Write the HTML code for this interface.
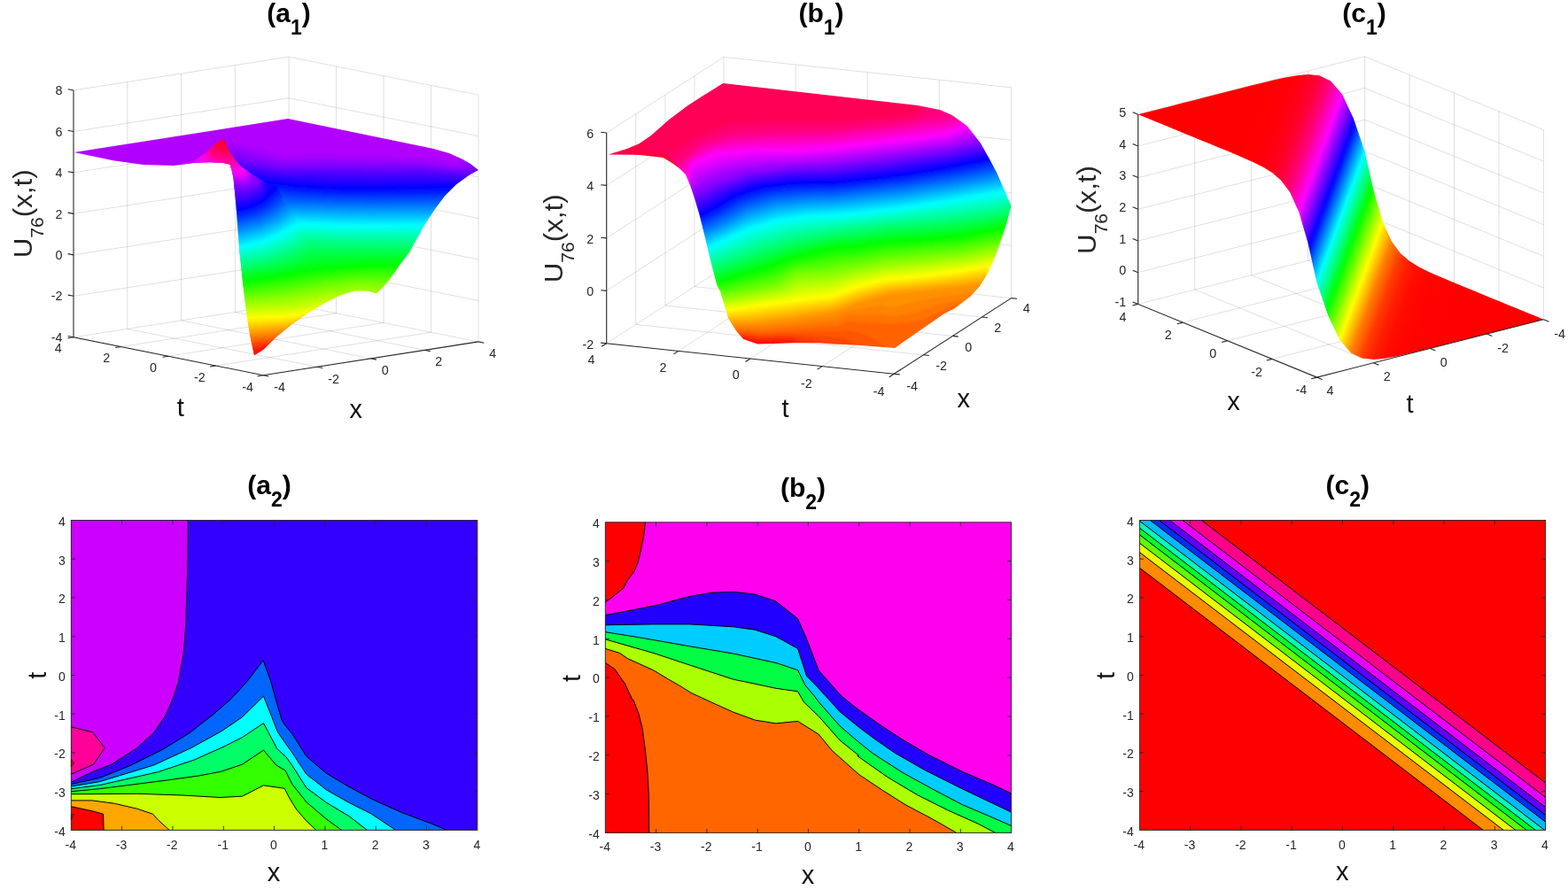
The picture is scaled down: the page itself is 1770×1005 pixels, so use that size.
<!DOCTYPE html>
<html lang="en"><head><meta charset="utf-8"><title>U76(x,t) surface and contour plots</title>
<style>html,body{margin:0;padding:0;background:#fff;}svg{display:block;font-family:'Liberation Sans', Arial, Helvetica, sans-serif;}</style></head>
<body>
<svg width="1770" height="1005" viewBox="0 0 1770 1005" role="img" aria-label="Surface and contour plots of U76(x,t)">
<rect width="1770" height="1005" fill="#fff"/>
<defs><mask id="a1s" maskUnits="userSpaceOnUse" x="76" y="126" width="472" height="282"><polygon points="83.7,171.9 325,134.1 489.5,167.9 507.6,173.3 522,179.7 531.1,185.1 540.1,192 529.3,198.1 514.8,208.6 502.1,221.2 491.3,235.7 480.5,252 471.4,268.2 462.4,284.5 451.5,298.8 438.9,316.9 425.3,331.4 413.6,328.6 400.9,328.6 384.6,333.2 366.6,342.2 348.5,353.1 330.4,365.7 312.3,380.2 297.9,394.6 287,401 282.5,380.2 278.9,358.5 274.4,322.3 270.7,286.2 271.1,293.6 268.9,264.6 266.2,228.5 263.5,201.4 262,193.7 259.6,185.7 251.6,184.1 235.7,183.3 218.2,184.1 195.9,186.9 161.7,185.9 127.8,181.2" fill="#fff"/></mask>
<filter id="a1sf" x="-5%" y="-5%" width="110%" height="110%"><feGaussianBlur stdDeviation="1.3"/></filter>
<mask id="a1p" maskUnits="userSpaceOnUse" x="190" y="150" width="200" height="258"><polygon points="252.4,157.1 259.6,171.4 264.4,179.3 271.5,187.3 283.5,196.1 299.4,205.6 312.3,211.3 325,233 337.6,252.9 348.5,273.7 375.6,302.8 366.6,325.9 348.5,345.8 336.7,355.8 312.3,377.5 294.2,396.8 287,401 282.5,380.2 278.9,358.5 274.4,322.3 270.7,286.2 271.1,293.6 268.9,264.6 266.2,228.5 263.5,201.4 262,193.7 259.6,185.7 251.6,184.1 235.7,183.3 218.2,184.1 195.9,186.9 203.9,185.7 218.2,181.7 230.9,173.8 242.1,163.4" fill="#fff"/></mask>
<filter id="a1pf" x="-5%" y="-5%" width="110%" height="110%"><feGaussianBlur stdDeviation="1.0"/></filter>
<mask id="b1s" maskUnits="userSpaceOnUse" x="680" y="88" width="468" height="312"><polygon points="686.6,174.4 707.8,168.1 721.4,162.2 734.9,152.9 755.3,135.1 775.6,119.8 792.5,108.8 816.3,94.1 1035.6,119 1061,124.1 1074.6,130 1091.5,141.9 1106.8,161.4 1118.6,182.5 1111.9,170 1125.4,195.4 1133.9,214.9 1141.5,232.7 1135.6,254.7 1128.8,275.1 1122.4,292 1115.8,307.3 1105.8,323.4 1094.9,335.3 1078,348 1066.1,353.9 1010.2,392.9 967.8,389.8 925.4,387.8 940,387.3 894.2,387.3 873.9,388.1 855.3,388.6 839.2,383.1 831.5,374.2 822.2,359.8 818,345.4 812.9,328.5 809.5,322.5 802.7,297.1 795.9,268.3 789.2,241.2 784.1,224.2 779,209 773.9,197.1 767.1,190.3 758.6,183.6 750.2,177.6 731.5,175.6 716.3,174.7" fill="#fff"/></mask>
<filter id="b1sf" x="-5%" y="-5%" width="110%" height="110%"><feGaussianBlur stdDeviation="1.3"/></filter>
<linearGradient id="c1g" gradientUnits="userSpaceOnUse" x1="1274.3" y1="157.6" x2="1752.8" y2="332.3"><stop offset="0.0000" stop-color="#ff0000"/><stop offset="0.0642" stop-color="#ff0000"/><stop offset="0.1284" stop-color="#ff0000"/><stop offset="0.1926" stop-color="#ff0000"/><stop offset="0.2570" stop-color="#ff0003"/><stop offset="0.2598" stop-color="#ff0003"/><stop offset="0.2627" stop-color="#ff0003"/><stop offset="0.2656" stop-color="#ff0004"/><stop offset="0.2685" stop-color="#ff0004"/><stop offset="0.2714" stop-color="#ff0005"/><stop offset="0.2743" stop-color="#ff0005"/><stop offset="0.2772" stop-color="#ff0005"/><stop offset="0.2801" stop-color="#ff0006"/><stop offset="0.2830" stop-color="#ff0007"/><stop offset="0.2860" stop-color="#ff0008"/><stop offset="0.2889" stop-color="#ff0009"/><stop offset="0.2919" stop-color="#ff000a"/><stop offset="0.2948" stop-color="#ff000b"/><stop offset="0.2977" stop-color="#ff000c"/><stop offset="0.3007" stop-color="#ff000c"/><stop offset="0.3037" stop-color="#ff000e"/><stop offset="0.3068" stop-color="#ff0010"/><stop offset="0.3098" stop-color="#ff0013"/><stop offset="0.3128" stop-color="#ff0015"/><stop offset="0.3159" stop-color="#ff0017"/><stop offset="0.3189" stop-color="#ff0019"/><stop offset="0.3220" stop-color="#ff001b"/><stop offset="0.3251" stop-color="#ff001e"/><stop offset="0.3284" stop-color="#ff0022"/><stop offset="0.3316" stop-color="#ff0026"/><stop offset="0.3349" stop-color="#ff002b"/><stop offset="0.3382" stop-color="#ff002f"/><stop offset="0.3414" stop-color="#ff0033"/><stop offset="0.3447" stop-color="#ff0038"/><stop offset="0.3479" stop-color="#ff003c"/><stop offset="0.3516" stop-color="#ff0045"/><stop offset="0.3553" stop-color="#ff004e"/><stop offset="0.3590" stop-color="#ff0057"/><stop offset="0.3627" stop-color="#ff0060"/><stop offset="0.3664" stop-color="#ff0069"/><stop offset="0.3701" stop-color="#ff0072"/><stop offset="0.3738" stop-color="#ff007b"/><stop offset="0.3779" stop-color="#ff0088"/><stop offset="0.3824" stop-color="#ff0099"/><stop offset="0.3869" stop-color="#ff00ab"/><stop offset="0.3914" stop-color="#ff00bc"/><stop offset="0.3959" stop-color="#ff00cd"/><stop offset="0.4003" stop-color="#ff00de"/><stop offset="0.4048" stop-color="#ff00f0"/><stop offset="0.4093" stop-color="#fd00ff"/><stop offset="0.4149" stop-color="#e000ff"/><stop offset="0.4205" stop-color="#c300ff"/><stop offset="0.4261" stop-color="#a600ff"/><stop offset="0.4316" stop-color="#8900ff"/><stop offset="0.4372" stop-color="#6c00ff"/><stop offset="0.4428" stop-color="#4f00ff"/><stop offset="0.4484" stop-color="#3200ff"/><stop offset="0.4544" stop-color="#1000ff"/><stop offset="0.4610" stop-color="#0016ff"/><stop offset="0.4675" stop-color="#003dff"/><stop offset="0.4740" stop-color="#0064ff"/><stop offset="0.4805" stop-color="#008bff"/><stop offset="0.4870" stop-color="#00b1ff"/><stop offset="0.4935" stop-color="#00d8ff"/><stop offset="0.5000" stop-color="#00ffff"/><stop offset="0.5065" stop-color="#00ffd8"/><stop offset="0.5130" stop-color="#00ffb1"/><stop offset="0.5195" stop-color="#00ff8b"/><stop offset="0.5260" stop-color="#00ff64"/><stop offset="0.5325" stop-color="#00ff3d"/><stop offset="0.5390" stop-color="#00ff16"/><stop offset="0.5456" stop-color="#10ff00"/><stop offset="0.5516" stop-color="#32ff00"/><stop offset="0.5572" stop-color="#4fff00"/><stop offset="0.5628" stop-color="#6cff00"/><stop offset="0.5684" stop-color="#89ff00"/><stop offset="0.5739" stop-color="#a6ff00"/><stop offset="0.5795" stop-color="#c3ff00"/><stop offset="0.5851" stop-color="#e0ff00"/><stop offset="0.5907" stop-color="#fdff00"/><stop offset="0.5952" stop-color="#fff000"/><stop offset="0.5997" stop-color="#ffde00"/><stop offset="0.6041" stop-color="#ffcd00"/><stop offset="0.6086" stop-color="#ffbc00"/><stop offset="0.6131" stop-color="#ffab00"/><stop offset="0.6176" stop-color="#ff9900"/><stop offset="0.6221" stop-color="#ff8800"/><stop offset="0.6262" stop-color="#ff7b00"/><stop offset="0.6299" stop-color="#ff7200"/><stop offset="0.6336" stop-color="#ff6900"/><stop offset="0.6373" stop-color="#ff6000"/><stop offset="0.6410" stop-color="#ff5700"/><stop offset="0.6447" stop-color="#ff4e00"/><stop offset="0.6484" stop-color="#ff4500"/><stop offset="0.6521" stop-color="#ff3c00"/><stop offset="0.6553" stop-color="#ff3800"/><stop offset="0.6586" stop-color="#ff3300"/><stop offset="0.6618" stop-color="#ff2f00"/><stop offset="0.6651" stop-color="#ff2b00"/><stop offset="0.6684" stop-color="#ff2600"/><stop offset="0.6716" stop-color="#ff2200"/><stop offset="0.6749" stop-color="#ff1e00"/><stop offset="0.6780" stop-color="#ff1b00"/><stop offset="0.6811" stop-color="#ff1900"/><stop offset="0.6841" stop-color="#ff1700"/><stop offset="0.6872" stop-color="#ff1500"/><stop offset="0.6902" stop-color="#ff1300"/><stop offset="0.6932" stop-color="#ff1000"/><stop offset="0.6963" stop-color="#ff0e00"/><stop offset="0.6993" stop-color="#ff0c00"/><stop offset="0.7023" stop-color="#ff0c00"/><stop offset="0.7052" stop-color="#ff0b00"/><stop offset="0.7081" stop-color="#ff0a00"/><stop offset="0.7111" stop-color="#ff0900"/><stop offset="0.7140" stop-color="#ff0800"/><stop offset="0.7170" stop-color="#ff0700"/><stop offset="0.7199" stop-color="#ff0600"/><stop offset="0.7228" stop-color="#ff0500"/><stop offset="0.7257" stop-color="#ff0500"/><stop offset="0.7286" stop-color="#ff0500"/><stop offset="0.7315" stop-color="#ff0400"/><stop offset="0.7344" stop-color="#ff0400"/><stop offset="0.7373" stop-color="#ff0300"/><stop offset="0.7402" stop-color="#ff0300"/><stop offset="0.7430" stop-color="#ff0300"/><stop offset="0.8074" stop-color="#ff0000"/><stop offset="0.8716" stop-color="#ff0000"/><stop offset="0.9358" stop-color="#ff0000"/><stop offset="1.0000" stop-color="#ff0000"/></linearGradient></defs>
<g id="a1">
<line x1="143.8" y1="371.4" x2="357.8" y2="414.2" stroke="#000" stroke-opacity="0.14" stroke-width="0.9"/>
<line x1="204.6" y1="361.9" x2="418.6" y2="404.8" stroke="#000" stroke-opacity="0.14" stroke-width="0.9"/>
<line x1="265.3" y1="352.4" x2="479.3" y2="395.3" stroke="#000" stroke-opacity="0.14" stroke-width="0.9"/>
<line x1="326.1" y1="343" x2="540" y2="385.9" stroke="#000" stroke-opacity="0.14" stroke-width="0.9"/>
<line x1="83" y1="380.8" x2="326.1" y2="343" stroke="#000" stroke-opacity="0.14" stroke-width="0.9"/>
<line x1="136.6" y1="391.5" x2="379.6" y2="353.7" stroke="#000" stroke-opacity="0.14" stroke-width="0.9"/>
<line x1="190.1" y1="402.2" x2="433.1" y2="364.4" stroke="#000" stroke-opacity="0.14" stroke-width="0.9"/>
<line x1="243.6" y1="413" x2="486.6" y2="375.2" stroke="#000" stroke-opacity="0.14" stroke-width="0.9"/>
<line x1="143.8" y1="371.4" x2="143.8" y2="92.6" stroke="#000" stroke-opacity="0.14" stroke-width="0.9"/>
<line x1="204.6" y1="361.9" x2="204.6" y2="83.1" stroke="#000" stroke-opacity="0.14" stroke-width="0.9"/>
<line x1="265.3" y1="352.4" x2="265.3" y2="73.6" stroke="#000" stroke-opacity="0.14" stroke-width="0.9"/>
<line x1="326.1" y1="343" x2="326.1" y2="64.2" stroke="#000" stroke-opacity="0.14" stroke-width="0.9"/>
<line x1="83" y1="334.3" x2="326.1" y2="296.5" stroke="#000" stroke-opacity="0.14" stroke-width="0.9"/>
<line x1="83" y1="287.9" x2="326.1" y2="250.1" stroke="#000" stroke-opacity="0.14" stroke-width="0.9"/>
<line x1="83" y1="241.4" x2="326.1" y2="203.6" stroke="#000" stroke-opacity="0.14" stroke-width="0.9"/>
<line x1="83" y1="194.9" x2="326.1" y2="157.1" stroke="#000" stroke-opacity="0.14" stroke-width="0.9"/>
<line x1="83" y1="148.5" x2="326.1" y2="110.7" stroke="#000" stroke-opacity="0.14" stroke-width="0.9"/>
<line x1="83" y1="102" x2="326.1" y2="64.2" stroke="#000" stroke-opacity="0.14" stroke-width="0.9"/>
<line x1="379.6" y1="353.7" x2="379.6" y2="74.9" stroke="#000" stroke-opacity="0.14" stroke-width="0.9"/>
<line x1="433.1" y1="364.4" x2="433.1" y2="85.6" stroke="#000" stroke-opacity="0.14" stroke-width="0.9"/>
<line x1="486.6" y1="375.2" x2="486.6" y2="96.4" stroke="#000" stroke-opacity="0.14" stroke-width="0.9"/>
<line x1="540" y1="385.9" x2="540" y2="107.1" stroke="#000" stroke-opacity="0.14" stroke-width="0.9"/>
<line x1="326.1" y1="296.5" x2="540" y2="339.4" stroke="#000" stroke-opacity="0.14" stroke-width="0.9"/>
<line x1="326.1" y1="250.1" x2="540" y2="293" stroke="#000" stroke-opacity="0.14" stroke-width="0.9"/>
<line x1="326.1" y1="203.6" x2="540" y2="246.5" stroke="#000" stroke-opacity="0.14" stroke-width="0.9"/>
<line x1="326.1" y1="157.1" x2="540" y2="200" stroke="#000" stroke-opacity="0.14" stroke-width="0.9"/>
<line x1="326.1" y1="110.7" x2="540" y2="153.6" stroke="#000" stroke-opacity="0.14" stroke-width="0.9"/>
<line x1="326.1" y1="64.2" x2="540" y2="107.1" stroke="#000" stroke-opacity="0.14" stroke-width="0.9"/>
<g mask="url(#a1s)">
<g filter="url(#a1sf)">
<rect x="76" y="126" width="472" height="282" fill="#ff0600"/>
<path fill="#ff1300" fill-rule="evenodd" d="M76.2 126.2L76.2 407.8L208.8 407.8L211.8 406.2L214.8 406.2L216.8 405.2L219.8 405.2L221.8 404.2L224.8 404.2L226.8 403.2L229.8 403.2L231.8 402.2L234.8 402.2L236.8 401.2L239.8 401.2L241.8 400.2L244.8 400.2L246.8 399.2L249.8 399.2L251.8 398.2L254.8 398.2L256.8 397.2L259.8 397.2L261.8 396.2L264.8 396.2L266.8 395.2L269.8 395.2L271.8 394.2L274.8 394.2L276.8 393.2L278.2 393.2L284.8 397.8L287.2 398.2L293.2 395.2L298.2 394.8L303.2 392.8L305.8 392.8L310.2 395.8L314.2 399.8L316.2 400.8L322.8 407.8L547.8 407.8L547.8 126.2Z"/>
<path fill="#ff1f00" fill-rule="evenodd" d="M76.2 126.2L76.2 407.8L205.8 407.8L206.8 406.8L209.2 406.8L211.8 405.8L214.2 405.8L216.8 404.8L219.2 404.8L221.8 403.8L224.2 403.8L226.8 402.8L229.2 402.8L231.8 401.8L234.2 401.8L236.8 400.8L239.2 400.8L241.8 399.8L244.2 399.8L246.8 398.8L249.2 398.8L251.8 397.8L254.2 397.8L256.8 396.8L259.2 396.8L261.8 395.8L274.2 393.8L276.2 392.8L279.2 392.8L283.8 395.8L286.8 396.2L293.2 393.2L299.2 392.8L302.2 391.8L305.2 391.8L309.8 394.8L313.2 398.2L315.8 399.8L323.2 407.8L547.8 407.8L547.8 126.2Z"/>
<path fill="#ff2c00" fill-rule="evenodd" d="M76.2 126.2L76.2 407.8L204.8 407.8L207.2 406.2L209.8 406.2L212.2 405.2L214.8 405.2L217.2 404.2L219.8 404.2L222.2 403.2L224.8 403.2L227.2 402.2L229.8 402.2L232.2 401.2L234.8 401.2L237.2 400.2L239.8 400.2L242.2 399.2L244.8 399.2L247.2 398.2L249.8 398.2L252.2 397.2L254.8 397.2L257.2 396.2L259.8 396.2L262.2 395.2L274.8 393.2L276.8 392.2L280.2 392.2L282.8 393.8L286.2 394.2L291.8 391.8L301.2 390.8L301.8 390.2L304.8 390.2L307.2 392.8L311.8 395.8L315.2 399.2L317.8 400.8L323.2 406.2L323.8 407.8L547.8 407.8L547.8 126.2Z"/>
<path fill="#ff3800" fill-rule="evenodd" d="M76.2 126.2L76.2 407.8L203.2 407.8L205.8 406.2L208.2 406.2L210.8 405.2L213.2 405.2L215.8 404.2L218.2 404.2L220.8 403.2L223.2 403.2L225.8 402.2L228.2 402.2L230.8 401.2L233.2 401.2L235.8 400.2L238.2 400.2L240.8 399.2L243.2 399.2L245.8 398.2L248.2 398.2L250.8 397.2L253.2 397.2L255.8 396.2L258.2 396.2L260.8 395.2L273.2 393.2L280.2 391.2L283.2 392.2L285.8 392.2L292.2 389.8L296.2 389.8L305.8 388.2L306.8 389.2L306.2 390.2L306.8 391.8L317.8 400.2L323.2 405.8L324.2 407.8L547.8 407.8L547.8 126.2Z"/>
<path fill="#ff4500" fill-rule="evenodd" d="M76.2 126.2L76.2 407.8L201.2 407.8L206.2 405.8L209.2 405.8L211.2 404.8L214.2 404.8L216.2 403.8L219.2 403.8L221.2 402.8L224.2 402.8L226.2 401.8L229.2 401.8L231.2 400.8L234.2 400.8L236.2 399.8L239.2 399.8L241.2 398.8L244.2 398.8L246.2 397.8L249.2 397.8L251.2 396.8L254.2 396.8L256.2 395.8L259.2 395.8L261.2 394.8L264.2 394.8L266.2 393.8L274.2 392.8L276.2 391.8L277.8 391.8L280.2 389.8L285.2 390.2L290.8 388.2L298.8 387.8L306.8 386.2L310.8 386.2L311.2 386.8L307.2 390.2L307.2 391.2L308.2 392.8L316.2 398.8L324.8 407.8L547.8 407.8L547.8 126.2Z"/>
<path fill="#ff5200" fill-rule="evenodd" d="M76.2 126.2L76.2 407.8L200.2 407.8L201.2 406.8L203.2 406.8L207.2 405.2L209.8 405.2L212.2 404.2L214.8 404.2L217.2 403.2L219.8 403.2L222.2 402.2L224.8 402.2L227.2 401.2L229.8 401.2L232.2 400.2L234.8 400.2L237.2 399.2L239.8 399.2L242.2 398.2L244.8 398.2L247.2 397.2L249.8 397.2L252.2 396.2L254.8 396.2L257.2 395.2L259.8 395.2L262.2 394.2L274.8 392.2L278.2 390.8L278.2 388.2L279.2 387.2L279.8 387.8L284.8 388.2L291.8 386.2L297.2 386.2L297.8 385.8L305.2 385.2L312.2 383.8L315.8 383.8L316.2 384.8L314.8 386.2L308.8 389.8L307.8 391.2L314.8 397.8L316.8 398.8L325.2 407.8L547.8 407.8L547.8 126.2Z"/>
<path fill="#ff5e00" fill-rule="evenodd" d="M76.2 126.2L76.2 407.8L199.8 407.8L201.2 406.2L208.2 405.2L210.2 404.2L213.2 404.2L215.2 403.2L218.2 403.2L220.2 402.2L223.2 402.2L225.2 401.2L228.2 401.2L230.2 400.2L233.2 400.2L235.2 399.2L238.2 399.2L240.2 398.2L243.2 398.2L245.2 397.2L248.2 397.2L250.2 396.2L253.2 396.2L255.2 395.2L258.2 395.2L260.2 394.2L263.2 394.2L265.2 393.2L273.2 392.2L277.2 390.8L277.2 389.2L275.2 386.2L275.8 385.2L279.8 385.2L284.2 386.2L290.2 384.8L295.2 384.8L295.8 384.2L307.8 383.2L317.8 381.2L320.8 381.2L321.2 382.2L314.8 387.2L309.8 389.8L308.8 390.8L308.8 391.8L314.8 397.2L316.8 398.2L325.2 406.8L325.2 407.8L547.8 407.8L547.8 126.2Z"/>
<path fill="#ff6b00" fill-rule="evenodd" d="M76.2 126.2L76.2 407.8L199.2 407.8L201.2 405.8L203.8 405.8L205.8 404.8L208.8 404.8L210.8 403.8L213.8 403.8L215.8 402.8L218.8 402.8L220.8 401.8L223.8 401.8L225.8 400.8L228.8 400.8L230.8 399.8L233.8 399.8L235.8 398.8L238.8 398.8L240.8 397.8L243.8 397.8L245.8 396.8L248.8 396.8L250.8 395.8L253.8 395.8L255.8 394.8L258.8 394.8L260.8 393.8L263.8 393.8L265.8 392.8L268.8 392.8L270.8 391.8L275.2 391.2L276.2 390.8L276.2 389.2L272.8 384.2L273.8 382.8L276.8 382.8L283.8 384.2L287.8 383.2L306.2 381.8L306.8 381.2L313.2 380.8L323.2 378.8L326.2 378.8L326.8 379.2L324.2 382.2L310.8 389.8L309.2 391.8L314.8 396.8L317.2 398.2L325.8 406.8L325.8 407.8L547.8 407.8L547.8 126.2Z"/>
<path fill="#ff7700" fill-rule="evenodd" d="M76.2 126.2L76.2 407.8L198.8 407.8L200.2 405.8L203.8 405.2L205.8 404.2L208.8 404.2L210.8 403.2L213.8 403.2L215.8 402.2L218.8 402.2L220.8 401.2L223.8 401.2L225.8 400.2L228.8 400.2L230.8 399.2L233.8 399.2L235.8 398.2L238.8 398.2L240.8 397.2L243.8 397.2L245.8 396.2L248.8 396.2L250.8 395.2L253.8 395.2L255.8 394.2L258.8 394.2L260.8 393.2L263.8 393.2L265.8 392.2L273.8 391.2L275.2 390.2L275.2 389.2L271.2 383.8L270.8 382.2L271.2 380.2L274.2 380.2L283.8 382.2L284.2 381.8L296.2 381.2L296.8 380.8L308.8 379.8L309.2 379.2L312.2 379.2L312.8 378.8L318.8 378.2L325.2 376.8L328.8 376.8L329.2 376.2L330.8 376.2L331.8 377.2L329.2 380.2L310.2 391.2L311.8 393.2L316.2 397.2L318.2 398.2L325.8 405.8L326.2 407.8L547.8 407.8L547.8 126.2Z"/>
<path fill="#ff8400" fill-rule="evenodd" d="M76.2 126.2L76.2 407.8L197.2 407.8L197.2 406.8L199.8 404.2L206.8 403.2L209.2 402.2L211.8 402.2L214.2 401.2L216.8 401.2L219.2 400.2L221.8 400.2L224.2 399.2L226.8 399.2L229.2 398.2L231.8 398.2L234.2 397.2L236.8 397.2L239.2 396.2L241.8 396.2L244.2 395.2L246.8 395.2L249.2 394.2L251.8 394.2L254.2 393.2L256.8 393.2L259.2 392.2L261.8 392.2L264.2 391.2L266.8 391.2L269.2 390.2L271.8 390.2L273.2 389.2L270.8 386.8L266.2 379.2L267.2 377.8L271.2 377.8L279.8 379.8L284.8 380.2L285.2 379.8L298.8 379.2L299.2 378.8L310.8 377.8L311.2 377.2L317.8 376.8L318.2 376.2L324.2 375.8L331.2 374.2L333.8 374.2L334.2 375.2L333.2 376.2L332.2 380.2L330.8 381.8L312.8 391.2L312.8 392.2L315.8 395.2L320.2 398.2L327.2 405.8L327.8 407.8L547.8 407.8L547.8 126.2Z"/>
<path fill="#ff9000" fill-rule="evenodd" d="M76.2 126.2L76.2 407.8L93.2 407.8L96.2 406.2L99.2 406.2L101.2 405.2L105.2 405.2L107.2 404.2L110.2 404.2L112.2 403.2L115.2 403.2L117.2 402.2L120.2 402.2L122.2 401.2L125.2 401.2L127.2 400.2L131.2 400.2L133.2 399.2L136.2 399.2L138.2 398.2L141.2 398.2L143.2 397.2L146.2 397.2L148.2 396.2L152.2 396.2L154.2 395.2L157.2 395.2L159.2 394.2L162.2 394.2L164.2 393.2L167.2 393.2L169.2 392.2L173.2 392.2L175.2 391.2L178.2 391.2L180.2 390.2L183.2 390.2L185.2 389.2L188.2 389.2L190.2 388.2L193.2 388.2L195.2 387.2L199.2 387.2L201.2 386.2L204.2 386.2L206.2 385.2L209.2 385.2L211.2 384.2L214.2 384.2L216.2 383.2L220.2 383.2L222.2 382.2L225.2 382.2L227.2 381.2L230.2 381.2L232.2 380.2L235.2 380.2L237.2 379.2L240.2 379.2L242.2 378.2L246.2 378.2L248.2 377.2L251.2 377.2L253.2 376.2L260.8 375.2L262.2 374.2L264.8 374.2L266.8 375.2L284.8 378.2L285.2 377.8L293.2 377.8L293.8 377.2L299.8 377.2L304.2 376.2L312.8 375.8L313.2 375.2L323.2 374.2L323.8 373.8L329.8 373.2L338.2 371.8L338.8 372.8L333.8 376.8L333.2 377.8L333.8 379.8L336.8 382.2L337.8 384.2L345.8 392.2L346.8 394.2L353.8 401.2L354.8 403.2L358.8 407.8L547.8 407.8L547.8 126.2Z"/>
<path fill="#ff9d00" fill-rule="evenodd" d="M76.2 126.2L76.2 407.8L89.8 407.8L91.2 406.8L98.8 405.8L100.8 404.8L104.8 404.8L106.8 403.8L109.8 403.8L111.8 402.8L114.8 402.8L116.8 401.8L119.8 401.8L121.8 400.8L124.8 400.8L126.8 399.8L130.8 399.8L132.8 398.8L135.8 398.8L137.8 397.8L140.8 397.8L142.8 396.8L145.8 396.8L147.8 395.8L151.8 395.8L153.8 394.8L156.8 394.8L158.8 393.8L161.8 393.8L163.8 392.8L166.8 392.8L168.8 391.8L172.8 391.8L174.8 390.8L177.8 390.8L179.8 389.8L182.8 389.8L184.8 388.8L187.8 388.8L189.8 387.8L192.8 387.8L194.8 386.8L198.8 386.8L200.8 385.8L203.8 385.8L205.8 384.8L208.8 384.8L210.8 383.8L213.8 383.8L215.8 382.8L219.8 382.8L221.8 381.8L224.8 381.8L226.8 380.8L229.8 380.8L231.8 379.8L234.8 379.8L236.8 378.8L239.8 378.8L241.8 377.8L245.8 377.8L247.8 376.8L255.8 375.8L257.8 374.8L260.2 374.8L263.2 372.8L266.2 372.8L283.8 376.2L284.2 375.8L292.8 375.8L293.2 375.2L299.8 375.2L300.2 374.8L304.2 374.8L309.2 373.8L314.2 373.8L320.8 372.2L328.2 371.8L338.8 369.8L343.2 369.8L343.8 370.2L341.2 372.8L335.8 375.8L333.8 377.8L333.8 378.8L338.2 383.2L339.2 385.2L347.2 393.2L348.2 395.2L355.2 402.2L359.2 407.8L547.8 407.8L547.8 126.2Z"/>
<path fill="#ffa900" fill-rule="evenodd" d="M76.2 126.2L76.2 407.8L88.8 407.8L89.8 406.8L101.8 404.2L104.8 404.2L127.8 399.2L130.8 399.2L195.8 386.2L198.8 386.2L216.8 382.2L219.8 382.2L242.8 377.2L245.8 377.2L260.8 374.2L263.8 370.8L268.8 371.2L279.2 373.8L292.2 373.8L292.8 373.2L299.8 373.2L300.2 372.8L304.8 372.8L305.2 372.2L309.8 372.2L310.2 371.8L316.2 371.8L324.8 369.8L333.8 369.2L344.2 367.2L348.2 367.2L348.8 368.2L344.8 371.2L335.8 376.2L334.2 377.8L334.2 378.8L347.8 393.2L349.2 395.8L355.8 402.2L359.8 407.8L547.8 407.8L547.8 126.2Z"/>
<path fill="#ffb600" fill-rule="evenodd" d="M76.2 126.2L76.2 407.8L87.8 407.8L89.8 406.2L92.2 406.2L99.8 404.2L103.2 404.2L105.8 403.2L108.2 403.2L110.8 402.2L113.2 402.2L125.8 399.2L129.2 399.2L131.8 398.2L134.2 398.2L146.8 395.2L150.2 395.2L152.8 394.2L155.2 394.2L167.8 391.2L171.2 391.2L173.8 390.2L176.2 390.2L178.8 389.2L181.2 389.2L193.8 386.2L197.2 386.2L199.8 385.2L202.2 385.2L214.8 382.2L218.2 382.2L220.8 381.2L223.2 381.2L225.8 380.2L228.2 380.2L240.8 377.2L244.2 377.2L246.8 376.2L259.2 374.2L261.8 372.8L261.2 369.2L262.2 368.2L278.8 371.8L291.8 371.8L292.2 371.2L299.8 371.2L300.2 370.8L305.2 370.8L305.8 370.2L317.8 369.8L328.2 367.2L338.8 366.8L339.2 366.2L342.8 366.2L349.8 364.8L352.2 364.8L352.8 365.2L351.2 367.8L336.2 376.2L334.8 377.8L334.8 378.8L347.8 392.8L349.2 395.2L355.8 401.8L360.2 407.8L547.8 407.8L547.8 126.2Z"/>
<path fill="#ffc200" fill-rule="evenodd" d="M76.2 126.2L76.2 407.8L85.2 407.8L90.2 405.8L93.2 405.8L95.2 404.8L98.2 404.8L100.2 403.8L104.2 403.8L106.2 402.8L109.2 402.8L111.2 401.8L114.2 401.8L116.2 400.8L119.2 400.8L121.2 399.8L124.2 399.8L126.2 398.8L130.2 398.8L132.2 397.8L135.2 397.8L137.2 396.8L140.2 396.8L142.2 395.8L145.2 395.8L147.2 394.8L151.2 394.8L153.2 393.8L156.2 393.8L158.2 392.8L161.2 392.8L163.2 391.8L166.2 391.8L168.2 390.8L172.2 390.8L174.2 389.8L177.2 389.8L179.2 388.8L182.2 388.8L184.2 387.8L187.2 387.8L189.2 386.8L192.2 386.8L194.2 385.8L198.2 385.8L200.2 384.8L203.2 384.8L205.2 383.8L208.2 383.8L210.2 382.8L213.2 382.8L215.2 381.8L219.2 381.8L221.2 380.8L224.2 380.8L226.2 379.8L229.2 379.8L231.2 378.8L234.2 378.8L236.2 377.8L239.2 377.8L241.2 376.8L245.2 376.8L247.2 375.8L250.2 375.8L252.2 374.8L259.8 373.8L261.2 372.8L261.2 371.2L258.8 367.2L259.8 365.8L278.8 369.8L291.2 369.8L291.8 369.2L299.8 369.2L300.2 368.8L305.8 368.8L306.2 368.2L319.2 367.8L331.8 364.8L343.8 364.2L344.2 363.8L348.2 363.8L352.2 362.8L356.2 362.8L356.8 363.2L355.2 365.2L349.2 369.8L336.8 376.2L335.2 377.8L335.2 378.8L339.2 382.8L340.2 384.8L348.2 392.8L349.2 394.8L356.2 401.8L360.8 407.8L547.8 407.8L547.8 126.2Z"/>
<path fill="#ffcf00" fill-rule="evenodd" d="M76.2 126.2L76.2 407.8L84.8 407.8L85.2 406.8L87.2 406.8L89.2 405.8L99.2 403.8L102.2 403.8L125.2 398.8L128.2 398.8L146.2 394.8L149.2 394.8L167.2 390.8L170.2 390.8L193.2 385.8L196.2 385.8L214.2 381.8L217.2 381.8L240.2 376.8L243.2 376.8L260.2 373.2L260.8 371.2L256.8 365.8L257.2 363.8L265.8 364.8L278.8 367.8L290.2 367.8L290.8 367.2L299.8 367.2L300.2 366.8L306.8 366.8L307.2 366.2L317.2 366.2L317.8 365.8L326.8 364.8L335.2 362.2L348.2 361.8L348.8 361.2L353.2 361.2L357.8 360.2L361.2 360.2L361.8 360.8L359.2 363.2L357.8 363.8L349.2 370.2L335.8 377.2L335.8 378.8L339.2 382.2L340.2 384.2L348.2 392.2L349.2 394.2L356.2 401.2L357.2 403.2L361.2 407.8L547.8 407.8L547.8 126.2Z"/>
<path fill="#ffdc00" fill-rule="evenodd" d="M76.2 126.2L76.2 407.8L83.8 407.8L85.8 406.2L87.8 406.2L89.8 405.2L92.8 405.2L94.8 404.2L97.8 404.2L99.8 403.2L103.8 403.2L105.8 402.2L108.8 402.2L110.8 401.2L113.8 401.2L115.8 400.2L118.8 400.2L120.8 399.2L123.8 399.2L125.8 398.2L129.8 398.2L131.8 397.2L134.8 397.2L136.8 396.2L139.8 396.2L141.8 395.2L144.8 395.2L146.8 394.2L150.8 394.2L152.8 393.2L155.8 393.2L157.8 392.2L160.8 392.2L162.8 391.2L165.8 391.2L167.8 390.2L171.8 390.2L173.8 389.2L176.8 389.2L178.8 388.2L181.8 388.2L183.8 387.2L186.8 387.2L188.8 386.2L191.8 386.2L193.8 385.2L197.8 385.2L199.8 384.2L202.8 384.2L204.8 383.2L207.8 383.2L209.8 382.2L212.8 382.2L214.8 381.2L218.8 381.2L220.8 380.2L223.8 380.2L225.8 379.2L228.8 379.2L230.8 378.2L233.8 378.2L235.8 377.2L238.8 377.2L240.8 376.2L244.8 376.2L246.8 375.2L249.8 375.2L251.8 374.2L259.2 373.2L260.2 372.8L260.2 371.2L256.8 367.2L254.8 363.2L255.2 361.2L257.8 361.2L278.2 365.8L289.8 365.8L290.2 365.2L299.8 365.2L300.2 364.8L308.2 364.8L308.8 364.2L319.2 364.2L319.8 363.8L328.2 362.8L341.8 359.2L352.2 359.2L352.8 358.8L358.8 358.8L362.8 357.8L366.2 357.8L366.8 358.2L365.8 359.8L355.8 365.8L351.8 369.2L341.8 374.2L336.2 377.8L336.2 378.8L339.2 381.8L340.2 383.8L356.2 400.8L357.2 402.8L361.2 406.8L361.2 407.8L547.8 407.8L547.8 126.2Z"/>
<path fill="#ffe800" fill-rule="evenodd" d="M76.2 126.2L76.2 407.8L83.2 407.8L85.8 405.8L88.2 405.8L90.2 404.8L92.8 404.8L100.2 402.8L103.8 402.8L106.2 401.8L108.8 401.8L111.2 400.8L113.8 400.8L126.2 397.8L129.8 397.8L132.2 396.8L134.8 396.8L147.2 393.8L150.8 393.8L153.2 392.8L155.8 392.8L168.2 389.8L171.8 389.8L174.2 388.8L176.8 388.8L179.2 387.8L181.8 387.8L194.2 384.8L197.8 384.8L200.2 383.8L202.8 383.8L215.2 380.8L218.8 380.8L221.2 379.8L223.8 379.8L226.2 378.8L228.8 378.8L241.2 375.8L244.8 375.8L247.2 374.8L249.8 374.8L252.2 373.8L259.2 372.8L259.8 371.2L256.8 368.2L254.8 364.2L251.8 360.2L252.8 358.8L257.8 359.2L278.2 363.8L288.8 363.8L289.2 363.2L320.8 362.2L321.2 361.8L330.2 360.8L345.2 356.8L363.8 356.2L368.2 355.2L371.2 355.2L371.8 355.8L370.2 357.8L361.2 363.2L357.8 364.8L351.8 369.8L336.8 377.8L336.8 378.8L339.8 381.8L340.8 383.8L356.8 400.8L357.8 402.8L361.2 406.2L361.8 407.8L547.8 407.8L547.8 126.2Z"/>
<path fill="#fff500" fill-rule="evenodd" d="M76.2 126.2L76.2 407.8L82.8 407.8L84.2 405.8L90.2 404.2L92.8 404.2L100.2 402.2L103.8 402.2L106.2 401.2L108.8 401.2L111.2 400.2L113.8 400.2L126.2 397.2L129.8 397.2L132.2 396.2L134.8 396.2L147.2 393.2L150.8 393.2L153.2 392.2L155.8 392.2L168.2 389.2L171.8 389.2L174.2 388.2L176.8 388.2L179.2 387.2L181.8 387.2L194.2 384.2L197.8 384.2L200.2 383.2L202.8 383.2L215.2 380.2L218.8 380.2L221.2 379.2L223.8 379.2L226.2 378.2L228.8 378.2L231.2 377.2L233.8 377.2L236.2 376.2L238.8 376.2L241.2 375.2L244.8 375.2L247.2 374.2L249.8 374.2L252.2 373.2L258.8 372.2L257.8 369.8L255.2 367.2L253.8 364.2L250.2 360.2L249.8 357.2L250.8 356.2L278.2 361.8L287.8 361.8L288.2 361.2L322.2 360.2L322.8 359.8L334.2 358.2L348.2 354.2L368.2 353.8L368.8 353.2L373.2 353.2L373.8 352.8L376.2 352.8L376.8 353.2L374.8 355.8L357.8 365.2L352.8 369.8L339.8 376.2L337.2 378.2L342.8 385.2L346.8 388.8L351.8 395.2L354.8 397.8L362.2 406.8L362.2 407.8L547.8 407.8L547.8 126.2Z"/>
<path fill="#fdff00" fill-rule="evenodd" d="M76.2 126.2L76.2 407.8L81.8 407.8L82.2 406.2L84.2 404.8L88.2 404.2L90.8 403.2L93.2 403.2L95.8 402.2L98.2 402.2L100.8 401.2L104.2 401.2L106.8 400.2L109.2 400.2L111.8 399.2L114.2 399.2L126.8 396.2L130.2 396.2L132.8 395.2L135.2 395.2L147.8 392.2L151.2 392.2L153.8 391.2L156.2 391.2L168.8 388.2L172.2 388.2L174.8 387.2L177.2 387.2L179.8 386.2L182.2 386.2L194.8 383.2L198.2 383.2L200.8 382.2L203.2 382.2L215.8 379.2L219.2 379.2L221.8 378.2L224.2 378.2L226.8 377.2L229.2 377.2L241.8 374.2L245.2 374.2L247.8 373.2L255.2 372.2L257.2 371.2L254.2 367.8L252.2 364.2L249.2 361.2L248.8 359.8L248.8 354.8L249.2 354.2L252.2 354.2L277.8 359.8L287.2 359.8L287.8 359.2L323.8 358.2L324.2 357.8L335.8 356.2L351.8 351.8L372.2 351.2L372.8 350.8L378.8 350.8L379.2 350.2L380.8 350.2L381.8 351.2L379.2 353.8L368.2 360.2L358.2 365.2L352.2 371.2L340.8 376.8L338.8 378.2L341.8 382.8L349.8 390.8L350.8 392.8L362.8 405.8L363.2 407.8L547.8 407.8L547.8 126.2Z"/>
<path fill="#f0ff00" fill-rule="evenodd" d="M76.2 126.2L76.2 380.2L77.8 380.2L80.8 378.2L82.8 377.8L87.8 377.8L90.8 376.8L96.8 376.8L99.8 375.8L105.8 375.8L108.8 374.8L114.8 374.8L117.8 373.8L123.8 373.8L126.8 372.8L132.8 372.8L135.8 371.8L141.8 371.8L144.8 370.8L150.8 370.8L153.8 369.8L159.8 369.8L162.8 368.8L168.8 368.8L171.8 367.8L177.8 367.8L180.8 366.8L186.8 366.8L189.8 365.8L195.8 365.8L198.8 364.8L204.8 364.8L207.8 363.8L213.8 363.8L216.8 362.8L222.8 362.8L225.8 361.8L231.8 361.8L234.8 360.8L240.8 360.8L243.8 359.8L247.8 359.8L248.2 357.2L246.2 353.8L246.8 351.8L252.2 352.2L277.8 357.8L286.2 357.8L286.8 357.2L323.8 356.2L324.2 355.8L339.2 353.8L349.2 350.8L358.8 348.8L373.8 348.8L374.2 348.2L384.2 348.2L384.8 347.8L386.2 348.8L382.2 352.8L357.2 366.2L356.2 367.8L356.2 369.2L363.8 379.8L368.8 389.2L370.8 391.8L374.8 400.2L376.8 402.8L378.8 407.8L547.8 407.8L547.8 126.2Z"/>
<path fill="#e4ff00" fill-rule="evenodd" d="M76.2 126.2L76.2 380.2L78.8 379.2L81.2 377.2L85.2 377.2L88.2 376.2L94.2 376.2L97.2 375.2L103.2 375.2L106.2 374.2L112.2 374.2L115.2 373.2L121.2 373.2L124.2 372.2L130.2 372.2L133.2 371.2L139.2 371.2L142.2 370.2L148.2 370.2L151.2 369.2L157.2 369.2L160.2 368.2L166.2 368.2L169.2 367.2L175.2 367.2L178.2 366.2L184.2 366.2L187.2 365.2L193.2 365.2L196.2 364.2L202.2 364.2L205.2 363.2L211.2 363.2L214.2 362.2L220.2 362.2L223.2 361.2L229.2 361.2L232.2 360.2L238.2 360.2L241.2 359.2L245.2 359.2L247.2 358.8L247.2 356.2L243.2 350.8L243.8 349.2L246.8 349.2L277.2 355.8L285.8 355.8L286.2 355.2L323.2 354.2L323.8 353.8L342.8 351.2L352.8 348.2L362.2 346.2L390.8 345.8L391.2 346.2L388.8 348.8L385.2 350.8L382.8 353.2L358.8 365.8L357.2 367.2L357.2 368.8L365.2 380.2L370.2 389.8L372.2 392.2L376.2 400.8L379.2 405.2L379.8 407.8L547.8 407.8L547.8 126.2Z"/>
<path fill="#d7ff00" fill-rule="evenodd" d="M76.2 126.2L76.2 379.8L78.2 379.2L82.8 376.2L86.8 376.2L88.8 375.2L95.8 375.2L97.8 374.2L104.8 374.2L106.8 373.2L113.8 373.2L115.8 372.2L122.8 372.2L124.8 371.2L131.8 371.2L133.8 370.2L140.8 370.2L142.8 369.2L149.8 369.2L151.8 368.2L158.8 368.2L160.8 367.2L167.8 367.2L169.8 366.2L176.8 366.2L178.8 365.2L185.8 365.2L187.8 364.2L194.8 364.2L196.8 363.2L203.8 363.2L205.8 362.2L212.8 362.2L214.8 361.2L221.8 361.2L223.8 360.2L230.8 360.2L232.8 359.2L239.8 359.2L241.8 358.2L246.2 358.2L246.8 357.2L245.8 355.2L241.2 349.8L241.2 347.8L242.2 346.8L277.2 353.8L285.2 353.8L285.8 353.2L322.2 352.2L322.8 351.8L343.2 349.2L365.2 343.8L395.2 342.8L396.2 344.2L394.8 345.8L386.2 350.8L382.2 354.2L357.8 367.2L357.8 368.2L365.2 378.8L370.2 388.2L372.2 390.8L376.2 399.2L378.2 401.8L380.8 407.8L547.8 407.8L547.8 126.2Z"/>
<path fill="#cbff00" fill-rule="evenodd" d="M76.2 126.2L76.2 379.8L78.8 378.8L82.8 375.8L86.2 375.2L88.2 374.2L95.2 374.2L97.2 373.2L104.2 373.2L106.2 372.2L113.2 372.2L115.2 371.2L122.2 371.2L124.2 370.2L131.2 370.2L133.2 369.2L140.2 369.2L142.2 368.2L149.2 368.2L151.2 367.2L158.2 367.2L160.2 366.2L167.2 366.2L169.2 365.2L176.2 365.2L178.2 364.2L185.2 364.2L187.2 363.2L194.2 363.2L196.2 362.2L203.2 362.2L205.2 361.2L212.2 361.2L214.2 360.2L221.2 360.2L223.2 359.2L230.2 359.2L232.2 358.2L239.2 358.2L241.2 357.2L244.8 357.2L245.2 356.8L239.8 350.2L240.2 345.2L240.8 344.8L249.2 345.8L277.2 351.8L284.2 351.8L284.8 351.2L296.2 351.2L296.8 350.8L308.8 350.8L309.2 350.2L324.8 349.8L328.8 348.8L346.2 346.8L367.8 341.2L400.8 340.2L401.8 341.2L398.8 344.2L386.2 351.2L381.8 355.8L359.2 367.2L359.2 368.2L366.2 378.2L371.2 387.8L373.2 390.2L377.2 398.8L379.2 401.2L381.8 406.2L381.8 407.8L547.8 407.8L547.8 126.2Z"/>
<path fill="#beff00" fill-rule="evenodd" d="M76.2 126.2L76.2 379.2L78.2 378.8L82.8 375.2L85.2 374.2L100.2 360.2L104.2 358.2L114.8 358.2L116.8 357.2L128.8 357.2L130.8 356.2L142.8 356.2L144.8 355.2L156.8 355.2L158.8 354.2L170.8 354.2L172.8 353.2L184.8 353.2L186.8 352.2L198.8 352.2L200.8 351.2L212.8 351.2L214.8 350.2L226.8 350.2L228.8 349.2L238.2 349.2L239.8 347.8L239.8 346.8L237.8 343.2L238.8 342.2L241.2 342.2L276.8 349.8L282.2 349.8L282.8 349.2L322.2 347.8L326.2 346.8L329.8 346.8L330.2 346.2L347.2 344.2L368.8 338.8L406.8 337.8L407.2 338.8L404.8 341.2L393.2 348.2L386.2 351.8L385.2 353.2L385.2 354.8L406.8 398.2L408.2 403.8L408.2 407.8L547.8 407.8L547.8 126.2Z"/>
<path fill="#b2ff00" fill-rule="evenodd" d="M76.2 126.2L76.2 379.2L77.2 379.2L82.2 375.2L85.2 373.8L100.8 359.2L103.8 357.8L112.8 357.8L115.8 356.8L126.8 356.8L129.8 355.8L140.8 355.8L143.8 354.8L154.8 354.8L157.8 353.8L168.8 353.8L171.8 352.8L182.8 352.8L185.8 351.8L196.8 351.8L199.8 350.8L210.8 350.8L213.8 349.8L224.8 349.8L227.8 348.8L236.8 348.8L238.8 347.8L238.8 345.8L236.2 342.8L235.2 340.8L235.8 339.8L241.2 340.2L271.2 346.8L280.2 347.8L280.8 347.2L322.2 345.2L322.8 344.8L332.8 343.8L336.2 342.8L346.2 341.8L368.8 336.2L378.8 336.2L379.2 335.8L385.2 335.8L385.8 335.2L412.2 335.2L412.8 336.8L410.8 338.8L397.2 346.8L387.2 351.8L386.2 353.2L386.8 355.2L408.2 398.8L408.2 400.8L409.2 402.8L409.2 407.8L547.8 407.8L547.8 126.2Z"/>
<path fill="#a5ff00" fill-rule="evenodd" d="M76.2 126.2L76.2 379.2L78.8 378.2L81.2 375.8L84.2 374.2L100.2 359.2L103.8 357.2L114.8 356.8L117.8 355.8L128.8 355.8L131.8 354.8L142.8 354.8L145.8 353.8L156.8 353.8L159.8 352.8L170.8 352.8L173.8 351.8L184.8 351.8L187.8 350.8L198.8 350.8L201.8 349.8L212.8 349.8L215.8 348.8L226.8 348.8L229.8 347.8L237.8 347.8L238.2 347.2L237.8 345.2L233.2 339.8L233.8 337.2L274.2 345.2L285.8 345.2L286.2 344.8L321.8 342.8L322.2 342.2L325.2 342.2L325.8 341.8L328.8 341.8L332.2 340.8L347.8 338.8L368.8 333.8L383.2 333.8L383.8 333.2L392.2 332.8L392.8 332.2L418.2 332.2L419.8 333.8L416.8 336.8L406.8 342.8L387.8 352.8L387.8 354.2L409.2 397.8L410.8 403.8L410.8 407.8L547.8 407.8L547.8 126.2Z"/>
<path fill="#99ff00" fill-rule="evenodd" d="M76.2 126.2L76.2 379.2L77.8 378.8L83.8 374.2L99.2 359.8L104.2 356.8L114.8 356.2L117.8 355.2L128.8 355.2L131.8 354.2L142.8 354.2L145.8 353.2L156.8 353.2L159.8 352.2L170.8 352.2L173.8 351.2L184.8 351.2L187.8 350.2L198.8 350.2L201.8 349.2L212.8 349.2L215.8 348.2L226.8 348.2L229.8 347.2L237.2 347.2L237.8 346.2L232.2 339.8L231.2 337.2L231.2 335.8L232.2 334.8L274.2 343.2L283.8 343.2L284.2 342.8L321.8 340.2L337.8 337.2L346.8 336.2L369.2 331.2L384.2 331.2L399.2 327.2L415.2 327.2L423.8 329.2L429.2 328.8L433.8 331.8L441.8 339.8L443.8 340.8L451.8 348.8L453.8 349.8L461.8 357.8L463.8 358.8L471.8 366.8L473.8 367.8L481.8 375.8L483.8 376.8L491.8 384.8L493.8 385.8L501.8 393.8L503.8 394.8L511.8 402.8L513.8 403.8L517.2 407.8L547.8 407.8L547.8 126.2Z"/>
<path fill="#8cff00" fill-rule="evenodd" d="M76.2 126.2L76.2 378.8L78.2 378.2L84.2 373.8L99.8 359.2L106.2 355.8L114.2 355.8L116.8 354.8L128.2 354.8L130.8 353.8L142.2 353.8L144.8 352.8L156.2 352.8L158.8 351.8L170.2 351.8L172.8 350.8L184.2 350.8L186.8 349.8L198.2 349.8L200.8 348.8L212.2 348.8L214.8 347.8L226.2 347.8L228.8 346.8L236.2 346.8L236.8 346.2L231.8 340.2L228.2 334.2L228.2 333.2L229.2 332.2L250.8 336.2L253.2 337.2L268.2 340.2L274.2 340.8L274.8 341.2L281.8 341.2L282.2 340.8L287.8 340.8L288.2 340.2L293.2 340.2L293.8 339.8L321.8 337.8L322.2 337.2L342.8 334.2L345.8 333.2L348.2 333.2L369.2 328.8L383.2 328.2L400.8 324.2L411.2 324.2L411.8 324.8L416.8 324.8L424.2 326.2L427.8 326.2L435.8 331.8L443.8 339.8L445.8 340.8L453.8 348.8L455.8 349.8L463.8 357.8L465.8 358.8L473.8 366.8L475.8 367.8L483.8 375.8L485.8 376.8L493.8 384.8L495.8 385.8L503.8 393.8L505.8 394.8L513.8 402.8L515.8 403.8L518.8 407.8L547.8 407.8L547.8 126.2Z"/>
<path fill="#7fff00" fill-rule="evenodd" d="M76.2 126.2L76.2 378.8L78.2 378.2L81.2 375.2L85.2 372.8L100.2 358.8L106.2 355.2L112.2 355.2L114.8 354.2L126.2 354.2L128.8 353.2L140.2 353.2L142.8 352.2L154.2 352.2L156.8 351.2L168.2 351.2L170.8 350.2L182.2 350.2L184.8 349.2L196.2 349.2L198.8 348.2L210.2 348.2L212.8 347.2L224.2 347.2L226.8 346.2L233.8 346.2L234.8 345.8L234.2 344.2L230.8 340.8L229.8 338.2L227.2 335.8L224.8 331.8L224.8 330.8L226.2 329.8L265.8 337.8L274.8 338.8L275.2 339.2L279.8 339.2L280.2 338.8L285.2 338.8L285.8 338.2L290.2 338.2L290.8 337.8L295.8 337.8L296.2 337.2L300.8 337.2L301.2 336.8L321.2 335.2L330.2 333.2L344.2 331.2L347.2 330.2L349.8 330.2L352.8 329.2L355.2 329.2L360.8 327.8L363.2 327.8L366.2 326.8L381.8 325.2L400.2 321.8L410.8 321.8L411.2 322.2L417.8 322.2L418.2 322.8L423.8 322.8L424.2 323.2L428.8 323.2L430.8 324.8L431.2 326.8L433.8 329.2L435.8 330.2L443.8 338.2L445.8 339.2L453.8 347.2L455.8 348.2L463.8 356.2L465.8 357.2L473.8 365.2L475.8 366.2L483.8 374.2L485.8 375.2L493.8 383.2L495.8 384.2L503.8 392.2L505.8 393.2L513.8 401.2L515.8 402.2L519.8 406.2L520.2 407.8L547.8 407.8L547.8 126.2Z"/>
<path fill="#73ff00" fill-rule="evenodd" d="M76.2 126.2L76.2 378.8L78.8 377.8L81.8 374.8L83.8 373.8L99.2 359.2L106.8 354.8L114.8 346.8L116.2 346.2L129.8 333.8L131.2 333.2L134.8 329.8L139.8 326.8L158.8 326.8L160.8 325.8L196.8 325.8L198.8 324.8L218.2 324.8L222.8 327.2L227.8 327.8L262.8 335.2L271.8 336.2L272.2 336.8L278.2 336.8L283.2 335.8L322.8 332.2L328.8 330.8L346.2 328.2L349.2 327.2L351.8 327.2L367.2 324.2L387.8 321.8L388.2 321.2L401.2 319.8L401.8 319.2L434.2 320.8L436.2 319.8L441.2 314.8L443.8 314.8L450.2 318.2L457.2 324.2L487.2 346.2L490.2 349.2L520.2 371.2L523.2 374.2L546.2 391.2L547.8 391.2L547.8 126.2Z"/>
<path fill="#66ff00" fill-rule="evenodd" d="M76.2 126.2L76.2 378.8L77.8 378.2L82.2 374.2L83.8 373.8L99.8 358.8L106.8 354.2L115.2 345.8L117.2 344.8L123.2 338.8L125.2 337.8L130.2 332.8L132.2 331.8L138.8 326.2L156.8 326.2L159.8 325.2L194.8 325.2L197.8 324.2L214.8 324.2L218.2 323.2L222.8 325.2L262.8 333.2L268.8 333.8L269.2 334.2L275.2 334.2L279.8 332.8L284.8 332.8L285.2 332.2L322.8 329.2L323.2 328.8L329.2 328.2L342.2 325.8L345.2 325.8L348.8 324.8L351.8 324.8L355.2 323.8L358.2 323.8L361.8 322.8L375.8 321.2L383.2 319.8L386.8 319.8L387.2 319.2L401.2 317.8L401.8 317.2L420.8 317.8L421.2 318.2L431.2 318.2L433.2 318.8L436.2 317.8L441.8 313.2L450.8 317.8L457.8 323.8L487.8 345.8L490.8 348.8L520.8 370.8L523.8 373.8L543.8 388.8L547.8 390.8L547.8 126.2Z"/>
<path fill="#5aff00" fill-rule="evenodd" d="M76.2 126.2L76.2 378.8L77.8 378.2L80.2 375.8L84.2 373.2L100.2 358.2L105.2 355.2L122.8 338.8L124.8 337.8L129.8 332.8L139.2 325.8L157.2 325.8L159.8 324.8L195.2 324.8L197.8 323.8L215.2 323.8L218.2 322.2L220.2 322.2L222.8 323.2L249.8 328.2L257.2 330.2L272.2 332.2L277.2 329.8L322.2 326.2L322.8 325.8L326.2 325.8L326.8 325.2L329.8 325.2L337.2 323.8L340.8 323.8L341.2 323.2L344.2 323.2L351.8 321.8L382.2 318.2L382.8 317.8L401.2 315.8L401.8 315.2L435.2 316.2L437.8 315.2L440.8 312.8L442.2 312.8L450.2 316.8L457.2 322.8L487.2 344.8L490.2 347.8L520.2 369.8L523.2 372.8L543.2 387.8L547.8 390.2L547.8 126.2Z"/>
<path fill="#4dff00" fill-rule="evenodd" d="M76.2 126.2L76.2 378.8L77.8 378.2L81.2 374.8L83.2 373.8L98.8 359.2L103.8 356.2L113.8 346.2L115.8 345.2L128.8 333.2L139.8 325.2L157.8 325.2L160.2 324.2L195.8 324.2L198.2 323.2L215.2 323.2L216.8 322.8L219.2 320.2L257.2 328.2L266.2 329.2L266.8 329.8L271.2 329.8L277.8 326.2L322.8 323.2L323.2 322.8L343.2 320.8L343.8 320.2L347.2 320.2L347.8 319.8L351.2 319.8L351.8 319.2L355.2 319.2L355.8 318.8L359.2 318.8L363.8 317.8L377.2 316.8L377.8 316.2L381.2 316.2L381.8 315.8L385.2 315.8L385.8 315.2L389.2 315.2L389.8 314.8L393.2 314.8L393.8 314.2L397.2 314.2L401.8 313.2L437.8 313.8L440.2 312.2L442.2 312.2L450.8 316.8L457.8 322.8L487.8 344.8L490.8 347.8L520.8 369.8L523.8 372.8L543.8 387.8L547.8 389.8L547.8 126.2Z"/>
<path fill="#41ff00" fill-rule="evenodd" d="M76.2 126.2L76.2 378.2L78.2 377.8L81.8 374.2L83.2 373.8L90.2 366.8L92.2 365.8L99.2 358.8L104.8 355.2L114.8 345.2L116.2 344.8L129.8 332.2L131.2 331.8L138.2 325.8L141.2 324.8L158.8 324.8L160.8 323.8L196.8 323.8L198.8 322.8L215.8 322.8L216.8 321.8L216.8 319.2L217.8 318.2L219.2 318.2L257.2 326.2L263.2 326.8L263.8 327.2L269.8 327.2L274.2 324.2L278.2 322.8L322.8 320.2L323.2 319.8L332.2 319.2L332.8 318.8L346.2 317.8L351.2 316.8L355.8 316.8L360.8 315.8L376.2 314.8L376.8 314.2L401.8 311.8L402.2 311.2L426.8 311.2L427.2 311.8L441.2 311.2L450.8 316.2L457.8 322.2L487.8 344.2L490.8 347.2L520.8 369.2L523.8 372.2L546.8 389.2L547.8 389.2L547.8 126.2Z"/>
<path fill="#34ff00" fill-rule="evenodd" d="M76.2 126.2L76.2 378.2L77.2 378.2L81.8 374.2L83.8 373.2L90.8 366.2L92.8 365.2L99.8 358.2L102.8 356.8L113.2 346.2L115.2 345.2L128.2 333.2L130.2 332.2L133.2 329.2L138.8 325.2L140.2 324.8L157.2 324.8L159.8 323.8L195.2 323.8L197.8 322.8L214.2 322.8L216.2 321.8L216.2 320.2L214.8 317.8L214.8 316.2L216.2 315.8L254.2 323.8L266.8 325.2L269.2 324.2L275.2 320.2L279.8 319.2L322.8 317.2L323.2 316.8L345.2 315.2L345.8 314.8L350.8 314.8L351.2 314.2L356.2 314.2L356.8 313.8L361.8 313.8L362.2 313.2L374.2 312.8L374.8 312.2L379.2 312.2L379.8 311.8L402.2 309.8L402.8 309.2L440.8 309.2L443.2 312.2L451.2 316.2L458.2 322.2L488.2 344.2L491.2 347.2L521.2 369.2L524.2 372.2L544.2 387.2L547.8 389.2L547.8 126.2Z"/>
<path fill="#28ff00" fill-rule="evenodd" d="M76.2 126.2L76.2 378.2L77.2 378.2L82.2 373.8L83.8 373.2L91.2 365.8L92.8 365.2L99.8 358.2L103.2 356.2L113.8 345.8L115.8 344.8L128.8 332.8L130.8 331.8L137.8 325.8L141.2 324.2L157.8 324.2L160.2 323.2L195.8 323.2L198.2 322.2L214.8 322.2L215.8 320.8L211.8 314.8L212.8 313.2L251.8 321.2L260.8 322.2L261.2 322.8L265.2 322.8L276.8 316.2L281.8 316.2L282.2 315.8L323.2 314.2L323.8 313.8L357.2 311.8L357.8 311.2L363.8 311.2L364.2 310.8L378.2 310.2L378.8 309.8L387.8 309.2L388.2 308.8L397.2 308.2L397.8 307.8L402.8 307.8L403.2 307.2L442.2 306.8L443.2 307.8L442.8 309.2L443.2 311.8L451.8 316.2L458.8 322.2L488.8 344.2L491.8 347.2L521.8 369.2L524.8 372.2L544.8 387.2L547.8 388.8L547.8 126.2Z"/>
<path fill="#1bff00" fill-rule="evenodd" d="M76.2 126.2L76.2 378.2L77.8 377.8L82.2 373.8L84.2 372.8L91.2 365.8L93.2 364.8L99.8 358.2L103.8 355.8L114.2 345.2L116.2 344.2L129.2 332.2L131.2 331.2L138.2 325.2L142.2 323.8L158.2 323.8L160.8 322.8L196.2 322.8L198.8 321.8L214.8 321.8L214.8 319.8L209.2 312.8L209.2 311.8L210.8 310.8L248.8 318.8L257.8 319.8L258.2 320.2L264.2 320.2L273.8 314.2L277.2 312.8L323.8 311.2L324.2 310.8L341.2 310.2L341.8 309.8L349.8 309.8L350.2 309.2L376.8 308.2L377.2 307.8L392.2 306.8L392.8 306.2L397.2 306.2L397.8 305.8L403.2 305.8L403.8 305.2L441.2 304.8L443.2 304.2L445.2 305.2L445.2 307.2L443.8 309.8L443.8 311.2L444.8 312.2L451.8 315.8L458.8 321.8L488.8 343.8L491.8 346.8L521.8 368.8L524.8 371.8L544.8 386.8L547.8 388.2L547.8 126.2Z"/>
<path fill="#0fff00" fill-rule="evenodd" d="M76.2 126.2L76.2 378.2L77.8 377.8L80.8 374.8L82.8 373.8L98.2 359.2L101.8 357.2L122.8 337.8L139.8 324.2L141.2 323.8L155.8 323.8L158.8 322.8L193.8 322.8L196.8 321.8L212.2 321.8L214.2 321.2L214.2 320.2L208.2 313.2L207.2 310.2L208.2 308.8L211.2 308.8L248.8 316.8L261.2 318.2L274.8 310.2L277.8 309.2L309.8 308.8L310.2 308.2L324.8 308.2L325.2 307.8L337.2 307.8L337.8 307.2L349.2 307.2L349.8 306.8L374.8 306.2L375.2 305.8L380.8 305.8L381.2 305.2L403.8 303.8L404.2 303.2L412.2 303.2L412.8 302.8L446.8 302.2L447.2 304.8L444.2 310.2L444.8 311.8L451.8 315.2L458.8 321.2L488.8 343.2L491.8 346.2L521.8 368.2L524.8 371.2L544.8 386.2L547.8 387.8L547.8 126.2Z"/>
<path fill="#02ff00" fill-rule="evenodd" d="M76.2 126.2L76.2 378.2L77.8 377.8L81.2 374.2L83.2 373.2L98.8 358.8L102.2 356.8L113.2 345.8L115.2 344.8L128.2 332.8L130.2 331.8L137.2 325.8L143.2 322.8L157.8 322.8L160.2 321.8L195.8 321.8L198.2 320.8L212.8 320.8L213.2 320.2L207.2 313.8L204.2 308.2L204.8 306.2L208.2 306.2L243.2 313.8L255.2 315.2L255.8 315.8L259.8 315.8L276.2 306.2L280.2 306.2L280.8 305.8L305.8 305.8L306.2 305.2L368.2 304.2L368.8 303.8L379.2 303.8L379.8 303.2L385.2 303.2L385.8 302.8L391.2 302.8L391.8 302.2L397.2 302.2L397.8 301.8L403.2 301.8L403.8 301.2L410.8 301.2L411.2 300.8L417.8 300.8L418.2 300.2L448.8 299.8L450.2 301.8L445.2 310.8L446.2 311.8L452.2 314.8L459.2 320.8L489.2 342.8L492.2 345.8L522.2 367.8L525.2 370.8L545.2 385.8L547.8 386.8L547.8 126.2Z"/>
<path fill="#00ff0b" fill-rule="evenodd" d="M76.2 126.2L76.2 378.2L77.8 377.8L81.2 374.2L83.2 373.2L99.2 358.2L102.8 356.2L113.8 345.2L115.8 344.2L128.8 332.2L130.8 331.2L137.8 325.2L143.2 322.2L157.2 308.2L159.2 307.2L170.2 296.2L172.2 295.2L177.8 289.8L181.2 288.8L185.2 289.2L193.8 298.2L200.8 303.2L205.8 303.8L228.2 308.2L230.8 309.2L246.2 312.2L252.2 312.8L252.8 313.2L258.2 313.2L273.2 304.2L276.8 302.8L371.2 301.8L371.8 301.2L381.2 301.2L381.8 300.8L407.8 299.2L408.2 298.8L414.2 298.8L414.8 298.2L422.2 298.2L422.8 297.8L443.8 297.8L444.2 297.2L454.2 297.8L460.8 291.2L462.2 291.2L486.2 306.8L488.8 309.2L508.2 321.8L510.8 324.2L530.2 336.8L532.8 339.2L534.2 339.8L541.8 345.2L546.2 347.8L547.8 347.8L547.8 126.2Z"/>
<path fill="#00ff17" fill-rule="evenodd" d="M76.2 126.2L76.2 378.2L83.8 372.8L99.2 358.2L103.2 355.8L114.2 344.8L115.8 344.2L129.2 331.8L130.8 331.2L134.2 327.8L141.2 323.2L156.2 308.2L158.8 306.8L169.2 296.2L171.8 294.8L178.8 288.2L185.2 288.2L195.8 298.2L201.2 301.2L232.8 307.2L237.8 308.8L240.2 308.8L249.8 310.8L253.2 310.8L253.8 311.2L255.2 311.2L259.8 309.2L270.8 302.2L277.2 299.2L378.2 298.8L378.8 298.2L386.2 298.2L386.8 297.8L393.8 297.8L394.2 297.2L401.2 297.2L401.8 296.8L408.8 296.8L409.2 296.2L416.2 296.2L416.8 295.8L453.8 295.2L457.2 293.2L460.2 290.2L462.2 290.2L486.2 305.8L489.8 308.8L508.2 320.8L511.8 323.8L530.2 335.8L533.8 338.8L545.8 346.8L547.8 347.2L547.8 126.2Z"/>
<path fill="#00ff24" fill-rule="evenodd" d="M76.2 126.2L76.2 377.8L77.2 377.8L81.8 373.8L83.8 372.8L90.8 365.8L92.8 364.8L99.8 357.8L103.8 355.2L114.2 344.8L116.2 343.8L129.2 331.8L142.2 322.2L157.8 306.8L160.2 305.2L170.8 294.8L173.2 293.2L179.2 287.8L185.2 287.8L186.2 288.2L195.2 296.8L200.8 299.2L250.2 308.8L254.2 308.8L269.2 299.8L272.2 298.8L276.2 296.2L362.2 296.2L362.8 295.8L382.8 295.8L383.2 295.2L391.8 295.2L392.2 294.8L400.8 294.8L401.2 294.2L409.8 294.2L410.2 293.8L418.8 293.8L419.2 293.2L455.8 292.8L459.8 289.8L462.2 289.8L487.8 306.2L489.8 308.2L509.8 321.2L511.8 323.2L531.8 336.2L533.8 338.2L544.2 345.2L547.8 346.8L547.8 126.2Z"/>
<path fill="#00ff30" fill-rule="evenodd" d="M76.2 126.2L76.2 377.8L77.2 377.8L84.2 372.2L99.8 357.8L101.8 356.8L112.8 345.8L114.8 344.8L127.8 332.8L140.8 323.2L157.2 306.8L159.2 305.8L170.2 294.8L172.2 293.8L177.8 288.2L179.8 287.2L185.2 287.2L194.2 294.8L198.2 296.8L247.2 306.2L252.8 306.2L266.8 297.8L271.2 296.2L276.8 292.8L378.8 293.2L379.2 292.8L389.8 292.8L390.2 292.2L411.2 291.8L411.8 291.2L448.2 290.8L448.8 290.2L457.2 290.2L460.8 288.8L466.8 291.8L487.8 305.8L489.8 307.8L509.8 320.8L511.8 322.8L531.8 335.8L533.8 337.8L545.8 345.8L547.8 346.2L547.8 126.2Z"/>
<path fill="#00ff3d" fill-rule="evenodd" d="M76.2 126.2L76.2 377.8L77.2 377.8L80.2 374.8L85.8 370.8L88.2 367.8L94.8 362.8L97.2 359.8L101.8 356.8L113.2 345.2L115.2 344.2L128.2 332.2L142.2 321.8L157.8 306.2L160.8 304.2L170.8 294.2L173.8 292.2L178.2 287.8L181.8 286.8L185.2 286.8L187.2 287.8L191.8 291.8L195.8 294.2L222.2 299.2L234.8 302.2L240.8 302.8L244.2 303.8L247.8 303.8L248.2 304.2L249.8 304.2L253.2 302.8L265.2 295.2L267.8 294.8L274.8 290.2L277.8 289.2L284.2 289.2L284.8 289.8L323.8 289.8L324.2 290.2L385.8 290.2L386.2 289.8L414.2 289.2L414.8 288.8L460.8 288.2L465.8 290.8L488.2 305.8L490.2 307.8L510.2 320.8L512.2 322.8L532.2 335.8L534.2 337.8L544.8 344.8L547.8 345.8L547.8 126.2Z"/>
<path fill="#00ff49" fill-rule="evenodd" d="M76.2 126.2L76.2 377.8L77.2 377.8L80.8 374.2L82.8 373.2L98.2 358.8L101.8 356.8L113.8 344.8L115.2 344.2L128.8 331.8L130.2 331.2L133.8 327.8L135.2 327.2L139.8 323.8L156.8 306.8L158.8 305.8L169.8 294.8L171.8 293.8L177.2 288.2L180.2 286.8L186.2 286.8L191.8 290.8L195.2 292.2L214.8 295.8L217.2 296.8L232.2 299.8L244.8 301.2L245.2 301.8L248.8 301.8L262.8 293.2L268.8 291.2L276.2 286.2L378.8 287.8L379.2 287.2L398.8 287.2L399.2 286.8L418.8 286.8L419.2 286.2L459.2 285.8L461.2 288.2L467.2 291.2L468.8 292.8L485.2 303.2L490.8 307.8L507.2 318.2L512.8 322.8L529.2 333.2L534.8 337.8L547.8 345.8L547.8 126.2Z"/>
<path fill="#00ff56" fill-rule="evenodd" d="M76.2 126.2L76.2 377.8L77.8 377.2L81.2 373.8L83.2 372.8L98.8 358.2L102.2 356.2L113.8 344.8L115.8 343.8L128.8 331.8L140.2 323.2L157.2 306.2L159.2 305.2L170.2 294.2L172.2 293.2L177.8 287.8L181.2 286.2L186.8 286.2L192.8 289.8L207.2 292.2L209.8 293.2L219.2 294.8L229.2 297.2L241.8 298.8L242.2 299.2L247.2 299.2L257.8 292.8L261.8 290.8L266.8 289.2L276.8 282.8L326.2 283.8L326.8 284.2L346.2 284.2L346.8 284.8L396.8 284.8L397.2 284.2L428.8 284.2L429.2 283.8L460.2 283.2L461.8 284.2L461.8 287.8L462.8 288.8L466.2 290.2L509.2 319.2L512.8 322.2L531.2 334.2L534.8 337.2L545.2 344.2L547.8 345.2L547.8 126.2Z"/>
<path fill="#00ff62" fill-rule="evenodd" d="M76.2 126.2L76.2 377.8L77.8 377.2L81.2 373.8L83.2 372.8L99.2 357.8L102.8 355.8L113.8 344.8L115.8 343.8L128.8 331.8L138.8 324.2L155.8 307.2L158.2 305.8L168.8 295.2L171.2 293.8L176.2 288.8L180.2 286.2L182.8 285.8L187.2 285.8L192.2 287.8L211.8 291.2L214.2 292.2L229.2 295.2L243.8 297.2L247.8 295.8L260.2 288.2L262.8 288.2L265.8 286.8L274.8 280.2L277.8 279.2L280.2 279.8L295.2 279.8L295.8 280.2L311.2 280.2L311.8 280.8L326.8 280.8L327.2 281.2L342.8 281.2L343.2 281.8L371.8 281.8L372.2 282.2L462.8 281.2L463.8 282.8L462.2 287.2L462.8 288.2L466.8 290.2L489.2 305.2L491.2 307.2L511.2 320.2L513.2 322.2L533.2 335.2L535.2 337.2L544.2 343.2L547.8 344.8L547.8 126.2Z"/>
<path fill="#00ff6f" fill-rule="evenodd" d="M76.2 126.2L76.2 377.8L77.8 377.2L81.2 373.8L83.2 372.8L99.2 357.8L103.8 354.8L114.2 344.2L116.8 342.8L122.2 337.2L139.2 323.8L156.8 306.2L158.2 305.8L169.8 294.2L171.2 293.8L178.8 286.8L186.8 284.2L206.8 288.2L209.2 289.2L218.8 290.8L223.8 292.2L242.8 294.8L257.8 286.2L260.2 286.2L263.8 284.8L276.2 276.2L340.2 278.2L340.8 278.8L359.8 278.8L360.2 279.2L415.2 279.2L415.8 279.8L422.8 279.8L423.2 279.2L463.8 278.8L465.8 280.2L465.8 281.8L463.2 286.8L463.2 287.8L464.2 288.8L466.8 289.8L489.2 304.8L491.2 306.8L511.2 319.8L513.2 321.8L533.2 334.8L535.2 336.8L544.2 342.8L547.8 344.2L547.8 126.2Z"/>
<path fill="#00ff7b" fill-rule="evenodd" d="M76.2 126.2L76.2 377.8L83.8 372.2L90.8 365.2L92.8 364.2L99.2 357.8L101.2 356.8L112.8 345.2L114.8 344.2L120.8 338.2L122.8 337.2L132.8 328.2L139.2 323.8L156.8 306.2L158.8 305.2L169.8 294.2L171.8 293.2L177.8 287.2L182.8 285.2L184.8 282.2L191.8 283.2L194.2 284.2L211.2 287.2L223.8 290.2L236.2 291.8L236.8 292.2L241.8 292.2L255.2 284.2L259.8 283.8L261.8 282.8L267.8 278.2L276.8 272.8L316.2 274.2L316.8 274.8L327.2 274.8L327.8 275.2L338.8 275.2L339.2 275.8L351.8 275.8L352.2 276.2L375.2 276.2L375.8 276.8L432.8 277.2L433.2 276.8L464.8 276.2L466.2 276.8L467.8 278.2L467.8 280.8L464.2 286.8L464.8 288.2L467.2 289.2L488.2 303.2L490.2 305.2L510.2 318.2L512.2 320.2L532.2 333.2L534.2 335.2L547.8 343.8L547.8 126.2Z"/>
<path fill="#00ff88" fill-rule="evenodd" d="M76.2 126.2L76.2 377.8L83.8 372.2L99.8 357.2L101.2 356.8L113.2 344.8L114.8 344.2L121.2 337.8L122.8 337.2L128.2 331.8L129.8 331.2L133.2 327.8L134.8 327.2L140.2 322.8L157.2 305.8L159.2 304.8L170.2 293.8L172.2 292.8L178.2 286.8L181.8 285.2L182.8 284.2L183.8 280.2L186.2 280.2L223.8 288.2L233.2 289.2L233.8 289.8L240.2 289.8L252.8 282.2L257.8 281.8L259.8 280.8L267.2 275.2L276.2 269.8L312.8 271.2L313.2 271.8L322.8 271.8L323.2 272.2L332.2 272.2L332.8 272.8L342.2 272.8L342.8 273.2L398.2 274.2L398.8 274.8L467.2 274.2L470.2 276.8L473.2 276.2L478.2 271.2L480.2 271.2L481.2 272.2L484.2 273.2L488.2 276.2L495.2 279.2L499.2 282.2L506.2 285.2L510.2 288.2L517.2 291.2L521.2 294.2L528.2 297.2L532.2 300.2L539.2 303.2L543.2 306.2L545.8 307.2L547.8 307.2L547.8 126.2Z"/>
<path fill="#00ff94" fill-rule="evenodd" d="M76.2 126.2L76.2 377.8L84.8 371.2L99.8 357.2L101.8 356.2L113.2 344.8L115.2 343.8L121.2 337.8L123.2 336.8L128.2 331.8L137.8 324.8L155.8 306.8L157.8 305.8L168.8 294.8L170.8 293.8L176.2 288.2L181.2 285.2L182.8 282.8L182.8 280.2L182.2 279.8L182.8 277.8L220.8 285.8L237.2 287.8L251.2 279.8L255.8 279.8L257.8 278.8L272.8 268.2L275.8 267.2L308.2 268.8L308.8 269.2L317.2 269.2L317.8 269.8L326.2 269.8L326.8 270.2L335.2 270.2L335.8 270.8L345.2 270.8L345.8 271.2L400.8 272.2L401.2 272.8L469.2 272.2L470.8 273.2L472.8 273.2L478.2 269.2L486.8 273.2L489.2 275.2L497.8 279.2L500.2 281.2L508.8 285.2L511.2 287.2L519.8 291.2L522.2 293.2L530.8 297.2L533.2 299.2L541.8 303.2L544.2 305.2L547.8 306.2L547.8 126.2Z"/>
<path fill="#00ffa1" fill-rule="evenodd" d="M76.2 126.2L76.2 377.8L82.8 372.8L98.2 358.2L101.8 356.2L113.2 344.8L115.2 343.8L121.2 337.8L123.2 336.8L128.2 331.8L138.2 324.2L156.2 306.2L158.2 305.2L169.2 294.2L171.2 293.2L176.8 287.8L180.8 285.2L182.2 283.2L182.2 280.2L179.8 276.2L180.2 275.8L183.2 275.8L218.2 283.2L230.8 284.8L231.2 285.2L235.8 285.2L248.8 277.8L254.8 277.2L269.2 267.2L272.2 265.8L276.8 264.8L278.2 265.2L286.2 265.2L286.8 265.8L294.2 265.8L294.8 266.2L310.8 266.8L311.2 267.2L318.8 267.2L319.2 267.8L335.2 268.2L335.8 268.8L379.8 269.8L380.2 270.2L400.2 270.2L400.8 270.8L445.8 270.8L446.2 270.2L471.2 270.2L471.8 270.8L474.2 270.8L477.2 268.8L478.8 268.8L487.8 273.2L490.2 275.2L498.8 279.2L501.2 281.2L509.8 285.2L512.2 287.2L520.8 291.2L523.2 293.2L531.8 297.2L534.2 299.2L546.8 305.8L547.8 305.8L547.8 126.2Z"/>
<path fill="#00ffae" fill-rule="evenodd" d="M76.2 126.2L76.2 377.2L77.2 377.2L80.8 373.8L82.8 372.8L98.2 358.2L102.2 355.8L113.8 344.2L115.8 343.2L128.8 331.2L138.8 323.8L156.8 305.8L158.2 305.2L169.8 293.8L171.2 293.2L177.2 287.2L181.8 283.8L182.2 280.8L178.8 275.8L178.2 274.2L178.8 273.2L195.8 276.2L198.2 277.2L205.2 278.2L215.2 280.8L227.8 282.2L228.2 282.8L234.8 282.8L246.2 275.8L252.8 275.2L267.2 265.2L274.8 262.8L282.8 262.8L283.2 263.2L290.2 263.2L290.8 263.8L297.8 263.8L298.2 264.2L305.2 264.2L305.8 264.8L312.8 264.8L313.2 265.2L320.2 265.2L320.8 265.8L327.8 265.8L328.2 266.2L335.2 266.2L335.8 266.8L378.8 267.8L379.2 268.2L399.2 268.2L399.8 268.8L446.2 268.8L446.8 268.2L473.2 268.2L475.2 268.8L475.8 268.2L478.8 268.2L487.8 272.8L489.2 274.2L498.8 278.8L500.2 280.2L509.8 284.8L511.2 286.2L520.8 290.8L522.2 292.2L531.8 296.8L533.2 298.2L542.8 302.8L544.2 304.2L547.8 305.2L547.8 126.2Z"/>
<path fill="#00ffba" fill-rule="evenodd" d="M76.2 126.2L76.2 377.2L77.2 377.2L80.8 373.8L82.8 372.8L98.8 357.8L102.8 355.2L113.8 344.2L115.8 343.2L128.8 331.2L138.8 323.8L156.8 305.8L158.8 304.8L169.8 293.8L171.8 292.8L177.8 286.8L181.8 283.8L182.2 282.2L181.8 280.2L178.8 276.8L176.2 272.2L176.8 270.8L215.2 278.8L231.8 280.8L243.8 273.8L250.8 273.2L252.8 272.2L266.2 262.8L275.8 260.2L300.8 261.8L301.2 262.2L307.8 262.2L308.2 262.8L314.8 262.8L315.2 263.2L321.8 263.2L322.2 263.8L328.8 263.8L329.2 264.2L335.8 264.2L336.2 264.8L377.8 265.8L378.2 266.2L398.2 266.2L398.8 266.8L475.2 266.2L486.8 271.8L489.2 273.8L497.8 277.8L500.2 279.8L508.8 283.8L511.2 285.8L519.8 289.8L522.2 291.8L530.8 295.8L533.2 297.8L541.8 301.8L546.2 304.8L547.8 304.8L547.8 126.2Z"/>
<path fill="#00ffc7" fill-rule="evenodd" d="M76.2 126.2L76.2 377.2L77.8 376.8L81.2 373.2L82.8 372.8L90.2 365.2L91.8 364.8L98.8 357.8L104.8 353.2L113.8 344.2L128.8 331.2L139.8 322.8L157.2 305.2L159.2 304.2L170.2 293.2L172.2 292.2L178.2 286.2L180.8 284.8L181.8 283.2L181.8 280.8L173.8 269.8L174.2 268.2L202.2 273.8L209.8 275.8L225.2 277.8L225.8 278.2L230.2 278.2L242.2 271.2L248.2 271.2L250.8 270.2L258.2 264.8L265.8 260.2L267.8 260.2L274.2 258.2L283.8 258.2L284.2 258.8L290.2 258.8L290.8 259.2L296.8 259.2L297.2 259.8L303.2 259.8L303.8 260.2L309.8 260.2L310.2 260.8L316.2 260.8L316.8 261.2L322.8 261.2L323.2 261.8L329.2 261.8L329.8 262.2L335.8 262.2L336.2 262.8L376.8 263.8L377.2 264.2L397.2 264.2L397.8 264.8L476.8 264.2L477.8 265.2L478.2 267.2L498.2 277.8L500.8 279.8L509.2 283.8L511.8 285.8L520.2 289.8L522.8 291.8L531.2 295.8L533.8 297.8L542.2 301.8L544.8 303.8L547.8 304.8L547.8 126.2Z"/>
<path fill="#00ffd3" fill-rule="evenodd" d="M76.2 126.2L76.2 377.2L77.8 376.8L81.2 373.2L83.2 372.2L99.2 357.2L100.8 356.8L112.2 345.2L114.8 343.8L120.2 338.2L122.8 336.8L132.2 328.2L136.8 325.2L155.2 306.8L157.8 305.2L168.2 294.8L170.8 293.2L181.2 283.8L181.8 282.8L181.2 280.2L178.2 276.8L176.8 273.8L171.8 268.2L171.2 266.8L171.8 266.2L175.2 266.2L209.8 273.8L222.2 275.2L222.8 275.8L228.8 275.8L239.8 269.2L247.8 268.8L262.8 258.8L266.8 258.2L274.8 255.8L287.2 256.2L287.8 256.8L293.2 256.8L293.8 257.2L299.2 257.2L299.8 257.8L305.2 257.8L305.8 258.2L311.2 258.2L311.8 258.8L317.2 258.8L317.8 259.2L323.8 259.2L324.2 259.8L329.8 259.8L330.2 260.2L335.8 260.2L336.2 260.8L375.8 261.8L376.2 262.2L396.2 262.2L396.8 262.8L478.8 262.2L479.2 262.8L478.8 266.8L479.8 267.8L485.2 270.8L486.2 270.8L492.2 274.8L497.2 276.8L503.2 280.8L508.2 282.8L514.2 286.8L519.2 288.8L525.2 292.8L530.2 294.8L536.2 298.8L537.2 298.8L543.8 302.8L547.8 304.2L547.8 126.2Z"/>
<path fill="#00ffe0" fill-rule="evenodd" d="M76.2 126.2L76.2 377.2L77.8 376.8L81.2 373.2L83.2 372.2L90.2 365.2L92.2 364.2L99.2 357.2L101.2 356.2L112.8 344.8L114.8 343.8L120.8 337.8L122.8 336.8L127.8 331.8L137.2 324.8L156.2 305.8L157.8 305.2L169.2 293.8L170.8 293.2L176.8 287.2L181.2 283.8L181.8 282.8L181.2 280.2L178.8 277.8L177.2 274.8L171.2 268.2L169.8 264.8L170.2 263.8L189.8 267.2L192.2 268.2L201.8 269.8L206.8 271.2L225.8 273.8L230.2 271.8L237.2 267.2L238.8 266.8L245.8 266.8L260.8 256.8L265.8 256.2L275.8 253.2L307.2 255.8L307.8 256.2L312.8 256.2L313.2 256.8L318.8 256.8L319.2 257.2L324.2 257.2L324.8 257.8L330.2 257.8L330.8 258.2L335.8 258.2L336.2 258.8L375.2 259.8L375.8 260.2L449.2 260.8L449.8 260.2L477.8 260.2L479.2 259.8L481.2 261.2L481.2 262.8L479.8 265.2L480.2 267.8L498.8 277.2L501.2 279.2L509.8 283.2L512.2 285.2L520.8 289.2L523.2 291.2L531.8 295.2L534.2 297.2L542.8 301.2L545.2 303.2L547.8 303.8L547.8 126.2Z"/>
<path fill="#00ffec" fill-rule="evenodd" d="M76.2 126.2L76.2 377.2L83.8 371.8L90.8 364.8L92.8 363.8L99.2 357.2L101.2 356.2L113.2 344.2L114.8 343.8L121.2 337.2L122.8 336.8L128.2 331.2L129.8 330.8L133.2 327.2L134.8 326.8L137.8 324.2L156.2 305.8L158.2 304.8L169.2 293.8L171.2 292.8L177.2 286.8L180.8 284.2L181.2 283.2L180.8 279.8L178.2 277.2L176.2 273.8L171.8 269.2L167.2 262.2L167.8 261.2L182.2 263.8L184.8 264.8L191.8 265.8L194.2 266.8L206.8 269.2L209.8 269.2L210.2 269.8L213.2 269.8L220.8 271.2L224.8 271.2L234.8 265.2L236.2 264.8L243.8 264.8L257.8 255.2L262.2 254.8L274.2 251.2L282.2 251.2L282.8 251.8L303.8 253.2L304.2 253.8L325.2 255.2L325.8 255.8L330.8 255.8L331.2 256.2L336.2 256.2L336.8 256.8L374.8 257.8L375.2 258.2L449.8 258.8L450.2 258.2L478.8 258.2L481.2 257.8L483.2 259.2L482.2 262.8L480.2 265.8L480.2 266.8L481.2 267.8L487.8 270.8L490.2 272.8L498.8 276.8L501.2 278.8L509.8 282.8L512.2 284.8L520.8 288.8L523.2 290.8L531.8 294.8L534.2 296.8L547.8 303.8L547.8 126.2Z"/>
<path fill="#00fff9" fill-rule="evenodd" d="M76.2 126.2L76.2 377.2L84.8 370.8L99.8 356.8L101.2 356.2L113.2 344.2L115.2 343.2L121.2 337.2L123.2 336.2L128.2 331.2L138.2 323.8L156.8 305.2L158.2 304.8L169.8 293.2L171.2 292.8L181.2 283.2L181.2 280.8L177.8 276.8L177.2 275.2L170.8 268.2L169.2 265.2L165.2 260.2L165.8 258.8L204.2 266.8L217.2 268.2L217.8 268.8L223.2 268.8L233.2 262.8L241.2 262.8L242.8 262.2L256.2 253.2L261.2 252.8L275.2 248.8L285.2 249.2L285.8 249.8L310.8 251.8L311.2 252.2L336.2 254.2L336.8 254.8L374.2 255.8L374.8 256.2L450.8 256.8L451.2 256.2L480.2 256.2L480.8 255.8L483.8 255.8L485.2 257.2L485.2 259.2L481.2 265.8L481.2 266.8L482.2 267.8L499.8 276.8L502.2 278.8L510.8 282.8L513.2 284.8L521.8 288.8L524.2 290.8L532.8 294.8L535.2 296.8L546.8 302.8L547.8 302.8L547.8 126.2Z"/>
<path fill="#00f9ff" fill-rule="evenodd" d="M76.2 126.2L76.2 377.2L82.2 372.8L97.8 358.2L101.8 355.8L113.2 344.2L115.2 343.2L121.2 337.2L123.2 336.2L128.2 331.2L130.2 330.2L133.2 327.2L138.8 323.2L156.8 305.2L158.8 304.2L169.8 293.2L171.8 292.2L180.8 283.8L181.2 282.8L180.8 280.2L178.8 278.2L176.8 274.8L171.2 269.2L169.2 265.8L163.2 258.8L163.8 256.8L166.8 256.8L201.2 264.2L220.2 266.8L223.8 265.2L230.8 260.8L240.8 260.2L254.2 251.2L260.2 250.8L276.2 246.2L306.8 249.2L307.2 249.8L311.8 249.8L316.8 250.8L321.2 250.8L326.2 251.8L336.2 252.2L336.8 252.8L373.8 253.8L374.2 254.2L450.8 254.8L451.2 254.2L481.2 254.2L481.8 253.8L485.8 253.8L489.2 256.8L491.2 256.2L493.8 254.2L511.8 267.2L531.2 280.2L534.8 283.2L543.8 289.2L544.8 289.2L545.8 290.2L547.8 290.2L547.8 126.2Z"/>
<path fill="#00ecff" fill-rule="evenodd" d="M76.2 126.2L76.2 377.2L82.2 372.8L98.2 357.8L101.8 355.8L113.8 343.8L115.8 342.8L121.8 336.8L123.8 335.8L128.8 330.8L130.8 329.8L139.8 322.2L156.8 305.2L159.8 303.2L169.8 293.2L172.8 291.2L180.8 283.8L181.2 282.8L180.8 280.2L178.2 277.8L175.8 273.8L170.2 268.2L168.8 265.2L162.8 258.8L161.2 255.2L161.8 254.2L174.2 256.2L176.8 257.2L183.8 258.2L186.2 259.2L201.2 262.2L204.2 262.2L204.8 262.8L207.8 262.8L215.2 264.2L219.2 264.2L229.8 258.2L238.8 258.2L251.2 249.8L259.2 248.8L261.2 247.8L274.8 244.2L281.8 244.2L286.2 245.2L294.8 245.8L295.2 246.2L316.2 248.2L316.8 248.8L324.8 249.2L325.2 249.8L335.8 250.2L336.2 250.8L374.8 251.8L375.2 252.2L448.2 252.8L448.8 252.2L482.8 252.2L483.2 251.8L489.8 252.2L491.2 251.2L493.2 251.2L510.2 262.8L512.2 264.8L523.2 271.8L525.2 273.8L533.2 278.8L535.2 280.8L544.2 286.8L547.8 288.2L547.8 126.2Z"/>
<path fill="#00e0ff" fill-rule="evenodd" d="M76.2 126.2L76.2 377.2L80.8 373.2L82.8 372.2L98.8 357.2L102.8 354.8L113.8 343.8L116.8 341.8L121.8 336.8L133.8 326.8L135.8 325.8L155.2 306.2L157.8 304.8L168.2 294.2L170.8 292.8L176.2 287.2L180.2 284.2L181.2 282.2L180.2 279.8L162.8 259.2L161.8 256.8L158.8 252.8L159.2 251.8L176.2 254.8L178.8 255.8L188.2 257.2L195.8 259.2L211.8 261.2L212.2 261.8L217.8 261.8L227.2 256.2L236.8 256.2L249.8 247.8L255.8 247.2L263.8 244.8L273.2 242.8L275.2 241.8L280.8 241.8L281.2 242.2L284.8 242.2L288.8 243.2L315.8 246.2L323.8 247.8L334.8 248.2L335.2 248.8L345.8 248.8L346.2 249.2L360.8 249.2L361.2 249.8L375.8 249.8L376.2 250.2L398.8 250.2L399.2 250.8L445.2 250.8L445.8 250.2L484.2 250.2L484.8 249.8L491.8 249.8L522.8 270.8L536.2 280.8L545.2 286.8L547.8 287.2L547.8 126.2Z"/>
<path fill="#00d3ff" fill-rule="evenodd" d="M76.2 126.2L76.2 376.8L77.2 376.8L80.8 373.2L82.8 372.2L89.8 365.2L91.8 364.2L98.8 357.2L100.8 356.2L112.2 344.8L114.2 343.8L120.2 337.8L122.2 336.8L127.2 331.8L136.8 324.8L155.8 305.8L157.8 304.8L168.8 293.8L170.8 292.8L180.8 283.2L180.8 280.8L176.8 275.2L170.8 269.2L168.8 265.8L163.8 260.8L161.8 257.2L156.2 250.2L156.8 249.2L171.2 251.8L173.8 252.8L180.8 253.8L183.2 254.8L195.8 257.2L214.8 259.8L224.8 254.2L234.2 254.2L235.8 253.8L247.8 245.8L254.8 245.2L266.2 241.8L272.2 240.8L275.2 239.2L287.2 240.2L287.8 240.8L290.8 240.8L291.2 241.2L294.2 241.2L294.8 241.8L297.8 241.8L298.2 242.2L301.2 242.2L301.8 242.8L304.8 242.8L305.2 243.2L308.2 243.2L308.8 243.8L311.8 243.8L312.2 244.2L315.2 244.2L322.8 245.8L333.8 246.2L334.2 246.8L344.8 246.8L345.2 247.2L361.2 247.2L361.8 247.8L377.2 247.8L377.8 248.2L403.2 248.2L403.8 248.8L485.2 248.2L485.8 247.8L491.2 247.8L492.8 249.8L511.2 262.2L513.2 264.2L524.2 271.2L536.2 280.2L545.2 286.2L547.8 287.2L547.8 126.2Z"/>
<path fill="#00c6ff" fill-rule="evenodd" d="M76.2 126.2L76.2 376.8L77.2 376.8L81.2 372.8L82.8 372.2L90.2 364.8L91.8 364.2L98.8 357.2L100.8 356.2L112.2 344.8L114.2 343.8L120.2 337.8L122.2 336.8L127.2 331.8L136.8 324.8L156.2 305.2L157.8 304.8L169.2 293.2L170.8 292.8L180.8 283.2L180.8 280.8L178.2 278.2L176.2 274.8L170.2 268.8L167.8 264.8L162.8 259.8L161.2 256.8L155.8 250.8L154.8 248.8L154.8 247.8L155.8 246.8L192.8 254.8L209.2 256.8L209.8 257.2L213.2 257.2L223.8 251.8L228.8 251.8L229.2 252.2L233.8 251.8L243.8 244.8L246.2 243.8L253.8 243.2L263.2 240.2L269.8 239.2L275.2 236.8L279.8 236.8L286.2 238.2L289.2 238.2L292.8 239.2L295.8 239.2L296.2 239.8L311.8 241.8L315.2 242.8L318.2 242.8L321.8 243.8L325.2 243.8L325.8 244.2L343.8 244.8L344.2 245.2L361.2 245.2L361.8 245.8L378.8 245.8L379.2 246.2L408.2 246.2L408.8 246.8L486.2 246.2L486.8 245.8L492.2 245.8L492.8 248.2L494.8 250.8L522.8 269.8L536.2 279.8L545.2 285.8L547.8 286.8L547.8 126.2Z"/>
<path fill="#00baff" fill-rule="evenodd" d="M76.2 126.2L76.2 376.8L77.8 376.2L81.2 372.8L83.2 371.8L99.2 356.8L100.8 356.2L112.8 344.2L114.8 343.2L120.8 337.2L122.8 336.2L127.8 331.2L137.8 323.8L156.2 305.2L158.2 304.2L169.2 293.2L171.2 292.2L180.2 283.8L180.8 282.8L180.2 280.2L177.8 277.8L177.2 276.2L169.8 268.2L169.2 266.8L162.2 259.2L159.2 254.8L155.2 250.8L152.8 246.2L153.2 244.8L155.8 244.8L168.2 247.2L170.8 248.2L177.8 249.2L190.2 252.2L206.2 254.2L206.8 254.8L212.2 254.8L220.8 249.8L231.8 249.8L242.8 242.2L250.2 241.8L264.2 237.8L269.2 237.2L275.2 234.2L279.2 234.2L279.8 234.8L288.2 235.8L291.2 236.8L293.8 236.8L294.2 237.2L296.8 237.2L297.2 237.8L299.8 237.8L300.2 238.2L302.8 238.2L303.2 238.8L305.8 238.8L324.2 242.2L342.2 242.8L342.8 243.2L361.8 243.2L362.2 243.8L380.8 243.8L381.2 244.2L413.2 244.2L413.8 244.8L487.2 244.2L487.8 243.8L492.2 243.8L493.2 243.2L494.8 244.8L493.8 247.2L493.8 249.2L495.2 250.8L523.2 269.8L535.2 278.8L545.8 285.8L547.8 286.2L547.8 126.2Z"/>
<path fill="#00adff" fill-rule="evenodd" d="M76.2 126.2L76.2 376.8L77.8 376.2L81.2 372.8L83.8 371.2L99.2 356.8L101.2 355.8L113.2 343.8L114.8 343.2L121.2 336.8L122.8 336.2L128.2 330.8L129.8 330.2L133.2 326.8L134.8 326.2L138.2 323.2L156.8 304.8L158.8 303.8L169.8 292.8L171.8 291.8L180.2 283.8L180.8 282.8L180.2 280.2L177.8 277.8L176.8 275.8L171.2 270.2L168.8 266.2L162.8 260.2L160.8 256.8L154.2 249.8L153.2 247.2L150.2 243.8L150.8 242.2L160.8 243.8L163.2 244.8L184.8 248.8L187.2 249.8L208.8 252.8L211.8 251.8L218.2 247.8L229.2 247.8L230.8 247.2L241.2 240.2L249.2 239.8L261.2 236.2L266.2 235.8L275.2 231.8L279.2 231.8L284.8 233.2L287.2 233.2L290.2 234.2L309.2 237.2L320.2 239.8L328.8 240.2L329.2 240.8L383.2 241.8L383.8 242.2L418.2 242.2L418.8 242.8L424.2 242.8L424.8 242.2L488.2 242.2L488.8 241.8L495.2 241.2L496.8 242.2L494.2 247.8L494.2 249.2L495.8 250.8L523.8 269.8L535.8 278.8L546.2 285.8L547.8 285.8L547.8 126.2Z"/>
<path fill="#00a1ff" fill-rule="evenodd" d="M76.2 126.2L76.2 376.8L84.2 370.8L90.8 364.2L93.2 362.8L99.2 356.8L101.2 355.8L113.2 343.8L115.2 342.8L121.2 336.8L123.2 335.8L128.2 330.8L130.2 329.8L133.2 326.8L138.8 322.8L156.8 304.8L159.2 303.2L169.8 292.8L172.2 291.2L179.2 284.8L180.8 282.8L180.8 281.2L177.2 277.2L176.8 275.8L170.2 269.2L167.8 265.2L162.2 259.8L159.8 255.8L154.8 250.8L153.2 247.8L147.8 240.8L148.2 239.8L165.2 242.8L167.8 243.8L174.8 244.8L187.2 247.8L207.8 250.2L217.2 245.2L220.2 245.2L220.8 245.8L227.2 245.8L228.8 245.2L239.2 238.2L245.8 238.2L260.2 234.2L265.8 233.8L275.2 229.2L278.8 229.2L326.2 238.8L386.8 239.8L387.2 240.2L488.2 240.2L488.8 239.8L497.2 239.2L498.8 240.8L494.8 247.8L494.8 249.2L500.8 253.2L506.2 257.8L510.8 260.2L516.2 264.8L523.8 269.2L529.2 273.8L533.8 276.2L539.2 280.8L540.8 281.2L545.2 284.8L547.8 285.8L547.8 126.2Z"/>
<path fill="#0094ff" fill-rule="evenodd" d="M76.2 126.2L76.2 376.8L82.2 372.2L97.8 357.8L101.8 355.2L113.2 343.8L115.2 342.8L121.2 336.8L123.2 335.8L128.2 330.8L135.2 325.8L155.2 305.8L157.2 304.8L168.2 293.8L170.2 292.8L180.2 283.2L180.8 281.8L176.2 275.2L169.8 268.8L168.8 266.8L154.2 250.2L152.2 246.8L148.2 242.8L146.2 239.2L146.8 237.2L184.8 245.2L201.2 247.2L201.8 247.8L207.8 247.2L214.2 243.2L222.2 243.2L222.8 243.8L226.8 243.2L236.2 236.8L237.8 236.2L244.8 236.2L256.8 232.8L265.2 231.8L275.2 226.8L278.8 226.8L283.8 227.8L286.2 228.8L293.2 229.8L295.8 230.8L302.8 231.8L305.2 232.8L312.2 233.8L324.8 236.8L362.8 237.2L363.2 237.8L391.8 237.8L392.2 238.2L487.8 238.2L488.2 237.8L499.2 237.2L500.2 238.2L500.2 239.8L499.2 242.2L495.8 246.8L495.2 248.2L495.8 249.8L500.8 252.8L506.2 257.2L510.8 259.8L516.2 264.2L523.8 268.8L529.2 273.2L533.8 275.8L539.2 280.2L540.8 280.8L545.2 284.2L547.8 285.2L547.8 126.2Z"/>
<path fill="#0088ff" fill-rule="evenodd" d="M76.2 126.2L76.2 376.8L82.2 372.2L98.2 357.2L102.2 354.8L113.2 343.8L115.8 342.2L121.2 336.8L135.8 325.2L155.8 305.2L157.8 304.2L168.8 293.2L170.8 292.2L180.2 283.2L180.2 280.8L177.8 278.2L175.2 274.2L162.8 260.8L160.8 257.2L154.8 251.2L152.8 247.8L146.8 241.2L143.8 235.8L144.8 234.8L181.8 242.8L198.2 244.8L198.8 245.2L205.2 245.2L211.8 241.2L224.8 241.2L234.2 234.8L243.8 234.2L253.8 231.2L262.8 230.2L273.8 224.8L278.8 224.2L285.8 226.2L301.2 229.2L305.8 230.8L321.2 233.8L323.8 234.8L363.8 235.2L364.2 235.8L396.8 235.8L397.2 236.2L478.8 236.2L479.2 235.8L501.8 235.2L502.8 237.2L500.2 242.2L496.2 247.2L496.2 249.2L504.2 255.2L512.2 260.2L514.2 262.2L535.2 276.2L537.2 278.2L547.8 284.8L547.8 126.2Z"/>
<path fill="#007bff" fill-rule="evenodd" d="M76.2 126.2L76.2 376.8L80.8 372.8L82.2 372.2L98.2 357.2L100.2 356.2L111.8 344.8L114.2 343.2L119.8 337.8L122.2 336.2L131.8 327.8L136.2 324.8L155.8 305.2L157.8 304.2L168.8 293.2L170.8 292.2L180.2 283.2L180.2 280.8L177.8 278.2L176.8 276.2L171.2 270.8L168.2 266.2L161.8 259.8L159.8 256.2L154.2 250.8L151.8 246.8L147.2 242.2L145.8 239.2L142.2 235.2L141.2 233.2L141.8 232.8L144.8 232.8L181.8 240.8L202.2 243.2L209.2 239.2L211.2 238.8L213.2 239.2L222.2 239.2L232.8 232.8L240.2 232.8L252.8 229.2L261.8 228.2L273.8 222.2L278.8 221.8L323.8 232.8L364.8 233.2L365.2 233.8L401.2 233.8L401.8 234.2L468.2 234.2L468.8 233.8L497.8 233.8L498.2 233.2L503.8 233.2L505.8 235.2L505.2 237.8L501.8 243.2L497.8 247.8L497.8 248.8L513.2 259.2L515.2 261.2L526.2 268.2L528.2 270.2L536.2 275.2L538.2 277.2L547.8 283.2L547.8 126.2Z"/>
<path fill="#006fff" fill-rule="evenodd" d="M76.2 126.2L76.2 376.8L80.8 372.8L82.8 371.8L98.8 356.8L100.2 356.2L112.2 344.2L114.2 343.2L120.2 337.2L122.2 336.2L127.2 331.2L136.8 324.2L156.2 304.8L157.8 304.2L169.2 292.8L170.8 292.2L177.8 285.8L180.2 282.8L179.8 280.2L177.2 277.8L176.2 275.8L169.8 269.2L167.8 265.8L161.8 259.8L160.8 257.8L156.2 253.2L152.8 248.2L146.2 241.2L144.8 238.2L139.2 231.8L139.8 230.2L149.8 231.8L152.2 232.8L159.2 233.8L161.8 234.8L171.2 236.2L178.8 238.2L181.8 238.2L182.2 238.8L185.2 238.8L185.8 239.2L188.8 239.2L196.2 240.8L200.8 240.8L208.2 236.8L220.2 237.2L228.8 231.8L231.2 230.8L239.2 230.8L251.8 227.2L261.2 226.2L271.8 220.8L277.2 219.2L294.2 223.8L296.2 223.8L302.8 225.8L304.8 225.8L309.2 227.2L311.2 227.2L315.8 228.8L325.8 230.8L367.8 231.2L368.2 231.8L404.8 231.8L405.2 232.2L498.8 231.8L499.2 231.2L509.8 230.8L519.8 238.2L522.8 241.2L524.8 242.2L527.8 245.2L529.8 246.2L532.8 249.2L534.8 250.2L537.8 253.2L539.8 254.2L542.8 257.2L547.8 260.2L547.8 126.2Z"/>
<path fill="#0062ff" fill-rule="evenodd" d="M76.2 126.2L76.2 376.8L80.8 372.8L82.8 371.8L98.8 356.8L100.8 355.8L112.8 343.8L114.2 343.2L120.8 336.8L122.2 336.2L127.8 330.8L129.2 330.2L132.8 326.8L134.2 326.2L137.2 323.8L156.2 304.8L158.2 303.8L169.2 292.8L171.2 291.8L178.8 284.8L180.2 282.8L179.8 280.2L176.8 277.2L176.2 275.8L169.8 269.2L168.8 267.2L161.2 259.2L160.2 257.2L154.2 251.2L152.2 247.8L146.8 242.2L145.2 239.2L139.2 232.8L137.8 229.2L138.2 227.8L176.2 235.8L192.8 237.8L193.2 238.2L199.2 238.2L205.2 234.8L215.8 234.8L216.2 235.2L219.8 234.8L226.8 229.8L229.8 228.8L238.2 228.8L248.8 225.8L258.8 224.8L270.8 218.8L275.8 217.2L277.8 217.2L298.8 222.8L316.8 226.2L319.2 227.2L324.2 227.8L324.8 228.2L331.2 228.2L331.8 228.8L370.8 229.2L371.2 229.8L407.2 229.8L407.8 230.2L498.8 229.8L499.2 229.2L508.2 228.8L513.8 232.8L516.8 235.8L518.8 236.8L521.8 239.8L523.8 240.8L526.8 243.8L528.8 244.8L531.8 247.8L533.8 248.8L536.8 251.8L538.8 252.8L541.8 255.8L545.8 258.8L547.8 259.2L547.8 126.2Z"/>
<path fill="#0056ff" fill-rule="evenodd" d="M76.2 126.2L76.2 376.2L77.8 375.8L81.2 372.2L83.2 371.2L90.2 364.2L92.2 363.2L98.8 356.8L100.8 355.8L112.8 343.8L114.8 342.8L120.8 336.8L122.8 335.8L127.8 330.8L129.8 329.8L132.8 326.8L138.2 322.8L156.2 304.8L158.8 303.2L180.2 282.8L180.2 281.2L175.8 275.2L162.2 260.8L159.8 256.8L153.8 250.8L153.2 249.2L145.8 241.2L143.8 237.8L139.2 233.2L135.2 226.8L135.8 225.2L168.2 231.8L173.2 233.2L189.8 235.2L190.2 235.8L193.8 235.8L194.2 236.2L196.8 236.2L202.8 232.8L217.8 232.8L226.2 227.2L234.8 227.2L247.8 223.8L258.2 222.8L268.8 217.2L272.2 216.8L275.2 215.2L278.2 215.2L299.2 220.8L327.2 226.2L354.8 226.8L355.2 227.2L374.2 227.2L374.8 227.8L409.2 227.8L409.8 228.2L490.2 227.8L490.8 227.2L506.2 227.2L507.2 226.8L511.2 230.8L541.2 254.8L547.8 259.2L547.8 126.2Z"/>
<path fill="#0049ff" fill-rule="evenodd" d="M76.2 126.2L76.2 376.2L83.8 370.8L99.2 356.2L100.8 355.8L112.8 343.8L114.8 342.8L120.8 336.8L122.8 335.8L127.8 330.8L134.8 325.8L154.8 305.8L157.2 304.2L167.8 293.8L170.2 292.2L176.2 286.8L180.2 282.2L176.8 276.8L168.8 268.2L168.2 266.8L161.8 260.2L160.8 258.2L153.2 250.2L152.8 248.8L147.2 243.2L144.8 239.2L138.2 232.2L136.8 229.2L132.8 224.2L133.8 222.8L173.2 231.2L176.2 231.2L176.8 231.8L179.8 231.8L180.2 232.2L183.2 232.2L190.8 233.8L195.2 233.8L201.8 230.2L215.2 230.8L224.2 225.2L234.2 225.2L244.2 222.2L255.8 221.2L266.8 215.8L271.2 215.2L274.8 213.2L278.8 213.2L301.8 219.2L314.2 221.8L316.8 221.8L325.8 223.8L333.8 223.8L334.2 224.2L345.8 224.2L346.2 224.8L357.8 224.8L358.2 225.2L377.2 225.2L377.8 225.8L411.8 225.8L412.2 226.2L481.8 225.8L482.2 225.2L507.2 225.2L508.8 224.8L510.2 226.2L509.8 227.8L511.8 230.8L541.8 254.8L547.8 258.8L547.8 126.2Z"/>
<path fill="#003cff" fill-rule="evenodd" d="M76.2 126.2L76.2 376.2L81.8 372.2L97.2 357.8L101.2 355.2L113.2 343.2L115.2 342.2L121.2 336.2L123.2 335.2L128.2 330.2L135.2 325.2L155.2 305.2L157.2 304.2L168.2 293.2L170.2 292.2L176.8 286.2L180.2 282.2L179.8 280.8L177.2 278.2L176.2 276.2L169.8 269.8L167.8 266.2L161.2 259.8L160.8 258.2L154.2 251.8L152.2 248.2L146.2 242.2L144.2 238.8L138.8 233.2L137.2 230.2L130.8 222.2L131.2 220.8L143.8 222.8L146.2 223.8L165.2 227.2L167.8 228.2L187.2 230.8L187.8 231.2L193.8 231.2L199.2 228.2L213.2 228.8L222.8 223.2L232.8 223.2L243.8 220.2L254.8 219.2L264.8 214.2L270.2 213.8L274.2 211.2L276.2 210.8L302.2 217.2L324.2 220.8L324.8 221.2L329.2 221.2L329.8 221.8L339.8 221.8L340.2 222.2L360.2 222.8L360.8 223.2L413.8 223.8L414.2 224.2L475.8 223.8L476.2 223.2L497.8 223.2L498.2 222.8L508.2 223.2L510.8 222.8L511.8 223.8L510.8 228.8L512.2 230.8L514.2 231.8L517.2 234.8L519.2 235.8L522.2 238.8L524.2 239.8L542.2 254.8L547.8 258.2L547.8 126.2Z"/>
<path fill="#0030ff" fill-rule="evenodd" d="M76.2 126.2L76.2 376.2L82.2 371.8L97.8 357.2L102.2 354.2L113.2 343.2L115.8 341.8L121.2 336.2L135.8 324.8L155.8 304.8L157.8 303.8L168.8 292.8L170.8 291.8L177.2 285.8L179.8 282.8L179.8 280.8L176.8 277.8L176.2 276.2L169.2 269.2L168.8 267.8L160.8 259.2L160.2 257.8L153.8 251.2L150.8 246.8L145.8 241.8L144.8 239.8L137.8 232.2L135.8 228.8L132.2 225.2L129.2 220.2L129.8 218.2L167.8 226.2L184.2 228.2L184.8 228.8L188.2 228.8L188.8 229.2L192.2 228.8L196.2 226.2L212.8 226.2L219.2 221.8L221.8 221.8L222.2 221.2L229.2 221.8L240.2 218.8L252.2 217.8L264.2 212.2L270.8 211.8L274.8 208.8L279.8 209.2L300.2 214.8L310.8 216.2L313.8 217.2L319.8 217.8L320.2 218.2L327.2 218.8L327.8 219.2L361.8 220.8L362.2 221.2L426.8 222.2L427.2 221.8L469.2 221.8L469.8 221.2L493.8 221.2L494.2 220.8L508.8 221.2L509.2 220.8L512.8 220.8L513.2 223.2L511.2 226.8L511.8 229.8L519.8 235.8L522.8 238.8L524.8 239.8L527.8 242.8L529.8 243.8L532.8 246.8L534.8 247.8L537.8 250.8L539.8 251.8L542.8 254.8L546.8 257.8L547.8 257.8L547.8 126.2Z"/>
<path fill="#0023ff" fill-rule="evenodd" d="M76.2 126.2L76.2 376.2L82.2 371.8L98.2 356.8L100.2 355.8L111.8 344.2L113.8 343.2L119.8 337.2L121.8 336.2L126.8 331.2L136.2 324.2L155.8 304.8L157.8 303.8L168.8 292.8L170.8 291.8L178.2 284.8L179.8 282.8L179.2 280.2L176.8 277.8L175.8 275.8L161.8 260.8L159.8 257.2L153.2 250.8L152.8 249.2L146.8 243.2L144.2 239.2L138.8 233.8L136.8 230.2L130.2 223.2L126.8 217.2L127.2 215.8L167.8 224.2L181.8 225.8L185.8 226.8L189.8 226.8L193.8 224.2L195.8 223.8L198.2 224.2L210.2 224.2L217.8 219.8L228.8 219.8L237.2 217.2L251.8 215.8L262.2 210.8L269.8 210.2L274.2 206.8L280.2 207.2L303.2 213.2L318.2 215.2L318.8 215.8L321.8 215.8L322.2 216.2L331.8 216.8L332.2 217.2L339.8 217.2L340.2 217.8L347.2 217.8L347.8 218.2L355.2 218.2L355.8 218.8L363.2 218.8L363.8 219.2L423.8 220.2L424.2 219.8L462.8 219.8L463.2 219.2L488.2 219.2L488.8 218.8L514.8 218.8L515.8 220.2L511.8 227.2L511.8 229.2L518.2 234.8L520.2 235.8L523.2 238.8L525.2 239.8L528.2 242.8L530.2 243.8L533.2 246.8L535.2 247.8L538.2 250.8L540.2 251.8L543.2 254.8L547.8 257.8L547.8 126.2Z"/>
<path fill="#0017ff" fill-rule="evenodd" d="M76.2 126.2L76.2 376.2L80.8 372.2L82.2 371.8L98.2 356.8L100.2 355.8L112.2 343.8L114.2 342.8L120.2 336.8L122.2 335.8L127.2 330.8L137.2 323.2L156.2 304.2L158.2 303.2L179.8 282.8L179.8 281.2L175.2 275.2L161.2 260.2L160.2 258.2L152.8 250.2L152.2 248.8L145.8 242.2L143.8 238.8L137.8 232.8L135.8 229.2L130.8 224.2L129.2 221.2L124.8 215.8L124.2 214.2L125.2 213.2L162.2 221.2L182.2 223.8L182.8 224.2L188.2 224.2L192.8 221.8L208.2 222.2L216.2 217.8L227.8 217.8L236.2 215.2L248.8 214.2L252.2 213.2L260.2 209.2L267.2 209.2L268.8 208.8L273.8 204.8L278.2 204.8L301.2 210.8L316.2 212.8L316.8 213.2L329.2 214.2L329.8 214.8L364.2 216.8L364.8 217.2L457.2 217.8L457.8 217.2L483.8 217.2L484.2 216.8L499.8 216.8L500.2 216.2L516.8 216.8L517.2 217.2L517.2 219.8L512.2 227.2L512.2 229.2L520.2 235.2L523.2 238.2L525.2 239.2L528.2 242.2L530.2 243.2L533.2 246.2L535.2 247.2L538.2 250.2L540.2 251.2L543.2 254.2L547.8 257.2L547.8 126.2Z"/>
<path fill="#000aff" fill-rule="evenodd" d="M76.2 126.2L76.2 376.2L80.8 372.2L82.8 371.2L98.8 356.2L100.2 355.8L112.2 343.8L114.2 342.8L120.2 336.8L122.2 335.8L127.2 330.8L129.2 329.8L138.8 321.8L156.2 304.2L158.8 302.8L179.8 282.8L179.8 281.2L177.2 278.8L176.2 276.8L170.8 271.2L167.8 266.8L160.8 259.8L160.2 258.2L153.8 251.8L151.8 248.2L145.2 241.8L144.8 240.2L129.8 223.2L128.2 220.2L123.8 215.2L122.8 212.8L123.2 211.2L128.2 211.8L130.8 212.8L137.8 213.8L140.2 214.8L147.2 215.8L149.8 216.8L162.2 219.2L175.8 220.8L183.2 222.2L186.8 221.8L190.2 219.8L205.8 220.2L207.8 219.8L211.8 216.8L214.8 215.8L223.8 216.2L232.8 213.8L248.8 212.2L258.2 207.8L266.2 207.8L267.8 207.2L273.2 202.8L278.8 202.8L303.8 209.2L306.8 209.2L314.2 210.8L327.2 211.8L327.8 212.2L333.2 212.2L333.8 212.8L345.8 213.2L346.2 213.8L365.2 214.8L365.8 215.2L452.2 215.8L452.8 215.2L479.8 215.2L480.2 214.8L495.8 214.8L496.2 214.2L518.8 214.8L519.2 215.2L518.8 218.8L512.8 227.2L512.8 228.8L547.8 256.8L547.8 126.2Z"/>
<path fill="#0200ff" fill-rule="evenodd" d="M76.2 126.2L76.2 376.2L81.2 371.8L83.2 370.8L98.8 356.2L100.8 355.2L112.8 343.2L114.8 342.2L120.8 336.2L122.8 335.2L127.8 330.2L134.8 325.2L154.8 305.2L157.2 303.8L167.8 293.2L170.2 291.8L176.2 286.2L179.8 282.2L179.2 280.8L176.8 278.2L175.8 276.2L169.2 269.8L165.8 264.8L153.2 251.2L152.2 249.2L144.8 241.2L144.2 239.8L137.8 233.2L135.8 229.8L130.2 224.2L128.8 221.2L123.2 215.2L122.2 212.8L120.2 210.2L120.8 208.8L132.8 210.8L135.2 211.8L142.2 212.8L144.8 213.8L151.8 214.8L159.2 216.8L169.2 217.8L169.8 218.2L172.8 218.2L180.2 219.8L183.8 219.8L189.8 217.2L190.8 217.8L205.2 217.8L211.2 214.2L223.2 214.2L232.2 211.8L247.8 210.2L256.2 206.2L265.2 206.2L266.8 205.8L273.8 200.2L281.8 201.2L293.8 204.8L307.8 207.8L319.8 208.8L320.2 209.2L325.2 209.2L325.8 209.8L330.8 209.8L331.2 210.2L354.2 211.8L354.8 212.2L367.2 212.8L367.8 213.2L444.8 213.8L445.2 213.2L475.2 213.2L475.8 212.8L490.8 212.8L491.2 212.2L506.2 212.2L506.8 211.8L513.8 212.2L514.2 212.8L520.2 212.8L520.8 213.2L520.8 215.8L519.8 219.8L515.2 225.2L513.8 228.8L521.2 234.2L524.2 237.2L526.2 238.2L529.2 241.2L531.2 242.2L534.2 245.2L536.2 246.2L539.2 249.2L541.2 250.2L544.8 253.8L547.8 255.2L547.8 126.2Z"/>
<path fill="#0f00ff" fill-rule="evenodd" d="M76.2 126.2L76.2 375.8L81.8 371.8L97.2 357.2L101.2 354.8L112.8 343.2L114.8 342.2L120.8 336.2L122.8 335.2L127.8 330.2L134.8 325.2L155.2 304.8L157.2 303.8L168.2 292.8L170.2 291.8L177.2 285.2L179.8 282.2L179.2 280.8L176.8 278.2L175.8 276.2L161.8 261.2L159.2 257.2L145.8 242.8L143.2 238.8L137.2 232.8L136.8 231.2L123.2 215.8L122.2 213.2L118.8 209.2L117.8 207.2L118.2 206.2L125.2 207.2L127.8 208.2L134.8 209.2L137.2 210.2L144.2 211.2L156.8 214.2L176.8 216.8L177.2 217.2L182.8 217.2L186.2 215.2L203.2 215.8L209.2 212.2L222.2 212.2L228.8 210.2L240.2 209.2L240.8 208.8L245.2 208.8L254.2 204.8L257.2 204.8L257.8 204.2L264.2 204.8L265.8 204.2L273.2 198.2L282.2 199.2L304.8 205.2L308.2 205.2L308.8 205.8L316.2 206.2L316.8 206.8L334.2 207.8L334.8 208.2L365.8 210.2L366.2 210.8L449.2 211.2L449.8 210.8L477.8 210.8L478.2 210.2L501.2 210.2L501.8 209.8L520.8 210.2L522.2 211.2L522.2 213.2L521.2 215.2L521.2 218.8L544.8 250.2L546.2 251.8L547.8 252.2L547.8 126.2Z"/>
<path fill="#1b00ff" fill-rule="evenodd" d="M76.2 375.8L81.8 371.8L97.8 356.8L99.8 355.8L110.8 344.8L113.8 342.8L118.8 337.8L135.8 324.2L155.8 304.2L157.8 303.2L179.2 282.8L179.2 281.2L175.2 275.8L161.2 260.8L160.2 258.8L154.8 253.2L151.8 248.8L145.2 242.2L144.2 240.2L136.8 232.2L136.2 230.8L130.2 224.8L128.2 221.2L123.8 216.8L121.8 213.2L116.2 206.8L115.8 204.8L116.8 203.8L139.2 208.2L141.8 209.2L148.8 210.2L153.8 211.8L173.8 214.2L174.2 214.8L177.8 214.8L178.2 215.2L181.2 214.8L183.8 213.2L201.2 213.8L207.8 210.2L217.8 210.8L228.2 208.2L244.8 206.8L250.8 203.8L255.2 202.8L263.8 203.2L265.8 202.2L272.8 196.2L282.8 197.2L288.8 199.2L292.2 199.8L295.8 201.2L305.2 203.2L317.2 204.2L317.8 204.8L353.8 206.8L354.2 207.2L360.8 207.2L361.2 207.8L403.2 208.2L403.8 208.8L437.8 208.8L438.2 208.2L467.8 208.2L468.2 207.8L514.8 207.8L515.2 208.2L523.8 208.2L524.8 209.2L524.8 210.8L522.2 215.2L522.8 218.8L546.2 250.2L547.8 250.8L547.8 126.2L76.2 126.2Z"/>
<path fill="#2800ff" fill-rule="evenodd" d="M76.2 375.8L82.2 371.2L98.2 356.2L99.8 355.8L111.8 343.8L113.8 342.8L119.8 336.8L121.8 335.8L126.8 330.8L136.8 323.2L155.8 304.2L157.8 303.2L179.2 282.8L179.2 281.2L176.2 277.2L168.2 268.8L167.2 266.8L160.8 260.2L159.8 258.2L153.2 251.8L152.2 249.8L144.8 241.8L143.8 239.8L137.8 233.8L134.8 229.2L129.2 223.8L126.8 219.8L122.8 215.8L120.8 212.2L115.2 206.2L113.8 202.2L114.2 201.8L122.2 202.8L124.8 203.8L131.8 204.8L134.2 205.8L141.2 206.8L153.8 209.8L156.8 209.8L157.2 210.2L160.2 210.2L160.8 210.8L163.8 210.8L164.2 211.2L167.2 211.2L174.8 212.8L178.2 212.8L181.2 211.2L198.8 211.8L204.2 208.8L217.8 208.8L224.8 206.8L236.2 205.8L236.8 205.2L241.8 205.2L245.2 204.2L249.8 201.8L252.8 201.8L253.2 201.2L262.8 201.8L264.8 200.8L272.2 194.2L276.8 194.2L277.2 194.8L283.2 195.2L299.8 200.2L313.2 201.8L313.8 202.2L336.2 203.2L336.8 203.8L345.2 203.8L345.8 204.2L354.2 204.2L354.8 204.8L363.2 204.8L363.8 205.2L415.2 205.8L415.8 206.2L456.2 205.8L456.8 205.2L493.2 205.2L493.8 205.8L525.2 206.2L526.8 208.2L526.8 211.2L523.8 215.8L523.8 217.2L547.8 248.8L547.8 126.2L76.2 126.2Z"/>
<path fill="#3400ff" fill-rule="evenodd" d="M76.2 375.8L80.8 371.8L82.2 371.2L98.2 356.2L100.2 355.2L112.2 343.2L114.2 342.2L120.2 336.2L122.2 335.2L127.2 330.2L134.2 325.2L153.8 305.8L156.8 303.8L166.8 293.8L169.8 291.8L179.2 282.8L179.2 281.2L176.8 278.8L175.8 276.8L169.2 270.2L168.2 268.2L160.2 259.8L159.2 257.8L152.8 251.2L151.8 249.2L145.8 243.2L143.2 239.2L136.8 232.8L136.2 231.2L130.8 225.8L128.2 221.8L123.2 216.8L121.2 213.2L115.2 206.8L114.2 204.2L111.2 200.2L111.8 199.2L117.2 199.8L119.8 200.8L126.8 201.8L129.2 202.8L136.2 203.8L148.2 206.8L171.2 209.8L171.8 210.2L176.8 210.2L180.2 208.8L183.2 208.8L183.8 209.2L198.2 209.2L202.8 206.8L216.8 206.8L224.8 204.8L241.8 203.2L247.8 200.2L250.8 200.2L251.2 199.8L261.8 200.2L263.8 199.2L270.8 192.8L272.8 191.8L280.2 192.8L299.8 198.2L313.8 199.8L314.2 200.2L318.8 200.2L319.2 200.8L343.2 201.2L343.8 201.8L354.8 201.8L355.2 202.2L365.8 202.2L366.2 202.8L394.2 202.8L394.8 203.2L488.2 202.8L488.8 203.2L520.8 203.8L521.2 204.2L526.8 204.2L527.2 204.8L527.2 207.8L528.8 211.2L534.8 218.2L538.8 224.2L541.8 227.2L545.8 233.2L547.8 234.2L547.8 126.2L76.2 126.2Z"/>
<path fill="#4100ff" fill-rule="evenodd" d="M76.2 375.8L80.8 371.8L82.8 370.8L98.8 355.8L100.2 355.2L112.8 342.8L114.2 342.2L120.8 335.8L122.2 335.2L127.8 329.8L129.2 329.2L132.8 325.8L134.2 325.2L154.8 304.8L156.8 303.8L167.8 292.8L169.8 291.8L176.8 285.2L179.2 282.2L178.8 280.8L176.2 278.2L175.2 276.2L161.2 261.2L157.8 256.2L144.8 242.2L144.2 240.8L138.2 234.8L135.8 230.8L129.2 224.2L126.8 220.2L115.2 207.2L113.8 204.2L108.8 197.8L109.2 196.8L119.2 198.2L121.8 199.2L128.8 200.2L131.2 201.2L138.2 202.2L148.2 204.8L168.2 207.2L168.8 207.8L172.8 207.8L173.2 208.2L175.8 207.8L177.2 206.8L196.2 207.2L201.2 204.8L215.8 204.8L220.8 203.2L224.2 203.2L224.8 202.8L228.2 202.8L232.8 201.8L238.2 201.8L240.8 201.2L245.8 198.8L248.2 198.8L248.8 198.2L260.8 198.8L262.8 197.8L270.2 190.8L272.2 189.8L277.2 190.2L281.2 191.8L300.8 196.2L310.8 197.2L314.8 198.2L318.8 198.2L319.2 198.8L337.8 198.8L338.2 199.2L355.2 199.2L355.8 199.8L372.2 199.8L372.8 200.2L401.2 200.2L401.8 200.8L486.2 200.2L486.8 200.8L498.2 200.8L498.8 201.2L510.2 201.2L510.8 201.8L527.2 201.8L529.8 203.2L528.2 206.8L528.2 208.2L529.2 210.2L546.2 232.2L547.8 233.2L547.8 126.2L76.2 126.2Z"/>
<path fill="#4d00ff" fill-rule="evenodd" d="M76.2 375.2L81.8 371.2L96.8 357.2L101.2 354.2L112.8 342.8L115.2 341.2L120.8 335.8L123.2 334.2L132.8 325.8L134.8 324.8L155.2 304.2L157.2 303.2L178.8 282.8L178.8 281.2L174.8 275.8L168.2 269.2L167.2 267.2L153.2 252.2L149.8 247.2L137.2 233.8L136.2 231.8L128.8 223.8L128.2 222.2L122.8 216.8L120.8 213.2L115.8 208.2L112.2 202.8L107.2 196.8L107.8 194.2L148.2 202.8L151.2 202.8L151.8 203.2L154.8 203.2L155.2 203.8L158.2 203.8L165.8 205.2L169.2 205.2L169.8 205.8L172.8 205.8L174.8 204.8L194.2 205.2L197.8 203.2L200.2 202.8L212.2 203.2L214.8 202.2L220.2 201.8L220.8 201.2L232.8 200.2L233.2 199.8L238.2 199.8L243.8 197.2L246.2 197.2L246.8 196.8L259.8 197.2L261.8 196.2L269.2 189.2L271.8 187.8L274.2 187.8L283.2 190.8L298.2 193.8L314.8 195.8L315.2 196.2L318.8 196.2L319.2 196.8L355.8 196.8L356.2 197.2L408.2 197.8L408.8 198.2L471.2 197.8L471.8 197.2L475.2 197.2L475.8 197.8L504.2 198.8L504.8 199.2L513.2 199.2L513.8 199.8L522.2 199.8L522.8 200.2L529.8 199.8L531.8 201.2L531.2 204.2L529.2 206.8L529.8 209.2L533.8 214.8L536.8 217.8L540.8 223.8L543.8 226.8L546.8 231.2L547.8 231.8L547.8 126.2L76.2 126.2Z"/>
<path fill="#5a00ff" fill-rule="evenodd" d="M76.2 375.2L81.8 371.2L97.8 356.2L99.8 355.2L111.2 343.8L113.8 342.2L119.2 336.8L136.2 323.2L155.8 303.8L157.8 302.8L178.8 282.8L178.8 281.2L175.8 277.2L169.2 270.8L166.8 266.8L160.2 260.2L159.2 258.2L145.2 243.2L142.8 239.2L129.2 224.8L127.2 221.2L114.2 206.8L112.8 203.8L107.2 197.8L105.2 193.8L105.8 191.8L145.2 200.2L148.2 200.2L148.8 200.8L151.8 200.8L152.2 201.2L155.2 201.2L162.8 202.8L166.2 202.8L166.8 203.2L171.2 203.2L173.8 202.2L191.8 203.2L196.2 201.2L211.2 201.2L216.8 199.8L237.8 197.8L241.8 195.8L244.2 195.8L244.8 195.2L258.8 195.8L260.8 194.8L270.8 185.8L273.8 185.8L284.2 189.2L286.8 189.2L305.2 192.8L319.2 194.2L319.8 194.8L350.8 194.2L351.2 194.8L382.2 194.8L382.8 195.2L412.8 195.2L413.2 195.8L472.8 195.2L473.8 194.8L474.2 195.2L482.8 195.2L483.2 195.8L505.8 196.8L506.2 197.2L513.2 197.2L513.8 197.8L520.8 197.8L521.2 198.2L532.8 197.8L534.2 199.2L545.2 220.8L546.8 222.2L547.8 222.2L547.8 126.2L76.2 126.2Z"/>
<path fill="#6700ff" fill-rule="evenodd" d="M76.2 375.2L82.2 370.8L98.2 355.8L99.8 355.2L112.2 342.8L113.8 342.2L120.2 335.8L121.8 335.2L127.2 329.8L128.8 329.2L132.2 325.8L133.8 325.2L154.2 304.8L156.2 303.8L167.2 292.8L169.2 291.8L178.8 282.8L178.8 281.2L176.2 278.8L175.2 276.8L160.8 261.2L157.8 256.8L144.2 242.2L143.8 240.8L137.2 234.2L134.8 230.2L122.8 217.2L120.8 213.8L114.8 207.8L112.8 204.2L106.8 197.8L105.8 195.2L103.2 192.2L102.2 190.2L102.8 189.8L106.2 189.8L142.8 197.8L155.8 199.2L156.2 199.8L159.8 199.8L163.8 200.8L170.2 200.8L170.8 200.2L191.2 200.8L194.2 199.2L210.2 199.2L213.2 198.2L224.2 197.2L224.8 196.8L234.8 196.2L239.8 194.2L242.2 194.2L242.8 193.8L257.8 194.2L262.8 190.8L269.8 183.2L272.2 183.2L276.8 185.2L287.2 187.8L290.2 187.8L302.8 190.2L305.8 190.2L306.2 190.8L309.2 190.8L316.8 192.2L321.2 192.2L321.8 192.8L323.2 192.2L373.8 192.2L374.2 192.8L411.2 192.8L411.8 193.2L478.8 192.8L479.2 193.2L497.8 194.2L498.2 194.8L510.2 195.2L510.8 195.8L522.8 196.2L523.2 196.8L526.8 196.8L529.2 195.8L533.8 195.8L535.2 197.2L535.2 198.2L546.2 219.2L547.8 220.2L547.8 126.2L76.2 126.2Z"/>
<path fill="#7300ff" fill-rule="evenodd" d="M76.2 375.2L80.8 371.2L82.8 370.2L98.8 355.2L100.2 354.8L112.2 342.8L114.2 341.8L120.2 335.8L122.2 334.8L127.2 329.8L134.2 324.8L154.8 304.2L156.8 303.2L167.8 292.2L169.8 291.2L177.2 284.2L178.8 282.2L174.8 276.2L167.8 269.2L167.2 267.8L152.8 252.2L151.8 250.2L143.8 241.8L143.2 240.2L129.2 225.2L126.8 221.2L121.8 216.2L120.8 214.2L106.8 198.2L105.2 195.2L100.2 189.2L100.8 187.2L103.8 187.2L106.2 188.2L113.2 189.2L115.8 190.2L122.8 191.2L125.2 192.2L132.2 193.2L139.8 195.2L152.8 196.8L153.2 197.2L156.8 197.2L164.2 198.8L167.2 198.8L167.8 198.2L189.2 198.8L193.2 197.2L206.8 197.8L216.8 195.8L234.2 194.2L237.8 192.8L240.2 192.8L240.8 192.2L256.8 192.8L258.2 192.2L265.8 185.2L266.8 181.8L268.2 179.8L278.2 183.8L303.2 187.8L303.8 188.2L316.8 189.8L317.2 190.2L406.8 190.2L407.2 190.8L475.2 190.2L475.8 190.8L486.2 191.2L486.8 191.8L512.8 193.8L513.2 194.2L517.8 194.2L518.2 194.8L523.8 194.8L524.2 195.2L527.8 194.8L531.2 193.2L535.2 193.2L536.8 194.2L536.8 198.8L541.8 208.8L543.8 211.2L546.8 217.8L547.8 218.8L547.8 126.2L76.2 126.2Z"/>
<path fill="#8000ff" fill-rule="evenodd" d="M76.2 374.8L81.2 371.2L88.2 364.2L90.2 363.2L97.2 356.2L99.2 355.2L111.2 343.2L113.2 342.2L119.2 336.2L121.2 335.2L126.2 330.2L135.8 323.2L155.2 303.8L157.2 302.8L178.2 282.8L178.2 281.2L175.2 277.2L168.8 270.8L167.2 268.2L159.8 260.2L158.8 258.2L151.8 251.2L151.2 249.8L137.2 234.8L134.8 230.8L128.2 224.2L127.8 222.8L122.2 217.2L119.8 213.2L113.8 207.2L111.2 203.2L106.2 198.2L104.8 195.2L98.8 188.2L98.2 185.8L99.2 184.8L139.8 193.2L150.2 194.2L150.8 194.8L153.8 194.8L161.2 196.2L168.8 195.8L169.2 196.2L176.8 196.2L177.2 196.8L187.2 196.8L189.2 195.8L205.8 195.8L209.2 194.8L212.8 194.8L213.2 194.2L216.8 194.2L217.2 193.8L220.8 193.8L225.2 192.8L231.2 192.8L238.2 190.8L255.8 191.2L257.2 190.8L263.2 185.2L265.2 177.2L266.2 176.2L267.2 176.2L277.8 181.2L311.8 186.8L312.2 187.2L314.8 187.2L315.2 187.8L317.8 187.8L318.2 188.2L337.2 188.2L337.8 187.8L477.2 188.2L477.8 188.8L486.8 189.2L487.2 189.8L505.2 191.2L505.8 191.8L509.8 191.8L514.8 192.8L525.8 193.2L532.2 190.8L539.8 190.8L542.2 188.2L545.2 183.8L547.8 181.8L547.8 126.2L76.2 126.2Z"/>
<path fill="#8c00ff" fill-rule="evenodd" d="M76.2 374.8L82.2 370.2L98.2 355.2L99.8 354.8L111.8 342.8L113.8 341.8L119.8 335.8L121.8 334.8L126.8 329.8L133.8 324.8L154.2 304.2L156.2 303.2L167.2 292.2L169.2 291.2L175.8 285.2L178.2 282.2L174.8 276.8L167.8 269.8L166.8 267.8L152.8 252.8L151.2 250.2L143.8 242.2L142.8 240.2L136.2 233.8L135.2 231.8L128.8 225.2L127.8 223.2L121.2 216.2L120.2 214.2L114.2 208.2L112.2 204.8L106.2 198.8L104.8 195.8L98.8 189.2L95.8 183.8L96.8 182.2L129.2 188.8L134.2 190.2L157.8 193.2L158.2 193.8L179.2 194.2L179.8 194.8L184.8 194.8L187.8 193.8L205.2 193.8L205.8 193.2L220.8 191.8L221.2 191.2L231.2 190.8L236.2 189.2L248.8 189.2L249.2 189.8L256.2 189.2L261.2 184.2L262.2 180.2L261.8 174.2L264.2 171.8L278.8 177.8L312.8 184.2L317.8 185.8L357.8 185.2L358.2 184.8L464.2 185.8L464.8 186.2L477.8 186.2L478.2 186.8L482.2 186.8L482.8 187.2L486.2 187.2L490.8 188.2L494.8 188.2L495.2 188.8L522.8 191.8L528.8 188.2L534.2 187.2L536.8 184.8L544.8 173.8L547.8 171.2L547.8 126.2L76.2 126.2Z"/>
<path fill="#9900ff" fill-rule="evenodd" d="M76.2 374.8L81.2 370.8L87.8 364.2L90.2 362.8L96.8 356.2L101.2 353.2L109.8 344.2L115.2 340.2L117.8 337.2L135.2 323.2L155.2 303.2L157.2 302.2L177.8 282.8L177.8 281.2L175.8 279.2L175.2 277.8L168.2 270.8L167.2 268.8L161.8 263.2L158.2 258.2L143.8 242.8L143.2 241.2L136.2 234.2L135.2 232.2L127.8 224.2L126.8 222.2L115.2 209.8L112.2 205.2L106.2 199.2L104.2 195.8L98.2 189.2L97.8 187.8L93.2 181.8L93.8 179.8L105.2 181.8L107.8 182.8L114.8 183.8L117.2 184.8L124.2 185.8L134.2 188.2L144.2 189.2L144.8 189.8L147.8 189.8L148.2 190.2L151.2 190.2L158.8 191.8L167.8 191.8L168.2 192.2L194.8 191.8L195.2 192.2L201.2 192.2L201.8 191.8L220.8 189.8L221.2 189.2L227.8 189.2L234.2 187.8L254.2 188.2L258.8 184.2L259.2 182.8L259.2 175.8L260.8 169.8L261.8 168.8L264.8 168.8L278.8 173.8L286.8 175.2L295.2 177.8L297.2 177.8L301.8 179.2L303.8 179.2L317.8 183.2L331.2 183.2L331.8 182.8L340.8 182.8L341.2 182.2L394.2 182.2L394.8 182.8L429.8 182.8L430.2 183.2L451.2 183.2L451.8 183.8L473.2 183.8L473.8 184.2L478.2 184.2L478.8 184.8L486.2 185.2L486.8 185.8L501.8 187.2L502.2 187.8L517.2 189.2L517.8 189.8L521.8 189.8L530.8 182.2L546.2 156.2L547.8 155.2L547.8 126.2L76.2 126.2Z"/>
<path fill="#a500ff" fill-rule="evenodd" d="M76.2 374.2L82.2 369.8L97.8 355.2L99.8 354.2L111.8 342.2L113.8 341.2L119.8 335.2L121.8 334.2L126.8 329.2L133.8 324.2L154.8 303.2L156.2 302.8L177.8 282.2L173.2 275.8L159.2 260.8L158.2 258.8L151.8 252.2L150.8 250.2L143.8 243.2L143.2 241.8L136.8 235.2L134.2 231.2L127.8 224.8L126.8 222.8L121.2 217.2L120.2 215.2L115.2 210.2L111.8 205.2L105.8 199.2L103.8 195.8L98.2 190.2L96.8 187.2L91.2 180.8L90.8 178.2L91.8 177.2L131.8 185.8L155.2 188.8L155.8 189.2L161.8 189.2L162.2 189.8L167.8 189.8L168.2 190.2L184.8 190.2L185.2 189.8L187.8 190.2L200.8 190.2L201.2 189.8L221.2 187.8L221.8 187.2L228.2 187.2L232.2 186.2L253.2 186.8L255.8 184.8L256.8 182.8L256.8 177.2L257.8 173.8L258.2 166.8L259.8 164.8L261.8 164.8L271.8 167.8L277.2 168.8L279.2 169.8L307.8 176.8L320.2 180.8L329.8 180.2L330.2 179.8L337.8 179.8L338.2 179.2L345.2 179.2L345.8 178.8L429.2 179.8L429.8 180.2L472.8 181.2L473.2 181.8L485.2 182.8L485.8 183.2L488.8 183.2L489.2 183.8L492.2 183.8L492.8 184.2L495.8 184.2L496.2 184.8L499.2 184.8L506.8 186.2L510.2 186.2L514.2 187.2L518.8 187.2L520.8 186.2L523.2 183.2L535.2 162.8L537.2 160.2L538.2 157.8L540.2 155.2L541.2 152.8L543.2 150.2L544.2 147.8L547.8 143.8L547.8 126.2L76.2 126.2Z"/>
<path fill="#b200ff" fill-rule="evenodd" d="M76.2 373.8L82.2 369.2L97.8 354.8L99.8 353.8L111.8 341.8L113.8 340.8L119.8 334.8L121.8 333.8L126.8 328.8L133.8 323.8L154.2 303.2L156.2 302.2L177.2 282.2L174.8 278.2L168.8 272.2L165.2 267.2L158.8 260.8L157.8 258.8L151.2 252.2L150.2 250.2L143.2 243.2L142.2 241.2L128.2 226.2L126.2 222.8L112.8 208.2L112.2 206.8L96.8 189.2L96.2 187.8L89.8 180.2L88.2 176.2L89.2 175.2L95.2 175.8L97.8 176.8L104.8 177.8L107.2 178.8L114.2 179.8L128.8 183.2L145.2 185.2L145.8 185.8L149.2 185.8L156.8 187.2L161.8 187.2L162.2 187.8L200.8 188.2L201.2 187.8L204.8 187.8L205.2 187.2L208.8 187.2L209.2 186.8L212.8 186.8L217.2 185.8L228.8 185.2L229.2 184.8L247.8 184.8L248.2 185.2L251.8 185.2L253.8 183.8L254.2 176.2L253.8 175.2L251.2 174.8L250.2 173.8L249.8 168.8L249.2 168.2L248.8 159.8L250.2 158.2L254.2 158.2L269.2 162.8L293.2 167.2L320.2 175.2L334.2 174.8L334.8 174.2L345.8 174.2L346.2 173.8L424.2 174.8L424.8 175.2L432.8 175.2L433.2 175.8L475.8 177.8L476.2 178.2L489.2 179.8L489.8 180.2L502.2 181.8L505.8 182.8L515.2 183.8L517.8 181.2L517.8 175.8L520.8 170.2L524.8 159.8L527.8 154.2L531.8 143.8L534.8 138.2L535.8 134.8L538.8 128.8L539.2 126.2L76.2 126.2Z"/>
</g>
</g>
<g mask="url(#a1p)">
<g filter="url(#a1pf)">
<rect x="190" y="150" width="200" height="258" fill="#ff0800"/>
<path fill="#ff1800" fill-rule="evenodd" d="M190.2 150.2L190.2 407.8L205.8 407.8L212.2 405.8L214.8 405.8L217.2 404.8L219.8 404.8L222.2 403.8L224.8 403.8L227.2 402.8L229.8 402.8L232.2 401.8L234.8 401.8L237.2 400.8L239.8 400.8L242.2 399.8L244.8 399.8L247.2 398.8L249.8 398.8L252.2 397.8L254.8 397.8L257.2 396.8L259.8 396.8L262.2 395.8L264.8 395.8L267.2 394.8L269.8 394.8L280.2 392.2L282.2 392.2L285.8 396.8L288.2 397.2L292.8 394.8L295.8 394.2L301.2 390.8L302.2 390.8L310.2 395.2L314.2 399.2L316.2 400.2L323.2 407.8L389.8 407.8L389.8 150.2Z"/>
<path fill="#ff2700" fill-rule="evenodd" d="M190.2 150.2L190.2 407.8L204.2 407.8L207.2 406.2L209.8 406.2L212.2 405.2L214.8 405.2L217.2 404.2L219.8 404.2L222.2 403.2L224.8 403.2L227.2 402.2L229.8 402.2L232.2 401.2L234.8 401.2L237.2 400.2L239.8 400.2L242.2 399.2L244.8 399.2L247.2 398.2L249.8 398.2L252.2 397.2L254.8 397.2L257.2 396.2L259.8 396.2L262.2 395.2L264.8 395.2L267.2 394.2L269.8 394.2L280.2 391.8L282.8 391.8L285.8 394.8L287.8 394.8L290.2 393.2L297.8 391.8L300.2 390.2L302.8 390.2L309.8 394.2L313.8 398.2L315.8 399.2L324.2 407.8L389.8 407.8L389.8 150.2Z"/>
<path fill="#ff3700" fill-rule="evenodd" d="M190.2 150.2L190.2 407.8L201.8 407.8L205.8 406.2L208.2 406.2L210.8 405.2L213.2 405.2L215.8 404.2L218.2 404.2L220.8 403.2L223.2 403.2L225.8 402.2L228.2 402.2L230.8 401.2L233.2 401.2L235.8 400.2L238.2 400.2L240.8 399.2L243.2 399.2L245.8 398.2L248.2 398.2L250.8 397.2L253.2 397.2L255.8 396.2L258.2 396.2L260.8 395.2L263.2 395.2L265.8 394.2L268.2 394.2L280.8 391.2L283.8 391.2L284.8 392.2L287.2 392.2L291.8 390.2L295.2 390.2L299.2 389.2L301.8 389.2L311.8 395.2L315.8 399.2L317.8 400.2L323.2 405.8L324.2 407.8L389.8 407.8L389.8 150.2Z"/>
<path fill="#ff4700" fill-rule="evenodd" d="M190.2 150.2L190.2 407.8L200.8 407.8L201.8 406.8L204.2 406.8L205.8 405.8L209.2 405.8L210.8 404.8L214.2 404.8L215.8 403.8L219.2 403.8L220.8 402.8L224.2 402.8L225.8 401.8L229.2 401.8L230.8 400.8L234.2 400.8L235.8 399.8L239.2 399.8L240.8 398.8L244.2 398.8L245.8 397.8L249.2 397.8L250.8 396.8L254.2 396.8L255.8 395.8L259.2 395.8L260.8 394.8L264.2 394.8L265.8 393.8L269.2 393.8L270.8 392.8L274.2 392.8L275.8 391.8L279.2 391.8L280.8 390.8L282.8 390.8L290.8 388.2L298.2 387.8L298.8 387.2L300.8 387.2L302.2 389.2L310.2 393.8L314.2 397.8L318.8 400.8L323.2 405.2L324.8 407.8L389.8 407.8L389.8 150.2Z"/>
<path fill="#ff5700" fill-rule="evenodd" d="M190.2 150.2L190.2 407.8L199.8 407.8L200.8 406.8L206.8 405.2L209.2 405.2L211.8 404.2L214.2 404.2L216.8 403.2L219.2 403.2L221.8 402.2L224.2 402.2L226.8 401.2L229.2 401.2L231.8 400.2L234.2 400.2L236.8 399.2L239.2 399.2L241.8 398.2L244.2 398.2L246.8 397.2L249.2 397.2L251.8 396.2L254.2 396.2L256.8 395.2L259.2 395.2L261.8 394.2L264.2 394.2L266.8 393.2L279.2 391.2L282.2 390.2L283.8 387.8L291.8 385.8L301.8 385.2L302.2 384.8L303.8 385.2L303.8 386.8L302.8 388.2L303.2 389.2L310.8 393.8L314.2 397.2L316.8 398.8L325.2 407.8L389.8 407.8L389.8 150.2Z"/>
<path fill="#ff6700" fill-rule="evenodd" d="M190.2 150.2L190.2 407.8L199.2 407.8L200.8 406.2L203.2 406.2L205.2 405.2L207.8 405.2L210.2 404.2L212.8 404.2L215.2 403.2L217.8 403.2L220.2 402.2L222.8 402.2L225.2 401.2L227.8 401.2L230.2 400.2L232.8 400.2L235.2 399.2L237.8 399.2L240.2 398.2L242.8 398.2L245.2 397.2L247.8 397.2L250.2 396.2L252.8 396.2L255.2 395.2L257.8 395.2L260.2 394.2L262.8 394.2L265.2 393.2L277.8 391.2L281.8 389.8L281.2 385.8L282.2 384.8L286.8 384.8L290.2 383.8L296.2 383.8L301.2 382.8L306.2 382.8L306.8 383.2L305.8 385.8L304.2 387.2L303.8 389.2L310.8 393.2L314.2 396.8L318.8 399.8L324.2 405.2L325.8 407.8L389.8 407.8L389.8 150.2Z"/>
<path fill="#ff7600" fill-rule="evenodd" d="M190.2 150.2L190.2 407.8L198.8 407.8L200.2 405.8L202.8 405.8L205.2 404.8L207.8 404.8L210.2 403.8L212.8 403.8L215.2 402.8L217.8 402.8L220.2 401.8L222.8 401.8L225.2 400.8L227.8 400.8L230.2 399.8L232.8 399.8L235.2 398.8L237.8 398.8L240.2 397.8L242.8 397.8L245.2 396.8L247.8 396.8L250.2 395.8L252.8 395.8L255.2 394.8L257.8 394.8L260.2 393.8L262.8 393.8L265.2 392.8L267.8 392.8L270.2 391.8L279.8 390.2L280.8 389.2L280.8 387.8L279.8 385.8L279.8 383.2L280.8 382.2L299.8 381.2L300.2 380.8L303.8 380.8L308.2 379.8L310.2 379.8L310.8 381.2L309.2 382.2L305.2 387.2L304.8 389.2L311.8 393.2L315.8 397.2L317.8 398.2L325.8 406.2L326.2 407.8L389.8 407.8L389.8 150.2Z"/>
<path fill="#ff8600" fill-rule="evenodd" d="M190.2 150.2L190.2 407.8L197.2 407.8L197.2 406.8L199.8 404.2L203.2 404.2L204.8 403.2L208.2 403.2L209.8 402.2L213.2 402.2L214.8 401.2L218.2 401.2L219.8 400.2L223.2 400.2L224.8 399.2L228.2 399.2L229.8 398.2L233.2 398.2L234.8 397.2L238.2 397.2L239.8 396.2L243.2 396.2L244.8 395.2L248.2 395.2L249.8 394.2L253.2 394.2L254.8 393.2L258.2 393.2L259.8 392.2L263.2 392.2L264.8 391.2L268.2 391.2L269.8 390.2L273.2 390.2L274.8 389.2L278.2 389.2L278.8 387.8L277.8 386.2L276.8 382.2L276.8 379.8L278.2 378.8L281.2 379.8L290.2 379.8L290.8 379.2L302.2 378.8L310.2 377.2L315.2 377.2L315.8 379.2L306.8 388.2L312.2 391.8L316.8 396.2L318.2 396.8L327.2 405.8L327.8 407.8L389.8 407.8L389.8 150.2Z"/>
<path fill="#ff9600" fill-rule="evenodd" d="M190.2 150.2L190.2 388.2L214.8 383.2L217.8 383.2L240.8 378.2L243.8 378.2L261.8 374.2L264.8 374.2L272.8 372.2L274.2 372.2L276.8 375.2L281.2 377.2L290.8 377.2L291.2 376.8L298.2 376.8L298.8 376.2L314.8 374.8L318.8 373.2L321.2 371.2L322.2 371.2L326.2 373.2L333.8 379.8L335.2 380.2L337.8 382.8L338.2 384.2L346.8 392.8L347.2 394.2L354.8 401.8L355.2 403.2L359.2 407.8L389.8 407.8L389.8 150.2Z"/>
<path fill="#ffa600" fill-rule="evenodd" d="M190.2 150.2L190.2 387.2L198.8 386.2L214.2 382.8L219.8 382.2L272.2 371.8L275.2 371.8L276.2 372.8L281.2 374.8L289.8 374.8L290.2 374.2L297.8 374.2L298.2 373.8L302.8 373.8L303.2 373.2L307.8 373.2L308.2 372.8L314.2 372.8L321.8 370.2L326.2 372.8L333.2 378.8L334.8 379.2L338.8 383.2L339.2 384.8L347.8 393.2L348.2 394.8L355.8 402.2L356.2 403.8L359.8 407.8L389.8 407.8L389.8 150.2Z"/>
<path fill="#ffb500" fill-rule="evenodd" d="M190.2 150.2L190.2 387.2L191.8 387.2L193.8 386.2L197.8 386.2L199.8 385.2L202.8 385.2L204.8 384.2L207.8 384.2L209.8 383.2L212.8 383.2L214.8 382.2L218.8 382.2L220.8 381.2L223.8 381.2L225.8 380.2L228.8 380.2L230.8 379.2L233.8 379.2L235.8 378.2L238.8 378.2L240.8 377.2L244.8 377.2L246.8 376.2L249.8 376.2L251.8 375.2L254.8 375.2L256.8 374.2L259.8 374.2L261.8 373.2L265.8 373.2L267.8 372.2L270.8 372.2L274.2 370.8L277.2 370.8L280.8 372.2L288.2 372.2L288.8 371.8L297.8 371.8L298.2 371.2L303.2 371.2L303.8 370.8L308.8 370.8L309.2 370.2L316.2 370.2L316.8 369.8L321.8 369.2L335.2 379.2L338.8 382.8L340.2 385.2L347.8 392.8L349.2 395.2L355.8 401.8L360.2 407.8L389.8 407.8L389.8 150.2Z"/>
<path fill="#ffc500" fill-rule="evenodd" d="M190.2 150.2L190.2 386.8L192.2 386.8L193.8 385.8L198.2 385.8L199.8 384.8L203.2 384.8L204.8 383.8L208.2 383.8L209.8 382.8L213.2 382.8L214.8 381.8L219.2 381.8L220.8 380.8L224.2 380.8L225.8 379.8L229.2 379.8L230.8 378.8L234.2 378.8L235.8 377.8L239.2 377.8L240.8 376.8L245.2 376.8L246.8 375.8L250.2 375.8L251.8 374.8L255.2 374.8L256.8 373.8L260.2 373.8L261.8 372.8L266.2 372.8L267.8 371.8L271.2 371.8L273.8 370.8L275.8 368.2L280.8 369.8L287.2 369.8L287.8 369.2L297.2 369.2L297.8 368.8L303.2 368.8L303.8 368.2L322.2 367.2L323.8 370.8L326.2 371.8L330.2 374.8L339.2 382.8L340.2 384.8L348.2 392.8L349.2 394.8L356.2 401.8L360.8 407.8L389.8 407.8L389.8 150.2Z"/>
<path fill="#ffd500" fill-rule="evenodd" d="M190.2 150.2L190.2 386.2L192.8 386.2L195.2 385.2L198.8 385.2L201.2 384.2L203.8 384.2L216.2 381.2L219.8 381.2L222.2 380.2L224.8 380.2L227.2 379.2L229.8 379.2L242.2 376.2L245.8 376.2L248.2 375.2L250.8 375.2L263.2 372.2L266.8 372.2L269.2 371.2L271.8 371.2L273.8 369.8L273.2 366.2L274.2 365.2L280.2 367.2L285.8 367.2L286.2 366.8L296.2 366.8L296.8 366.2L325.2 364.8L325.8 365.2L323.8 368.2L323.8 370.2L326.8 371.8L333.8 377.8L335.8 378.8L339.2 382.2L340.2 384.2L348.2 392.2L349.2 394.2L356.2 401.2L357.2 403.2L361.2 407.8L389.8 407.8L389.8 150.2Z"/>
<path fill="#ffe500" fill-rule="evenodd" d="M190.2 150.2L190.2 386.2L193.2 385.2L197.2 385.2L199.2 384.2L202.2 384.2L204.2 383.2L207.2 383.2L209.2 382.2L212.2 382.2L214.2 381.2L218.2 381.2L220.2 380.2L223.2 380.2L225.2 379.2L228.2 379.2L230.2 378.2L233.2 378.2L235.2 377.2L238.2 377.2L240.2 376.2L244.2 376.2L246.2 375.2L249.2 375.2L251.2 374.2L254.2 374.2L256.2 373.2L259.2 373.2L261.2 372.2L265.2 372.2L267.2 371.2L270.2 371.2L272.8 370.2L273.2 369.2L271.8 365.2L272.2 362.8L274.8 362.8L280.2 364.8L284.2 364.8L284.8 364.2L295.8 364.2L296.2 363.8L304.2 363.8L304.8 363.2L318.2 363.2L325.8 361.8L329.2 361.8L329.8 362.2L329.2 363.8L325.2 367.2L324.2 369.8L335.8 378.2L339.8 382.2L340.8 384.2L348.8 392.2L349.8 394.2L356.8 401.2L357.8 403.2L361.8 407.8L389.8 407.8L389.8 150.2Z"/>
<path fill="#fff500" fill-rule="evenodd" d="M190.2 150.2L190.2 385.8L193.2 384.8L197.2 384.8L199.2 383.8L202.2 383.8L204.2 382.8L207.2 382.8L209.2 381.8L212.2 381.8L214.2 380.8L218.2 380.8L220.2 379.8L223.2 379.8L225.2 378.8L228.2 378.8L230.2 377.8L233.2 377.8L235.2 376.8L238.2 376.8L240.2 375.8L244.2 375.8L246.2 374.8L249.2 374.8L251.2 373.8L254.2 373.8L256.2 372.8L259.2 372.8L261.2 371.8L265.2 371.8L267.2 370.8L270.2 370.8L272.2 369.8L270.2 360.8L271.2 359.8L272.8 359.8L277.8 361.8L282.2 362.2L282.8 361.8L294.8 361.8L295.2 361.2L305.8 361.2L306.2 360.8L320.8 360.8L321.2 360.2L331.8 358.8L332.8 359.8L331.8 362.2L328.2 366.2L325.2 368.2L324.8 369.2L325.2 370.2L327.8 371.2L330.2 373.8L331.8 374.2L339.8 381.2L340.2 382.8L356.8 400.2L357.2 401.8L361.2 405.8L362.2 407.8L389.8 407.8L389.8 150.2Z"/>
<path fill="#faff00" fill-rule="evenodd" d="M190.2 150.2L190.2 384.8L193.2 383.8L196.8 383.8L199.2 382.8L206.8 381.8L209.2 380.8L211.8 380.8L214.2 379.8L217.8 379.8L220.2 378.8L222.8 378.8L225.2 377.8L227.8 377.8L240.2 374.8L243.8 374.8L246.2 373.8L248.8 373.8L261.2 370.8L264.8 370.8L267.2 369.8L269.8 369.8L270.8 369.2L270.8 367.8L269.2 365.2L269.2 363.2L267.8 359.8L268.2 358.2L269.8 356.8L271.2 356.8L277.8 359.2L293.2 359.2L293.8 358.8L322.2 358.2L329.2 356.8L336.2 356.2L336.8 356.8L336.2 359.2L331.2 365.2L326.8 368.8L326.8 369.8L332.8 373.8L340.2 380.2L341.2 382.2L357.2 399.2L358.2 401.2L362.2 405.2L363.2 407.8L389.8 407.8L389.8 150.2Z"/>
<path fill="#eaff00" fill-rule="evenodd" d="M190.2 150.2L190.2 365.2L195.8 365.2L197.8 364.2L204.8 364.2L206.8 363.2L213.8 363.2L215.8 362.2L222.8 362.2L224.8 361.2L231.8 361.2L233.8 360.2L240.8 360.2L242.8 359.2L249.8 359.2L251.8 358.2L258.8 358.2L260.8 357.2L267.2 357.2L269.2 354.2L270.8 354.2L277.2 356.8L292.2 356.8L292.8 356.2L306.2 356.2L306.8 355.8L321.8 355.8L322.2 355.2L325.2 355.2L325.8 354.8L340.8 352.8L345.8 355.8L351.2 361.2L352.8 363.8L362.2 374.2L368.8 382.8L373.2 387.2L379.8 395.8L384.2 400.2L385.8 402.8L389.8 406.2L389.8 150.2Z"/>
<path fill="#daff00" fill-rule="evenodd" d="M190.2 150.2L190.2 364.8L194.2 364.8L196.2 363.8L203.2 363.8L205.2 362.8L212.2 362.8L214.2 361.8L221.2 361.8L223.2 360.8L230.2 360.8L232.2 359.8L239.2 359.8L241.2 358.8L248.2 358.8L250.2 357.8L257.2 357.8L259.2 356.8L265.8 356.8L267.2 355.8L266.8 352.2L267.8 351.2L269.2 351.2L277.2 354.2L290.8 354.2L291.2 353.8L303.8 353.8L304.2 353.2L319.2 353.2L319.8 352.8L324.2 352.8L324.8 352.2L340.2 350.2L342.2 352.8L344.8 353.8L353.2 362.2L353.8 363.8L364.2 375.2L364.8 376.8L369.2 381.2L369.8 382.8L375.2 388.2L375.8 389.8L380.2 394.2L380.8 395.8L386.2 401.2L386.8 402.8L389.8 405.2L389.8 150.2Z"/>
<path fill="#caff00" fill-rule="evenodd" d="M190.2 150.2L190.2 363.8L193.2 363.8L195.8 362.8L202.2 362.8L204.8 361.8L211.2 361.8L213.8 360.8L220.2 360.8L222.8 359.8L229.2 359.8L231.8 358.8L238.2 358.8L240.8 357.8L247.2 357.8L249.8 356.8L256.2 356.8L258.8 355.8L264.2 355.8L265.8 355.2L264.8 349.8L266.2 348.2L276.8 351.8L289.2 351.8L289.8 351.2L322.8 350.2L323.2 349.8L330.2 349.2L337.8 347.8L345.2 347.2L345.8 349.2L343.8 351.2L343.8 352.2L345.8 353.2L353.8 361.2L354.8 363.2L364.8 374.2L370.8 382.2L375.8 387.2L381.8 395.2L386.8 400.2L387.8 402.2L389.8 403.8L389.8 150.2Z"/>
<path fill="#bbff00" fill-rule="evenodd" d="M190.2 150.2L190.2 351.8L198.8 351.8L201.2 350.8L212.8 350.8L215.2 349.8L226.8 349.8L229.2 348.8L240.8 348.8L243.2 347.8L254.8 347.8L257.2 346.8L262.8 346.8L264.8 345.2L276.8 349.2L323.2 347.2L323.8 346.8L326.8 346.8L327.2 346.2L330.2 346.2L337.8 344.8L348.2 343.8L355.2 339.2L360.2 341.2L366.2 345.2L370.2 349.2L372.2 350.2L381.2 359.2L383.2 360.2L388.2 365.2L389.8 365.8L389.8 150.2Z"/>
<path fill="#abff00" fill-rule="evenodd" d="M190.2 150.2L190.2 351.2L198.2 351.2L199.8 350.2L212.2 350.2L213.8 349.2L226.2 349.2L227.8 348.2L240.2 348.2L241.8 347.2L254.2 347.2L255.8 346.2L261.8 346.2L263.8 344.8L263.8 343.8L264.8 342.8L276.8 346.8L321.8 344.2L322.2 343.8L332.2 342.8L332.8 342.2L342.2 341.2L345.8 340.2L348.8 340.2L353.2 338.2L355.2 338.2L360.2 340.2L361.8 341.8L366.2 344.2L370.8 348.8L372.2 349.2L381.8 358.8L383.2 359.2L388.2 364.2L389.8 364.8L389.8 150.2Z"/>
<path fill="#9bff00" fill-rule="evenodd" d="M190.2 150.2L190.2 350.8L197.8 350.8L199.8 349.8L211.8 349.8L213.8 348.8L225.8 348.8L227.8 347.8L239.8 347.8L241.8 346.8L253.8 346.8L255.8 345.8L261.2 345.8L262.8 344.8L262.8 340.8L263.2 340.2L265.2 340.2L274.8 343.8L279.8 344.2L280.2 343.8L286.2 343.8L286.8 343.2L320.2 341.2L320.8 340.8L324.2 340.8L333.8 338.8L336.8 338.8L337.2 338.2L354.8 335.8L357.2 338.8L361.2 340.2L362.8 341.8L367.2 344.2L371.8 348.8L373.2 349.2L382.8 358.8L384.2 359.2L389.8 364.2L389.8 150.2Z"/>
<path fill="#8bff00" fill-rule="evenodd" d="M190.2 150.2L190.2 350.2L197.2 350.2L199.2 349.2L211.2 349.2L213.2 348.2L225.2 348.2L227.2 347.2L239.2 347.2L241.2 346.2L253.2 346.2L255.2 345.2L260.8 345.2L262.2 343.8L260.8 340.2L260.8 337.8L261.2 337.2L263.2 337.2L274.8 341.2L283.8 341.2L284.2 340.8L289.2 340.8L289.8 340.2L295.2 340.2L295.8 339.8L301.2 339.8L301.8 339.2L322.8 337.8L323.2 337.2L346.8 333.8L349.8 332.8L352.2 332.8L355.2 331.8L359.2 331.8L359.8 332.8L357.2 336.2L357.2 337.8L360.8 339.2L366.8 343.2L370.2 346.8L372.8 348.2L381.2 356.8L383.8 358.2L389.8 363.8L389.8 150.2Z"/>
<path fill="#7bff00" fill-rule="evenodd" d="M190.2 150.2L190.2 349.2L196.8 349.2L198.8 348.2L210.8 348.2L212.8 347.2L224.8 347.2L226.8 346.2L238.8 346.2L240.8 345.2L252.8 345.2L254.8 344.2L259.8 344.2L260.8 343.8L258.8 338.8L258.8 335.2L259.8 334.2L261.2 334.2L272.8 338.2L281.8 338.8L282.2 338.2L321.8 334.8L322.2 334.2L324.8 334.2L327.8 333.2L333.2 332.8L336.2 331.8L338.8 331.8L341.8 330.8L344.2 330.8L362.8 327.2L363.8 328.2L363.8 329.8L361.2 334.2L359.2 336.2L359.2 337.2L367.2 342.2L371.2 346.2L373.2 347.2L382.2 356.2L384.2 357.2L389.8 362.2L389.8 150.2Z"/>
<path fill="#6cff00" fill-rule="evenodd" d="M190.2 150.2L190.2 337.2L192.8 336.2L203.2 336.2L204.8 335.2L214.2 335.2L215.8 334.2L226.2 334.2L227.8 333.2L237.2 333.2L238.8 332.2L249.2 332.2L250.8 331.2L259.8 331.2L269.2 334.8L275.8 336.2L280.2 336.2L285.2 335.2L289.8 335.2L294.8 334.2L317.8 332.2L318.2 331.8L321.8 331.8L333.2 329.2L335.8 329.2L347.2 326.8L366.2 323.8L368.2 321.8L369.8 318.2L371.2 316.8L376.2 317.2L379.8 319.2L381.2 319.2L384.8 321.2L386.2 321.2L389.8 322.8L389.8 150.2Z"/>
<path fill="#5cff00" fill-rule="evenodd" d="M190.2 150.2L190.2 336.8L192.8 335.8L202.2 335.8L204.8 334.8L213.2 334.8L215.8 333.8L225.2 333.8L227.8 332.8L236.2 332.8L238.8 331.8L248.2 331.8L250.8 330.8L255.2 330.8L258.8 328.8L267.2 331.8L273.2 332.8L275.8 333.8L301.8 331.2L302.2 330.8L314.8 329.8L315.2 329.2L319.2 329.2L336.8 325.8L339.2 325.8L342.2 324.8L347.8 324.2L350.8 323.2L366.8 320.8L369.8 316.8L371.2 315.8L376.2 316.8L378.8 318.2L389.8 322.2L389.8 150.2Z"/>
<path fill="#4cff00" fill-rule="evenodd" d="M190.2 150.2L190.2 336.2L192.8 335.2L202.8 335.2L204.8 334.2L213.8 334.2L215.8 333.2L225.8 333.2L227.8 332.2L236.8 332.2L238.8 331.2L248.8 331.2L250.8 330.2L256.8 329.8L257.8 326.2L259.2 326.2L269.2 329.8L278.2 331.2L282.8 330.2L286.8 330.2L291.2 329.2L295.2 329.2L299.8 328.2L320.2 326.2L331.8 323.8L342.8 322.2L345.8 321.2L366.8 318.2L370.2 315.2L376.2 316.2L378.8 317.8L389.8 321.8L389.8 150.2Z"/>
<path fill="#3cff00" fill-rule="evenodd" d="M190.2 150.2L190.2 335.8L193.2 334.8L203.2 334.8L205.2 333.8L214.2 333.8L216.2 332.8L226.2 332.8L228.2 331.8L237.2 331.8L239.2 330.8L249.2 330.8L251.2 329.8L255.8 329.8L256.2 329.2L256.2 326.8L255.8 326.2L255.8 323.8L256.2 323.2L265.2 326.2L269.2 326.8L273.8 328.2L281.2 328.2L281.8 327.8L285.2 327.8L285.8 327.2L320.8 323.2L326.8 321.8L346.2 318.8L349.2 317.8L352.2 317.8L352.8 317.2L365.2 315.8L368.8 314.8L371.8 314.8L373.8 315.8L375.8 315.8L389.8 321.8L389.8 150.2Z"/>
<path fill="#2dff00" fill-rule="evenodd" d="M190.2 150.2L190.2 335.2L192.2 334.8L201.8 334.8L204.2 333.8L212.8 333.8L215.2 332.8L224.8 332.8L227.2 331.8L235.8 331.8L238.2 330.8L247.8 330.8L250.2 329.8L253.8 329.8L255.8 329.2L255.8 327.2L254.2 323.8L254.2 321.8L255.2 320.8L257.2 320.8L260.2 322.2L271.8 325.2L280.2 325.8L288.2 324.2L291.8 324.2L292.2 323.8L295.8 323.8L296.2 323.2L318.2 320.8L330.2 318.2L335.8 317.8L338.8 316.8L344.2 316.2L347.2 315.2L363.8 313.2L364.2 312.8L367.8 312.8L368.2 312.2L369.8 312.8L370.8 314.2L376.8 315.8L379.2 317.2L381.8 317.8L389.8 321.2L389.8 150.2Z"/>
<path fill="#1dff00" fill-rule="evenodd" d="M190.2 150.2L190.2 335.2L192.2 334.2L202.8 334.2L204.2 333.2L213.8 333.2L215.2 332.2L225.8 332.2L227.2 331.2L236.8 331.2L238.2 330.2L248.8 330.2L250.2 329.2L254.2 329.2L255.2 328.8L255.2 327.2L254.2 325.8L252.8 319.8L253.2 317.8L255.2 317.8L261.8 320.2L269.8 321.8L274.2 323.2L279.2 323.2L283.2 322.2L286.8 322.2L290.8 321.2L294.2 321.2L301.8 319.8L319.2 317.8L351.2 311.8L358.2 311.2L366.2 309.8L370.8 309.8L371.8 310.8L371.2 313.2L374.2 315.2L376.8 315.2L380.2 317.2L381.8 317.2L385.2 319.2L386.8 319.2L389.8 320.8L389.8 150.2Z"/>
<path fill="#0dff00" fill-rule="evenodd" d="M190.2 150.2L190.2 334.8L192.2 333.8L202.8 333.8L204.2 332.8L213.8 332.8L215.2 331.8L225.8 331.8L227.2 330.8L236.8 330.8L238.2 329.8L248.8 329.8L250.2 328.8L254.2 328.8L254.8 327.8L251.2 318.2L251.2 315.8L252.2 314.8L259.8 317.2L265.8 318.2L274.2 320.8L278.2 320.8L278.8 320.2L281.8 320.2L282.2 319.8L285.2 319.8L292.8 318.2L296.2 318.2L296.8 317.8L313.8 315.8L314.2 315.2L325.8 313.8L328.8 312.8L334.2 312.2L348.8 309.2L367.8 307.2L368.2 306.8L372.2 306.8L373.2 308.8L372.2 313.2L373.2 314.2L376.8 314.8L380.2 316.8L381.8 316.8L385.2 318.8L386.8 318.8L389.8 320.2L389.8 150.2Z"/>
<path fill="#00ff03" fill-rule="evenodd" d="M190.2 150.2L190.2 333.8L193.2 332.8L202.8 332.8L205.2 331.8L213.8 331.8L216.2 330.8L225.8 330.8L228.2 329.8L236.8 329.8L239.2 328.8L248.8 328.8L251.2 327.8L253.2 327.8L252.2 323.2L249.8 318.2L249.2 315.8L249.8 313.8L251.2 312.2L253.2 312.2L259.8 314.8L263.8 315.2L274.2 318.2L277.2 318.2L277.8 317.8L294.8 315.8L298.2 314.8L311.8 313.2L329.2 309.8L334.8 309.2L337.8 308.2L343.2 307.8L346.2 306.8L369.2 304.2L369.8 303.8L374.2 303.8L375.2 304.8L375.2 307.2L373.8 313.2L377.8 314.2L380.2 315.8L389.8 319.2L389.8 150.2Z"/>
<path fill="#00ff13" fill-rule="evenodd" d="M190.2 150.2L190.2 323.2L192.2 323.2L194.2 322.2L199.2 322.2L201.2 321.2L205.2 321.2L207.2 320.2L211.2 320.2L213.2 319.2L217.2 319.2L219.2 318.2L223.2 318.2L225.2 317.2L229.2 317.2L231.2 316.2L235.2 316.2L237.2 315.2L241.2 315.2L243.2 314.2L247.8 314.2L249.8 312.8L250.8 309.8L252.8 309.8L259.8 312.2L261.8 312.2L274.2 315.8L277.2 315.8L277.8 315.2L280.8 315.2L281.2 314.8L284.2 314.8L287.8 313.8L290.8 313.8L291.2 313.2L294.2 313.2L297.8 312.2L313.2 310.2L347.2 303.2L356.2 302.2L356.8 301.8L364.8 301.2L365.2 300.8L368.8 300.8L372.2 299.8L371.2 295.8L367.2 289.8L365.8 285.8L369.2 283.2L373.2 279.2L375.2 278.2L387.2 266.2L389.8 264.8L389.8 150.2Z"/>
<path fill="#00ff22" fill-rule="evenodd" d="M190.2 150.2L190.2 322.8L191.8 322.8L193.8 321.8L198.8 321.8L200.8 320.8L204.8 320.8L206.8 319.8L210.8 319.8L212.8 318.8L216.8 318.8L218.8 317.8L222.8 317.8L224.8 316.8L228.8 316.8L230.8 315.8L234.8 315.8L236.8 314.8L240.8 314.8L242.8 313.8L247.2 313.8L248.8 313.2L249.2 312.2L248.8 307.8L249.8 306.8L266.2 311.2L268.2 311.2L273.8 313.2L278.2 313.2L278.8 312.8L294.2 310.8L303.8 308.8L306.8 308.8L319.2 306.2L321.8 305.2L326.2 304.8L328.8 303.8L333.2 303.2L335.8 302.2L337.8 302.2L353.8 298.2L368.8 296.8L369.2 296.2L369.2 294.8L368.2 293.8L367.8 291.8L364.8 286.8L364.8 285.8L366.8 283.8L368.2 283.2L372.8 278.8L374.2 278.2L386.8 265.8L389.8 264.2L389.8 150.2Z"/>
<path fill="#00ff32" fill-rule="evenodd" d="M190.2 150.2L190.2 322.2L192.2 322.2L193.8 321.2L199.2 321.2L200.8 320.2L205.2 320.2L206.8 319.2L211.2 319.2L212.8 318.2L217.2 318.2L218.8 317.2L223.2 317.2L224.8 316.2L229.2 316.2L230.8 315.2L235.2 315.2L236.8 314.2L241.2 314.2L242.8 313.2L247.8 313.2L248.8 312.8L249.2 311.2L247.2 305.2L248.2 303.8L254.2 305.8L268.2 308.8L272.8 310.8L275.8 311.2L276.2 310.8L278.8 310.8L279.2 310.2L313.2 304.8L319.8 302.8L321.8 302.8L330.2 300.2L338.2 298.8L340.2 297.8L353.8 294.2L366.2 293.2L366.8 291.8L364.2 287.2L364.2 285.8L372.8 278.2L374.2 277.8L386.8 265.2L389.8 263.8L389.8 150.2Z"/>
<path fill="#00ff42" fill-rule="evenodd" d="M190.2 150.2L190.2 321.8L192.8 321.8L194.2 320.8L199.8 320.8L201.2 319.8L205.8 319.8L207.2 318.8L211.8 318.8L213.2 317.8L217.8 317.8L219.2 316.8L223.8 316.8L225.2 315.8L229.8 315.8L231.2 314.8L235.8 314.8L237.2 313.8L241.8 313.8L243.2 312.8L247.8 312.8L248.8 311.8L248.8 310.2L246.8 306.2L246.8 303.8L246.2 303.2L246.8 301.2L249.2 301.2L254.2 303.2L266.2 305.8L273.2 308.8L276.2 308.8L276.8 308.2L307.8 303.2L319.8 300.2L321.8 299.2L333.2 296.8L353.8 290.2L364.2 289.8L363.8 285.8L372.2 278.2L374.2 277.2L386.2 265.2L389.8 263.2L389.8 150.2Z"/>
<path fill="#00ff52" fill-rule="evenodd" d="M190.2 150.2L190.2 321.8L193.2 320.8L198.2 320.8L200.2 319.8L204.2 319.8L206.2 318.8L210.2 318.8L212.2 317.8L216.2 317.8L218.2 316.8L222.2 316.8L224.2 315.8L228.2 315.8L230.2 314.8L234.2 314.8L236.2 313.8L240.2 313.8L242.2 312.8L246.8 312.8L248.2 311.8L248.2 310.2L245.8 304.2L244.8 300.2L245.2 298.2L247.2 298.2L252.2 300.2L264.2 302.8L268.8 304.2L272.2 306.2L277.2 306.2L280.2 305.2L296.8 302.8L310.8 299.8L312.8 298.8L316.2 298.2L318.2 297.2L333.8 293.2L351.2 286.8L357.8 286.2L358.2 285.8L362.2 286.8L372.2 277.8L373.8 277.2L386.2 264.8L389.8 262.8L389.8 150.2Z"/>
<path fill="#00ff61" fill-rule="evenodd" d="M190.2 150.2L190.2 321.2L191.8 321.2L193.8 320.2L198.8 320.2L200.8 319.2L204.8 319.2L206.8 318.2L210.8 318.2L212.8 317.2L216.8 317.2L218.8 316.2L222.8 316.2L224.8 315.2L228.8 315.2L230.8 314.2L234.8 314.2L236.8 313.2L240.8 313.2L242.8 312.2L247.2 312.2L247.8 309.8L246.2 307.2L245.2 302.8L243.2 297.8L244.2 295.2L252.2 297.8L254.2 297.8L264.2 300.2L272.8 304.2L274.8 304.2L306.2 298.2L333.8 289.8L350.8 282.8L355.8 282.2L362.8 285.2L367.8 281.8L371.8 277.8L373.8 276.8L385.8 264.8L388.8 262.8L389.8 262.8L389.8 150.2Z"/>
<path fill="#00ff71" fill-rule="evenodd" d="M190.2 150.2L190.2 320.8L191.8 320.8L193.8 319.8L198.8 319.8L200.8 318.8L204.8 318.8L206.8 317.8L210.8 317.8L212.8 316.8L216.8 316.8L218.8 315.8L222.8 315.8L224.8 314.8L228.8 314.8L230.8 313.8L234.8 313.8L236.8 312.8L240.8 312.8L242.8 311.8L247.2 311.8L247.2 309.8L245.2 306.2L244.8 303.2L242.8 299.2L242.8 297.2L241.8 294.8L241.8 293.2L242.8 292.2L248.8 294.2L262.2 297.2L271.8 301.8L275.2 301.8L293.8 297.8L303.8 296.2L307.2 294.8L308.8 294.8L331.2 287.2L350.8 278.8L355.8 279.8L363.2 284.2L367.8 281.2L371.8 277.2L373.8 276.2L385.8 264.2L388.8 262.2L389.8 262.2L389.8 150.2Z"/>
<path fill="#00ff81" fill-rule="evenodd" d="M190.2 150.2L190.2 320.2L192.8 319.2L197.8 319.2L199.8 318.2L209.8 317.2L211.8 316.2L215.8 316.2L217.8 315.2L221.8 315.2L223.8 314.2L227.8 314.2L229.8 313.2L233.8 313.2L235.8 312.2L239.8 312.2L241.8 311.2L246.2 311.2L246.2 309.2L244.2 305.8L244.2 304.2L241.8 299.2L241.8 297.8L240.2 294.2L240.2 292.2L242.2 289.8L252.8 292.8L258.8 293.8L271.2 299.2L275.8 299.2L303.2 293.8L331.2 283.8L348.8 275.2L352.8 276.2L358.8 279.2L362.8 282.8L363.8 282.8L373.8 275.2L385.8 263.2L389.8 261.2L389.8 150.2Z"/>
<path fill="#00ff91" fill-rule="evenodd" d="M190.2 150.2L190.2 294.2L207.8 294.2L209.2 293.2L226.8 293.2L228.2 292.2L238.8 292.2L240.2 291.2L241.2 287.2L243.2 287.2L246.8 288.8L256.8 290.8L261.2 292.2L271.8 297.2L302.2 291.2L328.2 281.8L347.2 272.2L353.8 275.2L356.2 275.8L355.8 273.2L353.8 270.2L353.8 269.2L349.2 263.2L349.2 261.8L350.2 260.8L368.8 251.8L370.2 250.2L389.8 240.8L389.8 150.2Z"/>
<path fill="#00ffa1" fill-rule="evenodd" d="M190.2 150.2L190.2 293.8L206.8 293.8L208.8 292.8L225.8 292.8L227.8 291.8L238.8 291.8L240.2 290.2L240.2 288.8L239.2 286.8L239.8 284.2L256.8 288.2L271.2 294.8L301.8 288.8L328.2 278.8L345.8 269.8L348.2 270.2L353.2 272.8L352.8 269.8L348.2 262.8L348.2 261.8L349.8 260.2L368.2 251.2L369.8 249.8L388.8 240.2L389.8 240.2L389.8 150.2Z"/>
<path fill="#00ffb0" fill-rule="evenodd" d="M190.2 150.2L190.2 293.2L207.2 293.2L209.2 292.2L226.2 292.2L228.2 291.2L238.8 291.2L239.8 290.2L239.8 288.8L237.8 283.8L238.8 281.2L256.2 285.8L265.2 290.2L271.2 292.2L299.2 286.8L326.8 276.2L344.2 267.2L347.2 267.8L351.2 269.8L348.8 264.2L347.8 263.2L347.8 261.8L349.8 259.8L368.2 250.8L369.8 249.2L388.8 239.8L389.8 239.8L389.8 150.2Z"/>
<path fill="#00ffc0" fill-rule="evenodd" d="M190.2 150.2L190.2 292.8L207.8 292.8L209.8 291.8L226.8 291.8L228.8 290.8L238.8 290.8L239.2 288.2L237.2 284.2L237.2 281.8L236.8 281.2L236.8 279.2L237.8 278.2L241.2 279.8L254.2 282.8L264.8 287.8L270.8 289.8L273.2 289.8L298.8 284.2L322.2 275.2L342.2 264.8L344.8 264.8L348.2 266.2L347.2 263.2L347.2 261.8L348.2 260.2L389.8 239.2L389.8 150.2Z"/>
<path fill="#00ffd0" fill-rule="evenodd" d="M190.2 150.2L190.2 292.8L206.2 292.8L208.2 291.8L225.2 291.8L227.2 290.8L237.8 290.8L238.8 290.2L238.8 288.2L235.2 278.8L235.2 276.2L235.8 275.8L237.8 275.8L241.2 277.2L250.8 279.2L261.8 284.2L270.2 287.2L273.2 287.2L294.2 282.2L296.2 282.2L324.2 271.2L340.8 262.2L343.2 262.2L346.2 263.8L346.8 261.8L348.2 259.8L389.8 238.8L389.8 150.2Z"/>
<path fill="#00ffe0" fill-rule="evenodd" d="M190.2 150.2L190.2 292.2L206.8 292.2L208.8 291.2L225.8 291.2L227.8 290.2L238.2 290.2L238.8 289.2L236.8 285.2L236.8 283.8L234.2 277.8L233.8 274.2L234.8 272.8L251.8 277.2L259.8 281.2L270.2 284.8L273.2 284.8L293.8 279.8L295.8 279.8L318.8 270.8L339.2 259.8L342.2 259.8L345.8 261.8L347.8 259.8L366.2 250.8L368.8 248.8L388.8 238.8L389.8 238.8L389.8 150.2Z"/>
<path fill="#00ffef" fill-rule="evenodd" d="M190.2 150.2L190.2 291.8L206.8 291.8L208.8 290.8L225.8 290.8L227.8 289.8L237.8 289.8L238.2 289.2L236.2 285.2L235.8 282.2L233.2 276.8L232.8 273.2L233.8 270.2L247.2 273.2L259.2 278.8L270.2 282.2L273.2 282.2L286.8 278.8L295.2 277.2L318.8 267.8L337.8 257.2L340.8 257.2L344.2 259.8L346.2 260.2L366.2 250.2L368.8 248.2L388.8 238.2L389.8 238.2L389.8 150.2Z"/>
<path fill="#00ffff" fill-rule="evenodd" d="M190.2 150.2L190.2 291.2L206.2 291.2L208.2 290.2L225.2 290.2L227.2 289.2L236.8 289.2L237.2 288.8L235.2 284.8L235.2 283.2L232.2 276.2L232.2 273.2L232.8 272.8L232.2 268.2L233.2 267.2L248.2 271.2L256.2 275.2L269.8 279.8L273.2 279.8L297.2 273.8L302.2 271.2L314.2 266.8L336.2 254.8L339.2 254.8L345.8 258.8L348.8 258.2L349.8 257.2L350.8 257.2L351.8 256.2L352.8 256.2L353.8 255.2L354.8 255.2L355.8 254.2L356.8 254.2L357.8 253.2L364.8 250.2L370.8 246.2L371.8 246.2L372.8 245.2L373.8 245.2L374.8 244.2L375.8 244.2L376.8 243.2L377.8 243.2L378.8 242.2L379.8 242.2L380.8 241.2L381.8 241.2L382.8 240.2L389.8 237.2L389.8 150.2Z"/>
<path fill="#00efff" fill-rule="evenodd" d="M190.2 278.2L194.8 278.2L196.8 277.2L204.8 277.2L206.8 276.2L213.8 276.2L215.8 275.2L223.8 275.2L225.8 274.2L231.2 274.2L232.2 272.8L231.2 267.8L231.2 265.2L231.8 264.8L243.2 267.2L255.8 272.8L269.8 277.2L272.8 277.2L295.2 271.8L313.2 264.2L335.2 252.2L337.8 252.2L341.2 253.8L339.2 248.8L335.8 243.2L335.8 242.2L337.2 240.8L343.2 236.8L345.8 235.8L354.2 229.8L356.8 228.8L365.2 222.8L367.8 221.8L376.2 215.8L378.8 214.8L387.2 208.8L389.8 207.8L389.8 150.2L190.2 150.2Z"/>
<path fill="#00dfff" fill-rule="evenodd" d="M190.2 277.8L194.2 277.8L195.8 276.8L204.2 276.8L205.8 275.8L213.2 275.8L214.8 274.8L223.2 274.8L224.8 273.8L230.8 273.8L231.8 272.8L231.2 268.2L229.8 264.8L229.8 263.2L230.8 261.8L244.2 265.2L251.2 268.8L267.8 274.2L272.2 274.8L293.2 269.8L313.8 261.2L333.8 249.8L337.8 250.2L336.8 246.2L334.8 243.2L334.8 242.2L336.8 240.2L342.8 236.2L345.2 235.2L353.8 229.2L356.2 228.2L364.8 222.2L367.2 221.2L375.8 215.2L378.2 214.2L386.8 208.2L389.8 207.2L389.8 150.2L190.2 150.2Z"/>
<path fill="#00cfff" fill-rule="evenodd" d="M190.2 277.2L194.2 277.2L196.2 276.2L204.2 276.2L206.2 275.2L213.2 275.2L215.2 274.2L223.2 274.2L225.2 273.2L230.8 273.2L231.8 271.8L228.2 260.2L229.2 258.8L241.2 261.8L250.8 266.2L262.8 270.2L264.2 270.2L269.8 272.2L271.8 272.2L296.8 265.8L316.8 256.8L332.2 247.2L335.8 247.2L334.2 243.8L334.2 242.2L335.2 240.8L342.8 235.8L345.2 234.8L353.8 228.8L356.2 227.8L364.8 221.8L367.2 220.8L375.8 214.8L378.2 213.8L386.8 207.8L389.8 206.8L389.8 150.2L190.2 150.2Z"/>
<path fill="#00c0ff" fill-rule="evenodd" d="M190.2 276.8L194.8 276.8L196.8 275.8L204.8 275.8L206.8 274.8L213.8 274.8L215.8 273.8L223.8 273.8L225.8 272.8L230.8 272.8L231.2 272.2L230.8 268.8L229.8 267.2L227.2 259.2L227.2 256.8L227.8 256.2L237.8 258.2L247.8 262.8L262.8 267.8L270.8 269.8L291.8 264.8L298.8 262.2L317.8 253.2L330.8 244.8L333.2 244.8L333.8 242.2L335.2 240.2L336.8 239.8L341.2 236.2L344.8 234.8L352.2 229.2L355.8 227.8L363.2 222.2L366.8 220.8L374.2 215.2L377.8 213.8L385.2 208.2L389.8 206.2L389.8 150.2L190.2 150.2Z"/>
<path fill="#00b0ff" fill-rule="evenodd" d="M190.2 276.8L193.2 276.8L195.2 275.8L203.2 275.8L205.2 274.8L212.2 274.8L214.2 273.8L222.2 273.8L224.2 272.8L229.8 272.8L230.8 272.2L230.2 268.2L228.8 265.8L228.8 264.2L226.2 258.2L225.8 254.2L226.8 253.2L235.8 255.2L245.8 259.8L267.8 266.8L272.2 266.8L295.8 260.8L317.8 250.2L329.2 242.2L332.8 242.8L335.2 239.8L336.8 239.2L341.2 235.8L344.8 234.2L352.2 228.8L355.8 227.2L363.2 221.8L366.8 220.2L368.2 218.8L369.8 218.2L374.2 214.8L377.8 213.2L385.2 207.8L389.8 205.8L389.8 150.2L190.2 150.2Z"/>
<path fill="#00a0ff" fill-rule="evenodd" d="M190.2 276.2L193.8 276.2L195.8 275.2L203.8 275.2L205.8 274.2L212.8 274.2L214.8 273.2L222.8 273.2L224.8 272.2L230.2 272.2L230.2 269.8L226.2 259.8L224.2 252.8L225.8 250.2L233.8 252.2L239.2 254.2L242.8 256.2L267.8 264.2L271.8 264.2L295.2 258.2L315.2 248.8L328.2 239.8L329.8 239.8L333.2 241.2L340.8 235.8L343.2 234.8L384.8 207.8L389.8 205.8L389.8 150.2L190.2 150.2Z"/>
<path fill="#0090ff" fill-rule="evenodd" d="M190.2 275.8L194.2 275.8L195.8 274.8L204.2 274.8L205.8 273.8L213.2 273.8L214.8 272.8L223.2 272.8L224.8 271.8L229.8 271.8L229.8 269.2L227.8 265.2L227.8 263.8L225.2 258.8L225.2 257.2L223.8 253.8L223.8 251.2L224.8 247.8L233.8 249.8L242.2 253.8L267.8 261.8L271.2 261.8L294.8 255.8L314.2 246.2L326.8 237.2L328.2 237.2L332.8 240.2L336.2 238.8L340.8 235.2L347.2 231.8L351.8 228.2L358.2 224.8L362.8 221.2L369.2 217.8L370.8 216.2L380.2 210.8L384.8 207.2L389.8 205.2L389.8 150.2L190.2 150.2Z"/>
<path fill="#0081ff" fill-rule="evenodd" d="M190.2 275.2L193.2 275.2L195.2 274.2L203.2 274.2L205.2 273.2L212.2 273.2L214.2 272.2L222.2 272.2L224.2 271.2L228.8 271.2L229.2 269.8L223.2 255.2L223.8 249.2L222.8 247.2L222.8 245.8L223.8 244.8L233.2 247.2L239.2 250.2L252.8 254.8L254.2 254.8L267.8 259.2L270.8 259.2L294.2 253.2L311.8 244.8L324.8 234.8L327.8 234.8L332.2 238.8L333.8 239.2L340.2 234.8L343.8 233.2L351.2 227.8L354.8 226.2L362.2 220.8L365.8 219.2L367.2 217.8L368.8 217.2L373.2 213.8L376.8 212.2L384.2 206.8L389.8 204.2L389.8 150.2L190.2 150.2Z"/>
<path fill="#0071ff" fill-rule="evenodd" d="M190.2 266.8L193.2 265.2L203.2 255.2L205.8 254.2L215.2 254.2L216.8 253.2L222.2 253.2L223.2 251.8L223.2 249.2L221.2 244.2L221.2 243.2L222.2 242.2L228.2 243.2L233.8 245.2L237.2 247.2L268.2 256.8L272.2 256.2L293.2 250.8L309.8 242.8L323.2 232.2L325.8 231.2L324.2 226.8L321.8 223.8L321.8 222.2L322.8 221.2L327.2 219.2L333.8 214.8L339.2 212.2L345.8 207.8L351.2 205.2L357.8 200.8L363.2 198.2L369.8 193.8L375.2 191.2L381.8 186.8L387.2 184.2L388.8 182.8L389.8 182.8L389.8 150.2L190.2 150.2Z"/>
<path fill="#0061ff" fill-rule="evenodd" d="M190.2 266.2L191.8 265.8L202.2 255.2L205.2 253.8L214.2 253.8L216.2 252.8L221.8 252.8L222.8 251.8L222.8 248.8L220.8 244.2L220.2 241.8L220.8 239.2L226.2 240.2L230.8 241.8L234.2 243.8L268.2 254.2L292.2 248.2L306.8 241.2L322.8 229.2L322.8 227.2L320.8 223.8L320.8 222.2L322.8 220.2L327.2 218.2L334.8 213.2L339.2 211.2L346.8 206.2L351.2 204.2L358.8 199.2L363.2 197.2L370.8 192.2L375.2 190.2L382.8 185.2L389.8 181.8L389.8 150.2L190.2 150.2Z"/>
<path fill="#0051ff" fill-rule="evenodd" d="M190.2 265.8L191.8 265.2L202.2 254.8L205.2 253.2L214.2 253.2L216.2 252.2L221.8 252.2L222.8 251.2L222.8 249.2L220.2 244.2L220.2 242.2L218.8 238.8L218.8 237.2L219.8 236.2L226.2 237.8L233.8 241.2L242.8 244.2L244.2 244.2L268.2 251.8L291.2 245.8L304.8 239.2L311.2 234.8L320.2 227.2L320.2 221.8L324.8 218.8L325.8 218.8L336.8 211.8L337.8 211.8L348.8 204.8L349.8 204.8L360.8 197.8L361.8 197.8L372.8 190.8L373.8 190.8L381.2 185.8L389.8 181.2L389.8 150.2L190.2 150.2Z"/>
<path fill="#0041ff" fill-rule="evenodd" d="M190.2 265.2L191.2 265.2L201.2 255.2L206.2 252.8L214.8 252.8L216.8 251.8L221.8 251.8L222.2 251.2L222.2 249.2L220.2 245.2L219.8 242.2L217.8 237.8L217.8 235.2L218.8 233.8L224.2 234.8L230.8 237.8L266.2 248.8L270.8 248.8L282.8 245.8L291.8 242.8L301.2 238.2L307.2 234.2L315.8 227.2L318.8 224.2L319.8 221.8L321.2 220.2L326.8 217.8L333.2 213.2L338.8 210.8L345.2 206.2L350.8 203.8L357.2 199.2L362.8 196.8L369.2 192.2L374.8 189.8L376.2 188.2L386.8 182.8L388.2 181.2L389.2 181.2L389.8 180.8L389.8 150.2L190.2 150.2Z"/>
<path fill="#0032ff" fill-rule="evenodd" d="M190.2 265.2L191.8 264.8L202.2 254.2L204.8 252.8L213.8 252.8L215.2 251.8L221.2 251.8L222.2 250.8L221.2 247.2L219.8 244.8L219.2 241.8L217.2 237.8L217.2 231.2L217.8 230.8L223.8 232.2L228.8 234.8L237.8 237.8L239.2 237.8L266.2 246.2L270.2 246.2L282.2 243.2L290.8 240.2L300.2 235.8L305.2 232.2L316.8 222.2L319.2 221.8L322.2 219.2L326.8 217.2L334.2 212.2L338.8 210.2L346.2 205.2L350.8 203.2L353.2 201.2L362.8 196.2L370.2 191.2L374.8 189.2L382.2 184.2L388.8 180.8L389.8 180.8L389.8 150.2L190.2 150.2Z"/>
<path fill="#0022ff" fill-rule="evenodd" d="M190.2 265.2L201.2 254.8L204.2 252.8L205.8 252.2L214.2 252.2L215.8 251.2L221.2 251.2L221.8 250.8L221.8 249.2L219.8 245.8L219.2 242.8L216.8 237.2L217.2 234.8L215.8 230.2L216.2 228.2L218.8 228.2L237.8 235.2L239.2 235.2L266.2 243.8L269.8 243.8L279.8 241.2L289.8 237.8L298.2 233.8L306.2 227.8L314.8 219.8L316.2 219.2L318.2 220.8L319.8 220.8L320.8 219.8L326.2 217.2L327.8 215.8L331.2 214.2L332.8 212.8L338.2 210.2L344.8 205.8L350.2 203.2L356.8 198.8L362.2 196.2L368.8 191.8L374.2 189.2L380.8 184.8L386.2 182.2L387.8 180.8L389.8 180.2L389.8 150.2L190.2 150.2Z"/>
<path fill="#0012ff" fill-rule="evenodd" d="M190.2 264.8L191.2 264.8L201.8 254.2L204.8 252.2L206.2 251.8L214.2 251.8L216.2 250.8L221.2 250.8L221.2 249.2L216.8 238.8L216.8 233.8L214.8 227.8L215.2 225.2L216.8 225.2L232.8 231.2L249.2 235.8L265.8 241.2L269.2 241.2L283.8 237.2L297.2 231.2L308.8 221.8L313.8 216.8L315.2 216.8L319.2 220.2L326.2 216.8L332.8 212.2L338.2 209.8L339.8 208.2L350.2 202.8L356.8 198.2L362.2 195.8L368.8 191.2L374.2 188.8L380.8 184.2L386.2 181.8L387.8 180.2L389.8 179.8L389.8 150.2L190.2 150.2Z"/>
<path fill="#0002ff" fill-rule="evenodd" d="M190.2 264.8L200.8 254.8L206.2 251.2L213.8 251.2L215.8 250.2L220.8 250.2L216.2 239.2L216.8 234.8L213.2 224.8L213.8 222.2L216.8 222.8L222.2 225.2L232.8 228.8L244.2 231.8L260.8 237.2L262.2 237.2L265.8 238.8L268.8 238.8L281.8 235.2L294.8 229.8L303.2 222.8L312.8 213.8L314.8 214.2L319.2 219.2L325.8 216.2L333.2 211.2L337.8 209.2L345.2 204.2L349.8 202.2L352.2 200.2L361.8 195.2L369.2 190.2L373.8 188.2L381.2 183.2L388.8 179.2L389.8 179.2L389.8 150.2L190.2 150.2Z"/>
<path fill="#0d00ff" fill-rule="evenodd" d="M190.2 264.8L201.8 253.8L205.8 251.2L211.2 244.8L212.2 242.8L215.8 239.2L216.2 233.2L214.8 230.8L214.8 229.2L212.2 223.2L212.2 220.2L212.8 219.8L214.8 219.8L227.8 224.8L239.2 227.8L264.2 235.8L269.8 235.8L282.2 232.2L294.2 226.8L301.8 220.2L303.2 217.2L310.8 210.2L310.8 208.8L309.2 206.2L309.2 204.8L310.8 203.2L312.2 202.8L315.8 199.2L317.2 198.8L320.8 195.2L322.2 194.8L325.8 191.2L327.2 190.8L330.8 187.2L332.2 186.8L335.8 183.2L337.2 182.8L340.8 179.2L342.2 178.8L345.8 175.2L347.2 174.8L350.8 171.2L352.2 170.8L355.8 167.2L357.2 166.8L360.8 163.2L362.2 162.8L365.8 159.2L367.2 158.8L370.8 155.2L372.2 154.8L374.8 152.2L375.2 150.2L190.2 150.2Z"/>
<path fill="#1d00ff" fill-rule="evenodd" d="M190.2 264.2L191.8 263.8L206.8 249.2L207.2 247.8L210.8 244.2L211.2 242.8L215.8 237.8L216.2 234.2L212.2 224.2L210.8 218.2L211.8 216.8L227.8 222.2L229.2 222.2L244.2 227.2L264.2 232.8L271.2 232.2L281.2 229.8L283.8 228.2L290.8 225.8L297.2 221.2L300.2 217.8L301.2 211.2L304.8 208.2L307.8 208.2L307.8 205.8L310.2 202.8L315.8 198.8L318.8 195.8L320.8 194.8L323.8 191.8L325.8 190.8L328.8 187.8L330.8 186.8L333.8 183.8L335.8 182.8L338.8 179.8L340.8 178.8L343.8 175.8L345.8 174.8L348.8 171.8L350.8 170.8L353.8 167.8L355.8 166.8L358.8 163.8L360.8 162.8L363.8 159.8L365.8 158.8L368.8 155.8L370.8 154.8L374.8 150.2L190.2 150.2Z"/>
<path fill="#2d00ff" fill-rule="evenodd" d="M190.2 264.2L201.2 253.8L204.8 251.2L206.8 247.8L215.8 237.2L215.8 233.2L214.8 231.8L214.2 228.8L211.8 223.8L211.8 222.2L210.2 218.8L210.2 216.2L209.8 215.8L210.2 214.2L212.2 214.2L222.8 218.2L234.2 221.2L249.2 226.2L261.8 229.2L270.2 229.2L280.2 227.2L290.8 222.8L297.2 218.2L298.8 216.2L299.2 207.2L300.8 205.8L306.8 206.2L309.2 202.8L310.8 202.2L314.2 198.8L315.8 198.2L319.2 194.8L320.8 194.2L324.2 190.8L325.8 190.2L329.2 186.8L330.8 186.2L334.2 182.8L335.8 182.2L339.2 178.8L340.8 178.2L344.2 174.8L345.8 174.2L349.2 170.8L350.8 170.2L354.2 166.8L355.8 166.2L359.2 162.8L360.8 162.2L364.2 158.8L365.8 158.2L369.2 154.8L370.8 154.2L374.2 150.2L190.2 150.2Z"/>
<path fill="#3d00ff" fill-rule="evenodd" d="M190.2 264.2L204.8 250.8L206.8 247.2L215.2 237.8L215.8 233.2L214.2 230.8L213.2 226.8L211.8 224.2L211.2 221.2L209.8 218.2L209.2 214.8L208.2 212.8L208.8 211.2L210.8 211.2L212.2 212.2L222.8 215.8L229.2 217.2L244.2 222.2L250.2 223.2L256.8 225.2L264.8 225.8L265.2 226.2L277.8 225.2L287.8 221.2L295.2 216.8L297.2 214.2L297.2 207.8L297.8 205.8L299.2 204.2L306.2 204.8L309.2 202.2L310.8 201.8L314.2 198.2L315.8 197.8L319.2 194.2L320.8 193.8L324.2 190.2L325.8 189.8L329.2 186.2L330.8 185.8L334.2 182.2L335.8 181.8L339.2 178.2L340.8 177.8L344.2 174.2L345.8 173.8L349.2 170.2L350.8 169.8L354.2 166.2L355.8 165.8L359.2 162.2L360.8 161.8L364.2 158.2L365.8 157.8L369.2 154.2L370.8 153.8L373.8 150.2L190.2 150.2Z"/>
<path fill="#4d00ff" fill-rule="evenodd" d="M190.2 263.8L203.8 251.8L210.2 242.8L214.2 238.8L215.8 235.8L215.8 233.8L213.8 230.2L213.2 227.2L211.2 223.8L211.2 222.2L207.2 211.8L207.2 209.2L208.2 208.2L234.2 216.8L243.8 219.2L248.2 219.8L254.2 221.8L262.8 222.2L263.2 222.8L275.2 222.8L279.2 221.8L286.8 218.8L294.8 214.2L295.8 212.8L296.2 205.2L297.8 203.8L300.2 202.8L306.8 203.8L310.2 201.8L313.8 198.2L315.2 197.8L318.8 194.2L320.2 193.8L323.8 190.2L325.2 189.8L328.8 186.2L330.2 185.8L333.8 182.2L335.2 181.8L338.8 178.2L340.2 177.8L343.8 174.2L345.2 173.8L348.8 170.2L350.2 169.8L353.8 166.2L355.2 165.8L358.8 162.2L360.2 161.8L363.8 158.2L365.2 157.8L368.8 154.2L370.2 153.8L373.2 150.2L190.2 150.2Z"/>
<path fill="#5c00ff" fill-rule="evenodd" d="M190.2 263.8L203.8 251.2L206.2 247.2L215.2 236.8L215.8 234.8L213.8 230.8L213.2 227.8L211.2 224.2L210.8 221.2L209.2 218.8L208.8 215.8L206.8 211.8L205.8 206.8L206.8 205.8L208.2 205.8L232.8 213.8L246.2 216.2L251.8 218.2L260.8 218.8L261.2 219.2L267.8 219.2L268.2 219.8L278.2 219.2L292.8 212.8L294.2 211.2L294.2 207.8L295.2 204.8L297.2 202.8L299.8 201.8L302.8 201.8L304.2 202.8L306.8 203.2L310.2 201.2L313.8 197.8L315.2 197.2L318.8 193.8L320.2 193.2L323.8 189.8L325.2 189.2L328.8 185.8L330.2 185.2L333.8 181.8L335.2 181.2L338.8 177.8L340.2 177.2L343.8 173.8L345.2 173.2L348.8 169.8L350.2 169.2L353.8 165.8L355.2 165.2L358.8 161.8L360.2 161.2L363.8 157.8L365.2 157.2L368.8 153.8L370.2 153.2L372.8 150.2L190.2 150.2Z"/>
<path fill="#6c00ff" fill-rule="evenodd" d="M190.2 263.8L203.2 251.8L206.2 246.8L209.8 243.2L210.8 241.2L213.8 238.8L215.2 236.2L214.8 232.2L211.2 224.8L210.2 220.8L208.8 217.8L208.8 216.2L206.8 212.8L206.2 209.2L204.8 206.2L204.2 203.8L205.2 202.8L226.2 209.2L242.2 212.2L249.2 214.8L276.8 216.8L291.2 210.8L292.8 209.2L293.2 206.2L295.8 202.2L298.2 201.8L300.8 200.2L302.2 200.2L305.2 202.2L307.8 202.2L310.2 200.8L313.2 197.8L315.2 196.8L318.2 193.8L320.2 192.8L323.2 189.8L325.2 188.8L328.2 185.8L330.2 184.8L333.2 181.8L335.2 180.8L338.2 177.8L340.2 176.8L343.2 173.8L345.2 172.8L348.2 169.8L350.2 168.8L353.2 165.8L355.2 164.8L358.2 161.8L370.2 152.8L372.2 150.2L190.2 150.2Z"/>
<path fill="#7c00ff" fill-rule="evenodd" d="M190.2 263.2L203.2 251.2L205.8 247.2L214.2 237.8L215.2 235.8L214.8 232.8L211.2 225.2L210.2 221.2L208.8 218.8L208.2 215.8L206.2 212.2L205.8 209.2L203.8 204.8L203.2 200.8L204.2 199.8L221.2 205.2L237.8 208.2L246.2 211.2L263.2 212.2L263.8 212.8L271.8 213.2L272.2 213.8L277.2 213.8L290.8 208.2L292.2 204.8L290.8 203.2L290.2 201.2L292.2 199.8L297.2 200.8L300.8 198.8L302.2 198.8L306.2 201.8L309.8 200.2L371.8 150.2L190.2 150.2Z"/>
<path fill="#8c00ff" fill-rule="evenodd" d="M190.2 263.2L203.2 250.8L205.8 246.8L214.8 236.2L214.8 233.2L213.2 230.8L213.2 229.2L211.2 225.8L207.8 215.2L205.8 211.8L205.2 208.8L202.8 203.2L202.8 201.2L201.8 199.2L202.2 197.2L204.2 197.2L218.8 201.8L235.8 204.8L243.8 207.8L259.8 208.8L260.2 209.2L266.2 209.8L273.2 211.2L276.2 211.2L279.8 210.2L284.8 207.2L286.8 205.2L287.8 200.8L289.2 198.8L297.8 198.2L299.8 197.2L299.8 195.2L294.8 190.2L294.2 187.2L294.8 186.8L295.2 178.8L296.2 176.8L296.2 173.2L299.8 162.2L299.8 160.2L304.2 150.2L190.2 150.2Z"/>
<path fill="#9b00ff" fill-rule="evenodd" d="M190.2 262.8L202.8 251.2L205.8 246.2L208.8 243.2L210.2 240.8L213.2 238.2L214.8 235.8L214.8 233.8L210.8 225.2L209.8 221.2L208.2 218.8L208.2 217.2L206.2 213.8L205.2 209.8L203.8 207.2L201.8 200.2L200.8 198.8L200.2 196.2L201.2 194.2L214.2 197.8L231.8 200.8L241.2 204.2L252.8 204.8L261.8 207.2L270.2 208.2L273.8 209.2L278.2 208.8L280.8 207.2L284.2 202.2L285.2 199.8L287.2 197.8L291.8 196.8L295.2 196.8L297.2 195.8L297.2 194.8L293.2 190.2L292.2 187.2L293.8 183.8L294.2 178.2L295.2 176.8L295.2 173.8L296.8 169.8L296.8 167.8L297.8 166.2L298.8 160.8L299.8 157.8L303.2 151.8L303.2 150.2L190.2 150.2Z"/>
<path fill="#ab00ff" fill-rule="evenodd" d="M190.2 262.2L202.2 251.2L205.2 246.2L214.2 236.2L214.2 233.2L212.8 230.8L212.8 229.2L209.8 223.8L209.8 222.2L207.8 218.2L207.8 216.8L205.2 212.2L204.2 208.2L202.2 204.8L201.8 201.8L199.8 197.8L199.8 195.8L198.8 192.2L199.8 191.2L207.2 193.2L209.8 193.2L220.2 195.8L225.2 196.2L230.8 197.8L236.2 200.2L248.8 201.2L260.8 205.2L267.2 205.8L273.8 207.2L277.8 206.8L279.8 205.8L283.2 198.8L285.2 196.8L289.2 195.8L292.2 195.8L294.8 194.8L294.8 193.2L290.8 187.8L290.8 186.2L292.8 183.2L293.8 177.8L294.8 176.2L294.8 173.2L296.2 169.8L296.2 167.8L297.2 166.2L298.2 160.8L299.8 156.8L302.8 151.8L302.8 150.2L190.2 150.2Z"/>
<path fill="#bb00ff" fill-rule="evenodd" d="M190.2 261.8L201.2 251.2L205.2 245.2L213.2 237.2L214.2 235.2L211.2 226.8L210.2 225.8L207.2 218.2L207.2 216.8L204.2 211.2L204.2 209.8L201.8 205.2L201.2 202.8L199.2 199.2L198.2 195.2L197.2 193.8L196.2 190.2L197.8 188.2L200.2 188.2L213.2 191.2L223.2 192.8L233.8 196.8L244.2 197.8L259.8 203.2L264.2 203.2L273.8 205.2L277.8 204.8L279.8 202.8L281.2 198.8L283.2 195.8L286.8 194.8L289.8 194.8L293.2 193.2L292.2 190.8L289.8 187.8L289.8 185.2L292.2 181.8L297.8 161.2L299.2 157.2L302.8 151.2L302.8 150.2L190.2 150.2Z"/>
<path fill="#cb00ff" fill-rule="evenodd" d="M207.8 222.8L207.8 226.8L208.8 229.2L208.8 234.8L209.8 238.2L210.8 238.2L213.2 235.8L213.2 233.2L212.2 232.2L211.8 229.8L209.2 225.8L208.2 222.8ZM200.8 184.8L201.2 185.2L205.2 185.2L206.2 186.2L209.2 187.2L222.8 189.8L231.2 193.2L239.2 194.2L256.8 200.8L264.2 201.2L264.8 201.8L276.2 203.2L278.8 201.2L281.8 194.8L284.2 193.8L289.2 193.2L291.2 192.2L291.2 190.8L288.8 187.2L288.8 184.2L293.2 176.8L297.8 160.2L302.2 151.8L302.2 150.2L202.2 150.2L206.8 164.2L207.8 169.8L208.8 171.2L209.8 176.8L208.2 178.8Z"/>
<path fill="#db00ff" fill-rule="evenodd" d="M205.2 182.8L205.8 183.2L208.2 183.2L208.8 182.8L216.2 182.2L216.8 182.8L216.2 184.8L217.8 185.8L228.2 189.8L230.2 189.8L238.8 192.2L255.8 198.8L264.8 199.2L265.2 199.8L275.8 201.2L278.2 199.2L279.8 194.2L280.8 193.2L286.2 192.2L289.2 190.8L287.2 185.8L287.2 182.8L293.2 174.2L293.2 172.8L294.8 169.8L296.2 163.8L298.8 157.2L302.2 151.2L302.2 150.2L204.2 150.2L204.2 151.2L208.2 158.8L211.2 166.2L215.2 173.2L215.2 175.2L213.8 176.8L210.8 178.2Z"/>
<path fill="#ea00ff" fill-rule="evenodd" d="M208.8 181.2L210.2 181.8L217.2 180.2L220.2 180.2L221.2 181.2L221.2 184.2L224.8 186.2L230.8 187.8L245.8 193.8L249.8 194.8L251.2 195.8L254.8 196.8L264.8 197.2L265.2 197.8L275.8 199.2L277.2 197.8L278.2 193.2L279.8 191.8L283.8 191.2L287.2 189.2L287.2 187.2L285.2 182.8L292.8 172.2L298.2 157.8L301.8 152.2L302.2 150.2L205.2 150.2L205.2 151.2L206.8 153.2L209.8 160.2L217.2 172.8L217.2 174.2L214.2 177.2L210.8 179.2Z"/>
<path fill="#fa00ff" fill-rule="evenodd" d="M206.8 150.2L206.8 151.2L210.2 156.2L211.2 158.8L219.2 170.8L218.8 173.8L212.2 179.8L222.2 178.8L223.8 179.8L223.8 182.2L225.2 184.2L241.8 190.8L253.8 194.8L265.2 195.2L271.2 196.8L275.8 196.8L276.2 192.2L277.8 190.8L282.2 189.8L285.2 187.8L285.2 185.2L283.8 181.8L286.8 176.8L292.8 169.2L298.8 156.2L301.8 151.8L301.8 150.2Z"/>
<path fill="#ff00f4" fill-rule="evenodd" d="M209.8 150.2L210.2 152.2L221.8 170.2L221.2 172.2L215.8 178.2L219.2 178.2L224.2 177.2L226.2 178.8L227.2 182.8L231.2 185.2L250.8 192.2L259.8 192.8L260.2 193.2L266.8 193.2L267.2 193.8L271.8 193.8L275.8 189.8L280.8 188.2L283.2 186.2L283.2 184.2L282.2 182.2L282.8 179.2L294.8 163.8L301.8 151.2L301.8 150.2Z"/>
<path fill="#ff00e4" fill-rule="evenodd" d="M211.8 150.2L212.2 151.8L220.2 162.8L224.2 169.8L219.8 174.2L218.2 176.8L227.8 176.2L229.2 178.2L230.8 182.8L235.2 185.2L249.8 190.2L257.2 190.8L260.8 191.8L269.2 191.2L279.8 186.2L281.2 184.2L281.2 181.8L280.8 181.2L281.2 178.2L296.2 160.8L298.2 156.2L301.8 150.2Z"/>
<path fill="#ff00d5" fill-rule="evenodd" d="M213.2 151.2L226.2 168.8L225.8 170.2L220.2 175.2L220.8 175.8L225.8 174.8L229.8 174.8L231.2 176.2L233.2 181.2L235.8 183.8L248.8 188.2L251.8 188.2L260.2 190.2L262.8 190.2L270.8 188.2L276.2 185.8L278.8 183.8L279.8 178.2L287.8 169.8L289.2 167.2L295.8 160.8L301.8 150.2L213.2 150.2Z"/>
<path fill="#ff00c5" fill-rule="evenodd" d="M213.8 150.2L227.2 167.8L227.2 169.8L223.2 173.2L223.2 174.2L230.8 173.2L232.8 174.8L235.8 181.2L236.8 182.2L245.8 185.8L259.8 188.8L262.2 188.8L267.2 186.8L270.2 186.2L275.8 183.2L276.8 182.2L277.8 178.8L296.2 159.2L301.2 151.2L301.2 150.2Z"/>
<path fill="#ff00b5" fill-rule="evenodd" d="M214.8 150.2L215.8 152.2L228.8 167.2L228.8 168.8L226.2 171.8L226.2 172.8L232.8 172.2L233.8 173.2L236.2 179.2L238.2 181.2L248.2 184.8L258.8 187.2L261.2 187.2L267.2 185.2L273.2 182.2L274.2 181.2L275.2 178.2L283.8 171.2L296.8 157.8L301.2 150.2Z"/>
<path fill="#ff00a5" fill-rule="evenodd" d="M216.2 150.2L220.8 156.2L230.2 165.8L230.8 167.8L228.8 170.2L228.8 171.2L231.2 170.8L234.2 171.2L238.2 179.2L251.8 184.2L259.2 185.8L265.8 183.8L271.2 180.8L274.2 175.2L277.2 174.2L285.8 166.2L293.2 160.2L300.8 151.8L300.8 150.2Z"/>
<path fill="#ff0095" fill-rule="evenodd" d="M218.2 150.2L221.8 154.8L232.2 165.8L232.2 167.8L231.2 168.8L231.2 169.8L234.8 169.8L236.2 171.2L237.2 174.8L239.2 177.8L245.2 179.2L252.8 182.2L257.8 183.2L262.8 182.8L269.2 179.2L270.8 176.8L270.8 175.2L271.8 174.2L274.8 173.8L280.8 168.2L282.8 167.2L287.8 162.8L297.2 155.8L300.8 151.2L300.8 150.2Z"/>
<path fill="#ff0086" fill-rule="evenodd" d="M220.8 150.2L233.8 164.8L233.8 168.2L235.2 168.2L237.8 170.2L238.2 173.2L240.2 176.2L257.8 180.2L262.2 180.2L267.2 177.8L268.2 176.2L268.8 173.8L269.8 172.8L273.8 172.8L280.2 167.2L281.8 166.8L288.2 161.2L296.2 155.8L299.8 152.2L300.8 150.2Z"/>
<path fill="#ff0076" fill-rule="evenodd" d="M223.8 150.2L224.8 152.8L235.8 164.2L235.8 166.8L237.2 167.2L238.8 168.8L240.2 173.2L241.8 174.8L249.8 176.2L252.8 176.2L253.2 176.8L256.2 176.8L256.8 177.2L263.8 177.2L266.2 174.8L266.2 172.8L267.8 170.8L271.8 171.8L274.2 170.8L288.2 160.2L296.8 154.8L300.2 150.8L300.2 150.2Z"/>
<path fill="#ff0066" fill-rule="evenodd" d="M225.8 150.2L226.2 151.8L236.8 162.8L237.8 165.8L240.2 167.2L242.2 171.2L243.8 172.8L248.2 173.8L255.2 174.2L258.2 175.2L262.2 175.2L263.8 173.8L264.2 170.8L265.8 169.2L271.8 169.8L276.2 167.2L296.2 154.2L299.8 150.8L299.8 150.2Z"/>
<path fill="#ff0056" fill-rule="evenodd" d="M228.2 150.2L228.8 151.8L236.8 160.2L239.2 163.8L241.8 165.8L244.2 170.2L246.8 171.2L254.2 171.8L258.8 173.2L260.2 173.2L261.8 172.2L262.2 168.8L263.2 167.2L266.2 168.2L269.8 168.2L298.8 150.8L298.8 150.2Z"/>
<path fill="#ff0047" fill-rule="evenodd" d="M231.2 150.8L233.2 152.8L233.8 154.2L239.8 160.2L246.2 168.8L252.8 169.2L258.8 170.8L259.8 169.8L260.2 166.8L262.2 165.2L265.8 166.8L267.8 166.8L296.8 150.2L231.2 150.2Z"/>
<path fill="#ff0037" fill-rule="evenodd" d="M246.8 165.8L249.2 166.8L257.2 167.2L259.2 163.8L262.2 163.8L262.8 164.2L266.2 163.8L288.2 152.8L291.8 150.2L237.8 150.2Z"/>
<path fill="#ff0027" fill-rule="evenodd" d="M245.8 157.2L246.8 159.8L248.8 161.8L252.8 163.8L255.2 163.8L257.2 161.2L261.8 161.2L281.8 151.2L282.8 150.2L241.2 150.2Z"/>
<path fill="#ff0017" fill-rule="evenodd" d="M245.2 151.2L247.2 153.8L248.2 156.2L251.2 159.2L254.8 159.8L258.2 158.8L273.2 151.2L274.2 150.2L245.2 150.2Z"/>
</g>
</g>
<polyline fill="none" stroke="#262626" stroke-width="1.1" stroke-linejoin="miter" points="83,102 83,380.8 297.1,423.7 540,385.9"/>
<line x1="83" y1="380.8" x2="76.7" y2="379.5" stroke="#262626" stroke-width="1.1"/>
<text x="70.5" y="385.9" font-size="14.3" text-anchor="end" fill="#262626">-4</text>
<line x1="83" y1="334.3" x2="76.7" y2="333.1" stroke="#262626" stroke-width="1.1"/>
<text x="70.5" y="339.4" font-size="14.3" text-anchor="end" fill="#262626">-2</text>
<line x1="83" y1="287.9" x2="76.7" y2="286.6" stroke="#262626" stroke-width="1.1"/>
<text x="70.5" y="293" font-size="14.3" text-anchor="end" fill="#262626">0</text>
<line x1="83" y1="241.4" x2="76.7" y2="240.1" stroke="#262626" stroke-width="1.1"/>
<text x="70.5" y="246.5" font-size="14.3" text-anchor="end" fill="#262626">2</text>
<line x1="83" y1="194.9" x2="76.7" y2="193.7" stroke="#262626" stroke-width="1.1"/>
<text x="70.5" y="200" font-size="14.3" text-anchor="end" fill="#262626">4</text>
<line x1="83" y1="148.5" x2="76.7" y2="147.2" stroke="#262626" stroke-width="1.1"/>
<text x="70.5" y="153.6" font-size="14.3" text-anchor="end" fill="#262626">6</text>
<line x1="83" y1="102" x2="76.7" y2="100.7" stroke="#262626" stroke-width="1.1"/>
<text x="70.5" y="107.1" font-size="14.3" text-anchor="end" fill="#262626">8</text>
<line x1="83" y1="380.8" x2="76.6" y2="381.8" stroke="#262626" stroke-width="1.1"/>
<text x="65.8" y="397.7" font-size="14.3" text-anchor="middle" fill="#262626">4</text>
<line x1="136.6" y1="391.5" x2="130.1" y2="392.5" stroke="#262626" stroke-width="1.1"/>
<text x="120.3" y="409.1" font-size="14.3" text-anchor="middle" fill="#262626">2</text>
<line x1="190.1" y1="402.2" x2="183.6" y2="403.2" stroke="#262626" stroke-width="1.1"/>
<text x="172.9" y="419.8" font-size="14.3" text-anchor="middle" fill="#262626">0</text>
<line x1="243.6" y1="413" x2="237.1" y2="414" stroke="#262626" stroke-width="1.1"/>
<text x="225.4" y="430.9" font-size="14.3" text-anchor="middle" fill="#262626">-2</text>
<line x1="297.1" y1="423.7" x2="290.6" y2="424.7" stroke="#262626" stroke-width="1.1"/>
<text x="279.7" y="441.9" font-size="14.3" text-anchor="middle" fill="#262626">-4</text>
<line x1="297.1" y1="423.7" x2="303.4" y2="425" stroke="#262626" stroke-width="1.1"/>
<text x="315.6" y="442.2" font-size="14.3" text-anchor="middle" fill="#262626">-4</text>
<line x1="357.8" y1="414.2" x2="364.2" y2="415.5" stroke="#262626" stroke-width="1.1"/>
<text x="376.6" y="432.6" font-size="14.3" text-anchor="middle" fill="#262626">-2</text>
<line x1="418.6" y1="404.8" x2="424.9" y2="406.1" stroke="#262626" stroke-width="1.1"/>
<text x="434.7" y="423.2" font-size="14.3" text-anchor="middle" fill="#262626">0</text>
<line x1="479.3" y1="395.3" x2="485.7" y2="396.6" stroke="#262626" stroke-width="1.1"/>
<text x="495.3" y="413.4" font-size="14.3" text-anchor="middle" fill="#262626">2</text>
<line x1="540" y1="385.9" x2="546.4" y2="387.2" stroke="#262626" stroke-width="1.1"/>
<text x="556.3" y="403.7" font-size="14.3" text-anchor="middle" fill="#262626">4</text>
<text x="203.9" y="470" font-size="29" text-anchor="middle" font-weight="normal" fill="#111">t</text>
<text x="401.7" y="472.1" font-size="29" text-anchor="middle" font-weight="normal" fill="#111">x</text>
<text transform="translate(35.8 241.3) rotate(-90) scale(1.08 1)" font-size="29" text-anchor="middle" fill="#262626">U<tspan dy="13" font-size="19.5">76</tspan><tspan dy="-13">(x,t)</tspan></text>
<text x="326" y="25" font-size="30" font-weight="bold" text-anchor="middle" fill="#000">(a<tspan dy="13.5" font-size="23">1</tspan><tspan dy="-13.5">)</tspan></text>
</g>
<g id="b1">
<line x1="717.8" y1="366.4" x2="1042.3" y2="400.8" stroke="#000" stroke-opacity="0.14" stroke-width="0.9"/>
<line x1="750.9" y1="345" x2="1075.3" y2="379.4" stroke="#000" stroke-opacity="0.14" stroke-width="0.9"/>
<line x1="783.9" y1="323.6" x2="1108.4" y2="358" stroke="#000" stroke-opacity="0.14" stroke-width="0.9"/>
<line x1="817" y1="302.2" x2="1141.5" y2="336.6" stroke="#000" stroke-opacity="0.14" stroke-width="0.9"/>
<line x1="684.7" y1="387.8" x2="817" y2="302.2" stroke="#000" stroke-opacity="0.14" stroke-width="0.9"/>
<line x1="765.8" y1="396.4" x2="898.1" y2="310.8" stroke="#000" stroke-opacity="0.14" stroke-width="0.9"/>
<line x1="847" y1="405" x2="979.2" y2="319.4" stroke="#000" stroke-opacity="0.14" stroke-width="0.9"/>
<line x1="928.1" y1="413.6" x2="1060.4" y2="328" stroke="#000" stroke-opacity="0.14" stroke-width="0.9"/>
<line x1="717.8" y1="366.4" x2="717.8" y2="128.6" stroke="#000" stroke-opacity="0.14" stroke-width="0.9"/>
<line x1="750.9" y1="345" x2="750.9" y2="107.2" stroke="#000" stroke-opacity="0.14" stroke-width="0.9"/>
<line x1="783.9" y1="323.6" x2="783.9" y2="85.8" stroke="#000" stroke-opacity="0.14" stroke-width="0.9"/>
<line x1="817" y1="302.2" x2="817" y2="64.4" stroke="#000" stroke-opacity="0.14" stroke-width="0.9"/>
<line x1="684.7" y1="328.4" x2="817" y2="242.8" stroke="#000" stroke-opacity="0.14" stroke-width="0.9"/>
<line x1="684.7" y1="268.9" x2="817" y2="183.3" stroke="#000" stroke-opacity="0.14" stroke-width="0.9"/>
<line x1="684.7" y1="209.4" x2="817" y2="123.9" stroke="#000" stroke-opacity="0.14" stroke-width="0.9"/>
<line x1="684.7" y1="150" x2="817" y2="64.4" stroke="#000" stroke-opacity="0.14" stroke-width="0.9"/>
<line x1="898.1" y1="310.8" x2="898.1" y2="73" stroke="#000" stroke-opacity="0.14" stroke-width="0.9"/>
<line x1="979.2" y1="319.4" x2="979.2" y2="81.6" stroke="#000" stroke-opacity="0.14" stroke-width="0.9"/>
<line x1="1060.4" y1="328" x2="1060.4" y2="90.2" stroke="#000" stroke-opacity="0.14" stroke-width="0.9"/>
<line x1="1141.5" y1="336.6" x2="1141.5" y2="98.8" stroke="#000" stroke-opacity="0.14" stroke-width="0.9"/>
<line x1="817" y1="242.8" x2="1141.5" y2="277.2" stroke="#000" stroke-opacity="0.14" stroke-width="0.9"/>
<line x1="817" y1="183.3" x2="1141.5" y2="217.7" stroke="#000" stroke-opacity="0.14" stroke-width="0.9"/>
<line x1="817" y1="123.9" x2="1141.5" y2="158.2" stroke="#000" stroke-opacity="0.14" stroke-width="0.9"/>
<line x1="817" y1="64.4" x2="1141.5" y2="98.8" stroke="#000" stroke-opacity="0.14" stroke-width="0.9"/>
<g mask="url(#b1s)">
<g filter="url(#b1sf)">
<rect x="680" y="88" width="468" height="312" fill="#ff0800"/>
<path fill="#ff1700" fill-rule="evenodd" d="M680.2 88.2L680.2 399.8L836.2 399.8L840.2 387.8L841.8 385.2L843.8 384.8L852.8 385.8L853.2 386.2L884.8 386.2L885.2 386.8L887.8 386.8L889.2 387.8L889.2 388.8L890.2 389.8L893.2 390.2L894.8 391.8L895.2 393.2L895.2 399.8L1147.8 399.8L1147.8 88.2Z"/>
<path fill="#ff2600" fill-rule="evenodd" d="M680.2 88.2L680.2 399.8L816.8 399.8L820.8 395.2L821.2 393.8L832.8 382.2L835.8 380.8L853.2 384.2L871.8 384.2L872.2 383.8L893.8 384.2L902.8 388.8L899.8 391.2L899.8 399.8L1147.8 399.8L1147.8 88.2Z"/>
<path fill="#ff3500" fill-rule="evenodd" d="M680.2 88.2L680.2 399.8L815.8 399.8L819.8 395.2L820.8 393.2L832.2 381.8L835.8 379.8L839.2 379.8L839.8 380.2L845.8 380.8L849.2 381.8L852.8 381.8L853.2 382.2L872.8 382.2L873.2 381.8L894.8 382.2L900.8 384.8L919.8 387.8L921.8 388.8L923.2 388.8L924.2 389.8L923.8 390.2L920.8 390.2L916.2 392.2L915.2 396.2L915.2 399.8L1147.8 399.8L1147.8 88.2Z"/>
<path fill="#ff4500" fill-rule="evenodd" d="M680.2 88.2L680.2 399.8L815.2 399.8L815.8 398.2L819.8 394.2L820.8 392.2L831.2 381.8L836.2 378.2L839.8 378.2L840.2 378.8L843.8 378.8L844.2 379.2L847.8 379.2L852.2 380.2L858.8 380.2L859.2 380.8L861.2 380.2L873.2 380.2L873.8 379.8L894.2 379.8L901.2 381.8L905.8 381.8L906.2 382.2L917.8 383.2L935.8 386.8L943.8 388.8L945.8 390.2L939.8 393.8L938.8 399.8L1147.8 399.8L1147.8 88.2Z"/>
<path fill="#ff5400" fill-rule="evenodd" d="M680.2 88.2L680.2 399.8L814.2 399.8L820.8 391.2L830.2 381.8L832.8 380.2L835.2 376.8L840.8 376.8L841.2 377.2L857.2 378.2L857.8 378.8L873.8 378.2L874.2 377.8L897.2 377.8L897.8 378.2L917.2 378.8L917.8 379.2L928.8 379.8L929.2 380.2L937.8 380.8L944.2 382.2L953.8 382.2L964.2 387.8L970.2 389.8L971.8 391.2L971.2 392.2L968.2 393.8L967.2 396.2L967.2 399.8L1147.8 399.8L1147.8 88.2Z"/>
<path fill="#ff6300" fill-rule="evenodd" d="M680.2 88.2L680.2 399.8L813.2 399.8L813.8 398.2L817.8 394.2L818.8 392.2L832.2 379.2L831.8 376.8L832.8 375.2L843.2 375.2L843.8 375.8L861.8 376.8L862.2 376.2L884.2 375.8L884.8 375.2L904.2 375.2L904.8 374.8L920.2 374.8L920.8 374.2L950.2 374.2L950.8 373.8L959.8 373.8L960.2 374.2L968.2 375.2L977.2 378.2L984.2 381.8L996.8 389.2L1000.2 392.2L999.8 399.8L1147.8 399.8L1147.8 88.2Z"/>
<path fill="#ff7300" fill-rule="evenodd" d="M680.2 88.2L680.2 399.8L787.2 399.8L790.2 396.8L798.2 391.8L800.2 389.8L808.2 384.8L810.2 382.8L825.8 372.2L835.8 372.8L836.2 373.2L847.2 373.2L847.8 373.8L868.2 373.8L868.8 373.2L876.2 373.2L876.8 372.8L893.2 372.2L893.8 371.8L899.8 371.8L900.2 371.2L905.2 371.2L905.8 370.8L911.2 370.8L911.8 370.2L917.2 370.2L917.8 369.8L922.8 369.8L923.2 369.2L945.8 367.8L955.8 363.2L967.8 363.2L968.2 363.8L977.8 363.8L978.2 364.2L987.8 364.2L988.2 364.8L997.8 364.8L998.2 365.2L1011.2 365.8L1011.8 365.2L1023.8 364.2L1042.2 360.8L1074.8 346.2L1081.2 344.2L1083.2 344.2L1087.2 346.8L1097.2 356.8L1127.2 396.8L1128.8 399.8L1147.8 399.8L1147.8 88.2Z"/>
<path fill="#ff8200" fill-rule="evenodd" d="M680.2 88.2L680.2 399.8L785.8 399.8L789.8 395.8L797.8 390.8L799.8 388.8L807.8 383.8L819.8 374.8L827.2 370.2L861.2 370.8L861.8 370.2L867.8 370.2L868.2 369.8L897.8 367.8L898.2 367.2L902.2 367.2L906.8 366.2L910.8 366.2L911.2 365.8L915.2 365.8L915.8 365.2L919.8 365.2L920.2 364.8L924.2 364.8L924.8 364.2L944.8 362.2L953.8 357.2L957.8 356.2L963.8 356.2L964.2 355.8L997.8 354.8L1003.8 356.8L1010.2 357.2L1010.8 356.8L1013.8 356.8L1016.8 355.8L1020.2 355.8L1022.8 354.8L1024.8 354.8L1038.8 351.2L1054.2 345.8L1072.2 341.2L1082.8 339.8L1083.2 339.2L1086.2 339.2L1087.2 340.2L1085.8 342.2L1085.8 343.8L1088.8 345.8L1098.2 355.2L1128.2 395.2L1130.8 399.8L1147.8 399.8L1147.8 88.2Z"/>
<path fill="#ff9100" fill-rule="evenodd" d="M680.2 88.2L680.2 399.8L784.8 399.8L784.8 398.8L790.2 394.2L796.8 390.2L820.2 373.2L824.8 370.8L828.2 367.8L861.8 367.2L862.2 366.8L896.2 363.8L896.8 363.2L899.8 363.2L900.2 362.8L903.2 362.8L910.8 361.2L914.2 361.2L914.8 360.8L917.8 360.8L918.2 360.2L921.2 360.2L928.8 358.8L932.2 358.8L932.8 358.2L935.8 358.2L943.8 356.8L950.2 353.2L956.2 351.2L960.8 350.8L970.8 348.2L973.2 348.2L988.8 345.2L991.8 345.2L992.2 344.8L997.2 344.8L1002.8 346.8L1008.2 346.8L1051.8 336.8L1090.2 331.8L1090.8 331.2L1095.8 330.8L1098.8 329.2L1101.2 329.8L1106.8 332.8L1110.8 335.8L1117.8 342.8L1119.8 343.8L1126.8 350.8L1128.8 351.8L1146.2 367.8L1147.8 367.8L1147.8 88.2Z"/>
<path fill="#ffa000" fill-rule="evenodd" d="M680.2 88.2L680.2 399.8L781.8 399.8L782.2 397.8L784.8 395.2L822.2 369.2L822.8 367.2L824.8 365.8L827.2 365.2L853.8 364.8L854.2 364.2L858.2 364.2L858.8 363.8L862.8 363.8L867.2 362.8L871.2 362.8L871.8 362.2L899.2 359.2L899.8 358.8L940.8 352.2L969.2 341.8L970.8 341.8L1001.2 332.8L1027.2 330.2L1027.8 329.8L1032.2 329.8L1037.2 328.8L1041.8 328.8L1046.8 327.8L1051.2 327.8L1056.2 326.8L1060.8 326.8L1065.8 325.8L1084.8 324.2L1085.2 323.8L1088.8 323.8L1089.2 323.2L1095.2 322.8L1102.2 321.2L1106.2 321.2L1107.8 322.8L1105.2 328.2L1111.8 332.2L1118.8 339.2L1120.8 340.2L1127.8 347.2L1129.8 348.2L1136.8 355.2L1138.8 356.2L1145.8 363.2L1147.8 364.2L1147.8 88.2Z"/>
<path fill="#ffb000" fill-rule="evenodd" d="M680.2 88.2L680.2 398.2L684.2 397.8L694.8 394.2L702.2 392.8L712.8 389.2L720.2 387.8L730.8 384.2L738.2 382.8L748.8 379.2L756.2 377.8L766.8 374.2L774.2 372.8L777.8 371.2L792.2 367.8L795.8 366.2L799.2 365.8L802.8 364.2L810.2 362.8L818.8 360.2L823.8 363.2L849.2 362.2L849.8 361.8L854.8 361.8L855.2 361.2L858.8 361.2L859.2 360.8L862.8 360.8L863.2 360.2L866.8 360.2L867.2 359.8L870.8 359.8L871.2 359.2L874.8 359.2L875.2 358.8L878.8 358.8L883.2 357.8L891.2 357.2L891.8 356.8L898.2 356.2L898.8 355.8L913.8 353.8L920.2 352.2L923.2 352.2L932.8 350.2L935.8 350.2L947.8 346.8L968.2 338.8L969.8 338.8L973.2 337.2L974.8 337.2L978.2 335.8L979.8 335.8L1001.2 329.2L1089.8 320.2L1090.2 319.8L1107.8 317.2L1112.8 312.8L1115.8 312.8L1120.2 314.2L1123.8 316.8L1135.2 322.2L1136.8 323.8L1146.8 328.8L1147.8 328.8L1147.8 88.2Z"/>
<path fill="#ffbf00" fill-rule="evenodd" d="M680.2 88.2L680.2 397.2L683.8 397.2L695.8 393.2L701.8 392.2L713.8 388.2L719.8 387.2L731.8 383.2L737.8 382.2L742.8 380.2L744.8 380.2L749.8 378.2L755.8 377.2L760.8 375.2L762.8 375.2L767.8 373.2L773.8 372.2L778.8 370.2L780.8 370.2L785.8 368.2L791.8 367.2L796.8 365.2L798.8 365.2L803.8 363.2L809.8 362.2L814.8 360.2L820.8 359.8L822.2 360.8L829.2 360.8L829.8 360.2L851.8 359.2L852.2 358.8L859.8 358.2L863.8 357.2L895.2 353.8L901.8 352.2L904.8 352.2L908.2 351.2L911.2 351.2L914.8 350.2L937.2 347.2L947.2 344.2L948.8 343.2L972.2 334.8L1001.8 326.8L1024.8 324.8L1025.2 324.2L1029.8 324.2L1030.2 323.8L1034.8 323.8L1035.2 323.2L1039.8 323.2L1040.2 322.8L1044.8 322.8L1045.2 322.2L1049.8 322.2L1050.2 321.8L1054.8 321.8L1055.2 321.2L1063.8 320.8L1064.2 320.2L1076.8 319.2L1081.2 318.2L1085.2 318.2L1101.2 315.2L1107.2 314.8L1109.8 313.8L1112.2 311.8L1114.8 311.8L1120.8 313.8L1124.2 316.2L1134.8 321.2L1137.2 323.2L1147.8 328.2L1147.8 88.2Z"/>
<path fill="#ffce00" fill-rule="evenodd" d="M680.2 88.2L680.2 396.8L683.8 396.8L685.2 395.8L690.8 394.8L695.8 392.8L701.8 391.8L703.2 390.8L708.8 389.8L713.8 387.8L719.8 386.8L721.2 385.8L726.8 384.8L731.8 382.8L737.8 381.8L739.2 380.8L744.8 379.8L746.2 378.8L751.8 377.8L753.8 376.8L755.8 376.8L757.2 375.8L762.8 374.8L767.8 372.8L773.8 371.8L775.2 370.8L780.8 369.8L785.8 367.8L791.8 366.8L793.2 365.8L798.8 364.8L803.8 362.8L809.8 361.8L811.2 360.8L816.8 359.8L818.2 358.8L852.8 356.2L853.2 355.8L856.8 355.8L857.2 355.2L864.2 354.8L864.8 354.2L871.8 353.8L879.8 352.2L883.2 352.2L883.8 351.8L887.2 351.8L887.8 351.2L891.8 351.2L892.2 350.8L912.2 348.2L915.8 347.2L936.2 344.8L946.8 341.8L950.8 339.8L971.2 332.2L1002.2 324.2L1030.8 321.8L1031.2 321.2L1035.8 321.2L1036.2 320.8L1040.8 320.8L1041.2 320.2L1045.8 320.2L1046.2 319.8L1050.8 319.8L1051.2 319.2L1059.8 318.8L1060.2 318.2L1063.8 318.2L1064.2 317.8L1067.8 317.8L1068.2 317.2L1071.8 317.2L1072.2 316.8L1075.8 316.8L1080.2 315.8L1084.2 315.8L1087.8 314.8L1090.8 314.8L1091.2 314.2L1108.8 311.8L1112.8 310.2L1118.2 312.8L1120.8 313.2L1125.2 316.2L1135.8 321.2L1138.2 323.2L1147.8 327.8L1147.8 88.2Z"/>
<path fill="#ffdd00" fill-rule="evenodd" d="M680.2 88.2L680.2 396.2L685.2 395.8L695.8 392.2L697.8 392.2L706.8 389.2L708.8 389.2L713.8 387.2L715.8 387.2L724.8 384.2L726.8 384.2L731.8 382.2L733.8 382.2L742.8 379.2L744.8 379.2L749.8 377.2L755.8 376.2L767.8 372.2L773.8 371.2L785.8 367.2L791.8 366.2L803.8 362.2L809.8 361.2L814.8 359.2L816.2 359.2L821.2 356.2L850.2 353.8L854.2 352.8L857.8 352.8L865.2 351.2L891.8 348.2L892.2 347.8L895.2 347.8L895.8 347.2L898.8 347.2L899.2 346.8L902.2 346.8L902.8 346.2L905.8 346.2L913.2 344.8L916.8 344.8L917.2 344.2L937.8 341.8L946.2 339.2L950.2 337.2L972.2 329.2L1002.8 321.8L1036.8 318.8L1037.2 318.2L1041.8 318.2L1042.2 317.8L1046.8 317.8L1047.2 317.2L1051.8 317.2L1052.2 316.8L1055.8 316.8L1056.2 316.2L1059.8 316.2L1060.2 315.8L1063.8 315.8L1064.2 315.2L1067.8 315.2L1071.8 314.2L1089.8 312.2L1092.8 311.2L1112.2 308.2L1114.8 310.8L1120.8 312.8L1125.2 315.8L1135.8 320.8L1138.2 322.8L1146.2 326.8L1147.8 326.8L1147.8 88.2Z"/>
<path fill="#ffed00" fill-rule="evenodd" d="M680.2 88.2L680.2 395.8L683.2 395.8L693.8 392.2L701.2 390.8L711.8 387.2L719.2 385.8L729.8 382.2L737.2 380.8L747.8 377.2L755.2 375.8L765.8 372.2L773.2 370.8L783.8 367.2L791.2 365.8L801.8 362.2L816.2 358.8L817.8 357.2L817.8 355.2L818.8 354.2L851.2 350.8L851.8 350.2L854.8 350.2L855.2 349.8L858.2 349.8L858.8 349.2L861.8 349.2L869.2 347.8L872.8 347.8L880.2 346.2L895.8 344.8L903.2 343.2L906.8 343.2L910.8 342.2L914.2 342.2L918.2 341.2L921.8 341.2L922.2 340.8L939.8 338.8L971.2 326.8L975.2 326.2L1003.2 319.2L1007.8 319.2L1008.2 318.8L1012.8 318.8L1013.2 318.2L1052.8 314.8L1056.8 313.8L1060.2 313.8L1060.8 313.2L1063.8 313.2L1071.2 311.8L1085.2 310.2L1085.8 309.8L1113.8 305.2L1114.8 306.2L1114.8 309.8L1115.8 310.8L1121.2 312.2L1124.8 314.8L1135.2 319.8L1137.8 321.8L1146.8 326.2L1147.8 326.2L1147.8 88.2Z"/>
<path fill="#fffc00" fill-rule="evenodd" d="M680.2 88.2L680.2 395.2L682.2 395.2L687.2 393.2L692.8 392.2L694.2 391.2L700.2 390.2L705.2 388.2L710.8 387.2L712.2 386.2L718.2 385.2L723.2 383.2L728.8 382.2L730.2 381.2L736.2 380.2L741.2 378.2L746.8 377.2L748.2 376.2L754.2 375.2L759.2 373.2L764.8 372.2L766.2 371.2L772.2 370.2L777.2 368.2L782.8 367.2L784.2 366.2L790.2 365.2L795.2 363.2L800.8 362.2L802.2 361.2L804.2 361.2L806.2 360.2L811.8 359.2L813.2 358.2L815.2 358.2L816.2 357.2L815.2 353.8L816.2 352.2L818.2 351.8L822.8 351.8L826.8 350.8L830.2 350.8L834.2 349.8L837.8 349.8L838.2 349.2L841.8 349.2L842.2 348.8L866.2 345.8L876.8 343.8L880.2 343.8L880.8 343.2L892.2 342.2L892.8 341.8L903.8 340.8L907.8 339.8L938.8 336.2L968.8 324.8L1000.8 317.2L1053.2 312.2L1053.8 311.8L1074.2 309.2L1077.8 308.2L1084.2 307.8L1096.2 305.2L1101.8 304.8L1104.8 303.8L1110.2 303.2L1113.2 302.2L1115.8 302.2L1116.8 303.2L1116.8 306.2L1115.8 308.8L1116.8 310.2L1120.8 311.2L1123.8 312.8L1125.2 314.2L1136.8 319.8L1138.2 321.2L1147.8 325.8L1147.8 88.2Z"/>
<path fill="#f3ff00" fill-rule="evenodd" d="M680.2 88.2L680.2 382.8L682.2 382.8L689.8 380.2L697.2 378.8L707.8 375.2L715.2 373.8L725.8 370.2L733.2 368.8L743.8 365.2L751.2 363.8L754.8 362.2L769.2 358.8L772.8 357.2L787.2 353.8L790.8 352.2L794.2 351.8L797.8 350.2L805.2 348.8L807.2 347.8L809.2 347.8L813.2 350.2L814.2 349.8L821.2 349.8L821.8 349.2L842.2 346.8L845.8 345.8L852.2 345.2L855.8 344.2L858.8 344.2L862.2 343.2L865.2 343.2L868.8 342.2L893.2 339.2L900.2 337.8L936.8 333.8L942.8 332.2L967.8 322.2L1001.2 314.8L1053.8 309.8L1060.8 308.2L1084.2 305.2L1101.8 301.8L1104.2 301.8L1107.2 300.8L1109.8 300.8L1112.8 299.8L1119.8 298.8L1121.8 296.8L1123.2 293.8L1124.8 292.2L1129.2 293.2L1131.8 294.8L1134.2 295.2L1136.8 296.8L1147.8 300.8L1147.8 88.2Z"/>
<path fill="#e4ff00" fill-rule="evenodd" d="M680.2 88.2L680.2 381.8L682.2 381.8L689.8 379.2L697.2 377.8L707.8 374.2L715.2 372.8L725.8 369.2L733.2 367.8L743.8 364.2L751.2 362.8L754.8 361.2L769.2 357.8L772.8 356.2L787.2 352.8L790.8 351.2L805.2 347.8L808.8 346.2L810.2 346.2L813.2 347.8L821.2 347.8L821.8 347.2L838.2 345.2L848.2 343.2L851.2 343.2L857.8 341.8L860.8 341.8L867.2 340.2L870.2 340.2L873.8 339.2L883.8 338.2L905.2 333.8L938.2 330.2L967.2 319.8L982.8 316.8L1001.2 312.2L1054.2 307.2L1054.8 306.8L1088.8 302.2L1091.8 301.2L1094.2 301.2L1097.2 300.2L1099.8 300.2L1102.8 299.2L1118.2 296.8L1120.8 295.2L1123.8 291.2L1129.2 292.2L1131.8 293.8L1134.2 294.2L1136.8 295.8L1147.8 299.8L1147.8 88.2Z"/>
<path fill="#d4ff00" fill-rule="evenodd" d="M680.2 88.2L680.2 381.2L696.8 377.2L707.2 373.8L714.8 372.2L725.2 368.8L732.8 367.2L736.2 365.8L750.8 362.2L761.2 358.8L768.8 357.2L779.2 353.8L786.8 352.2L797.2 348.8L804.8 347.2L809.8 345.2L821.8 345.8L822.2 345.2L844.8 342.2L845.2 341.8L847.8 341.8L866.2 338.2L869.2 338.2L878.8 336.2L881.8 336.2L905.8 330.2L936.8 327.2L966.8 317.2L968.8 317.2L971.2 316.2L975.8 315.8L978.2 314.8L980.2 314.8L982.8 313.8L987.2 313.2L1001.8 309.8L1035.8 306.8L1036.2 306.2L1040.8 306.2L1041.2 305.8L1045.8 305.8L1046.2 305.2L1050.8 305.2L1051.2 304.8L1054.8 304.8L1062.2 303.2L1065.8 303.2L1073.2 301.8L1087.2 300.2L1118.8 294.2L1122.8 290.8L1125.8 290.8L1130.8 292.2L1147.8 299.2L1147.8 88.2Z"/>
<path fill="#c5ff00" fill-rule="evenodd" d="M680.2 88.2L680.2 380.8L686.2 379.8L689.8 378.2L697.2 376.8L700.8 375.2L715.2 371.8L725.8 368.2L733.2 366.8L743.8 363.2L751.2 361.8L761.8 358.2L769.2 356.8L779.8 353.2L787.2 351.8L797.8 348.2L805.2 346.8L808.8 345.2L810.8 343.2L822.2 343.8L825.8 342.8L828.8 342.8L835.2 341.2L838.2 341.2L838.8 340.8L865.2 336.8L877.2 334.2L880.2 334.2L906.2 326.8L937.8 323.8L966.2 314.8L980.2 312.2L999.2 307.8L1016.2 306.2L1016.8 305.8L1021.2 305.8L1021.8 305.2L1026.2 305.2L1026.8 304.8L1031.2 304.8L1031.8 304.2L1036.2 304.2L1036.8 303.8L1041.2 303.8L1041.8 303.2L1046.2 303.2L1046.8 302.8L1051.2 302.8L1059.2 301.2L1085.8 298.2L1119.8 291.8L1122.8 289.8L1130.8 291.8L1133.2 293.2L1135.8 293.8L1138.2 295.2L1147.8 298.8L1147.8 88.2Z"/>
<path fill="#b6ff00" fill-rule="evenodd" d="M680.2 88.2L680.2 380.8L682.8 379.8L684.8 379.8L689.8 377.8L695.8 376.8L700.8 374.8L702.8 374.8L707.8 372.8L713.8 371.8L725.8 367.8L731.8 366.8L743.8 362.8L749.8 361.8L761.8 357.8L767.8 356.8L779.8 352.8L785.8 351.8L797.8 347.8L803.8 346.8L807.8 345.2L808.8 344.2L808.8 341.8L810.2 340.8L814.8 341.2L816.8 342.2L819.8 342.2L820.2 341.8L855.8 336.2L858.8 335.2L864.2 334.8L867.2 333.8L872.8 333.2L875.8 332.2L878.8 332.2L904.2 323.8L936.2 320.8L968.2 311.8L977.8 310.2L980.2 309.2L987.2 308.2L999.8 305.2L1016.8 303.8L1017.2 303.2L1021.8 303.2L1022.2 302.8L1026.8 302.8L1027.2 302.2L1031.8 302.2L1032.2 301.8L1036.8 301.8L1037.2 301.2L1041.8 301.2L1042.2 300.8L1046.8 300.8L1047.2 300.2L1051.8 300.2L1052.2 299.8L1083.8 296.2L1108.8 291.2L1111.2 291.2L1121.2 288.8L1122.8 288.8L1127.2 290.8L1129.2 290.8L1131.8 292.2L1134.2 292.8L1136.8 294.2L1147.8 298.2L1147.8 88.2Z"/>
<path fill="#a6ff00" fill-rule="evenodd" d="M680.2 88.2L680.2 380.2L685.2 379.2L690.2 377.2L696.2 376.2L708.2 372.2L714.2 371.2L726.2 367.2L732.2 366.2L744.2 362.2L750.2 361.2L762.2 357.2L768.2 356.2L780.2 352.2L786.2 351.2L798.2 347.2L804.2 346.2L807.8 344.8L807.8 342.8L806.8 340.8L807.8 338.8L811.8 338.8L815.8 340.2L820.2 340.2L820.8 339.8L838.2 337.2L841.2 336.2L846.8 335.8L849.8 334.8L852.2 334.8L855.2 333.8L857.8 333.8L860.8 332.8L863.2 332.8L866.2 331.8L868.8 331.8L871.8 330.8L877.2 330.2L885.2 327.8L899.2 321.8L904.8 320.2L937.2 317.2L961.2 311.2L963.2 310.2L992.2 304.8L999.8 302.8L1022.8 300.8L1023.2 300.2L1027.8 300.2L1028.2 299.8L1032.8 299.8L1033.2 299.2L1037.8 299.2L1038.2 298.8L1042.8 298.8L1043.2 298.2L1047.8 298.2L1048.2 297.8L1052.2 297.8L1056.8 296.8L1060.8 296.8L1065.2 295.8L1085.8 293.8L1120.2 286.8L1122.2 286.8L1124.8 289.2L1126.8 290.2L1130.2 290.8L1132.8 292.2L1147.8 297.8L1147.8 88.2Z"/>
<path fill="#97ff00" fill-rule="evenodd" d="M680.2 88.2L680.2 379.8L685.2 378.8L690.2 376.8L696.2 375.8L708.2 371.8L714.2 370.8L726.2 366.8L732.2 365.8L744.2 361.8L750.2 360.8L762.2 356.8L768.2 355.8L780.2 351.8L786.2 350.8L798.2 346.8L805.8 345.2L807.2 344.2L805.2 339.2L805.2 337.2L806.8 336.2L810.8 336.8L814.8 338.2L820.8 338.2L823.8 337.2L835.2 335.8L862.8 330.2L865.2 330.2L870.8 328.8L873.2 328.8L879.8 327.2L895.8 319.8L905.2 316.8L925.8 315.2L926.2 314.8L930.8 314.8L931.2 314.2L935.8 314.2L936.2 313.8L941.8 313.2L962.8 307.8L1000.2 300.2L1023.2 298.2L1023.8 297.8L1028.2 297.8L1028.8 297.2L1033.2 297.2L1033.8 296.8L1038.2 296.8L1038.8 296.2L1043.2 296.2L1043.8 295.8L1048.2 295.8L1048.8 295.2L1052.8 295.2L1053.2 294.8L1057.2 294.8L1057.8 294.2L1087.8 291.2L1120.8 284.2L1123.2 284.2L1124.2 285.2L1124.2 287.8L1126.8 289.8L1130.2 290.2L1132.8 291.8L1147.8 297.2L1147.8 88.2Z"/>
<path fill="#88ff00" fill-rule="evenodd" d="M680.2 88.2L680.2 379.2L688.2 376.8L695.8 375.2L699.2 373.8L702.8 373.2L706.2 371.8L713.8 370.2L724.2 366.8L731.8 365.2L742.2 361.8L749.8 360.2L760.2 356.8L767.8 355.2L778.2 351.8L785.8 350.2L796.2 346.8L806.2 344.2L806.2 343.2L803.2 337.2L803.2 335.2L804.2 334.2L808.2 334.2L813.8 336.2L817.8 336.8L876.8 325.8L879.8 324.8L898.2 315.2L903.2 313.8L941.2 310.2L962.2 305.2L1004.2 297.2L1008.8 297.2L1009.2 296.8L1013.8 296.8L1014.2 296.2L1018.8 296.2L1019.2 295.8L1023.8 295.8L1024.2 295.2L1028.8 295.2L1029.2 294.8L1033.8 294.8L1034.2 294.2L1038.8 294.2L1039.2 293.8L1043.8 293.8L1044.2 293.2L1048.8 293.2L1049.2 292.8L1053.8 292.8L1054.2 292.2L1058.2 292.2L1063.2 291.2L1086.2 289.2L1121.8 281.8L1124.8 281.8L1125.8 282.8L1125.2 287.8L1126.2 288.8L1131.8 290.2L1147.8 296.8L1147.8 88.2Z"/>
<path fill="#79ff00" fill-rule="evenodd" d="M680.2 88.2L680.2 378.2L700.8 371.8L702.2 371.8L707.2 369.8L714.8 368.2L716.2 367.2L721.8 366.2L723.2 365.2L732.8 363.2L734.2 362.2L739.8 361.2L741.2 360.2L750.8 358.2L752.2 357.2L757.8 356.2L759.2 355.2L768.8 353.2L770.2 352.2L775.8 351.2L777.2 350.2L786.8 348.2L788.2 347.2L793.8 346.2L795.2 345.2L802.8 343.8L803.2 342.2L799.8 336.2L799.8 334.2L801.8 332.2L804.2 331.8L809.2 332.8L814.2 334.8L818.2 334.8L821.2 333.8L840.2 330.8L875.2 323.8L881.2 321.2L898.2 311.8L903.8 310.2L940.8 307.2L1000.8 295.2L1083.8 287.2L1125.2 278.8L1127.2 278.8L1129.2 280.2L1128.8 284.8L1127.8 287.2L1145.2 294.2L1147.8 294.8L1147.8 88.2Z"/>
<path fill="#69ff00" fill-rule="evenodd" d="M680.2 88.2L680.2 376.8L681.8 376.8L690.8 373.8L701.2 369.2L709.8 366.8L720.2 362.2L728.8 359.8L739.2 355.2L747.8 352.8L758.2 348.2L766.8 345.8L777.2 341.2L793.8 335.8L798.2 333.8L801.2 329.8L804.2 329.8L813.2 332.8L817.8 332.8L823.2 331.2L825.8 331.2L850.8 326.2L860.2 323.8L867.2 322.8L869.8 321.8L875.8 320.8L898.2 308.8L902.2 307.8L939.8 304.2L945.2 302.8L967.8 299.2L973.2 297.8L975.8 297.8L981.2 296.2L983.8 296.2L1003.8 292.2L1013.8 291.8L1014.2 291.2L1018.8 291.2L1019.2 290.8L1029.2 290.2L1029.8 289.8L1039.8 289.2L1040.2 288.8L1044.8 288.8L1045.2 288.2L1055.2 287.8L1055.8 287.2L1060.2 287.2L1060.8 286.8L1065.2 286.8L1065.8 286.2L1088.2 284.2L1093.2 282.8L1126.8 276.2L1129.2 274.2L1131.2 270.2L1132.8 269.2L1137.8 270.2L1145.8 273.2L1147.8 273.2L1147.8 88.2Z"/>
<path fill="#5aff00" fill-rule="evenodd" d="M680.2 88.2L680.2 376.2L690.2 373.2L700.8 368.8L709.2 366.2L719.8 361.8L728.2 359.2L738.8 354.8L747.2 352.2L757.8 347.8L766.2 345.2L776.8 340.8L793.2 335.2L797.8 333.2L799.2 331.8L799.2 328.8L800.2 327.8L803.8 327.8L812.2 330.8L817.2 330.8L874.2 318.2L896.8 306.8L899.8 305.8L938.2 301.2L950.2 298.8L953.2 298.8L965.8 296.2L968.8 296.2L971.8 295.2L974.2 295.2L977.2 294.2L979.8 294.2L985.2 292.8L987.8 292.8L1002.8 289.8L1007.2 289.8L1007.8 289.2L1012.8 289.2L1013.2 288.8L1017.8 288.8L1018.2 288.2L1023.2 288.2L1023.8 287.8L1028.8 287.8L1029.2 287.2L1034.2 287.2L1034.8 286.8L1039.8 286.8L1040.2 286.2L1045.2 286.2L1045.8 285.8L1050.8 285.8L1051.2 285.2L1085.2 282.2L1125.2 274.2L1127.8 273.2L1131.8 268.8L1134.2 268.8L1146.2 272.8L1147.8 272.8L1147.8 88.2Z"/>
<path fill="#4bff00" fill-rule="evenodd" d="M680.2 88.2L680.2 375.8L683.2 375.2L687.8 373.2L689.2 373.2L691.8 371.8L697.2 370.2L703.8 367.2L708.2 366.2L710.8 364.8L716.2 363.2L722.8 360.2L727.2 359.2L729.8 357.8L735.2 356.2L741.8 353.2L746.2 352.2L748.8 350.8L754.2 349.2L760.8 346.2L765.2 345.2L767.8 343.8L773.2 342.2L779.8 339.2L781.2 339.2L790.8 335.2L792.2 335.2L798.2 332.2L798.8 329.8L797.8 327.8L797.8 326.2L798.8 325.2L804.8 326.2L811.2 328.8L816.8 328.8L819.2 327.8L830.2 325.8L834.8 324.2L841.2 323.2L874.2 315.2L894.2 305.2L899.8 303.2L902.8 303.2L913.2 301.2L937.2 298.2L946.2 296.2L969.8 293.2L972.8 292.2L978.2 291.8L981.2 290.8L983.8 290.8L1001.2 287.2L1017.2 286.2L1017.8 285.8L1022.8 285.8L1023.2 285.2L1028.2 285.2L1028.8 284.8L1034.2 284.8L1034.8 284.2L1039.8 284.2L1040.2 283.8L1045.2 283.8L1045.8 283.2L1051.2 283.2L1051.8 282.8L1085.8 279.8L1127.2 271.2L1130.8 268.2L1133.8 268.2L1141.2 270.2L1142.8 271.2L1147.8 272.2L1147.8 88.2Z"/>
<path fill="#3cff00" fill-rule="evenodd" d="M680.2 88.2L680.2 375.2L681.8 375.2L689.2 372.8L701.2 367.8L708.2 365.8L720.2 360.8L727.2 358.8L739.2 353.8L746.2 351.8L758.2 346.8L765.2 344.8L769.2 342.8L773.2 341.8L777.2 339.8L784.2 337.8L788.2 335.8L797.2 332.8L798.2 330.2L796.2 325.8L796.8 323.2L800.2 323.2L810.2 326.8L813.2 327.2L872.8 312.8L891.8 303.8L900.2 300.8L936.2 295.2L941.8 293.8L956.2 292.2L964.2 290.8L967.8 290.8L968.2 290.2L976.8 289.2L979.8 288.2L991.2 286.8L1000.2 284.8L1028.2 282.8L1028.8 282.2L1034.2 282.2L1034.8 281.8L1045.8 281.2L1046.2 280.8L1051.8 280.8L1052.2 280.2L1086.2 277.2L1125.8 269.2L1130.2 267.2L1137.8 268.8L1145.8 271.8L1147.8 271.8L1147.8 88.2Z"/>
<path fill="#2cff00" fill-rule="evenodd" d="M680.2 88.2L680.2 374.8L682.2 374.8L688.2 372.8L700.2 367.8L707.2 365.8L719.2 360.8L726.2 358.8L738.2 353.8L745.2 351.8L757.2 346.8L764.2 344.8L776.2 339.8L793.8 333.8L797.8 331.2L797.2 328.8L794.2 323.8L794.2 321.8L795.8 320.8L801.2 321.8L809.2 324.8L813.2 325.2L871.2 310.2L898.2 298.8L903.2 298.2L914.2 295.8L916.8 295.8L919.8 294.8L922.2 294.8L943.8 290.2L968.8 287.8L969.2 287.2L971.8 287.2L972.2 286.8L974.8 286.8L975.2 286.2L977.8 286.2L978.2 285.8L980.8 285.8L999.2 282.2L1033.8 279.8L1034.2 279.2L1040.2 279.2L1040.8 278.8L1046.2 278.8L1046.8 278.2L1052.8 278.2L1053.2 277.8L1057.8 277.8L1058.2 277.2L1086.8 274.8L1121.8 267.8L1127.8 265.8L1130.2 265.8L1132.2 267.2L1135.2 268.2L1137.2 268.2L1145.2 271.2L1147.8 271.2L1147.8 88.2Z"/>
<path fill="#1dff00" fill-rule="evenodd" d="M680.2 88.2L680.2 374.8L689.8 371.8L700.2 367.2L708.8 364.8L719.2 360.2L727.8 357.8L738.2 353.2L746.8 350.8L757.2 346.2L765.8 343.8L768.2 342.2L773.8 340.8L776.2 339.2L784.8 336.8L787.2 335.2L796.2 332.2L797.2 331.2L797.2 330.2L793.2 323.8L792.2 319.8L793.2 318.8L796.8 318.8L808.2 322.8L812.8 323.2L869.8 307.8L896.8 296.8L932.2 289.8L942.2 287.2L966.8 285.2L967.2 284.8L970.2 284.8L970.8 284.2L982.8 282.8L995.2 280.2L1001.8 279.8L1002.2 279.2L1040.2 276.8L1040.8 276.2L1046.8 276.2L1047.2 275.8L1053.2 275.8L1053.8 275.2L1058.2 275.2L1058.8 274.8L1087.2 272.2L1121.8 265.2L1130.8 262.8L1131.8 263.8L1132.2 266.2L1133.8 267.2L1138.8 268.2L1147.8 271.2L1147.8 88.2Z"/>
<path fill="#0eff00" fill-rule="evenodd" d="M680.2 88.2L680.2 374.2L688.2 371.8L700.2 366.8L707.2 364.8L719.2 359.8L726.2 357.8L738.2 352.8L745.2 350.8L749.2 348.8L764.2 343.8L768.2 341.8L772.2 340.8L776.2 338.8L783.2 336.8L795.8 331.8L796.8 330.2L790.8 320.2L790.8 317.2L792.8 316.2L799.2 317.8L807.2 320.8L812.2 321.2L848.2 310.8L849.8 310.8L851.8 309.8L853.2 309.8L855.2 308.8L858.8 308.2L862.2 306.8L863.8 306.8L895.2 294.8L940.8 284.2L968.2 282.2L968.8 281.8L971.8 281.8L972.2 281.2L981.2 280.2L987.8 278.8L990.8 278.8L994.2 277.8L997.2 277.8L1000.8 276.8L1033.8 274.8L1034.2 274.2L1040.8 274.2L1041.2 273.8L1047.8 273.8L1048.2 273.2L1053.8 273.2L1054.2 272.8L1083.8 270.2L1122.2 262.8L1129.8 260.2L1132.2 260.2L1133.2 261.2L1133.2 266.2L1147.8 270.8L1147.8 88.2Z"/>
<path fill="#00ff01" fill-rule="evenodd" d="M680.2 88.2L680.2 373.2L689.8 370.2L700.2 365.8L708.8 363.2L719.2 358.8L727.8 356.2L738.2 351.8L746.8 349.2L749.2 347.8L754.8 346.2L757.2 344.8L765.8 342.2L768.2 340.8L773.8 339.2L776.2 337.8L784.8 335.2L787.2 333.8L794.8 331.2L795.2 329.8L788.2 318.2L788.2 315.8L789.8 314.2L792.8 314.2L808.2 319.2L811.8 319.2L839.2 310.8L844.2 309.8L847.8 308.2L852.8 307.2L856.2 305.8L857.8 305.8L895.2 292.2L939.8 281.2L969.8 279.2L970.2 278.8L973.2 278.8L973.8 278.2L976.8 278.2L980.2 277.2L983.2 277.2L983.8 276.8L999.8 274.8L1000.2 274.2L1004.8 274.2L1005.2 273.8L1033.8 272.2L1034.2 271.8L1040.8 271.8L1041.2 271.2L1048.2 271.2L1048.8 270.8L1054.8 270.8L1055.2 270.2L1084.2 267.8L1120.2 260.8L1131.8 257.2L1133.8 257.2L1135.2 258.8L1135.2 261.2L1134.2 265.2L1135.2 266.2L1138.8 266.8L1147.8 269.8L1147.8 88.2Z"/>
<path fill="#00ff11" fill-rule="evenodd" d="M680.2 88.2L680.2 343.8L682.2 343.8L692.2 341.2L695.8 339.8L715.2 335.2L718.8 333.8L785.8 316.8L787.8 314.8L788.8 312.2L792.2 312.2L807.2 317.2L812.2 316.8L843.8 306.8L855.2 303.8L895.2 289.8L912.8 285.8L914.8 284.8L936.8 279.2L942.8 278.8L943.2 278.2L969.8 276.8L973.2 275.8L979.8 275.2L980.2 274.8L993.2 273.2L1000.2 271.8L1034.2 269.8L1034.8 269.2L1041.8 269.2L1042.2 268.8L1048.8 268.8L1049.2 268.2L1055.2 268.2L1055.8 267.8L1075.2 266.2L1080.2 265.2L1084.8 265.2L1108.8 260.2L1118.8 258.8L1130.2 255.2L1133.8 254.8L1136.8 252.2L1137.8 249.2L1139.2 247.8L1147.8 249.2L1147.8 88.2Z"/>
<path fill="#00ff20" fill-rule="evenodd" d="M680.2 88.2L680.2 342.8L683.8 342.8L685.8 341.8L691.8 340.8L696.8 338.8L698.8 338.8L700.8 337.8L702.8 337.8L704.8 336.8L714.8 334.8L719.8 332.8L721.8 332.8L723.8 331.8L725.8 331.8L727.8 330.8L737.8 328.8L742.8 326.8L744.8 326.8L746.8 325.8L748.8 325.8L750.8 324.8L760.8 322.8L765.8 320.8L767.8 320.8L769.8 319.8L771.8 319.8L773.8 318.8L783.8 316.8L786.8 314.8L787.2 313.8L786.8 310.8L787.8 309.8L794.8 311.2L802.8 314.2L808.2 315.2L830.2 308.2L831.8 308.2L838.2 305.8L839.8 305.8L844.8 303.8L846.2 303.8L851.2 301.8L852.8 301.8L894.8 287.2L908.8 283.8L910.8 283.8L923.2 280.2L925.2 280.2L935.8 277.2L940.8 276.8L941.2 276.2L946.8 276.2L947.2 275.8L966.2 274.8L966.8 274.2L970.2 274.2L970.8 273.8L977.2 273.2L980.8 272.2L983.8 272.2L984.2 271.8L987.2 271.8L987.8 271.2L990.8 271.2L991.2 270.8L1001.2 269.8L1001.8 269.2L1042.8 266.8L1043.2 266.2L1049.8 266.2L1050.2 265.8L1055.2 265.8L1055.8 265.2L1060.8 265.2L1061.2 264.8L1084.8 262.8L1085.2 262.2L1090.8 261.8L1096.2 260.2L1098.8 260.2L1104.2 258.8L1119.8 256.2L1132.8 252.8L1134.8 251.8L1136.2 250.2L1136.8 248.8L1139.2 246.8L1147.8 248.8L1147.8 88.2Z"/>
<path fill="#00ff2f" fill-rule="evenodd" d="M680.2 88.2L680.2 342.2L683.2 342.2L691.2 340.2L696.8 338.2L714.2 334.2L719.8 332.2L783.2 316.2L786.2 314.8L786.2 311.8L784.8 309.2L785.8 307.8L788.8 307.8L803.8 312.8L808.8 312.8L848.8 299.8L850.2 299.8L894.2 284.8L904.2 282.8L908.8 281.2L910.8 281.2L915.2 279.8L917.2 279.8L921.8 278.2L923.8 278.2L928.2 276.8L934.8 275.8L937.2 274.8L944.2 274.2L944.8 273.8L950.2 273.8L950.8 273.2L956.2 273.2L956.8 272.8L962.2 272.8L962.8 272.2L967.8 272.2L968.2 271.8L971.2 271.8L971.8 271.2L974.8 271.2L978.2 270.2L995.2 268.2L998.8 267.2L1002.8 267.2L1003.2 266.8L1050.2 263.8L1050.8 263.2L1055.8 263.2L1056.2 262.8L1061.2 262.8L1061.8 262.2L1084.8 260.2L1124.8 252.8L1134.8 249.8L1137.8 246.8L1139.2 246.2L1147.8 248.2L1147.8 88.2Z"/>
<path fill="#00ff3f" fill-rule="evenodd" d="M680.2 88.2L680.2 341.8L683.8 341.8L691.8 339.8L695.2 338.2L714.8 333.8L718.2 332.2L783.8 315.8L785.8 314.8L785.8 311.8L783.8 309.2L783.2 306.2L784.8 305.2L791.2 306.8L801.2 310.2L804.2 310.2L804.8 310.8L808.8 310.2L893.8 282.2L906.2 279.8L908.8 278.8L913.2 278.2L915.8 277.2L917.8 277.2L920.2 276.2L922.2 276.2L924.8 275.2L929.2 274.8L931.8 273.8L939.2 272.2L942.8 272.2L943.2 271.8L968.2 269.8L968.8 269.2L971.8 269.2L972.2 268.8L975.2 268.8L975.8 268.2L978.8 268.2L979.2 267.8L982.2 267.8L982.8 267.2L985.8 267.2L986.2 266.8L989.2 266.8L989.8 266.2L992.8 266.2L1000.2 264.8L1037.8 262.2L1038.2 261.8L1044.2 261.8L1044.8 261.2L1050.8 261.2L1051.2 260.8L1056.2 260.8L1056.8 260.2L1061.8 260.2L1062.2 259.8L1067.2 259.8L1067.8 259.2L1084.8 257.8L1085.2 257.2L1119.8 251.8L1132.8 248.2L1138.2 245.8L1147.8 247.8L1147.8 88.2Z"/>
<path fill="#00ff4e" fill-rule="evenodd" d="M680.2 88.2L680.2 341.8L690.2 339.8L695.2 337.8L697.2 337.8L699.2 336.8L701.2 336.8L703.2 335.8L713.2 333.8L718.2 331.8L720.2 331.8L722.2 330.8L724.2 330.8L726.2 329.8L736.2 327.8L741.2 325.8L743.2 325.8L745.2 324.8L747.2 324.8L749.2 323.8L759.2 321.8L764.2 319.8L766.2 319.8L768.2 318.8L770.2 318.8L772.2 317.8L774.2 317.8L776.2 316.8L783.8 315.2L785.8 313.2L781.8 306.2L781.8 303.8L782.2 303.2L785.2 303.2L798.2 307.8L806.8 308.2L893.2 279.8L923.2 273.8L925.8 272.8L941.8 269.8L965.2 267.8L965.8 267.2L969.2 267.2L969.8 266.8L972.8 266.8L973.2 266.2L976.2 266.2L976.8 265.8L979.8 265.8L980.2 265.2L983.2 265.2L983.8 264.8L986.8 264.8L987.2 264.2L990.2 264.2L997.8 262.8L1001.2 262.8L1001.8 262.2L1051.2 258.8L1051.8 258.2L1056.8 258.2L1057.2 257.8L1062.2 257.8L1062.8 257.2L1067.8 257.2L1068.2 256.8L1084.8 255.2L1088.2 254.2L1091.2 254.2L1091.8 253.8L1121.2 249.2L1133.8 245.2L1138.8 245.2L1147.8 247.2L1147.8 88.2Z"/>
<path fill="#00ff5d" fill-rule="evenodd" d="M680.2 88.2L680.2 341.2L682.8 341.2L684.8 340.2L690.8 339.2L695.8 337.2L697.8 337.2L699.8 336.2L701.8 336.2L703.8 335.2L713.8 333.2L718.8 331.2L720.8 331.2L722.8 330.2L724.8 330.2L726.8 329.2L736.8 327.2L741.8 325.2L743.8 325.2L745.8 324.2L747.8 324.2L749.8 323.2L759.8 321.2L764.8 319.2L766.8 319.2L768.8 318.2L770.8 318.2L772.8 317.2L782.8 315.2L784.8 314.2L785.2 313.2L782.8 309.8L779.8 303.2L779.8 301.8L781.2 300.8L789.2 302.8L797.8 305.8L806.8 305.8L856.8 289.2L858.2 288.2L867.2 285.2L868.8 285.2L876.8 282.2L878.2 282.2L896.8 276.2L921.8 271.2L924.2 271.2L937.2 268.2L962.2 265.8L962.8 265.2L966.8 265.2L967.2 264.8L970.2 264.8L970.8 264.2L973.8 264.2L974.2 263.8L977.2 263.8L977.8 263.2L980.8 263.2L981.2 262.8L984.2 262.8L984.8 262.2L987.8 262.2L988.2 261.8L991.2 261.8L998.8 260.2L1033.2 257.8L1033.8 257.2L1039.8 257.2L1040.2 256.8L1045.8 256.8L1046.2 256.2L1051.8 256.2L1052.2 255.8L1057.2 255.8L1057.8 255.2L1062.8 255.2L1063.2 254.8L1068.2 254.8L1068.8 254.2L1072.8 254.2L1077.2 253.2L1081.2 253.2L1081.8 252.8L1088.2 252.2L1088.8 251.8L1094.8 251.2L1107.8 248.8L1110.8 248.8L1114.2 247.8L1117.2 247.8L1122.2 246.8L1134.8 242.8L1136.8 242.8L1139.2 245.2L1141.2 245.2L1147.8 247.2L1147.8 88.2Z"/>
<path fill="#00ff6c" fill-rule="evenodd" d="M680.2 88.2L680.2 340.8L682.8 340.8L684.8 339.8L690.8 338.8L695.8 336.8L697.8 336.8L699.8 335.8L701.8 335.8L703.8 334.8L713.8 332.8L718.8 330.8L720.8 330.8L722.8 329.8L724.8 329.8L726.8 328.8L736.8 326.8L741.8 324.8L743.8 324.8L745.8 323.8L747.8 323.8L749.8 322.8L759.8 320.8L764.8 318.8L766.8 318.8L768.8 317.8L770.8 317.8L772.8 316.8L782.8 314.8L784.2 313.8L784.2 312.2L782.8 310.8L778.2 302.8L777.8 299.8L778.8 298.8L783.2 299.2L797.8 303.8L806.8 303.2L864.8 283.2L866.2 283.2L872.8 280.8L874.2 280.8L896.2 273.8L901.2 273.2L906.8 271.8L909.2 271.8L914.8 270.2L917.2 270.2L939.8 265.8L947.2 265.2L947.8 264.8L951.2 264.8L951.8 264.2L955.2 264.2L959.8 263.2L963.8 263.2L964.2 262.8L971.2 262.2L971.8 261.8L974.8 261.8L975.2 261.2L978.2 261.2L978.8 260.8L981.8 260.8L982.2 260.2L985.2 260.2L992.8 258.8L996.2 258.8L1000.2 257.8L1034.8 255.2L1035.2 254.8L1040.8 254.8L1041.2 254.2L1046.8 254.2L1047.2 253.8L1058.2 253.2L1058.8 252.8L1063.8 252.8L1064.2 252.2L1069.2 252.2L1069.8 251.8L1081.2 250.8L1081.8 250.2L1095.2 248.8L1098.8 247.8L1112.2 246.2L1115.8 245.2L1118.8 245.2L1135.8 240.2L1137.2 240.2L1138.8 241.8L1138.8 243.8L1139.8 244.8L1147.8 246.8L1147.8 88.2Z"/>
<path fill="#00ff7c" fill-rule="evenodd" d="M680.2 88.2L680.2 340.2L691.8 337.8L695.2 336.2L714.8 331.8L718.2 330.2L737.8 325.8L741.2 324.2L783.2 313.8L783.2 312.2L777.2 303.2L775.8 299.8L775.8 298.2L776.8 296.8L780.8 296.8L794.2 301.2L804.8 301.2L863.8 280.8L865.2 280.8L895.8 271.2L898.2 271.2L901.2 270.2L906.8 269.8L909.8 268.8L915.2 268.2L918.2 267.2L926.8 266.2L938.8 263.8L953.2 262.2L961.2 260.8L964.8 260.8L965.2 260.2L975.8 259.2L976.2 258.8L990.2 257.2L997.8 255.8L1001.2 255.8L1001.8 255.2L1029.8 253.2L1030.2 252.8L1035.8 252.8L1036.2 252.2L1041.2 252.2L1041.8 251.8L1047.2 251.8L1047.8 251.2L1052.8 251.2L1053.2 250.8L1058.8 250.8L1059.2 250.2L1064.2 250.2L1064.8 249.8L1069.8 249.8L1070.2 249.2L1073.8 249.2L1074.2 248.8L1081.2 248.2L1085.2 247.2L1088.8 247.2L1089.2 246.8L1120.2 242.8L1136.8 237.8L1138.8 237.8L1139.8 238.8L1139.8 242.8L1140.8 244.2L1147.8 245.8L1147.8 88.2Z"/>
<path fill="#00ff8b" fill-rule="evenodd" d="M680.2 88.2L680.2 323.8L708.8 316.8L712.2 315.2L731.8 310.8L735.2 309.2L754.8 304.8L758.2 303.2L771.8 300.2L774.2 298.8L775.2 295.2L776.2 294.2L779.8 294.8L791.8 298.8L804.8 298.8L840.8 286.2L842.2 285.2L849.2 283.2L850.8 282.2L892.8 269.2L936.8 262.2L937.2 261.8L955.2 259.8L959.2 258.8L962.8 258.8L966.8 257.8L970.2 257.8L970.8 257.2L984.8 255.8L992.2 254.2L995.8 254.2L999.8 253.2L1070.2 247.2L1070.8 246.8L1085.2 245.2L1085.8 244.8L1096.2 243.8L1103.8 242.2L1107.2 242.2L1114.8 240.8L1118.2 240.8L1139.2 234.8L1140.2 233.8L1140.2 228.2L1141.8 226.8L1147.8 225.2L1147.8 88.2Z"/>
<path fill="#00ff9a" fill-rule="evenodd" d="M680.2 88.2L680.2 322.8L708.2 315.8L711.8 314.2L731.2 309.8L734.8 308.2L754.2 303.8L757.8 302.2L772.8 298.8L774.2 297.2L774.2 292.8L774.8 292.2L777.2 292.2L791.2 296.8L802.2 296.8L804.8 296.2L821.8 289.8L825.8 288.8L827.2 287.8L831.2 286.8L832.8 285.8L836.8 284.8L842.2 282.2L846.2 281.2L847.8 280.2L853.2 278.8L854.8 277.8L893.8 266.2L896.2 266.2L914.8 262.8L921.2 262.2L924.8 261.2L934.8 260.2L938.2 259.2L969.2 255.8L969.8 255.2L984.2 253.8L984.8 253.2L995.2 252.2L999.2 251.2L1019.8 249.8L1020.2 249.2L1045.8 247.2L1046.2 246.8L1061.2 245.8L1061.8 245.2L1066.2 245.2L1066.8 244.8L1070.8 244.8L1071.2 244.2L1074.2 244.2L1081.8 242.8L1085.2 242.8L1085.8 242.2L1088.8 242.2L1089.2 241.8L1092.2 241.8L1092.8 241.2L1095.8 241.2L1103.2 239.8L1117.2 238.2L1136.8 233.2L1138.2 232.2L1138.8 227.8L1140.2 226.2L1145.8 224.2L1147.8 224.2L1147.8 88.2Z"/>
<path fill="#00ffa9" fill-rule="evenodd" d="M680.2 88.2L680.2 322.2L683.2 321.8L688.2 319.8L690.2 319.8L692.2 318.8L694.2 318.8L696.2 317.8L706.2 315.8L711.2 313.8L713.2 313.8L715.2 312.8L717.2 312.8L719.2 311.8L729.2 309.8L734.2 307.8L736.2 307.8L738.2 306.8L740.2 306.8L742.2 305.8L752.2 303.8L757.2 301.8L759.2 301.8L761.2 300.8L763.2 300.8L765.2 299.8L772.8 298.2L773.8 296.8L773.8 294.8L772.2 290.8L773.8 289.8L788.2 294.2L802.8 294.2L840.8 280.2L848.8 276.8L880.8 266.8L888.2 265.2L892.2 263.8L894.8 263.8L910.2 260.8L920.2 259.8L920.8 259.2L924.2 259.2L924.8 258.8L931.8 258.2L935.8 257.2L976.2 252.8L976.8 252.2L995.2 250.2L999.2 249.2L1019.2 247.8L1019.8 247.2L1048.2 244.8L1048.8 244.2L1057.8 243.8L1062.8 242.8L1067.2 242.8L1067.8 242.2L1071.2 242.2L1071.8 241.8L1085.2 240.2L1088.8 239.2L1116.2 235.8L1137.2 230.2L1137.8 227.8L1139.8 225.8L1145.2 223.8L1147.8 223.8L1147.8 88.2Z"/>
<path fill="#00ffb9" fill-rule="evenodd" d="M680.2 88.2L680.2 321.8L708.2 314.8L711.8 313.2L731.2 308.8L734.8 307.2L754.2 302.8L757.8 301.2L771.2 298.2L773.2 296.8L773.2 294.8L770.8 289.8L771.2 287.8L775.2 288.2L785.2 291.8L788.2 291.8L788.8 292.2L802.8 291.8L849.8 273.2L877.2 264.8L891.2 261.2L902.2 259.8L902.8 259.2L905.8 259.2L912.2 257.8L928.2 256.2L928.8 255.8L932.2 255.8L936.8 254.8L941.2 254.8L945.8 253.8L949.8 253.8L950.2 253.2L954.2 253.2L954.8 252.8L958.8 252.8L959.2 252.2L963.2 252.2L963.8 251.8L967.8 251.8L968.2 251.2L979.8 250.2L980.2 249.8L991.2 248.8L999.2 247.2L1023.2 245.2L1027.8 244.2L1031.8 244.2L1032.2 243.8L1036.2 243.8L1036.8 243.2L1071.8 239.8L1075.2 238.8L1078.2 238.8L1085.2 237.2L1088.2 237.2L1088.8 236.8L1091.8 236.8L1092.2 236.2L1095.2 236.2L1098.8 235.2L1101.8 235.2L1102.2 234.8L1105.2 234.8L1108.8 233.8L1120.8 232.2L1125.2 230.8L1135.2 228.8L1137.8 226.2L1145.8 223.2L1147.8 223.2L1147.8 88.2Z"/>
<path fill="#00ffc8" fill-rule="evenodd" d="M680.2 88.2L680.2 321.2L683.8 320.8L688.8 318.8L690.8 318.8L696.8 316.8L698.8 316.8L700.8 315.8L702.8 315.8L704.8 314.8L706.8 314.8L711.8 312.8L713.8 312.8L715.8 311.8L717.8 311.8L719.8 310.8L729.8 308.8L734.8 306.8L736.8 306.8L738.8 305.8L740.8 305.8L742.8 304.8L752.8 302.8L757.8 300.8L759.8 300.8L761.8 299.8L771.8 297.8L772.8 296.8L772.8 294.8L768.8 287.8L768.8 286.8L769.8 285.8L772.8 285.8L784.8 289.8L800.2 289.8L802.8 289.2L849.2 270.2L850.8 270.2L858.8 267.2L860.2 267.2L878.8 261.2L887.2 259.8L889.8 258.8L900.8 257.2L901.2 256.8L904.2 256.8L910.8 255.2L914.2 255.2L914.8 254.8L943.2 252.2L943.8 251.8L952.8 251.2L957.8 250.2L962.2 250.2L962.8 249.8L971.2 249.2L971.8 248.8L983.2 247.8L983.8 247.2L998.8 245.8L999.2 245.2L1013.2 244.2L1013.8 243.8L1017.8 243.8L1018.2 243.2L1022.2 243.2L1026.8 242.2L1030.8 242.2L1035.2 241.2L1039.2 241.2L1043.8 240.2L1047.8 240.2L1052.2 239.2L1068.2 237.8L1068.8 237.2L1075.2 236.8L1075.8 236.2L1094.8 233.8L1098.2 232.8L1101.2 232.8L1104.8 231.8L1107.8 231.8L1111.2 230.8L1117.8 230.2L1131.2 226.8L1136.2 226.2L1145.8 222.8L1147.8 222.8L1147.8 88.2Z"/>
<path fill="#00ffd7" fill-rule="evenodd" d="M680.2 88.2L680.2 320.8L684.2 320.2L689.2 318.2L691.2 318.2L693.2 317.2L695.2 317.2L697.2 316.2L707.2 314.2L712.2 312.2L714.2 312.2L716.2 311.2L718.2 311.2L720.2 310.2L730.2 308.2L735.2 306.2L737.2 306.2L739.2 305.2L741.2 305.2L743.2 304.2L753.2 302.2L758.2 300.2L760.2 300.2L762.2 299.2L764.2 299.2L766.2 298.2L771.8 297.2L772.2 294.8L767.2 285.8L767.2 284.2L768.2 283.2L771.8 283.8L782.2 287.2L800.8 287.2L822.2 278.8L846.2 268.2L880.8 257.8L896.8 254.8L905.8 253.8L906.2 253.2L912.8 252.8L913.2 252.2L934.2 250.8L934.8 250.2L940.2 250.2L940.8 249.8L950.8 249.2L951.2 248.8L955.8 248.8L956.2 248.2L960.8 248.2L961.2 247.8L966.2 247.8L966.8 247.2L970.8 247.2L971.2 246.8L974.8 246.8L975.2 246.2L978.8 246.2L979.2 245.8L982.8 245.8L983.2 245.2L986.8 245.2L987.2 244.8L990.8 244.8L991.2 244.2L994.8 244.2L999.2 243.2L1021.8 241.2L1029.8 239.8L1065.2 235.8L1065.8 235.2L1072.2 234.8L1072.8 234.2L1081.8 233.2L1088.2 231.8L1091.2 231.8L1100.8 229.8L1116.8 227.8L1134.2 223.8L1136.2 224.8L1139.8 224.8L1146.2 222.2L1147.8 222.2L1147.8 88.2Z"/>
<path fill="#00ffe7" fill-rule="evenodd" d="M680.2 88.2L680.2 320.2L684.2 319.8L687.8 318.2L707.2 313.8L710.8 312.2L730.2 307.8L733.8 306.2L770.2 297.2L771.8 296.2L771.8 294.8L765.8 284.8L765.2 282.8L765.8 281.2L769.2 281.2L775.8 283.8L781.8 285.2L800.8 284.8L845.8 265.2L878.8 255.2L894.8 252.8L895.2 252.2L911.2 250.2L911.8 249.8L965.2 245.8L965.8 245.2L970.2 245.2L970.8 244.8L990.8 242.8L991.2 242.2L994.8 242.2L999.2 241.2L1024.8 238.8L1028.8 237.8L1032.2 237.8L1036.2 236.8L1039.8 236.8L1043.8 235.8L1047.2 235.8L1047.8 235.2L1078.8 231.2L1079.2 230.8L1081.8 230.8L1082.2 230.2L1084.8 230.2L1085.2 229.8L1087.8 229.8L1106.2 226.2L1118.8 224.8L1131.8 221.8L1134.8 221.8L1137.2 224.2L1139.8 224.2L1144.8 222.2L1147.8 221.8L1147.8 88.2Z"/>
<path fill="#00fff6" fill-rule="evenodd" d="M680.2 88.2L680.2 319.8L684.2 319.2L689.2 317.2L691.2 317.2L693.2 316.2L695.2 316.2L697.2 315.2L707.2 313.2L712.2 311.2L714.2 311.2L716.2 310.2L718.2 310.2L720.2 309.2L730.2 307.2L735.2 305.2L737.2 305.2L739.2 304.2L741.2 304.2L743.2 303.2L753.2 301.2L758.2 299.2L760.2 299.2L762.2 298.2L769.8 296.8L771.2 295.2L763.2 281.8L763.2 280.8L764.8 278.8L768.2 279.2L778.8 282.8L798.2 282.8L800.8 282.2L845.2 262.2L878.8 252.2L881.2 252.2L893.8 249.8L896.8 249.8L900.2 248.8L903.2 248.8L906.8 247.8L909.8 247.8L910.2 247.2L964.2 243.8L964.8 243.2L969.2 243.2L969.8 242.8L982.2 241.8L982.8 241.2L986.2 241.2L990.8 240.2L994.8 240.2L999.2 239.2L1020.2 237.2L1020.8 236.8L1023.8 236.8L1031.2 235.2L1034.8 235.2L1035.2 234.8L1069.8 230.2L1084.8 227.2L1120.8 221.8L1132.2 219.2L1135.2 219.8L1138.2 223.8L1147.8 221.2L1147.8 88.2Z"/>
<path fill="#00f9ff" fill-rule="evenodd" d="M680.2 88.2L680.2 318.2L682.2 318.2L687.2 316.2L689.2 316.2L691.2 315.2L693.2 315.2L695.2 314.2L705.2 312.2L710.2 310.2L712.2 310.2L714.2 309.2L716.2 309.2L718.2 308.2L728.2 306.2L733.2 304.2L735.2 304.2L737.2 303.2L739.2 303.2L741.2 302.2L743.2 302.2L745.2 301.2L747.2 301.2L749.2 300.2L754.8 299.2L756.2 298.2L758.2 298.2L760.2 297.2L762.2 297.2L764.2 296.2L769.2 295.2L768.2 292.8L766.2 290.8L761.8 283.2L763.2 276.8L767.2 277.2L775.8 280.2L799.2 280.2L843.8 259.8L861.8 254.2L863.2 254.2L866.8 252.8L868.2 252.8L871.8 251.2L873.2 251.2L876.8 249.8L888.8 248.2L892.2 247.2L895.2 247.2L895.8 246.8L898.8 246.8L902.2 245.8L905.2 245.8L905.8 245.2L908.8 245.2L909.2 244.8L942.2 243.2L942.8 242.8L968.2 241.2L968.8 240.8L972.8 240.8L973.2 240.2L989.8 238.8L994.2 237.8L1015.8 235.8L1016.2 235.2L1033.2 233.2L1036.8 232.2L1050.2 230.8L1053.8 229.8L1063.8 228.8L1067.2 227.8L1070.2 227.8L1073.2 226.8L1084.8 225.2L1087.8 224.2L1090.2 224.2L1090.8 223.8L1093.2 223.8L1099.2 222.2L1114.2 220.2L1132.8 216.8L1135.8 216.8L1137.8 218.8L1139.2 221.8L1142.8 221.2L1144.2 220.2L1147.8 220.2L1147.8 88.2Z"/>
<path fill="#00eaff" fill-rule="evenodd" d="M680.2 88.2L680.2 300.2L686.8 299.2L696.8 296.2L703.8 295.2L705.8 294.2L707.8 294.2L717.8 291.2L724.8 290.2L726.8 289.2L728.8 289.2L738.8 286.2L741.2 286.2L747.8 284.2L749.8 284.2L751.8 283.2L753.8 283.2L755.8 282.2L757.8 282.2L759.2 281.2L760.8 281.2L761.8 280.2L761.8 277.2L761.2 276.8L761.8 274.8L764.8 274.8L771.2 277.2L775.8 278.2L799.8 277.8L843.2 257.2L876.2 247.2L898.8 244.2L899.2 243.8L902.2 243.8L902.8 243.2L905.8 243.2L906.2 242.8L909.2 242.8L909.8 242.2L938.2 241.2L938.8 240.8L945.2 240.8L945.8 240.2L970.2 238.8L970.8 238.2L983.2 237.2L983.8 236.8L991.8 236.2L996.2 235.2L1017.8 233.2L1024.8 231.8L1027.8 231.8L1034.8 230.2L1037.8 230.2L1044.8 228.8L1067.8 225.8L1079.8 223.2L1088.2 222.2L1091.2 221.2L1096.8 220.8L1099.8 219.8L1131.8 214.8L1132.8 213.8L1132.8 208.8L1134.2 207.2L1147.8 202.2L1147.8 88.2Z"/>
<path fill="#00daff" fill-rule="evenodd" d="M680.2 88.2L680.2 299.8L760.2 280.8L761.2 279.8L761.2 277.8L759.8 274.8L760.2 272.2L763.8 272.8L772.2 275.8L798.8 275.8L818.8 266.2L819.8 266.2L840.8 255.8L853.8 251.2L858.8 250.2L876.2 244.8L906.2 240.8L906.8 240.2L910.2 240.2L910.8 239.8L941.8 238.8L942.2 238.2L971.2 236.2L975.8 235.2L979.8 235.2L980.2 234.8L984.2 234.8L988.8 233.8L1018.8 230.8L1019.2 230.2L1025.8 229.8L1026.2 229.2L1035.8 228.2L1039.2 227.2L1045.8 226.8L1049.2 225.8L1055.8 225.2L1059.2 224.2L1065.8 223.8L1080.8 220.8L1086.2 220.2L1089.2 219.2L1094.8 218.8L1097.8 217.8L1130.2 212.8L1131.2 211.8L1131.8 208.8L1133.8 206.8L1142.2 203.8L1144.8 202.2L1147.8 201.8L1147.8 88.2Z"/>
<path fill="#00cbff" fill-rule="evenodd" d="M680.2 88.2L680.2 299.2L686.2 298.2L696.2 295.2L703.2 294.2L705.2 293.2L707.2 293.2L717.2 290.2L724.2 289.2L726.2 288.2L728.2 288.2L738.2 285.2L740.8 285.2L758.8 280.8L760.8 279.8L760.8 277.8L758.8 274.2L757.8 271.2L758.2 270.2L761.2 270.2L767.8 272.8L772.8 273.8L776.2 273.8L776.8 273.2L794.8 273.2L797.2 273.8L799.2 273.2L841.8 252.8L851.8 249.2L853.2 249.2L876.2 242.2L899.8 239.2L900.2 238.8L903.8 238.8L907.8 237.8L912.8 237.8L913.2 237.2L936.8 236.8L937.2 236.2L944.2 236.2L944.8 235.8L956.2 235.2L956.8 234.8L961.8 234.8L962.2 234.2L967.8 234.2L968.2 233.8L994.2 231.2L998.8 230.2L1016.2 228.8L1016.8 228.2L1030.2 226.8L1033.8 225.8L1040.2 225.2L1043.8 224.2L1050.2 223.8L1053.8 222.8L1060.2 222.2L1060.8 221.8L1084.2 218.2L1087.2 217.2L1095.8 216.2L1098.8 215.2L1129.8 210.2L1132.8 206.8L1134.8 205.8L1137.2 205.2L1144.8 201.8L1147.8 201.2L1147.8 88.2Z"/>
<path fill="#00bcff" fill-rule="evenodd" d="M680.2 88.2L680.2 298.8L682.2 298.8L684.2 297.8L686.2 297.8L696.2 294.8L699.2 294.8L701.2 293.8L703.2 293.8L705.2 292.8L707.2 292.8L717.2 289.8L720.2 289.8L722.2 288.8L724.2 288.8L726.2 287.8L728.2 287.8L738.2 284.8L741.2 284.8L743.2 283.8L745.2 283.8L747.2 282.8L749.2 282.8L751.2 281.8L758.8 280.2L760.2 279.2L760.2 277.8L756.2 270.2L756.8 267.8L760.2 268.2L769.2 271.2L786.2 271.2L786.8 270.8L798.2 271.2L813.8 263.8L814.8 263.8L841.8 250.2L851.2 246.8L852.8 246.8L878.2 239.2L908.8 235.8L909.2 235.2L941.2 234.2L941.8 233.8L968.8 231.8L969.2 231.2L977.8 230.8L982.2 229.8L986.2 229.8L986.8 229.2L990.8 229.2L991.2 228.8L1021.2 225.8L1024.8 224.8L1027.8 224.8L1034.8 223.2L1037.8 223.2L1044.8 221.8L1067.8 218.8L1079.8 216.2L1085.2 215.8L1088.2 214.8L1093.8 214.2L1096.8 213.2L1128.8 208.2L1146.2 200.8L1147.8 200.8L1147.8 88.2Z"/>
<path fill="#00adff" fill-rule="evenodd" d="M680.2 88.2L680.2 298.2L682.8 298.2L695.2 294.8L699.8 294.2L716.2 289.8L720.8 289.2L737.2 284.8L741.8 284.2L757.8 280.2L759.8 279.2L759.8 277.2L755.2 270.2L754.2 267.2L755.2 265.8L759.2 266.2L766.2 268.8L791.2 268.8L791.8 269.2L797.2 269.2L811.8 262.2L812.8 262.2L843.8 246.8L875.8 237.2L884.8 236.2L885.2 235.8L893.2 235.2L893.8 234.8L897.2 234.8L897.8 234.2L901.2 234.2L901.8 233.8L910.2 233.2L910.8 232.8L943.2 231.8L943.8 231.2L959.8 230.2L960.2 229.8L969.8 229.2L970.2 228.8L974.2 228.8L974.8 228.2L978.8 228.2L979.2 227.8L983.2 227.8L983.8 227.2L1018.8 223.8L1019.2 223.2L1025.8 222.8L1026.2 222.2L1035.8 221.2L1039.2 220.2L1045.8 219.8L1049.2 218.8L1055.8 218.2L1059.2 217.2L1065.8 216.8L1066.2 216.2L1074.8 215.2L1077.8 214.2L1083.2 213.8L1086.2 212.8L1094.8 211.8L1097.8 210.8L1106.2 209.8L1109.2 208.8L1111.8 208.8L1127.2 205.8L1131.2 206.8L1145.2 200.8L1147.8 200.8L1147.8 88.2Z"/>
<path fill="#009dff" fill-rule="evenodd" d="M680.2 88.2L680.2 298.2L685.2 297.2L687.2 296.2L689.2 296.2L691.2 295.2L693.2 295.2L695.2 294.2L702.2 293.2L704.2 292.2L706.2 292.2L716.2 289.2L723.2 288.2L725.2 287.2L727.2 287.2L737.2 284.2L739.8 284.2L757.8 279.8L759.2 278.8L759.2 277.2L752.8 266.2L752.8 264.2L753.8 263.2L766.2 266.8L786.2 266.2L786.8 266.8L796.2 267.2L808.8 261.2L809.8 261.2L843.2 244.2L877.8 234.2L898.2 232.2L902.8 231.2L906.8 231.2L907.2 230.8L912.8 230.8L913.2 230.2L927.2 230.2L927.8 229.8L945.8 229.2L946.2 228.8L966.2 227.2L966.8 226.8L970.8 226.8L971.2 226.2L975.2 226.2L975.8 225.8L979.8 225.8L980.2 225.2L984.2 225.2L984.8 224.8L1019.8 221.2L1020.2 220.8L1026.8 220.2L1027.2 219.8L1036.8 218.8L1040.2 217.8L1046.8 217.2L1050.2 216.2L1056.8 215.8L1060.2 214.8L1066.8 214.2L1078.8 211.8L1084.2 211.2L1087.2 210.2L1092.8 209.8L1095.8 208.8L1104.2 207.8L1107.2 206.8L1118.8 205.2L1124.8 203.8L1128.2 203.8L1130.2 205.8L1132.8 205.8L1145.2 200.2L1147.8 200.2L1147.8 88.2Z"/>
<path fill="#008eff" fill-rule="evenodd" d="M680.2 88.2L680.2 297.8L685.2 296.8L687.2 295.8L689.2 295.8L691.2 294.8L693.2 294.8L695.2 293.8L702.2 292.8L704.2 291.8L706.2 291.8L716.2 288.8L723.2 287.8L725.2 286.8L727.2 286.8L737.2 283.8L739.8 283.8L757.8 279.2L758.8 277.8L750.8 264.2L750.8 262.2L751.8 261.2L755.8 261.8L763.2 264.2L787.2 264.2L787.8 264.8L795.2 265.2L806.8 260.2L816.2 255.2L817.2 255.2L833.8 246.2L845.2 240.8L877.8 231.8L908.2 228.8L908.8 228.2L942.8 227.2L943.2 226.8L947.8 226.8L952.8 225.8L967.2 224.8L967.8 224.2L971.8 224.2L972.2 223.8L976.2 223.8L976.8 223.2L980.8 223.2L985.8 222.2L990.2 222.2L990.8 221.8L1017.2 219.2L1017.8 218.8L1021.2 218.8L1021.8 218.2L1031.2 217.2L1034.8 216.2L1041.2 215.8L1044.8 214.8L1051.2 214.2L1054.8 213.2L1061.2 212.8L1064.8 211.8L1067.8 211.8L1068.2 211.2L1073.8 210.8L1076.8 209.8L1082.2 209.2L1085.2 208.2L1093.8 207.2L1096.8 206.2L1102.2 205.8L1105.2 204.8L1113.8 203.8L1125.8 201.2L1128.8 202.2L1131.2 205.2L1132.2 205.2L1140.2 201.8L1142.8 201.2L1145.2 199.8L1147.8 199.8L1147.8 88.2Z"/>
<path fill="#007fff" fill-rule="evenodd" d="M680.2 88.2L680.2 296.8L695.8 292.8L698.2 292.8L716.8 287.8L719.2 287.8L737.8 282.8L740.2 282.8L757.2 278.2L757.8 277.8L756.8 275.8L754.2 272.8L749.8 265.2L749.8 260.8L750.8 259.2L753.2 259.2L760.2 261.8L782.8 261.8L783.2 262.2L788.2 262.2L788.8 262.8L796.2 262.8L820.2 251.2L842.2 239.2L877.2 229.2L900.2 227.2L905.2 226.2L909.8 226.2L910.2 225.8L939.2 225.2L939.8 224.8L944.8 224.8L949.8 223.8L954.2 223.8L959.2 222.8L963.8 222.8L964.2 222.2L968.2 222.2L973.2 221.2L977.8 221.2L978.2 220.8L982.2 220.8L982.8 220.2L986.8 220.2L991.8 219.2L996.2 219.2L996.8 218.8L1018.8 216.8L1019.2 216.2L1025.8 215.8L1029.2 214.8L1032.2 214.8L1039.2 213.2L1042.2 213.2L1042.8 212.8L1045.8 212.8L1049.2 211.8L1052.2 211.8L1052.8 211.2L1055.8 211.2L1059.2 210.2L1074.8 208.2L1077.8 207.2L1083.2 206.8L1086.2 205.8L1091.8 205.2L1094.8 204.2L1100.2 203.8L1103.2 202.8L1108.8 202.2L1126.2 198.8L1127.8 199.2L1130.8 202.2L1131.8 204.2L1132.8 204.2L1144.2 199.2L1147.8 198.8L1147.8 88.2Z"/>
<path fill="#0070ff" fill-rule="evenodd" d="M680.2 295.2L682.2 294.8L692.8 281.2L698.8 275.2L716.2 270.8L718.8 270.8L730.2 267.8L732.8 267.8L739.2 265.8L746.8 264.8L749.2 262.8L748.8 257.8L749.8 256.8L759.8 259.8L777.2 259.2L777.8 259.8L794.8 260.8L822.8 247.2L842.8 236.2L877.2 226.8L901.2 224.8L901.8 224.2L906.8 224.2L907.2 223.8L914.8 223.8L915.2 223.2L942.2 222.8L942.8 222.2L947.2 222.2L947.8 221.8L951.8 221.8L956.8 220.8L975.2 219.2L975.8 218.8L998.2 216.8L998.8 216.2L1002.8 216.2L1003.2 215.8L1007.2 215.8L1012.2 214.8L1016.8 214.8L1017.2 214.2L1023.8 213.8L1024.2 213.2L1033.8 212.2L1037.2 211.2L1043.8 210.8L1047.2 209.8L1050.2 209.8L1053.8 208.8L1066.8 207.2L1067.2 206.8L1072.8 206.2L1075.8 205.2L1081.2 204.8L1084.2 203.8L1089.8 203.2L1092.8 202.2L1095.2 202.2L1098.2 201.2L1103.8 200.8L1106.8 199.8L1109.2 199.8L1112.2 198.8L1124.8 196.8L1126.2 194.8L1125.2 190.2L1126.8 188.8L1141.2 182.8L1147.8 180.8L1147.8 88.2L680.2 88.2Z"/>
<path fill="#0060ff" fill-rule="evenodd" d="M680.2 294.8L681.8 294.2L683.8 292.2L687.8 286.8L690.8 283.8L691.8 281.8L699.2 274.2L707.8 271.8L710.8 271.8L712.8 270.8L714.8 270.8L716.8 269.8L719.8 269.8L721.8 268.8L724.8 268.8L726.8 267.8L728.8 267.8L730.8 266.8L733.8 266.8L739.8 264.8L747.2 263.8L748.8 262.2L748.8 259.8L746.8 256.2L747.2 254.8L751.2 255.2L756.8 257.2L779.2 257.2L779.8 257.8L784.8 257.8L785.2 258.2L794.8 258.2L821.2 245.2L842.2 233.8L875.2 224.8L891.8 223.2L892.2 222.8L896.8 222.8L897.2 222.2L909.2 221.8L909.8 221.2L940.2 220.8L940.8 220.2L945.2 220.2L950.2 219.2L954.8 219.2L955.2 218.8L959.2 218.8L964.2 217.8L968.8 217.8L969.2 217.2L973.2 217.2L973.8 216.8L977.8 216.8L978.2 216.2L982.2 216.2L987.2 215.2L991.8 215.2L992.2 214.8L1018.8 212.2L1019.2 211.8L1022.2 211.8L1025.8 210.8L1028.8 210.8L1032.2 209.8L1035.2 209.8L1038.8 208.8L1041.8 208.8L1045.2 207.8L1048.2 207.8L1051.8 206.8L1054.8 206.8L1055.2 206.2L1058.2 206.2L1061.8 205.2L1073.8 203.8L1076.8 202.8L1079.2 202.8L1082.2 201.8L1084.8 201.8L1087.8 200.8L1090.2 200.8L1093.2 199.8L1095.8 199.8L1098.8 198.8L1101.2 198.8L1101.8 198.2L1104.2 198.2L1107.2 197.2L1122.8 194.8L1124.2 193.8L1124.2 189.8L1125.8 188.2L1132.8 185.8L1135.2 184.2L1137.8 183.8L1140.2 182.2L1147.8 180.2L1147.8 88.2L680.2 88.2Z"/>
<path fill="#0051ff" fill-rule="evenodd" d="M680.2 294.2L681.2 294.2L683.8 291.8L687.8 286.2L690.8 283.2L691.8 281.2L700.2 273.2L705.8 272.2L707.8 271.2L710.8 271.2L716.8 269.2L724.8 268.2L730.8 266.2L733.8 266.2L739.8 264.2L747.2 263.2L748.2 262.2L748.2 259.8L745.2 254.2L745.2 253.2L746.2 252.2L757.2 255.2L774.2 254.8L774.8 255.2L780.2 255.2L780.8 255.8L786.2 255.8L786.8 256.2L793.2 256.2L812.2 247.2L813.2 246.2L840.8 231.8L868.8 223.8L870.8 223.8L875.2 222.2L892.8 220.8L893.2 220.2L898.2 220.2L898.8 219.8L914.8 219.2L915.2 218.8L943.8 218.2L944.2 217.8L948.2 217.8L953.2 216.8L957.8 216.8L962.8 215.8L967.2 215.8L967.8 215.2L971.8 215.2L972.2 214.8L976.2 214.8L976.8 214.2L1016.8 210.2L1017.2 209.8L1020.8 209.8L1033.8 207.2L1036.8 207.2L1040.2 206.2L1043.2 206.2L1046.8 205.2L1049.8 205.2L1053.2 204.2L1056.2 204.2L1062.8 202.8L1071.8 201.8L1074.8 200.8L1077.2 200.8L1080.2 199.8L1082.8 199.8L1085.8 198.8L1088.2 198.8L1091.2 197.8L1093.8 197.8L1099.2 196.2L1101.8 196.2L1104.8 195.2L1107.2 195.2L1122.2 192.2L1123.2 189.8L1125.2 187.8L1127.8 187.2L1140.2 181.8L1147.8 179.8L1147.8 88.2L680.2 88.2Z"/>
<path fill="#0042ff" fill-rule="evenodd" d="M680.2 294.2L682.8 292.8L691.8 280.8L699.2 273.2L715.2 269.2L724.8 267.8L729.2 266.2L747.2 262.8L747.8 262.2L747.8 259.8L745.2 256.2L743.8 252.8L744.2 250.2L747.8 250.8L753.8 252.8L775.2 252.8L775.8 253.2L781.2 253.2L781.8 253.8L793.2 253.8L813.8 243.8L831.8 233.2L840.2 229.2L861.8 222.8L868.2 221.8L870.8 220.8L875.8 219.8L893.2 218.2L893.8 217.8L900.2 217.8L900.8 217.2L941.8 216.2L942.2 215.8L960.8 214.2L965.8 213.2L970.2 213.2L974.8 212.2L978.8 212.2L979.2 211.8L983.2 211.8L983.8 211.2L987.8 211.2L988.2 210.8L992.2 210.8L992.8 210.2L996.8 210.2L997.2 209.8L1022.2 207.2L1025.8 206.2L1028.8 206.2L1032.2 205.2L1035.2 205.2L1041.8 203.8L1044.8 203.8L1051.2 202.2L1054.2 202.2L1060.8 200.8L1072.8 199.2L1078.2 197.8L1080.8 197.8L1083.8 196.8L1086.2 196.8L1091.8 195.2L1094.2 195.2L1099.8 193.8L1102.2 193.8L1107.8 192.2L1120.2 190.2L1122.8 189.2L1125.2 187.2L1127.8 186.8L1140.2 181.2L1147.8 179.2L1147.8 88.2L680.2 88.2Z"/>
<path fill="#0032ff" fill-rule="evenodd" d="M680.2 293.8L681.2 293.8L683.2 291.8L691.2 281.2L699.8 272.8L715.8 268.8L723.2 267.8L729.8 265.8L732.2 265.8L738.8 263.8L741.2 263.8L747.2 262.2L747.8 261.2L747.2 259.2L744.8 256.2L741.8 249.8L741.8 248.8L742.8 247.8L750.8 250.2L770.8 250.2L771.2 250.8L776.2 250.8L776.8 251.2L793.2 251.2L813.2 241.2L835.2 228.8L847.2 224.2L848.8 224.2L863.2 219.8L873.2 217.8L893.8 215.8L894.2 215.2L915.2 214.8L915.8 214.2L939.2 214.2L939.8 213.8L944.8 213.8L945.2 213.2L963.8 211.8L964.2 211.2L968.2 211.2L968.8 210.8L972.8 210.8L973.2 210.2L977.2 210.2L977.8 209.8L981.8 209.8L982.2 209.2L986.2 209.2L986.8 208.8L990.8 208.8L991.2 208.2L995.2 208.2L995.8 207.8L1020.8 205.2L1024.2 204.2L1027.2 204.2L1036.8 202.2L1039.8 202.2L1046.2 200.8L1049.2 200.8L1058.8 198.8L1070.8 197.2L1115.8 188.2L1123.8 187.8L1134.2 183.2L1136.8 182.8L1139.2 181.2L1147.8 178.8L1147.8 88.2L680.2 88.2Z"/>
<path fill="#0023ff" fill-rule="evenodd" d="M680.2 293.8L682.8 292.2L691.8 280.2L700.2 272.2L706.8 270.2L709.8 270.2L711.8 269.2L713.8 269.2L715.8 268.2L718.8 268.2L720.8 267.2L723.8 267.2L725.8 266.2L727.8 266.2L729.8 265.2L732.8 265.2L738.8 263.2L746.2 262.2L747.2 261.2L747.2 260.2L744.2 256.2L740.2 248.8L740.2 246.2L740.8 245.8L744.2 246.2L750.2 248.2L765.2 247.8L765.8 248.2L771.8 248.2L772.2 248.8L778.2 248.8L778.8 249.2L791.8 249.2L811.8 239.2L826.8 230.2L834.8 226.2L846.8 221.8L865.2 216.8L867.8 216.8L873.8 215.2L881.2 214.8L881.8 214.2L894.8 213.2L895.2 212.8L942.8 211.8L943.2 211.2L947.8 211.2L948.2 210.8L966.8 209.2L967.2 208.8L971.2 208.8L971.8 208.2L980.2 207.8L984.8 206.8L988.8 206.8L989.2 206.2L1019.2 203.2L1022.8 202.2L1025.8 202.2L1038.2 199.8L1041.2 199.8L1053.8 197.2L1056.8 197.2L1057.2 196.8L1071.8 194.8L1118.8 185.2L1120.2 185.2L1122.8 187.2L1123.8 187.2L1133.2 183.8L1135.8 182.2L1138.2 181.8L1140.8 180.2L1147.8 178.2L1147.8 88.2L680.2 88.2Z"/>
<path fill="#0014ff" fill-rule="evenodd" d="M680.2 293.8L683.2 291.2L687.2 285.8L690.2 282.8L691.2 280.8L697.8 273.8L701.8 271.2L706.8 269.8L709.8 269.8L715.8 267.8L723.8 266.8L729.8 264.8L732.8 264.8L738.8 262.8L746.2 261.8L746.8 260.2L744.2 257.2L738.8 247.8L738.8 244.8L739.8 243.8L743.2 244.2L747.2 245.8L767.2 245.8L767.8 246.2L772.8 246.2L773.2 246.8L791.8 246.8L811.2 236.8L830.8 225.2L843.2 220.2L861.8 214.8L867.8 214.2L874.8 212.8L878.2 212.8L878.8 212.2L882.2 212.2L882.8 211.8L890.8 211.2L891.2 210.8L896.8 210.8L897.2 210.2L941.2 209.8L941.8 209.2L965.2 207.2L965.8 206.8L969.8 206.8L970.2 206.2L974.2 206.2L978.8 205.2L982.8 205.2L983.2 204.8L987.2 204.8L991.8 203.8L1017.2 201.2L1017.8 200.8L1027.2 199.8L1027.8 199.2L1075.2 191.8L1118.8 182.8L1120.2 183.2L1122.8 186.2L1125.2 186.2L1140.8 179.8L1147.8 177.8L1147.8 88.2L680.2 88.2Z"/>
<path fill="#0005ff" fill-rule="evenodd" d="M680.2 293.2L681.2 293.2L692.2 279.2L699.2 272.2L702.8 270.2L704.2 270.2L706.2 269.2L709.2 269.2L715.2 267.2L718.2 267.2L720.2 266.2L723.2 266.2L729.2 264.2L732.2 264.2L738.2 262.2L741.2 262.2L743.2 261.2L745.2 261.2L745.8 260.8L745.2 259.2L743.8 257.8L737.8 247.8L737.8 242.2L738.2 241.8L740.2 241.8L744.2 243.2L762.2 243.2L762.8 243.8L768.2 243.8L768.8 244.2L791.8 244.2L809.8 234.8L821.8 227.2L830.2 222.8L842.8 217.8L861.2 212.2L883.2 209.8L883.8 209.2L887.2 209.2L887.8 208.8L891.2 208.8L891.8 208.2L944.2 207.2L944.8 206.8L958.8 205.8L959.2 205.2L968.2 204.8L968.8 204.2L981.2 203.2L981.8 202.8L989.8 202.2L994.2 201.2L1002.8 200.8L1007.2 199.8L1015.8 199.2L1016.2 198.8L1025.8 197.8L1026.2 197.2L1070.8 190.2L1093.8 185.2L1106.2 183.2L1116.2 180.8L1119.8 180.8L1121.8 182.2L1123.2 185.2L1124.2 185.8L1137.8 180.8L1140.2 179.2L1147.8 177.2L1147.8 88.2L680.2 88.2Z"/>
<path fill="#0b00ff" fill-rule="evenodd" d="M680.2 293.2L682.2 292.2L691.2 280.2L699.8 271.8L702.2 270.2L706.2 266.2L711.2 259.2L716.8 253.8L723.2 251.2L725.8 251.2L727.2 250.2L729.8 250.2L731.2 249.2L733.8 249.2L736.2 248.2L737.2 246.8L737.2 243.8L736.2 241.8L736.8 239.2L744.2 241.2L763.2 241.2L763.8 241.8L770.2 241.8L770.8 242.2L789.8 242.2L808.2 232.8L822.8 223.8L828.8 220.8L847.2 213.8L862.2 209.8L893.2 206.2L893.8 205.8L942.2 205.2L942.8 204.8L947.2 204.8L947.8 204.2L956.8 203.8L957.2 203.2L970.8 202.2L971.2 201.8L983.8 200.8L988.2 199.8L992.2 199.8L996.8 198.8L1000.8 198.8L1005.2 197.8L1009.2 197.8L1013.8 196.8L1017.8 196.8L1033.2 193.8L1036.2 193.8L1036.8 193.2L1069.2 188.2L1118.2 177.8L1118.8 176.2L1116.2 170.8L1147.8 144.2L1147.8 88.2L680.2 88.2Z"/>
<path fill="#1a00ff" fill-rule="evenodd" d="M680.2 293.2L685.8 287.8L690.8 280.8L704.8 266.8L709.8 259.8L717.2 252.2L722.8 250.2L734.2 247.8L736.8 246.2L736.8 243.8L734.2 238.2L735.2 237.2L741.2 238.8L758.8 238.8L759.2 239.2L764.8 239.2L765.2 239.8L788.8 239.8L790.8 239.2L826.2 219.2L831.2 217.8L841.8 213.2L859.2 208.2L881.2 205.8L881.8 205.2L885.2 205.2L885.8 204.8L889.2 204.8L889.8 204.2L893.2 204.2L893.8 203.8L940.8 203.2L941.2 202.8L950.2 202.2L950.8 201.8L968.8 200.2L969.2 199.8L977.2 199.2L981.8 198.2L985.8 198.2L990.2 197.2L994.2 197.2L998.8 196.2L1002.8 196.2L1007.2 195.2L1011.2 195.2L1011.8 194.8L1022.2 193.8L1037.8 190.8L1040.8 190.8L1059.2 187.2L1068.2 186.2L1114.2 176.8L1115.8 175.8L1115.8 174.2L1114.2 170.8L1147.8 142.8L1147.8 88.2L680.2 88.2Z"/>
<path fill="#2900ff" fill-rule="evenodd" d="M680.2 293.2L682.2 291.8L690.2 281.2L701.2 270.2L705.2 264.8L708.2 261.8L709.2 259.8L717.2 251.8L722.8 249.8L734.2 247.2L736.2 246.2L736.8 244.2L732.8 236.8L733.2 234.8L741.8 236.8L753.8 236.2L754.2 236.8L759.8 236.8L760.2 237.2L787.8 237.2L791.8 235.8L816.2 221.8L825.2 217.2L847.2 209.2L859.2 206.2L878.2 204.2L878.8 203.8L889.8 202.8L890.2 202.2L894.2 202.2L894.8 201.8L914.8 201.8L915.2 201.2L943.8 200.8L944.2 200.2L966.8 198.2L967.2 197.8L975.2 197.2L979.8 196.2L983.8 196.2L988.2 195.2L992.2 195.2L992.8 194.8L996.2 194.8L1000.8 193.8L1004.8 193.8L1005.2 193.2L1020.2 191.8L1026.8 190.2L1029.8 190.2L1039.2 188.2L1042.2 188.2L1051.8 186.2L1054.8 186.2L1061.2 184.8L1070.2 183.8L1077.8 181.8L1112.8 174.8L1113.8 174.2L1113.2 171.2L1115.2 168.8L1119.8 165.8L1123.8 161.8L1125.8 160.8L1129.8 156.8L1131.8 155.8L1135.8 151.8L1137.8 150.8L1141.8 146.8L1147.8 142.2L1147.8 88.2L680.2 88.2Z"/>
<path fill="#3800ff" fill-rule="evenodd" d="M680.2 292.8L681.2 292.8L691.2 279.8L701.2 269.8L705.2 264.2L708.2 261.2L709.2 259.2L717.2 251.2L722.8 249.2L734.2 246.8L736.2 245.2L734.8 241.2L731.2 235.8L731.2 233.2L731.8 232.8L737.8 234.2L755.2 234.2L755.8 234.8L763.2 234.8L763.8 235.2L782.8 235.2L783.2 234.8L786.2 234.8L790.8 233.2L812.8 220.8L822.8 215.8L844.8 207.8L859.8 204.2L882.8 201.8L890.8 200.2L895.8 200.2L896.2 199.8L942.2 198.8L942.8 198.2L964.8 196.2L969.2 195.2L973.2 195.2L973.8 194.8L977.2 194.8L981.8 193.8L985.8 193.8L990.2 192.8L994.2 192.8L994.8 192.2L1018.2 189.8L1031.2 187.2L1034.2 187.2L1047.2 184.8L1050.2 184.8L1053.8 183.8L1069.2 181.8L1111.2 172.8L1115.8 167.8L1120.2 164.8L1123.8 161.2L1126.2 159.8L1129.8 156.2L1132.2 154.8L1135.8 151.2L1147.8 141.8L1147.8 88.2L680.2 88.2Z"/>
<path fill="#4800ff" fill-rule="evenodd" d="M680.2 292.8L685.8 287.2L690.8 280.2L700.8 270.2L709.8 258.2L716.8 251.2L722.8 248.8L732.8 246.8L735.8 245.2L735.8 243.8L730.2 234.8L730.2 231.2L730.8 230.8L734.8 231.8L750.2 231.8L750.8 232.2L756.2 232.2L756.8 232.8L781.2 232.8L781.8 232.2L784.8 232.2L788.8 231.2L810.2 219.2L821.8 213.8L845.8 205.2L854.8 203.8L857.2 202.8L871.8 201.2L879.8 199.8L883.2 199.8L883.8 199.2L887.2 199.2L891.2 198.2L940.2 196.8L940.8 196.2L958.2 194.8L962.8 193.8L966.8 193.8L967.2 193.2L971.2 193.2L971.8 192.8L975.2 192.8L979.8 191.8L983.8 191.8L984.2 191.2L987.8 191.2L992.2 190.2L1012.2 188.2L1012.8 187.8L1022.8 186.8L1026.2 185.8L1029.2 185.8L1032.8 184.8L1035.8 184.8L1039.2 183.8L1042.2 183.8L1045.8 182.8L1048.8 182.8L1052.2 181.8L1071.2 179.2L1073.8 178.2L1085.2 176.2L1108.2 170.8L1110.8 170.8L1118.2 165.8L1139.2 147.8L1144.8 143.8L1145.2 142.8L1147.8 141.2L1147.8 88.2L680.2 88.2Z"/>
<path fill="#5700ff" fill-rule="evenodd" d="M680.2 292.8L682.2 291.2L686.2 285.8L689.2 282.8L690.2 280.8L703.8 266.2L708.8 259.2L717.2 250.8L723.2 248.2L725.2 248.2L735.2 245.2L734.8 242.8L729.8 234.8L729.8 231.8L729.2 231.2L729.8 228.8L734.8 229.8L751.2 229.8L751.8 230.2L779.8 230.2L780.2 229.8L783.2 229.8L787.8 228.8L812.2 215.2L821.8 211.2L843.2 203.8L857.8 200.8L880.2 198.2L880.8 197.8L891.8 196.8L892.2 196.2L943.2 194.2L943.8 193.8L969.2 191.2L969.8 190.8L985.8 189.2L986.2 188.8L989.8 188.8L990.2 188.2L993.8 188.2L998.2 187.2L1002.2 187.2L1002.8 186.8L1013.8 185.8L1014.2 185.2L1017.2 185.2L1024.2 183.8L1027.2 183.8L1034.2 182.2L1037.2 182.2L1044.2 180.8L1047.2 180.8L1054.2 179.2L1070.2 177.2L1107.2 168.8L1112.2 169.2L1118.2 165.2L1145.8 141.8L1147.8 140.8L1147.8 88.2L680.2 88.2Z"/>
<path fill="#6600ff" fill-rule="evenodd" d="M680.2 292.8L682.2 291.2L690.2 280.8L700.2 270.2L709.2 258.2L716.8 250.8L721.8 248.2L733.2 245.8L734.8 244.8L733.8 241.8L729.8 236.2L729.2 231.2L727.2 227.8L727.8 226.2L731.8 227.2L764.2 227.8L764.8 228.2L773.8 228.2L774.2 227.8L781.8 227.2L787.8 225.8L807.8 214.8L815.2 211.2L844.2 201.2L849.2 200.8L852.2 199.8L865.2 198.2L865.8 197.8L869.2 197.8L869.8 197.2L873.2 197.2L877.2 196.2L880.8 196.2L884.8 195.2L892.2 194.8L892.8 194.2L941.8 192.2L946.2 191.2L967.2 189.2L967.8 188.8L971.2 188.8L971.8 188.2L1015.2 183.2L1022.2 181.8L1025.2 181.8L1025.8 181.2L1035.8 180.2L1039.2 179.2L1066.2 175.8L1078.8 173.2L1081.2 172.2L1083.2 172.2L1085.8 171.2L1087.8 171.2L1096.8 168.8L1098.8 168.8L1101.2 167.8L1103.2 167.8L1105.8 166.8L1108.8 166.8L1111.2 168.2L1113.2 168.2L1118.2 164.8L1122.2 160.8L1124.2 159.8L1128.2 155.8L1130.2 154.8L1146.2 140.8L1147.8 140.2L1147.8 88.2L680.2 88.2Z"/>
<path fill="#7500ff" fill-rule="evenodd" d="M680.2 292.8L681.8 291.8L690.8 279.8L699.8 270.8L708.8 258.8L717.8 249.8L720.2 248.2L725.2 247.2L727.2 246.2L729.2 246.2L731.2 245.2L733.2 245.2L734.2 244.2L729.2 236.2L729.2 232.2L728.2 229.8L726.2 227.2L725.8 225.8L726.2 224.2L728.8 224.8L741.8 224.8L742.2 225.2L747.8 225.2L748.2 225.8L773.2 225.8L773.8 225.2L776.8 225.2L786.8 223.2L812.2 209.8L845.8 198.8L848.8 198.8L852.2 197.8L866.2 196.2L870.2 195.2L873.8 195.2L877.8 194.2L885.2 193.8L889.2 192.8L892.8 192.8L893.2 192.2L940.2 190.2L944.8 189.2L948.8 189.2L949.2 188.8L952.8 188.8L953.2 188.2L956.8 188.2L961.2 187.2L965.2 187.2L965.8 186.8L969.2 186.8L969.8 186.2L973.2 186.2L973.8 185.8L977.2 185.8L977.8 185.2L981.2 185.2L985.8 184.2L1001.8 182.8L1002.2 182.2L1009.2 181.8L1009.8 181.2L1012.8 181.2L1013.2 180.8L1016.2 180.8L1016.8 180.2L1019.8 180.2L1020.2 179.8L1023.2 179.8L1023.8 179.2L1026.8 179.2L1027.2 178.8L1030.2 178.8L1030.8 178.2L1033.8 178.2L1034.2 177.8L1037.2 177.8L1037.8 177.2L1071.2 172.8L1106.8 164.2L1111.8 167.2L1113.8 167.2L1118.8 163.8L1122.8 159.8L1124.8 158.8L1128.8 154.8L1130.8 153.8L1146.2 140.2L1147.8 139.8L1147.8 88.2L680.2 88.2Z"/>
<path fill="#8500ff" fill-rule="evenodd" d="M680.2 292.2L685.8 286.8L686.2 285.2L689.8 281.8L690.2 280.2L696.8 273.8L708.2 259.2L716.8 250.2L722.8 246.2L728.2 245.2L732.2 243.8L732.2 242.8L728.8 237.8L729.2 235.2L728.8 231.2L724.8 224.8L724.2 223.2L724.8 222.2L727.8 222.2L728.2 222.8L743.2 222.8L743.8 223.2L771.8 223.2L772.2 222.8L784.2 221.2L810.2 207.8L844.2 196.8L858.2 195.2L862.2 194.2L865.8 194.2L866.2 193.8L869.8 193.8L873.8 192.8L877.2 192.8L877.8 192.2L881.2 192.2L889.2 190.8L892.8 190.8L893.2 190.2L942.8 187.8L943.2 187.2L946.8 187.2L947.2 186.8L950.8 186.8L951.2 186.2L954.8 186.2L955.2 185.8L958.8 185.8L959.2 185.2L962.8 185.2L967.2 184.2L971.2 184.2L971.8 183.8L1003.2 180.2L1010.8 178.8L1014.2 178.8L1014.8 178.2L1017.8 178.2L1018.2 177.8L1021.2 177.8L1021.8 177.2L1070.2 170.8L1096.2 164.2L1098.2 164.2L1106.2 161.8L1108.2 161.8L1112.2 165.8L1113.8 165.8L1117.2 163.2L1121.2 159.2L1123.2 158.2L1127.2 154.2L1129.2 153.2L1133.2 149.2L1135.2 148.2L1139.2 144.2L1141.2 143.2L1145.2 139.2L1147.8 138.2L1147.8 88.2L680.2 88.2Z"/>
<path fill="#9400ff" fill-rule="evenodd" d="M680.2 292.2L682.2 290.8L686.2 285.2L689.2 282.2L690.2 280.2L699.8 270.2L708.8 258.2L721.8 245.2L724.8 240.8L727.8 237.8L728.8 235.8L728.8 232.2L722.2 220.8L722.8 219.8L725.2 220.2L738.2 220.2L738.8 220.8L770.2 220.8L777.2 219.2L780.2 219.2L783.8 218.2L785.2 216.8L791.2 213.2L808.2 204.8L845.2 193.8L848.8 193.8L849.2 193.2L852.8 193.2L853.2 192.8L856.8 192.8L857.2 192.2L860.8 192.2L865.2 191.2L869.2 191.2L873.8 190.2L877.8 190.2L882.2 189.2L886.2 189.2L890.8 188.2L895.8 188.2L896.2 187.8L905.2 187.8L905.8 187.2L939.2 185.8L939.8 185.2L943.8 185.2L944.2 184.8L947.8 184.8L948.2 184.2L951.8 184.2L952.2 183.8L955.8 183.8L956.2 183.2L959.8 183.2L960.2 182.8L963.8 182.8L964.2 182.2L967.8 182.2L972.2 181.2L976.2 181.2L976.8 180.8L1004.2 177.8L1008.2 176.8L1011.8 176.8L1012.2 176.2L1015.2 176.2L1022.8 174.8L1026.2 174.8L1033.8 173.2L1037.2 173.2L1037.8 172.8L1068.8 168.8L1101.8 160.8L1103.2 159.8L1103.2 158.2L1101.2 154.2L1101.2 152.8L1103.2 150.8L1147.8 118.2L1147.8 88.2L680.2 88.2Z"/>
<path fill="#a300ff" fill-rule="evenodd" d="M680.2 292.2L684.8 287.8L689.8 280.8L699.2 270.8L700.2 268.8L703.8 265.2L704.2 263.8L707.8 260.2L708.2 258.8L718.2 248.8L724.8 239.8L728.2 236.2L728.8 234.8L728.2 231.2L721.2 220.2L721.8 217.8L725.2 217.8L725.8 218.2L732.2 217.8L732.8 218.2L739.8 218.2L740.2 218.8L764.8 218.8L765.2 218.2L768.8 218.2L775.8 216.8L779.2 216.8L779.8 216.2L782.2 216.2L784.8 212.8L788.2 210.2L806.8 201.2L817.2 197.8L822.8 196.8L824.8 195.8L828.2 195.2L841.8 191.2L856.2 189.8L856.8 189.2L860.8 189.2L861.2 188.8L890.8 186.2L891.2 185.8L899.2 185.8L899.8 185.2L939.8 183.2L940.2 182.8L948.2 182.2L948.8 181.8L952.2 181.8L952.8 181.2L956.2 181.2L956.8 180.8L960.2 180.8L960.8 180.2L964.2 180.2L964.8 179.8L968.2 179.8L972.8 178.8L976.8 178.8L977.2 178.2L980.8 178.2L981.2 177.8L984.8 177.8L989.2 176.8L1001.2 175.8L1005.2 174.8L1008.8 174.8L1012.8 173.8L1016.2 173.8L1020.2 172.8L1023.8 172.8L1027.8 171.8L1031.2 171.8L1031.8 171.2L1069.8 166.2L1081.8 162.8L1089.2 161.2L1091.2 160.2L1098.8 158.8L1100.8 157.8L1100.2 152.8L1102.8 150.2L1147.8 117.2L1147.8 88.2L680.2 88.2Z"/>
<path fill="#b300ff" fill-rule="evenodd" d="M680.2 292.2L685.8 286.2L690.8 279.2L700.2 269.2L708.2 258.8L718.8 247.8L724.8 239.2L728.2 235.8L728.2 231.8L719.2 217.2L719.8 215.2L722.2 215.8L734.8 215.8L735.2 216.2L763.8 216.2L774.2 214.2L779.8 214.2L781.2 213.8L782.8 212.2L783.8 209.2L786.2 206.8L805.2 197.8L813.8 194.8L840.8 188.2L860.8 186.2L861.2 185.8L891.8 183.8L892.2 183.2L902.8 183.2L903.2 182.8L940.2 180.8L940.8 180.2L944.2 180.2L944.8 179.8L948.2 179.8L948.8 179.2L952.2 179.2L956.8 178.2L960.8 178.2L961.2 177.8L964.8 177.8L965.2 177.2L968.8 177.2L973.2 176.2L989.8 174.8L990.2 174.2L1009.8 172.2L1013.8 171.2L1021.2 170.8L1025.2 169.8L1032.8 169.2L1033.2 168.8L1067.8 164.2L1072.8 163.2L1085.2 159.2L1088.8 158.8L1094.2 156.8L1097.8 156.2L1099.2 154.8L1099.2 152.8L1101.2 150.8L1114.2 141.8L1132.2 127.8L1137.2 124.8L1147.8 116.8L1147.8 88.2L680.2 88.2Z"/>
<path fill="#c200ff" fill-rule="evenodd" d="M680.2 292.2L685.2 286.8L690.2 279.8L699.8 269.8L708.8 257.8L717.2 249.2L723.8 240.2L728.2 235.2L727.8 230.8L719.2 218.2L717.8 215.2L718.2 213.2L762.2 213.8L769.2 212.2L779.8 211.8L781.8 210.2L782.8 206.2L784.8 203.2L801.2 195.2L813.8 190.8L842.8 184.8L860.8 183.2L861.2 182.8L893.2 181.2L893.8 180.8L905.2 180.8L905.8 180.2L940.2 178.2L940.8 177.8L944.8 177.8L945.2 177.2L948.8 177.2L949.2 176.8L952.8 176.8L953.2 176.2L956.8 176.2L961.2 175.2L965.2 175.2L965.8 174.8L969.2 174.8L973.8 173.8L977.8 173.8L978.2 173.2L981.8 173.2L986.2 172.2L990.2 172.2L990.8 171.8L998.8 171.2L999.2 170.8L1010.8 169.8L1014.8 168.8L1034.2 166.8L1034.8 166.2L1065.8 162.2L1074.8 160.2L1098.8 152.8L1109.2 144.2L1114.2 141.2L1132.2 127.2L1137.2 124.2L1147.8 116.2L1147.8 88.2L680.2 88.2Z"/>
<path fill="#d100ff" fill-rule="evenodd" d="M680.2 291.8L684.8 287.2L689.8 280.2L699.2 270.2L708.2 258.2L720.2 245.2L720.8 243.8L723.2 241.2L723.8 239.8L728.2 234.8L728.2 232.8L727.2 230.2L720.8 221.2L716.2 213.2L716.8 210.8L719.2 211.2L731.8 211.2L732.2 211.8L755.8 211.8L756.2 211.2L760.8 211.2L767.8 209.8L779.2 209.2L780.2 208.8L781.2 206.8L782.8 200.8L785.2 198.2L811.8 187.2L824.2 185.2L827.2 184.2L829.8 184.2L832.8 183.2L835.2 183.2L838.2 182.2L860.8 180.2L861.2 179.8L872.2 179.8L872.8 179.2L883.8 179.2L884.2 178.8L899.8 178.8L900.2 178.2L907.2 178.2L907.8 177.8L914.2 177.8L914.8 177.2L921.2 177.2L921.8 176.8L928.2 176.8L928.8 176.2L945.2 175.2L945.8 174.8L949.2 174.8L949.8 174.2L953.2 174.2L953.8 173.8L957.2 173.8L957.8 173.2L961.2 173.2L965.8 172.2L969.8 172.2L974.2 171.2L978.2 171.2L982.8 170.2L986.8 170.2L991.2 169.2L995.2 169.2L995.8 168.8L999.2 168.8L1003.8 167.8L1007.8 167.8L1008.2 167.2L1035.8 164.2L1036.2 163.8L1049.8 162.2L1053.2 161.2L1066.8 159.8L1071.8 158.8L1094.2 151.2L1098.8 151.8L1147.8 115.8L1147.8 88.2L680.2 88.2Z"/>
<path fill="#e000ff" fill-rule="evenodd" d="M680.2 291.8L684.2 287.8L689.8 280.2L695.2 274.8L702.8 265.8L703.8 263.8L706.8 260.8L707.8 258.8L717.2 248.8L724.8 238.2L727.8 235.2L728.2 233.8L727.8 231.2L718.2 217.8L714.2 210.2L714.8 208.8L755.2 209.2L755.8 208.8L766.8 207.8L767.2 207.2L778.8 206.8L780.2 205.2L782.2 196.2L786.2 193.2L811.8 183.2L823.8 181.8L827.2 180.8L830.2 180.8L833.8 179.8L845.2 178.8L845.8 178.2L850.2 178.2L850.8 177.8L855.8 177.8L856.2 177.2L861.8 177.2L862.2 176.8L902.8 176.2L903.2 175.8L941.2 173.2L941.8 172.8L953.8 171.8L954.2 171.2L957.8 171.2L958.2 170.8L961.8 170.8L962.2 170.2L965.8 170.2L970.2 169.2L978.8 168.8L983.2 167.8L987.2 167.8L987.8 167.2L991.8 167.2L996.2 166.2L1000.2 166.2L1000.8 165.8L1004.2 165.8L1008.8 164.8L1012.8 164.8L1013.2 164.2L1016.8 164.2L1021.2 163.2L1037.2 161.8L1044.2 160.2L1067.8 157.2L1091.8 149.2L1095.2 149.2L1097.2 150.8L1099.2 150.8L1109.2 143.2L1114.2 140.2L1146.8 115.8L1147.8 115.8L1147.8 88.2L680.2 88.2Z"/>
<path fill="#f000ff" fill-rule="evenodd" d="M680.2 291.8L681.2 291.2L690.2 279.2L699.8 269.2L708.8 257.2L715.8 250.2L723.8 239.2L727.8 234.8L727.2 230.8L725.2 228.8L723.2 224.8L720.8 221.8L713.2 209.8L712.8 207.2L713.8 206.2L720.8 206.2L721.2 206.8L754.2 206.8L761.2 205.2L771.8 205.2L772.2 204.8L778.2 204.2L779.2 203.2L780.8 194.8L782.8 190.8L804.2 181.8L815.2 178.8L818.8 178.8L819.2 178.2L822.8 178.2L823.2 177.8L826.8 177.8L827.2 177.2L830.8 177.2L835.2 176.2L839.2 176.2L839.8 175.8L855.2 174.8L855.8 174.2L905.2 173.8L905.8 173.2L911.2 173.2L911.8 172.8L941.8 170.8L942.2 170.2L958.2 168.8L958.8 168.2L962.2 168.2L962.8 167.8L966.2 167.8L970.8 166.8L974.8 166.8L975.2 166.2L979.2 166.2L979.8 165.8L996.8 164.2L1001.2 163.2L1009.8 162.8L1010.2 162.2L1018.2 161.8L1022.8 160.8L1026.8 160.8L1027.2 160.2L1038.8 159.2L1042.2 158.2L1065.8 155.2L1075.2 152.8L1090.8 146.8L1093.2 146.8L1098.2 150.2L1099.2 150.2L1147.8 114.8L1147.8 88.2L680.2 88.2Z"/>
<path fill="#ff00ff" fill-rule="evenodd" d="M680.2 291.8L688.8 281.8L689.8 279.8L699.2 269.8L699.8 268.2L703.2 264.8L703.8 263.2L707.2 259.8L707.8 258.2L714.8 251.2L723.2 239.8L727.8 234.8L727.8 232.2L713.8 211.2L711.2 206.2L711.8 204.2L723.8 204.2L724.2 204.8L738.8 204.2L740.2 204.8L740.8 204.2L752.2 204.2L752.8 203.8L760.2 203.2L760.8 202.8L775.8 202.2L777.2 201.8L778.8 200.2L780.8 188.8L782.8 186.2L806.8 176.8L813.2 175.2L838.2 173.2L838.8 172.8L843.8 172.8L844.2 172.2L855.2 171.8L855.8 171.2L895.2 171.2L895.8 171.8L900.2 171.8L900.8 171.2L906.8 171.2L907.2 170.8L942.2 168.2L942.8 167.8L962.8 165.8L963.2 165.2L966.8 165.2L971.2 164.2L975.2 164.2L975.8 163.8L993.2 162.2L993.8 161.8L1010.8 160.2L1015.2 159.2L1028.2 158.2L1028.8 157.8L1036.2 157.2L1036.8 156.8L1046.8 155.8L1047.2 155.2L1056.8 154.2L1060.2 153.2L1066.8 152.8L1075.2 150.2L1090.2 144.2L1092.8 144.2L1098.2 148.8L1099.8 148.8L1112.8 139.8L1145.8 114.8L1147.8 114.2L1147.8 88.2L680.2 88.2Z"/>
<path fill="#ff00f0" fill-rule="evenodd" d="M680.2 291.2L684.8 286.8L689.8 279.8L698.8 270.2L707.8 258.2L713.8 252.2L719.8 244.8L720.2 243.2L722.8 240.8L723.2 239.2L727.8 234.2L727.2 231.2L712.8 210.2L709.2 203.2L709.8 201.8L746.8 202.2L754.8 200.8L767.8 200.8L768.2 200.2L775.2 199.8L777.8 198.2L779.8 186.8L782.2 183.8L801.2 175.8L810.2 172.8L829.2 171.2L829.8 170.8L835.2 170.8L835.8 170.2L841.2 170.2L841.8 169.8L847.2 169.8L847.8 169.2L853.2 169.2L853.8 168.8L859.8 168.8L860.2 168.2L863.8 168.2L864.2 168.8L894.2 168.8L894.8 169.2L900.8 169.2L901.2 168.8L906.8 168.8L907.2 168.2L937.8 166.2L938.2 165.8L942.8 165.8L943.2 165.2L955.2 164.2L955.8 163.8L959.2 163.8L963.8 162.8L967.8 162.8L972.2 161.8L976.2 161.8L976.8 161.2L980.8 161.2L981.2 160.8L985.2 160.8L985.8 160.2L989.8 160.2L990.2 159.8L994.2 159.8L994.8 159.2L998.8 159.2L999.2 158.8L1003.2 158.8L1007.8 157.8L1011.8 157.8L1012.2 157.2L1037.2 154.8L1037.8 154.2L1064.2 150.8L1071.2 149.2L1087.2 143.2L1089.2 141.8L1089.2 140.8L1086.8 137.8L1086.8 136.2L1087.8 134.2L1090.8 131.2L1093.8 126.2L1119.8 92.2L1121.2 89.8L1121.2 88.2L680.2 88.2Z"/>
<path fill="#ff00e1" fill-rule="evenodd" d="M680.2 291.2L683.8 287.8L689.2 280.2L694.8 274.8L700.2 267.2L703.2 264.2L704.2 262.2L707.2 259.2L708.2 257.2L714.8 250.8L722.8 239.8L727.2 234.8L726.8 230.8L724.8 228.8L722.8 224.8L719.8 221.2L719.2 219.8L717.2 217.8L715.2 213.8L712.8 210.8L707.8 201.2L708.2 199.8L745.8 199.8L746.2 199.2L754.2 198.8L754.8 198.2L768.2 198.2L768.8 197.8L775.2 197.2L777.2 195.2L778.8 185.2L781.2 182.8L799.2 174.2L809.2 170.8L829.8 168.8L830.2 168.2L854.8 166.8L855.2 166.2L905.8 166.2L906.2 165.8L912.2 165.8L912.8 165.2L939.2 163.8L939.8 163.2L952.2 162.2L952.8 161.8L964.8 160.8L969.2 159.8L973.2 159.8L973.8 159.2L977.8 159.2L978.2 158.8L982.2 158.8L982.8 158.2L986.8 158.2L987.2 157.8L991.2 157.8L991.8 157.2L995.8 157.2L996.2 156.8L1017.2 154.8L1017.8 154.2L1021.2 154.2L1025.8 153.2L1033.8 152.8L1034.2 152.2L1037.2 152.2L1037.8 151.8L1040.8 151.8L1041.2 151.2L1044.2 151.2L1047.8 150.2L1050.8 150.2L1051.2 149.8L1054.2 149.8L1054.8 149.2L1069.8 147.2L1079.2 144.2L1086.2 141.2L1086.2 139.2L1085.2 136.8L1086.8 134.2L1089.8 131.2L1092.8 126.2L1118.8 92.2L1120.8 88.2L680.2 88.2Z"/>
<path fill="#ff00d1" fill-rule="evenodd" d="M680.2 291.2L688.8 281.2L689.8 279.2L698.8 269.8L707.8 257.8L714.2 251.2L723.2 238.8L727.2 234.2L726.8 231.2L722.2 224.2L716.8 217.2L709.8 205.2L708.2 203.8L706.2 199.8L706.8 197.2L744.2 197.2L748.2 196.2L762.8 196.2L763.2 195.8L768.2 195.8L768.8 195.2L774.8 194.8L776.2 193.2L777.8 184.8L779.8 182.2L798.8 172.2L809.2 168.8L812.2 168.8L812.8 168.2L815.8 168.2L816.2 167.8L819.2 167.8L826.8 166.2L830.8 166.2L831.2 165.8L850.2 164.8L850.8 164.2L856.2 164.2L856.8 163.8L903.8 163.8L904.2 163.2L940.2 161.2L940.8 160.8L944.8 160.8L949.2 159.8L953.2 159.8L957.8 158.8L961.8 158.8L966.2 157.8L970.2 157.8L970.8 157.2L974.8 157.2L975.2 156.8L979.2 156.8L979.8 156.2L983.8 156.2L984.2 155.8L988.2 155.8L988.8 155.2L992.8 155.2L993.2 154.8L997.2 154.8L997.8 154.2L1001.8 154.2L1002.2 153.8L1033.8 150.2L1034.2 149.8L1044.2 148.8L1044.8 148.2L1057.8 146.8L1058.2 146.2L1065.8 145.8L1080.2 141.8L1084.2 139.8L1084.8 136.2L1090.2 129.8L1093.2 124.8L1119.2 90.8L1119.8 88.2L680.2 88.2Z"/>
<path fill="#ff00c2" fill-rule="evenodd" d="M680.2 291.2L684.8 286.2L685.2 284.8L688.8 281.2L689.2 279.8L698.2 270.2L707.2 258.2L715.8 249.2L722.8 239.2L727.2 234.2L726.8 231.2L724.8 229.2L721.2 223.2L712.2 210.8L709.8 205.8L707.2 202.8L704.2 196.2L705.8 194.8L709.2 194.8L709.8 195.2L737.2 195.2L737.8 194.8L742.8 194.8L743.2 194.2L747.8 194.2L748.2 193.8L764.2 193.8L764.8 193.2L774.2 192.2L775.8 190.2L776.8 183.8L779.8 180.8L798.2 170.2L807.2 167.2L823.8 164.8L824.2 164.2L832.2 163.8L832.8 163.2L838.8 163.2L839.2 162.8L845.2 162.8L845.8 162.2L851.8 162.2L852.2 161.8L858.2 161.8L858.8 161.2L901.2 161.2L901.8 160.8L941.8 158.8L946.2 157.8L950.2 157.8L950.8 157.2L958.8 156.8L963.2 155.8L1003.2 151.8L1007.2 150.8L1034.2 147.8L1034.8 147.2L1037.8 147.2L1038.2 146.8L1047.8 145.8L1054.8 144.2L1066.2 143.2L1076.8 140.8L1082.2 138.8L1085.8 134.8L1118.8 90.8L1119.8 88.2L680.2 88.2Z"/>
<path fill="#ff00b3" fill-rule="evenodd" d="M680.2 290.8L683.8 287.2L689.2 279.8L695.2 273.8L703.8 262.2L706.8 259.2L707.8 257.2L714.2 250.8L723.2 238.2L726.8 234.8L727.2 233.2L726.2 230.8L724.2 228.8L723.8 227.2L716.8 217.8L705.8 200.8L702.8 194.8L703.2 192.8L737.2 192.8L741.8 191.8L764.2 191.2L764.8 190.8L773.2 189.8L774.8 188.2L775.8 183.2L777.2 181.2L794.8 169.8L805.2 165.8L828.2 161.2L853.8 159.8L854.2 159.2L861.2 159.2L861.8 158.8L891.8 158.8L892.2 158.2L907.8 158.2L908.2 157.8L942.8 156.2L943.2 155.8L955.8 154.8L960.2 153.8L964.2 153.8L964.8 153.2L968.8 153.2L969.2 152.8L973.2 152.8L973.8 152.2L977.8 152.2L978.2 151.8L1008.2 148.8L1008.8 148.2L1030.8 145.8L1031.2 145.2L1041.2 144.2L1041.8 143.8L1054.8 142.2L1055.2 141.8L1067.2 140.8L1081.2 137.2L1085.2 134.8L1118.2 90.8L1119.2 88.2L680.2 88.2Z"/>
<path fill="#ff00a4" fill-rule="evenodd" d="M680.2 290.8L688.8 280.8L689.8 278.8L698.8 269.2L699.2 267.8L702.8 264.2L703.2 262.8L706.2 259.8L707.2 257.8L713.8 251.2L722.8 238.8L726.8 234.2L726.8 231.8L724.8 229.8L721.2 223.8L716.8 218.2L713.8 212.8L711.8 210.8L704.8 198.8L703.2 197.2L701.2 193.2L701.2 191.2L702.2 190.2L736.2 190.2L736.8 189.8L741.2 189.8L741.8 189.2L760.2 189.2L760.8 188.8L771.2 187.8L773.8 186.2L775.2 181.8L777.2 179.8L793.2 168.2L797.2 166.2L801.8 165.2L806.8 163.2L808.8 163.2L811.2 162.2L818.2 161.2L825.8 159.2L834.8 158.8L835.2 158.2L841.8 158.2L842.2 157.8L848.8 157.8L849.2 157.2L855.8 157.2L856.2 156.8L864.8 156.8L865.2 156.2L905.8 155.8L906.2 155.2L916.8 155.2L917.2 154.8L943.8 153.8L944.2 153.2L948.2 153.2L952.8 152.2L956.8 152.2L957.2 151.8L961.2 151.8L961.8 151.2L1001.8 147.2L1002.2 146.8L1009.2 146.2L1009.8 145.8L1012.8 145.8L1020.2 144.2L1023.8 144.2L1024.2 143.8L1041.2 141.8L1041.8 141.2L1054.8 139.8L1055.2 139.2L1067.8 138.2L1073.8 136.8L1076.2 136.8L1078.8 135.8L1082.8 135.8L1088.8 129.8L1091.8 124.8L1117.8 90.8L1118.8 88.2L680.2 88.2Z"/>
<path fill="#ff0094" fill-rule="evenodd" d="M680.2 290.8L688.2 281.2L689.2 279.2L695.2 273.2L708.8 255.8L714.2 250.2L722.8 238.2L726.8 233.8L726.8 232.2L716.2 217.8L702.2 196.2L699.2 189.8L699.8 188.2L721.8 188.2L722.2 187.8L734.8 187.8L735.2 187.2L750.8 187.2L751.2 186.8L760.2 186.8L760.8 186.2L770.8 185.2L772.8 184.2L774.2 181.2L777.2 178.2L792.8 166.2L796.8 164.2L808.8 160.8L810.8 160.8L817.2 158.8L829.8 156.2L850.8 155.2L851.2 154.8L857.8 154.8L858.2 154.2L867.2 154.2L867.8 153.8L878.2 153.8L878.8 153.2L902.8 153.2L903.2 152.8L940.2 151.8L940.8 151.2L944.8 151.2L945.2 150.8L949.2 150.8L949.8 150.2L953.8 150.2L954.2 149.8L958.2 149.8L958.8 149.2L962.8 149.2L963.2 148.8L967.2 148.8L967.8 148.2L1002.8 144.8L1003.2 144.2L1010.2 143.8L1010.8 143.2L1034.8 140.2L1038.2 139.2L1044.8 138.8L1048.2 137.8L1065.2 136.2L1065.8 135.8L1069.2 135.8L1076.2 134.2L1083.8 134.8L1087.8 130.2L1090.8 125.2L1116.8 91.2L1118.2 88.2L1107.2 88.2L1106.8 90.2L1103.8 93.2L1102.8 95.2L1099.8 98.2L1098.8 100.2L1095.8 103.2L1094.8 105.2L1091.8 108.2L1082.8 120.2L1079.2 123.8L1078.8 125.2L1074.8 128.8L1073.8 127.8L1073.8 126.8L1074.8 125.2L1075.2 122.8L1081.8 109.2L1085.2 99.8L1088.8 93.2L1090.2 88.2L680.2 88.2Z"/>
<path fill="#ff0085" fill-rule="evenodd" d="M1117.2 88.2L1109.2 88.2L1108.2 91.2L1105.2 94.2L1104.2 96.2L1101.2 99.2L1100.2 101.2L1097.2 104.2L1096.2 106.2L1093.2 109.2L1092.2 111.2L1089.2 114.2L1088.2 116.2L1085.2 119.2L1084.2 121.2L1081.2 124.2L1075.8 131.8L1081.2 133.8L1083.8 133.8L1116.2 90.8ZM680.2 290.2L698.2 269.2L707.2 257.2L713.8 250.8L722.2 238.8L726.2 234.2L726.2 231.8L716.8 218.8L706.2 203.2L704.2 199.2L701.8 196.2L697.8 188.8L697.8 186.2L698.2 185.8L728.8 185.8L729.2 185.2L735.2 185.2L735.8 184.8L756.2 184.8L756.8 184.2L770.2 182.8L771.8 182.2L775.2 178.2L792.8 163.8L799.2 161.2L826.8 154.2L859.2 152.2L859.8 151.8L876.8 151.2L877.2 150.8L897.2 150.8L897.8 150.2L941.2 149.2L941.8 148.8L945.8 148.8L946.2 148.2L950.2 148.2L950.8 147.8L954.8 147.8L955.2 147.2L959.2 147.2L959.8 146.8L963.8 146.8L964.2 146.2L968.2 146.2L968.8 145.8L972.8 145.8L973.2 145.2L977.2 145.2L977.8 144.8L981.8 144.8L986.8 143.8L1000.2 142.8L1000.8 142.2L1017.8 140.2L1021.2 139.2L1034.8 137.8L1035.2 137.2L1051.2 135.2L1051.8 134.8L1072.8 132.8L1074.2 132.2L1074.2 131.8L1070.2 130.2L1067.8 127.8L1067.8 125.2L1071.2 118.2L1075.2 107.8L1078.2 102.2L1083.8 88.2L680.2 88.2Z"/>
<path fill="#ff0076" fill-rule="evenodd" d="M680.2 290.2L684.2 285.8L684.8 284.2L688.2 280.8L688.8 279.2L695.2 272.8L708.2 255.8L714.2 249.8L716.2 246.2L726.2 233.8L726.2 232.2L723.8 229.2L721.2 224.8L719.2 222.8L718.8 221.2L716.8 219.2L713.2 213.2L711.2 211.2L704.2 199.8L701.8 196.8L699.2 191.8L697.8 190.2L695.8 185.8L695.8 184.8L697.8 183.2L728.2 183.2L728.8 182.8L756.2 182.2L756.8 181.8L759.8 181.8L767.8 180.2L771.8 178.2L791.8 160.8L825.8 150.8L844.8 149.8L845.2 149.2L852.8 149.2L853.2 148.8L860.8 148.8L861.2 148.2L868.8 148.2L869.2 147.8L877.2 147.8L877.8 147.2L940.8 146.2L941.2 145.8L945.8 145.8L946.2 145.2L959.8 144.2L960.2 143.8L964.2 143.8L969.2 142.8L973.8 142.8L974.2 142.2L978.2 142.2L983.2 141.2L997.2 140.2L997.8 139.8L1005.2 139.2L1008.8 138.2L1011.8 138.2L1012.2 137.8L1015.2 137.8L1015.8 137.2L1018.8 137.2L1022.2 136.2L1025.2 136.2L1025.8 135.8L1040.8 133.8L1043.8 131.8L1055.8 129.2L1060.2 127.2L1067.8 111.2L1071.8 100.8L1074.8 95.2L1077.2 88.2L680.2 88.2Z"/>
<path fill="#ff0066" fill-rule="evenodd" d="M680.2 289.8L690.2 277.2L695.8 271.8L698.8 267.2L705.8 259.2L706.8 257.2L712.8 251.2L722.2 237.8L725.8 234.2L725.2 231.2L715.8 218.2L713.2 213.8L711.2 211.8L697.2 190.2L693.8 182.8L694.8 181.2L752.2 180.2L752.8 179.8L758.2 179.2L761.8 177.8L766.8 173.2L789.2 156.8L801.2 152.2L802.8 152.2L825.8 144.8L837.8 144.2L838.2 143.8L847.8 143.8L848.2 143.2L857.2 143.2L857.8 142.8L867.2 142.8L867.8 142.2L877.8 142.2L878.2 141.8L942.8 141.8L943.2 141.2L948.2 141.2L948.8 140.8L953.2 140.8L953.8 140.2L958.2 140.2L958.8 139.8L963.8 139.8L964.2 139.2L1003.8 135.8L1004.2 135.2L1038.2 130.8L1039.8 129.8L1043.2 123.2L1046.2 121.2L1047.8 119.2L1047.8 116.8L1048.8 114.8L1048.8 111.8L1049.8 109.8L1049.8 106.8L1050.8 104.8L1050.8 101.8L1051.8 99.8L1051.8 96.8L1052.8 94.8L1052.8 91.8L1053.8 89.8L1053.8 88.2L680.2 88.2Z"/>
<path fill="#ff0057" fill-rule="evenodd" d="M680.2 289.2L683.2 286.2L688.2 279.2L694.2 273.2L698.8 266.8L705.8 258.8L706.8 256.8L712.8 250.8L716.2 245.2L721.2 239.2L721.8 237.8L725.8 233.2L725.2 231.8L723.2 229.8L720.8 225.2L715.2 218.2L714.8 216.8L696.2 189.8L691.8 180.8L693.2 178.8L719.2 178.8L719.8 178.2L736.2 178.2L736.8 177.8L748.8 177.8L751.2 177.2L753.2 176.2L761.8 168.2L787.8 152.2L795.2 148.8L823.8 139.2L828.8 138.2L875.8 136.8L876.2 136.2L880.8 136.2L881.2 136.8L911.8 136.8L912.2 137.2L944.8 137.2L945.2 136.8L956.2 136.2L956.8 135.8L961.8 135.8L962.2 135.2L967.2 135.2L967.8 134.8L972.8 134.8L973.2 134.2L1001.2 132.2L1009.2 130.8L1012.8 130.8L1013.2 130.2L1035.2 127.8L1037.8 125.8L1037.8 123.2L1034.8 121.2L1028.2 119.8L1024.2 116.8L1024.8 108.8L1025.8 106.2L1025.8 100.8L1026.8 98.2L1026.8 92.8L1027.8 90.2L1027.8 88.2L680.2 88.2Z"/>
<path fill="#ff0048" fill-rule="evenodd" d="M680.8 88.2L680.2 88.2L680.2 288.8L686.8 281.2L687.8 279.2L695.2 271.2L705.8 257.2L711.2 251.8L721.2 237.2L724.8 233.2L717.2 221.2L715.2 219.2L712.8 214.8L695.8 190.2L690.8 181.8L689.8 177.8L691.8 176.2L718.8 176.2L719.2 175.8L728.2 175.8L733.2 174.8L733.8 174.2L733.2 171.8L725.2 158.2L727.2 154.2L734.8 146.2L732.2 146.8L730.2 148.2L723.2 150.8L720.2 150.8L718.2 148.8L700.8 122.2L693.2 108.8L686.8 98.8L682.2 89.8Z"/>
</g>
</g>
<polygon points="712.9,173.7 734.9,173.1 751.9,175.9 762,183.6 768.8,191.2 758.6,183.9 748.5,178 731.5,175.9" fill="#ff0a2e"/>
<polyline fill="none" stroke="#262626" stroke-width="1.1" stroke-linejoin="miter" points="684.7,150 684.7,387.8 1009.2,422.2 1141.5,336.6"/>
<line x1="684.7" y1="387.8" x2="678.2" y2="387.1" stroke="#262626" stroke-width="1.1"/>
<text x="670.2" y="393.7" font-size="14.3" text-anchor="end" fill="#262626">-2</text>
<line x1="684.7" y1="328.4" x2="678.2" y2="327.7" stroke="#262626" stroke-width="1.1"/>
<text x="670.2" y="334.3" font-size="14.3" text-anchor="end" fill="#262626">0</text>
<line x1="684.7" y1="268.9" x2="678.2" y2="268.2" stroke="#262626" stroke-width="1.1"/>
<text x="670.2" y="274.8" font-size="14.3" text-anchor="end" fill="#262626">2</text>
<line x1="684.7" y1="209.4" x2="678.2" y2="208.8" stroke="#262626" stroke-width="1.1"/>
<text x="670.2" y="215.4" font-size="14.3" text-anchor="end" fill="#262626">4</text>
<line x1="684.7" y1="150" x2="678.2" y2="149.3" stroke="#262626" stroke-width="1.1"/>
<text x="670.2" y="155.9" font-size="14.3" text-anchor="end" fill="#262626">6</text>
<line x1="684.7" y1="387.8" x2="679.2" y2="391.3" stroke="#262626" stroke-width="1.1"/>
<text x="667.5" y="411.2" font-size="14.3" text-anchor="middle" fill="#262626">4</text>
<line x1="765.8" y1="396.4" x2="760.4" y2="399.9" stroke="#262626" stroke-width="1.1"/>
<text x="748.5" y="419.7" font-size="14.3" text-anchor="middle" fill="#262626">2</text>
<line x1="847" y1="405" x2="841.5" y2="408.5" stroke="#262626" stroke-width="1.1"/>
<text x="830.7" y="428.1" font-size="14.3" text-anchor="middle" fill="#262626">0</text>
<line x1="928.1" y1="413.6" x2="922.6" y2="417.1" stroke="#262626" stroke-width="1.1"/>
<text x="910.3" y="437.5" font-size="14.3" text-anchor="middle" fill="#262626">-2</text>
<line x1="1009.2" y1="422.2" x2="1003.7" y2="425.7" stroke="#262626" stroke-width="1.1"/>
<text x="992" y="446.8" font-size="14.3" text-anchor="middle" fill="#262626">-4</text>
<line x1="1009.2" y1="422.2" x2="1015.7" y2="422.9" stroke="#262626" stroke-width="1.1"/>
<text x="1029.7" y="440.9" font-size="14.3" text-anchor="middle" fill="#262626">-4</text>
<line x1="1042.3" y1="400.8" x2="1048.7" y2="401.5" stroke="#262626" stroke-width="1.1"/>
<text x="1062.7" y="418.3" font-size="14.3" text-anchor="middle" fill="#262626">-2</text>
<line x1="1075.3" y1="379.4" x2="1081.8" y2="380.1" stroke="#262626" stroke-width="1.1"/>
<text x="1093.2" y="396.6" font-size="14.3" text-anchor="middle" fill="#262626">0</text>
<line x1="1108.4" y1="358" x2="1114.9" y2="358.7" stroke="#262626" stroke-width="1.1"/>
<text x="1126.3" y="375.1" font-size="14.3" text-anchor="middle" fill="#262626">2</text>
<line x1="1141.5" y1="336.6" x2="1148" y2="337.3" stroke="#262626" stroke-width="1.1"/>
<text x="1158.8" y="353.4" font-size="14.3" text-anchor="middle" fill="#262626">4</text>
<text x="886.6" y="471.1" font-size="29" text-anchor="middle" font-weight="normal" fill="#111">t</text>
<text x="1087.8" y="460.2" font-size="29" text-anchor="middle" font-weight="normal" fill="#111">x</text>
<text transform="translate(635.3 269.3) rotate(-90) scale(1.08 1)" font-size="29" text-anchor="middle" fill="#262626">U<tspan dy="13" font-size="19.5">76</tspan><tspan dy="-13">(x,t)</tspan></text>
<text x="927" y="25" font-size="30" font-weight="bold" text-anchor="middle" fill="#000">(b<tspan dy="13.5" font-size="23">1</tspan><tspan dy="-13.5">)</tspan></text>
</g>
<g id="c1">
<line x1="1348.7" y1="327" x2="1550.5" y2="409.7" stroke="#000" stroke-opacity="0.14" stroke-width="0.9"/>
<line x1="1412.7" y1="310.7" x2="1614.5" y2="393.4" stroke="#000" stroke-opacity="0.14" stroke-width="0.9"/>
<line x1="1476.6" y1="294.3" x2="1678.4" y2="377" stroke="#000" stroke-opacity="0.14" stroke-width="0.9"/>
<line x1="1540.6" y1="278" x2="1742.4" y2="360.7" stroke="#000" stroke-opacity="0.14" stroke-width="0.9"/>
<line x1="1284.7" y1="343.4" x2="1540.6" y2="278" stroke="#000" stroke-opacity="0.14" stroke-width="0.9"/>
<line x1="1335.2" y1="364.1" x2="1591.1" y2="298.7" stroke="#000" stroke-opacity="0.14" stroke-width="0.9"/>
<line x1="1385.6" y1="384.8" x2="1641.5" y2="319.4" stroke="#000" stroke-opacity="0.14" stroke-width="0.9"/>
<line x1="1436.1" y1="405.4" x2="1692" y2="340" stroke="#000" stroke-opacity="0.14" stroke-width="0.9"/>
<line x1="1348.7" y1="327" x2="1348.7" y2="112.8" stroke="#000" stroke-opacity="0.14" stroke-width="0.9"/>
<line x1="1412.7" y1="310.7" x2="1412.7" y2="96.5" stroke="#000" stroke-opacity="0.14" stroke-width="0.9"/>
<line x1="1476.6" y1="294.3" x2="1476.6" y2="80.1" stroke="#000" stroke-opacity="0.14" stroke-width="0.9"/>
<line x1="1540.6" y1="278" x2="1540.6" y2="63.8" stroke="#000" stroke-opacity="0.14" stroke-width="0.9"/>
<line x1="1284.7" y1="307.7" x2="1540.6" y2="242.3" stroke="#000" stroke-opacity="0.14" stroke-width="0.9"/>
<line x1="1284.7" y1="272" x2="1540.6" y2="206.6" stroke="#000" stroke-opacity="0.14" stroke-width="0.9"/>
<line x1="1284.7" y1="236.3" x2="1540.6" y2="170.9" stroke="#000" stroke-opacity="0.14" stroke-width="0.9"/>
<line x1="1284.7" y1="200.6" x2="1540.6" y2="135.2" stroke="#000" stroke-opacity="0.14" stroke-width="0.9"/>
<line x1="1284.7" y1="164.9" x2="1540.6" y2="99.5" stroke="#000" stroke-opacity="0.14" stroke-width="0.9"/>
<line x1="1284.7" y1="129.2" x2="1540.6" y2="63.8" stroke="#000" stroke-opacity="0.14" stroke-width="0.9"/>
<line x1="1591.1" y1="298.7" x2="1591.1" y2="84.5" stroke="#000" stroke-opacity="0.14" stroke-width="0.9"/>
<line x1="1641.5" y1="319.4" x2="1641.5" y2="105.2" stroke="#000" stroke-opacity="0.14" stroke-width="0.9"/>
<line x1="1692" y1="340" x2="1692" y2="125.8" stroke="#000" stroke-opacity="0.14" stroke-width="0.9"/>
<line x1="1742.4" y1="360.7" x2="1742.4" y2="146.5" stroke="#000" stroke-opacity="0.14" stroke-width="0.9"/>
<line x1="1540.6" y1="242.3" x2="1742.4" y2="325" stroke="#000" stroke-opacity="0.14" stroke-width="0.9"/>
<line x1="1540.6" y1="206.6" x2="1742.4" y2="289.3" stroke="#000" stroke-opacity="0.14" stroke-width="0.9"/>
<line x1="1540.6" y1="170.9" x2="1742.4" y2="253.6" stroke="#000" stroke-opacity="0.14" stroke-width="0.9"/>
<line x1="1540.6" y1="135.2" x2="1742.4" y2="217.9" stroke="#000" stroke-opacity="0.14" stroke-width="0.9"/>
<line x1="1540.6" y1="99.5" x2="1742.4" y2="182.2" stroke="#000" stroke-opacity="0.14" stroke-width="0.9"/>
<line x1="1540.6" y1="63.8" x2="1742.4" y2="146.5" stroke="#000" stroke-opacity="0.14" stroke-width="0.9"/>
<polygon points="1284.7,129.2 1297.5,125.9 1310.3,122.7 1323.1,119.4 1335.9,116.1 1348.7,112.9 1361.5,109.6 1374.3,106.3 1387.1,103.1 1399.9,99.8 1412.7,96.6 1425.4,93.4 1438.2,90.3 1451,87.5 1463.8,85.2 1476.6,84 1489.4,85.3 1502.2,91.4 1515,106.3 1527.8,133.5 1540.6,170.9 1550.7,215.7 1560.8,250.3 1570.9,272.6 1581,286.2 1591.1,294.8 1601.1,301.1 1611.2,306.2 1621.3,310.7 1631.4,315.1 1641.5,319.3 1651.6,323.5 1661.7,327.6 1671.8,331.7 1681.9,335.9 1692,340 1702,344.2 1712.1,348.3 1722.2,352.4 1732.3,356.6 1742.4,360.7 1729.6,364 1716.8,367.2 1704,370.5 1691.2,373.8 1678.4,377 1665.6,380.3 1652.8,383.6 1640,386.8 1627.2,390.1 1614.5,393.3 1601.7,396.5 1588.9,399.6 1576.1,402.4 1563.3,404.7 1550.5,405.9 1537.7,404.6 1524.9,398.5 1512.1,383.6 1499.3,356.4 1486.5,319 1476.4,274.2 1466.3,239.6 1456.2,217.3 1446.1,203.7 1436.1,195.1 1426,188.8 1415.9,183.7 1405.8,179.2 1395.7,174.8 1385.6,170.6 1375.5,166.4 1365.4,162.3 1355.3,158.2 1345.2,154 1335.2,149.9 1325.1,145.7 1315,141.6 1304.9,137.5 1294.8,133.3" fill="url(#c1g)"/>
<polyline fill="none" stroke="#262626" stroke-width="1.1" stroke-linejoin="miter" points="1284.7,129.2 1284.7,343.4 1486.5,426.1 1742.4,360.7"/>
<line x1="1284.7" y1="343.4" x2="1278.7" y2="340.9" stroke="#262626" stroke-width="1.1"/>
<text x="1271.2" y="346.1" font-size="14.3" text-anchor="end" fill="#262626">-1</text>
<line x1="1284.7" y1="307.7" x2="1278.7" y2="305.2" stroke="#262626" stroke-width="1.1"/>
<text x="1271.2" y="310.4" font-size="14.3" text-anchor="end" fill="#262626">0</text>
<line x1="1284.7" y1="272" x2="1278.7" y2="269.5" stroke="#262626" stroke-width="1.1"/>
<text x="1271.2" y="274.7" font-size="14.3" text-anchor="end" fill="#262626">1</text>
<line x1="1284.7" y1="236.3" x2="1278.7" y2="233.8" stroke="#262626" stroke-width="1.1"/>
<text x="1271.2" y="239" font-size="14.3" text-anchor="end" fill="#262626">2</text>
<line x1="1284.7" y1="200.6" x2="1278.7" y2="198.1" stroke="#262626" stroke-width="1.1"/>
<text x="1271.2" y="203.3" font-size="14.3" text-anchor="end" fill="#262626">3</text>
<line x1="1284.7" y1="164.9" x2="1278.7" y2="162.4" stroke="#262626" stroke-width="1.1"/>
<text x="1271.2" y="167.6" font-size="14.3" text-anchor="end" fill="#262626">4</text>
<line x1="1284.7" y1="129.2" x2="1278.7" y2="126.7" stroke="#262626" stroke-width="1.1"/>
<text x="1271.2" y="131.9" font-size="14.3" text-anchor="end" fill="#262626">5</text>
<line x1="1284.7" y1="343.4" x2="1278.4" y2="345" stroke="#262626" stroke-width="1.1"/>
<text x="1267.5" y="362.7" font-size="14.3" text-anchor="middle" fill="#262626">4</text>
<line x1="1335.2" y1="364.1" x2="1328.9" y2="365.7" stroke="#262626" stroke-width="1.1"/>
<text x="1318.8" y="383.2" font-size="14.3" text-anchor="middle" fill="#262626">2</text>
<line x1="1385.6" y1="384.8" x2="1379.3" y2="386.4" stroke="#262626" stroke-width="1.1"/>
<text x="1369.2" y="403.9" font-size="14.3" text-anchor="middle" fill="#262626">0</text>
<line x1="1436.1" y1="405.4" x2="1429.8" y2="407" stroke="#262626" stroke-width="1.1"/>
<text x="1418.6" y="424.8" font-size="14.3" text-anchor="middle" fill="#262626">-2</text>
<line x1="1486.5" y1="426.1" x2="1480.2" y2="427.7" stroke="#262626" stroke-width="1.1"/>
<text x="1468.8" y="444.9" font-size="14.3" text-anchor="middle" fill="#262626">-4</text>
<line x1="1486.5" y1="426.1" x2="1492.5" y2="428.6" stroke="#262626" stroke-width="1.1"/>
<text x="1501.4" y="446.3" font-size="14.3" text-anchor="middle" fill="#262626">4</text>
<line x1="1550.5" y1="409.7" x2="1556.5" y2="412.2" stroke="#262626" stroke-width="1.1"/>
<text x="1565.8" y="430.2" font-size="14.3" text-anchor="middle" fill="#262626">2</text>
<line x1="1614.5" y1="393.4" x2="1620.5" y2="395.9" stroke="#262626" stroke-width="1.1"/>
<text x="1629.8" y="413.7" font-size="14.3" text-anchor="middle" fill="#262626">0</text>
<line x1="1678.4" y1="377" x2="1684.4" y2="379.5" stroke="#262626" stroke-width="1.1"/>
<text x="1696.6" y="398" font-size="14.3" text-anchor="middle" fill="#262626">-2</text>
<line x1="1742.4" y1="360.7" x2="1748.4" y2="363.2" stroke="#262626" stroke-width="1.1"/>
<text x="1760.7" y="381.5" font-size="14.3" text-anchor="middle" fill="#262626">-4</text>
<text x="1392.5" y="462.8" font-size="29" text-anchor="middle" font-weight="normal" fill="#111">x</text>
<text x="1591.5" y="465.8" font-size="29" text-anchor="middle" font-weight="normal" fill="#111">t</text>
<text transform="translate(1237.3 237) rotate(-90) scale(1.08 1)" font-size="29" text-anchor="middle" fill="#262626">U<tspan dy="13" font-size="19.5">76</tspan><tspan dy="-13">(x,t)</tspan></text>
<text x="1540" y="25" font-size="30" font-weight="bold" text-anchor="middle" fill="#000">(c<tspan dy="13.5" font-size="23">1</tspan><tspan dy="-13.5">)</tspan></text>
</g>
<g id="a2">
<rect x="80.3" y="587.5" width="458.6" height="349.9" fill="#3300ff"/>
<polygon points="80.3,587.5 212.3,587.5 211.9,638.6 210.2,690 210.1,701 207.5,736.2 201.4,770 195.4,788.6 186.9,808.1 173.4,827.6 154.7,844.6 125.9,863.2 103.9,871.7 80.3,883.2" fill="#cc00ff"/><polyline points="212.3,587.5 211.9,638.6 210.2,690 210.1,701 207.5,736.2 201.4,770 195.4,788.6 186.9,808.1 173.4,827.6 154.7,844.6 125.9,863.2 103.9,871.7 80.3,883.2" fill="none" stroke="#000" stroke-width="1.0" stroke-linejoin="round"/>
<polygon points="80.3,820.8 104.7,826.8 118.3,844.6 105.6,863.2 80.3,874.2" fill="#ff0099"/><polyline points="80.3,820.8 104.7,826.8 118.3,844.6 105.6,863.2 80.3,874.2" fill="none" stroke="#000" stroke-width="1.0" stroke-linejoin="round"/>
<polygon points="80.3,857 83.5,862 80.3,866" fill="#e00000"/><polyline points="80.3,857 83.5,862 80.3,866 80.3,857" fill="none" stroke="#000" stroke-width="0.5" stroke-linejoin="round"/>
<polygon points="80.3,885.6 112.4,878.5 148,864.1 185.3,845.4 214.1,827.6 241.2,806.4 261.5,788.6 278.5,770 297.2,745.6 305.9,770 311.9,792 317.8,812.4 321.2,818.3 329.7,828.5 345.8,853.9 368.6,873.4 394.1,888.6 419.5,902.2 453.4,917.5 487.3,930.2 504.5,937.4 80.3,937.4" fill="#0066ff"/><polyline points="80.3,885.6 112.4,878.5 148,864.1 185.3,845.4 214.1,827.6 241.2,806.4 261.5,788.6 278.5,770 297.2,745.6 305.9,770 311.9,792 317.8,812.4 321.2,818.3 329.7,828.5 345.8,853.9 368.6,873.4 394.1,888.6 419.5,902.2 453.4,917.5 487.3,930.2 504.5,937.4" fill="none" stroke="#000" stroke-width="1.0" stroke-linejoin="round"/>
<polygon points="80.3,888.1 112.4,882.7 173.4,864.1 215.8,844.6 249.7,825.9 273.4,809.8 297.5,786.1 313.6,826.8 322.9,840.3 329.7,849.7 345.8,874.2 368.6,892 394.1,906.4 419.5,919.2 446.6,937.4 80.3,937.4" fill="#00ffff"/><polyline points="80.3,888.1 112.4,882.7 173.4,864.1 215.8,844.6 249.7,825.9 273.4,809.8 297.5,786.1 313.6,826.8 322.9,840.3 329.7,849.7 345.8,874.2 368.6,892 394.1,906.4 419.5,919.2 446.6,937.4" fill="none" stroke="#000" stroke-width="1.0" stroke-linejoin="round"/>
<polygon points="80.3,890.7 112.4,886.6 178.5,871.7 219.2,858.1 253.1,842.9 273.4,832.7 297.5,816.6 312.7,845.4 322.9,854.7 329.7,864.1 345.8,889.5 368.6,906.4 394.1,921.7 414.4,937.4 80.3,937.4" fill="#00ff66"/><polyline points="80.3,890.7 112.4,886.6 178.5,871.7 219.2,858.1 253.1,842.9 273.4,832.7 297.5,816.6 312.7,845.4 322.9,854.7 329.7,864.1 345.8,889.5 368.6,906.4 394.1,921.7 414.4,937.4" fill="none" stroke="#000" stroke-width="1.0" stroke-linejoin="round"/>
<polygon points="80.3,893.7 112.4,890.7 188.6,881 225.1,875.9 249.7,871.2 273.4,863.2 297.5,847.1 311.9,864.1 322,870 329.7,885.3 345.8,905.6 368.6,925.1 385.6,937.4 80.3,937.4" fill="#33ff00"/><polyline points="80.3,893.7 112.4,890.7 188.6,881 225.1,875.9 249.7,871.2 273.4,863.2 297.5,847.1 311.9,864.1 322,870 329.7,885.3 345.8,905.6 368.6,925.1 385.6,937.4" fill="none" stroke="#000" stroke-width="1.0" stroke-linejoin="round"/>
<polygon points="80.3,896.8 154.7,896.3 205.6,898 248,900.5 273.4,899.2 297.5,886.9 321.2,890.3 326.3,900.5 334.7,914.1 344.9,925.9 356.8,937.4 80.3,937.4" fill="#ccff00"/><polyline points="80.3,896.8 154.7,896.3 205.6,898 248,900.5 273.4,899.2 297.5,886.9 321.2,890.3 326.3,900.5 334.7,914.1 344.9,925.9 356.8,937.4" fill="none" stroke="#000" stroke-width="1.0" stroke-linejoin="round"/>
<polygon points="80.3,903.9 103.9,903.9 129.3,907.3 154.7,913.2 172.5,919.2 178.5,925.9 191.2,937.4 80.3,937.4" fill="#ffa600"/><polyline points="80.3,903.9 103.9,903.9 129.3,907.3 154.7,913.2 172.5,919.2 178.5,925.9 191.2,937.4" fill="none" stroke="#000" stroke-width="1.0" stroke-linejoin="round"/>
<polygon points="80.3,910.7 103.9,915.8 116.6,919.2 117.1,937.4 80.3,937.4" fill="#ff0000"/><polyline points="80.3,910.7 103.9,915.8 116.6,919.2 117.1,937.4" fill="none" stroke="#000" stroke-width="1.0" stroke-linejoin="round"/>
<polygon points="80.3,920 83.5,919.5 80.3,926" fill="#e00000"/><polyline points="80.3,920 83.5,919.5 80.3,926 80.3,920" fill="none" stroke="#000" stroke-width="0.5" stroke-linejoin="round"/>
<rect x="80.3" y="587.5" width="458.6" height="349.9" fill="none" stroke="#262626" stroke-width="0.9"/>
<text x="79.7" y="959.2" font-size="14.0" text-anchor="middle" fill="#262626">-4</text>
<text x="73.8" y="943.7" font-size="14.0" text-anchor="end" fill="#262626">-4</text>
<path d="M137.6 937.4v-4.6 M137.6 587.5v4.6 M80.3 893.7h4.6 M538.9 893.7h-4.6" stroke="#262626" stroke-width="0.9" fill="none"/>
<text x="137" y="959.2" font-size="14.0" text-anchor="middle" fill="#262626">-3</text>
<text x="73.8" y="900" font-size="14.0" text-anchor="end" fill="#262626">-3</text>
<path d="M194.9 937.4v-4.6 M194.9 587.5v4.6 M80.3 849.9h4.6 M538.9 849.9h-4.6" stroke="#262626" stroke-width="0.9" fill="none"/>
<text x="194.3" y="959.2" font-size="14.0" text-anchor="middle" fill="#262626">-2</text>
<text x="73.8" y="856.2" font-size="14.0" text-anchor="end" fill="#262626">-2</text>
<path d="M252.3 937.4v-4.6 M252.3 587.5v4.6 M80.3 806.2h4.6 M538.9 806.2h-4.6" stroke="#262626" stroke-width="0.9" fill="none"/>
<text x="251.7" y="959.2" font-size="14.0" text-anchor="middle" fill="#262626">-1</text>
<text x="73.8" y="812.5" font-size="14.0" text-anchor="end" fill="#262626">-1</text>
<path d="M309.6 937.4v-4.6 M309.6 587.5v4.6 M80.3 762.5h4.6 M538.9 762.5h-4.6" stroke="#262626" stroke-width="0.9" fill="none"/>
<text x="309" y="959.2" font-size="14.0" text-anchor="middle" fill="#262626">0</text>
<text x="73.8" y="768.8" font-size="14.0" text-anchor="end" fill="#262626">0</text>
<path d="M366.9 937.4v-4.6 M366.9 587.5v4.6 M80.3 718.7h4.6 M538.9 718.7h-4.6" stroke="#262626" stroke-width="0.9" fill="none"/>
<text x="366.3" y="959.2" font-size="14.0" text-anchor="middle" fill="#262626">1</text>
<text x="73.8" y="725" font-size="14.0" text-anchor="end" fill="#262626">1</text>
<path d="M424.2 937.4v-4.6 M424.2 587.5v4.6 M80.3 675h4.6 M538.9 675h-4.6" stroke="#262626" stroke-width="0.9" fill="none"/>
<text x="423.6" y="959.2" font-size="14.0" text-anchor="middle" fill="#262626">2</text>
<text x="73.8" y="681.3" font-size="14.0" text-anchor="end" fill="#262626">2</text>
<path d="M481.6 937.4v-4.6 M481.6 587.5v4.6 M80.3 631.2h4.6 M538.9 631.2h-4.6" stroke="#262626" stroke-width="0.9" fill="none"/>
<text x="481" y="959.2" font-size="14.0" text-anchor="middle" fill="#262626">3</text>
<text x="73.8" y="637.5" font-size="14.0" text-anchor="end" fill="#262626">3</text>
<text x="538.3" y="959.2" font-size="14.0" text-anchor="middle" fill="#262626">4</text>
<text x="73.8" y="593.8" font-size="14.0" text-anchor="end" fill="#262626">4</text>
<text x="309" y="995" font-size="29" text-anchor="middle" font-weight="normal" fill="#111">x</text>
<text transform="translate(51.5 762.6) rotate(-90)" font-size="29" text-anchor="middle" fill="#111">t</text>
<text x="304" y="558" font-size="30" font-weight="bold" text-anchor="middle" fill="#000">(a<tspan dy="13.5" font-size="23">2</tspan><tspan dy="-13.5">)</tspan></text>
</g>
<g id="b2">
<rect x="683.3" y="589.8" width="458.3" height="350.6" fill="#ff00ee"/>
<polygon points="683.3,589.8 728.5,589.8 726.8,604.7 723.4,621.7 720,635.3 715.8,645.4 708.1,655.6 703.9,664.1 691.2,674.2 683.3,680" fill="#ff0000"/><polyline points="728.5,589.8 726.8,604.7 723.4,621.7 720,635.3 715.8,645.4 708.1,655.6 703.9,664.1 691.2,674.2 683.3,680" fill="none" stroke="#000" stroke-width="1.0" stroke-linejoin="round"/>
<polygon points="683.3,694.6 712.4,689.2 744.6,682.7 754.7,679.8 778.5,673.4 803.9,669.2 827.6,668.3 852.2,671 875.9,679 900.5,698.5 909.8,719.7 924.2,756.9 948,784.1 958.1,792.7 970,802 992,817.5 1018.6,835 1047.5,851.9 1086.4,871.4 1120.3,885.8 1141.6,896 1141.6,940.4 683.3,940.4" fill="#2200ff"/><polyline points="683.3,694.6 712.4,689.2 744.6,682.7 754.7,679.8 778.5,673.4 803.9,669.2 827.6,668.3 852.2,671 875.9,679 900.5,698.5 909.8,719.7 924.2,756.9 948,784.1 958.1,792.7 970,802 992,817.5 1018.6,835 1047.5,851.9 1086.4,871.4 1120.3,885.8 1141.6,896" fill="none" stroke="#000" stroke-width="1.0" stroke-linejoin="round"/>
<polygon points="683.3,705.8 737.8,704.9 778.5,704.9 827.6,707.8 852.2,711.2 875.9,718.8 900.5,732.4 910.7,763.7 921.7,774.7 939.5,794.2 948,803.7 970,821.5 988.1,835 1010.2,850.3 1044.1,869.7 1086.4,890.9 1120.3,907 1141.6,917.2 1141.6,940.4 683.3,940.4" fill="#00ccff"/><polyline points="683.3,705.8 737.8,704.9 778.5,704.9 827.6,707.8 852.2,711.2 875.9,718.8 900.5,732.4 910.7,763.7 921.7,774.7 939.5,794.2 948,803.7 970,821.5 988.1,835 1010.2,850.3 1044.1,869.7 1086.4,890.9 1120.3,907 1141.6,917.2" fill="none" stroke="#000" stroke-width="1.0" stroke-linejoin="round"/>
<polygon points="683.3,713.7 720.8,719.7 778.5,729.8 827.6,738 875.9,748.5 900.5,756.6 909,773.9 919.2,785.8 924.2,792.7 948,819.8 970,838.5 984.7,850.3 1018.6,872.3 1052.5,890.9 1086.4,908.7 1120.3,923.1 1141.6,932.5 1141.6,940.4 683.3,940.4" fill="#00ff44"/><polyline points="683.3,713.7 720.8,719.7 778.5,729.8 827.6,738 875.9,748.5 900.5,756.6 909,773.9 919.2,785.8 924.2,792.7 948,819.8 970,838.5 984.7,850.3 1018.6,872.3 1052.5,890.9 1086.4,908.7 1120.3,923.1 1141.6,932.5" fill="none" stroke="#000" stroke-width="1.0" stroke-linejoin="round"/>
<polygon points="683.3,721.9 737.8,737.5 778.5,751 827.6,767.1 852.2,772.2 875.9,777.3 900.5,780.7 907.3,792.7 924.2,808.8 948,835.9 970,853.7 967.8,853.6 1001.7,877.4 1035.6,897.7 1069.5,914.7 1103.4,929.9 1123.7,940.4 683.3,940.4" fill="#aaff00"/><polyline points="683.3,721.9 737.8,737.5 778.5,751 827.6,767.1 852.2,772.2 875.9,777.3 900.5,780.7 907.3,792.7 924.2,808.8 948,835.9 970,853.7 967.8,853.6 1001.7,877.4 1035.6,897.7 1069.5,914.7 1103.4,929.9 1123.7,940.4" fill="none" stroke="#000" stroke-width="1.0" stroke-linejoin="round"/>
<polygon points="683.3,732.4 699.7,737.5 708.1,743.4 737.8,756.9 754.7,767.1 766.6,773.9 780.2,782.4 803.9,793.4 827.6,804.1 852.2,813.1 875.9,816.9 900.5,814.4 924.2,829.2 939.5,847.8 970,874.9 996.6,892.6 1022,908.7 1052.5,924.8 1079.7,940.4 683.3,940.4" fill="#ff6600"/><polyline points="683.3,732.4 699.7,737.5 708.1,743.4 737.8,756.9 754.7,767.1 766.6,773.9 780.2,782.4 803.9,793.4 827.6,804.1 852.2,813.1 875.9,816.9 900.5,814.4 924.2,829.2 939.5,847.8 970,874.9 996.6,892.6 1022,908.7 1052.5,924.8 1079.7,940.4" fill="none" stroke="#000" stroke-width="1.0" stroke-linejoin="round"/>
<polygon points="683.3,748.5 693.7,755.3 705.6,772.2 714.1,790.8 714.9,790.2 720.8,805.4 725.1,822.4 728.5,847.8 731,873.2 732.4,898.6 732.7,940.4 683.3,940.4" fill="#ff0000"/><polyline points="683.3,748.5 693.7,755.3 705.6,772.2 714.1,790.8 714.9,790.2 720.8,805.4 725.1,822.4 728.5,847.8 731,873.2 732.4,898.6 732.7,940.4" fill="none" stroke="#000" stroke-width="1.0" stroke-linejoin="round"/>
<rect x="683.3" y="589.8" width="458.3" height="350.6" fill="none" stroke="#262626" stroke-width="0.9"/>
<text x="682.7" y="961.2" font-size="14.0" text-anchor="middle" fill="#262626">-4</text>
<text x="676.8" y="946.7" font-size="14.0" text-anchor="end" fill="#262626">-4</text>
<path d="M740.6 940.4v-4.6 M740.6 589.8v4.6 M683.3 896.6h4.6 M1141.6 896.6h-4.6" stroke="#262626" stroke-width="0.9" fill="none"/>
<text x="740" y="961.2" font-size="14.0" text-anchor="middle" fill="#262626">-3</text>
<text x="676.8" y="902.9" font-size="14.0" text-anchor="end" fill="#262626">-3</text>
<path d="M797.9 940.4v-4.6 M797.9 589.8v4.6 M683.3 852.8h4.6 M1141.6 852.8h-4.6" stroke="#262626" stroke-width="0.9" fill="none"/>
<text x="797.3" y="961.2" font-size="14.0" text-anchor="middle" fill="#262626">-2</text>
<text x="676.8" y="859.1" font-size="14.0" text-anchor="end" fill="#262626">-2</text>
<path d="M855.2 940.4v-4.6 M855.2 589.8v4.6 M683.3 808.9h4.6 M1141.6 808.9h-4.6" stroke="#262626" stroke-width="0.9" fill="none"/>
<text x="854.6" y="961.2" font-size="14.0" text-anchor="middle" fill="#262626">-1</text>
<text x="676.8" y="815.2" font-size="14.0" text-anchor="end" fill="#262626">-1</text>
<path d="M912.4 940.4v-4.6 M912.4 589.8v4.6 M683.3 765.1h4.6 M1141.6 765.1h-4.6" stroke="#262626" stroke-width="0.9" fill="none"/>
<text x="911.8" y="961.2" font-size="14.0" text-anchor="middle" fill="#262626">0</text>
<text x="676.8" y="771.4" font-size="14.0" text-anchor="end" fill="#262626">0</text>
<path d="M969.7 940.4v-4.6 M969.7 589.8v4.6 M683.3 721.3h4.6 M1141.6 721.3h-4.6" stroke="#262626" stroke-width="0.9" fill="none"/>
<text x="969.1" y="961.2" font-size="14.0" text-anchor="middle" fill="#262626">1</text>
<text x="676.8" y="727.6" font-size="14.0" text-anchor="end" fill="#262626">1</text>
<path d="M1027 940.4v-4.6 M1027 589.8v4.6 M683.3 677.4h4.6 M1141.6 677.4h-4.6" stroke="#262626" stroke-width="0.9" fill="none"/>
<text x="1026.4" y="961.2" font-size="14.0" text-anchor="middle" fill="#262626">2</text>
<text x="676.8" y="683.8" font-size="14.0" text-anchor="end" fill="#262626">2</text>
<path d="M1084.3 940.4v-4.6 M1084.3 589.8v4.6 M683.3 633.6h4.6 M1141.6 633.6h-4.6" stroke="#262626" stroke-width="0.9" fill="none"/>
<text x="1083.7" y="961.2" font-size="14.0" text-anchor="middle" fill="#262626">3</text>
<text x="676.8" y="639.9" font-size="14.0" text-anchor="end" fill="#262626">3</text>
<text x="1141" y="961.2" font-size="14.0" text-anchor="middle" fill="#262626">4</text>
<text x="676.8" y="596.1" font-size="14.0" text-anchor="end" fill="#262626">4</text>
<text x="912" y="997.5" font-size="29" text-anchor="middle" font-weight="normal" fill="#111">x</text>
<text transform="translate(654.7 765.9) rotate(-90)" font-size="29" text-anchor="middle" fill="#111">t</text>
<text x="906.5" y="561" font-size="30" font-weight="bold" text-anchor="middle" fill="#000">(b<tspan dy="13.5" font-size="23">2</tspan><tspan dy="-13.5">)</tspan></text>
</g>
<g id="c2">
<rect x="1286.4" y="587.5" width="458.2" height="349.9" fill="#ff0000"/>
<polygon points="1286.4,641.2 1286.4,623.7 1697.2,937.4 1674.3,937.4" fill="#ff8b00"/>
<polygon points="1286.4,623.7 1286.4,613.3 1710.8,937.4 1697.2,937.4" fill="#e8ff00"/>
<polygon points="1286.4,613.3 1286.4,603.9 1723.2,937.4 1710.8,937.4" fill="#5dff00"/>
<polygon points="1286.4,603.9 1286.4,596.2 1733.3,937.4 1723.2,937.4" fill="#00ff2e"/>
<polygon points="1286.4,596.2 1286.4,588.3 1743.6,937.4 1733.3,937.4" fill="#00ffb9"/>
<polygon points="1286.4,588.3 1286.4,587.5 1298.4,587.5 1744.6,928.2 1744.6,937.4 1743.6,937.4" fill="#00b9ff"/>
<polygon points="1298.4,587.5 1308.6,587.5 1744.6,920.4 1744.6,928.2" fill="#002eff"/>
<polygon points="1308.6,587.5 1320.5,587.5 1744.6,911.4 1744.6,920.4" fill="#5d00ff"/>
<polygon points="1320.5,587.5 1335,587.5 1744.6,900.3 1744.6,911.4" fill="#e800ff"/>
<polygon points="1335,587.5 1356.3,587.5 1744.6,884 1744.6,900.3" fill="#ff008b"/>
<line x1="1286.4" y1="641.2" x2="1674.3" y2="937.4" stroke="#000" stroke-width="1.0"/>
<line x1="1286.4" y1="623.7" x2="1697.2" y2="937.4" stroke="#000" stroke-width="1.0"/>
<line x1="1286.4" y1="613.3" x2="1710.8" y2="937.4" stroke="#000" stroke-width="1.0"/>
<line x1="1286.4" y1="603.9" x2="1723.2" y2="937.4" stroke="#000" stroke-width="1.0"/>
<line x1="1286.4" y1="596.2" x2="1733.3" y2="937.4" stroke="#000" stroke-width="1.0"/>
<line x1="1286.4" y1="588.3" x2="1743.6" y2="937.4" stroke="#000" stroke-width="1.0"/>
<line x1="1298.4" y1="587.5" x2="1744.6" y2="928.2" stroke="#000" stroke-width="1.0"/>
<line x1="1308.6" y1="587.5" x2="1744.6" y2="920.4" stroke="#000" stroke-width="1.0"/>
<line x1="1320.5" y1="587.5" x2="1744.6" y2="911.4" stroke="#000" stroke-width="1.0"/>
<line x1="1335" y1="587.5" x2="1744.6" y2="900.3" stroke="#000" stroke-width="1.0"/>
<line x1="1356.3" y1="587.5" x2="1744.6" y2="884" stroke="#000" stroke-width="1.0"/>
<rect x="1286.4" y="587.5" width="458.2" height="349.9" fill="none" stroke="#262626" stroke-width="0.9"/>
<text x="1285.8" y="959.2" font-size="14.0" text-anchor="middle" fill="#262626">-4</text>
<text x="1279.7" y="943.7" font-size="14.0" text-anchor="end" fill="#262626">-4</text>
<path d="M1343.7 937.4v-4.6 M1343.7 587.5v4.6 M1286.4 893.7h4.6 M1744.6 893.7h-4.6" stroke="#262626" stroke-width="0.9" fill="none"/>
<text x="1343.1" y="959.2" font-size="14.0" text-anchor="middle" fill="#262626">-3</text>
<text x="1279.7" y="900" font-size="14.0" text-anchor="end" fill="#262626">-3</text>
<path d="M1401 937.4v-4.6 M1401 587.5v4.6 M1286.4 849.9h4.6 M1744.6 849.9h-4.6" stroke="#262626" stroke-width="0.9" fill="none"/>
<text x="1400.4" y="959.2" font-size="14.0" text-anchor="middle" fill="#262626">-2</text>
<text x="1279.7" y="856.2" font-size="14.0" text-anchor="end" fill="#262626">-2</text>
<path d="M1458.2 937.4v-4.6 M1458.2 587.5v4.6 M1286.4 806.2h4.6 M1744.6 806.2h-4.6" stroke="#262626" stroke-width="0.9" fill="none"/>
<text x="1457.6" y="959.2" font-size="14.0" text-anchor="middle" fill="#262626">-1</text>
<text x="1279.7" y="812.5" font-size="14.0" text-anchor="end" fill="#262626">-1</text>
<path d="M1515.5 937.4v-4.6 M1515.5 587.5v4.6 M1286.4 762.5h4.6 M1744.6 762.5h-4.6" stroke="#262626" stroke-width="0.9" fill="none"/>
<text x="1514.9" y="959.2" font-size="14.0" text-anchor="middle" fill="#262626">0</text>
<text x="1279.7" y="768.8" font-size="14.0" text-anchor="end" fill="#262626">0</text>
<path d="M1572.8 937.4v-4.6 M1572.8 587.5v4.6 M1286.4 718.7h4.6 M1744.6 718.7h-4.6" stroke="#262626" stroke-width="0.9" fill="none"/>
<text x="1572.2" y="959.2" font-size="14.0" text-anchor="middle" fill="#262626">1</text>
<text x="1279.7" y="725" font-size="14.0" text-anchor="end" fill="#262626">1</text>
<path d="M1630 937.4v-4.6 M1630 587.5v4.6 M1286.4 675h4.6 M1744.6 675h-4.6" stroke="#262626" stroke-width="0.9" fill="none"/>
<text x="1629.5" y="959.2" font-size="14.0" text-anchor="middle" fill="#262626">2</text>
<text x="1279.7" y="681.3" font-size="14.0" text-anchor="end" fill="#262626">2</text>
<path d="M1687.3 937.4v-4.6 M1687.3 587.5v4.6 M1286.4 631.2h4.6 M1744.6 631.2h-4.6" stroke="#262626" stroke-width="0.9" fill="none"/>
<text x="1686.7" y="959.2" font-size="14.0" text-anchor="middle" fill="#262626">3</text>
<text x="1279.7" y="637.5" font-size="14.0" text-anchor="end" fill="#262626">3</text>
<text x="1744" y="959.2" font-size="14.0" text-anchor="middle" fill="#262626">4</text>
<text x="1279.7" y="593.8" font-size="14.0" text-anchor="end" fill="#262626">4</text>
<text x="1515.3" y="994.3" font-size="29" text-anchor="middle" font-weight="normal" fill="#111">x</text>
<text transform="translate(1257.7 763) rotate(-90)" font-size="29" text-anchor="middle" fill="#111">t</text>
<text x="1521.2" y="558" font-size="30" font-weight="bold" text-anchor="middle" fill="#000">(c<tspan dy="13.5" font-size="23">2</tspan><tspan dy="-13.5">)</tspan></text>
</g>
</svg>
</body></html>
